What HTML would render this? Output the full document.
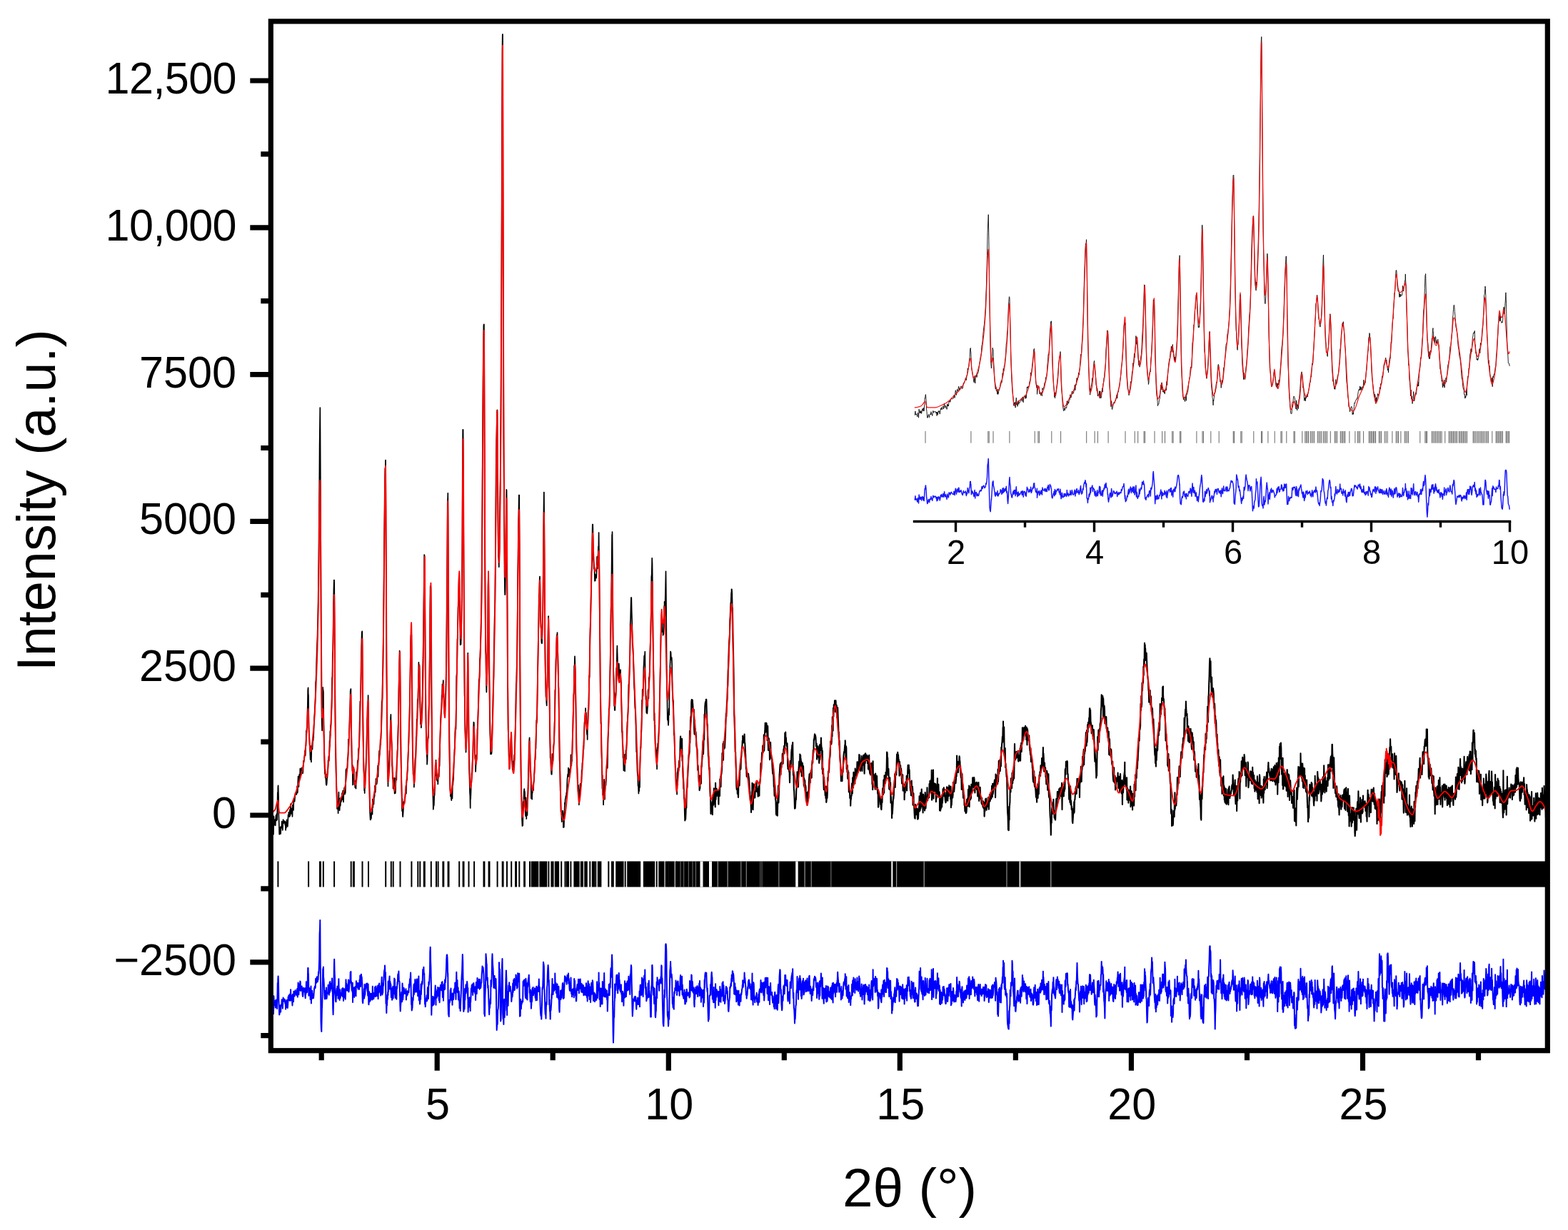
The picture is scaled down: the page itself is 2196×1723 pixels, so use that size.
<!DOCTYPE html>
<html lang="en"><head><meta charset="utf-8"><title>XRD Rietveld refinement plot</title>
<style>html,body{margin:0;padding:0;background:#fff}body{width:2196px;height:1723px;overflow:hidden}svg{display:block}</style></head>
<body>
<svg width="2196" height="1723" viewBox="0 0 2196 1723" role="img" aria-label="Rietveld refinement plot: Intensity (a.u.) versus 2θ (°)">
<rect x="0" y="0" width="2196" height="1723" fill="#fff"/>
<defs>
<clipPath id="cm"><rect x="379.3" y="29.9" width="1788.0000000000002" height="1441.8"/></clipPath>
<clipPath id="ci"><rect x="1279" y="40" width="837" height="692"/></clipPath>
<filter id="soft" x="-2%" y="-2%" width="104%" height="104%"><feGaussianBlur stdDeviation="0.4"/></filter>
</defs>
<g clip-path="url(#cm)" fill="none" stroke-linejoin="round" stroke-linecap="round">
<path id="obs" d="M379.5 1160.5L379.9 1149.2L380.3 1160.1L380.7 1158.1L381.1 1157.5L381.5 1161.7L381.8 1165.6L382.2 1154.1L382.6 1155.7L383 1168.8L383.4 1143.4L383.8 1150.6L384.2 1155.6L384.6 1148.8L385 1154.6L385 1153.2L385.3 1148L385.7 1156.4L386.1 1148.2L386.5 1142.5L386.9 1141.6L387.3 1149.4L387.7 1139.8L388.1 1148.6L388.5 1128.7L388.8 1110L389.2 1110.5L389.3 1103L389.6 1100.3L390 1115.1L390.4 1143.3L390.8 1153.5L391.2 1168.6L391.6 1168.7L391.6 1168.7L392 1161.5L392.3 1158.7L392.7 1165.5L393.1 1168L393.5 1158.6L393.9 1157.6L394.3 1159.6L394.7 1150.7L395.1 1158.1L395.5 1157.4L395.8 1163L396.2 1155.5L396.6 1148L397 1153.2L397.4 1153.2L397.8 1150.7L398.1 1151.3L398.2 1150L398.6 1150.4L399 1150.5L399.3 1155.7L399.7 1152.4L400.1 1163L400.5 1151.5L400.9 1159.8L401.3 1152.2L401.7 1148.3L402.1 1152.7L402.5 1148.8L402.8 1157.9L403.2 1152L403.6 1141.4L404 1144.2L404.4 1137.9L404.6 1144.2L404.8 1143.8L405.2 1144.2L405.6 1138.1L406 1134.2L406.3 1142.9L406.7 1137.1L407.1 1126.1L407.5 1137.1L407.9 1139.8L408.3 1132.5L408.7 1135.8L409.1 1138.1L409.5 1143.9L409.8 1127.7L410.2 1134.7L410.6 1130.1L411 1134.9L411.4 1119.4L411.8 1121L412.2 1118L412.6 1122.7L413 1117.6L413.3 1113.4L413.7 1110.8L414.1 1113L414.5 1113.2L414.9 1112.8L415.3 1112.8L415.7 1111.6L416.1 1101.3L416.5 1102.3L416.8 1110.2L417.2 1097L417.6 1087.7L418 1094L418.4 1102.1L418.8 1090.9L419.2 1084.8L419.6 1087.7L420 1091L420.3 1077.2L420.7 1076.4L421.1 1087.8L421.5 1081.8L421.9 1083.6L422.3 1080.4L422.7 1075.4L423.1 1077.9L423.5 1080.8L423.8 1083.5L424.2 1082.4L424.6 1075.5L425 1065.8L425.4 1067.8L425.8 1066L426.2 1061.2L426.6 1058.7L427 1051.6L427.3 1057.4L427.7 1058.3L428.1 1044.9L428.5 1044.9L428.9 1023.5L429.3 1027.3L429.7 1020L430.1 1018.9L430.5 997.9L430.8 990.5L431.2 966.6L431.6 963.4L431.7 971L432 974.6L432.4 1018.3L432.8 1027.8L433.2 1031.1L433.6 1041.2L434 1049.6L434.3 1054L434.7 1064.2L434.9 1064.2L435.1 1054.8L435.5 1045L435.9 1067.4L436.3 1049L436.7 1047L437.1 1042.1L437.5 1049.7L437.8 1043.8L438.2 1035.9L438.6 1037.3L439 1033L439.4 1025.1L439.8 1014.1L440.2 1004.6L440.6 999.2L441 990L441.3 985.6L441.7 976.3L442.1 955.6L442.5 952.6L442.9 942.6L443.3 926.1L443.7 913.6L444.1 901.8L444.5 893.8L444.8 881.8L445.2 863.4L445.6 845L446 811.4L446.4 781.8L446.8 737L447.2 690.2L447.6 623.8L448 595L448.3 571L448.3 571L448.7 646.5L449.1 729.9L449.5 841.9L449.9 914L450.3 974.4L450.7 1009.7L451 1019.5L451.1 1023.4L451.5 1010.2L451.8 988.9L452.2 962.8L452.3 965.6L452.6 966.6L452.9 969.7L453 988.9L453.4 1010.5L453.8 1032.2L454.2 1057.8L454.6 1075L455 1084.1L455.3 1077.8L455.7 1089.4L456.1 1088.7L456.5 1093.4L456.8 1099.2L456.9 1084.7L457.3 1099.9L457.7 1097.3L458.1 1089.8L458.5 1088.2L458.8 1083.3L459.2 1079.4L459.6 1065.3L460 1066.1L460.4 1059.3L460.8 1065.6L461.2 1055.4L461.6 1037.7L462 1045.2L462.3 1024.2L462.7 1030.7L463.1 1015.6L463.5 1014.6L463.9 998.1L464.3 992.9L464.7 975.8L465.1 950L465.5 947.8L465.8 917.4L466.2 911.7L466.6 888L467 850.7L467.4 827.3L467.8 812.6L468 812.6L468.2 817.4L468.6 870.9L469 923L469.3 989.6L469.7 1027.8L470.1 1056.4L470.5 1079L470.9 1092.1L471.3 1103.5L471.7 1114.5L472.1 1133.1L472.4 1123.9L472.5 1125.6L472.8 1133.2L473.2 1122.8L473.6 1139.3L474 1123.5L474.4 1109.7L474.8 1130.6L475.2 1123.9L475.6 1135.3L476 1128L476.3 1118.4L476.7 1128.9L477.1 1122.2L477.5 1123.6L477.9 1123L478.3 1118.8L478.7 1116.3L479.1 1111L479.5 1112.7L479.8 1120.5L480.2 1107.5L480.6 1107.5L481 1123.6L481.4 1108.6L481.8 1106.1L482.2 1103.4L482.6 1103.8L483 1112.7L483.3 1103.4L483.7 1111L484.1 1095.5L484.5 1078L484.9 1081.9L485.3 1076.5L485.7 1080.2L486.1 1078.7L486.5 1074.3L486.8 1062L487.2 1061.9L487.6 1054L488 1035.5L488.4 1044.6L488.8 1034.1L489.2 1020.4L489.6 1007.9L490 994.8L490.3 988.9L490.7 968L491.1 965.9L491.4 965.1L491.5 982.7L491.9 1010.2L492.3 1039.1L492.7 1063.2L493.1 1070.7L493.5 1079.8L493.8 1071.9L494 1099.5L494.2 1088L494.6 1087.2L495 1074.6L495.3 1076.1L495.4 1076.7L495.8 1078.2L496.2 1099L496.6 1097.7L497 1095.8L497.3 1103.3L497.6 1093.8L497.7 1094L498.1 1099.7L498.5 1104.7L498.9 1081.5L499.3 1085.5L499.7 1082.1L500.1 1080.1L500.5 1075.8L500.8 1065.5L501.2 1065.4L501.6 1063.7L502 1049.8L502.4 1048L502.8 1045.8L503.2 1037L503.6 1013L504 1003.9L504.3 982.5L504.7 984.7L505.1 971.8L505.5 945.9L505.9 918.3L506.3 902.3L506.7 886.4L507.1 884.4L507.3 884.4L507.5 907.7L507.8 954.1L508.2 1003.2L508.6 1036.8L509 1058.4L509.4 1078.4L509.8 1083.6L510.2 1107.5L510.6 1094.4L510.7 1111.1L511 1096.2L511.3 1104L511.7 1088.6L512.1 1082.1L512.5 1070.3L512.9 1057.7L513.3 1047.7L513.7 1028.9L514.1 1009.4L514.5 1003.5L514.8 988.7L515.2 989L515.5 981.3L515.6 974.1L516 1014.4L516.4 1061.2L516.8 1086.4L517.2 1095.9L517.6 1117.3L518 1135.3L518.3 1141.8L518.7 1148.5L519 1148.5L519.1 1140.2L519.5 1141.1L519.9 1146.7L520.3 1137.7L520.7 1139.9L521.1 1139.6L521.5 1140.7L521.8 1119.5L522.2 1131.3L522.6 1124.4L523 1120.9L523.4 1126.7L523.8 1118.6L524.2 1116.1L524.6 1115.4L525 1100.5L525.3 1109.4L525.7 1109.6L526.1 1101.1L526.5 1090.9L526.9 1092.7L527.3 1098.7L527.7 1097.8L528.1 1094.7L528.5 1089.4L528.8 1079.1L529.2 1072.3L529.6 1087.9L530 1069.7L530.4 1072.5L530.8 1057.2L531.2 1051.6L531.6 1058L532 1051.5L532.3 1049.9L532.7 1036.2L533.1 1043.1L533.5 1033.5L533.9 1023.1L534.3 1001.4L534.7 982.3L535.1 983.9L535.5 976.6L535.8 951.7L536.2 939L536.6 906.5L537 882.1L537.4 837.5L537.8 792.8L538.2 747.4L538.6 712.5L539 671.7L539.3 656L539.7 657.4L540 644.5L540.1 663.1L540.5 744L540.9 830.7L541.3 931.1L541.7 971.8L542.1 1016.9L542.5 1042L542.8 1081.2L543.2 1091.6L543.5 1101.5L543.6 1082.1L544 1094.4L544.4 1077.5L544.8 1071.3L545.2 1064L545.6 1051.6L546 1057.9L546.3 1032.9L546.7 1018.4L547.1 1005.2L547.4 1000.9L547.5 1008.9L547.9 1025.9L548.3 1036.8L548.7 1042.6L549.1 1072.1L549.5 1075.4L549.8 1090.4L550.2 1082.6L550.6 1104.7L551 1099.9L551.4 1101.4L551.8 1102.6L552.2 1089.8L552.4 1095.1L552.6 1111.6L553 1090.3L553.3 1109.7L553.7 1111.1L554.1 1104.9L554.5 1089.2L554.9 1081.5L555.3 1092.6L555.7 1068.7L556.1 1065.6L556.5 1051.5L556.8 1050.3L557.2 1032.7L557.6 1019.5L558 1008.8L558.4 968L558.8 952.3L559.2 928.9L559.6 911.7L560 921.2L560.1 918.7L560.3 942.6L560.7 988.8L561.1 1027.6L561.5 1062.2L561.9 1081.6L562.3 1097.5L562.7 1119.9L563.1 1136.2L563.5 1119.1L563.8 1126.9L563.8 1141.1L564.2 1144.2L564.6 1139L565 1131.9L565.4 1124.1L565.8 1122.8L566.2 1123.7L566.6 1125.1L567 1119.1L567.3 1118.6L567.7 1112.2L568.1 1109.2L568.5 1100.8L568.9 1111.7L569.3 1097.1L569.7 1092L570.1 1092.5L570.5 1081L570.8 1080L571.2 1069.5L571.6 1058.2L572 1048.2L572.4 1039.8L572.8 1017.7L573.2 1011.8L573.6 997.5L574 978.5L574.3 959.3L574.7 934.8L575.1 900.1L575.5 889.9L575.9 890.3L576.1 896L576.3 888.7L576.7 936.5L577.1 983.3L577.5 1022.4L577.8 1050.2L578.2 1065.2L578.6 1084.6L579 1085.4L579.4 1085.9L579.8 1087.9L579.8 1102.6L580.2 1097.2L580.6 1092.6L581 1079.7L581.3 1065.6L581.7 1061.3L582.1 1066.5L582.5 1046.1L582.9 1032.4L583.3 1031.6L583.7 1007.6L584.1 1015.8L584.5 995.9L584.8 979.5L585.2 991.8L585.6 973.4L586 955.6L586.4 927.9L586.8 952.3L587.2 932.7L587.5 935.8L587.6 942.1L588 968.6L588.3 989.5L588.7 1002L589.1 1014.7L589.5 1000.1L589.9 1019.5L590.1 1013.2L590.3 1011.3L590.7 1001.1L591.1 987.5L591.5 982.1L591.8 964.4L592.2 933.6L592.6 913.8L593 890L593.4 846.2L593.8 817.5L594.2 777.2L594.6 778.5L594.7 781.7L595 816.3L595.3 870.7L595.7 936.3L596.1 980.4L596.5 1012.4L596.9 1031.8L597.3 1046.8L597.7 1056.7L598.1 1063.2L598.1 1070.7L598.5 1065.7L598.8 1045.3L599.2 1035.4L599.6 1031.5L600 1033.5L600.4 997.2L600.8 986.7L601.2 963.9L601.6 933.2L602 903.7L602.3 854.1L602.7 821.2L603.1 824.5L603.4 821.9L603.5 828.6L603.9 883.9L604.3 983.2L604.7 1014.4L605.1 1049.8L605.5 1087L605.8 1103.6L606.2 1108.8L606.6 1122.8L606.8 1133.8L607 1131.4L607.4 1128.3L607.8 1128.2L608.2 1115.4L608.6 1113.9L609 1102.9L609.3 1089.1L609.7 1071.8L610.1 1073.7L610.5 1086.4L610.5 1064.9L610.9 1080.4L611.3 1078.2L611.7 1092.9L612.1 1090.1L612.5 1094.3L612.8 1094.5L613.2 1086.1L613.3 1098.4L613.6 1091.1L614 1086.2L614.4 1083.9L614.8 1087.9L615.2 1062L615.6 1073.2L616 1054.1L616.3 1036.8L616.7 1020.9L617.1 1008.6L617.5 1000.4L617.9 994.5L618.3 993.1L618.7 974.1L619.1 975.4L619.5 958.5L619.8 974.2L620.2 961.1L620.6 956.5L620.8 953L621 976.2L621.4 971.5L621.8 980.9L622.2 987.9L622.6 1000.2L623 989.8L623.1 1003.3L623.3 990.4L623.7 986.2L624.1 973.1L624.5 958.5L624.9 936L625.3 899.2L625.7 854.2L626.1 803.8L626.5 752.2L626.8 705.5L627.2 696.4L627.3 690.9L627.6 762.1L628 855.5L628.4 929.7L628.8 1004.1L629.2 1036.6L629.6 1063.7L630 1091.8L630.3 1106L630.7 1108.6L630.9 1115.5L631.1 1113.5L631.5 1107.6L631.9 1118.4L632.3 1121.1L632.7 1112.2L633.1 1106.8L633.5 1118.5L633.8 1098.1L634.2 1099.8L634.6 1095L635 1091.7L635.4 1080.3L635.8 1065L636.2 1059.8L636.6 1049.4L637 1048.4L637.3 1026.3L637.7 1019.2L638.1 1018L638.5 1021.6L638.9 985.5L639.3 947.1L639.7 944.9L640.1 931.2L640.5 895.4L640.8 895.4L641.2 870.6L641.6 850.6L642 848.7L642.4 824.2L642.8 807.9L643.2 815L643.3 811.5L643.6 832L644 859.9L644.3 874.9L644.7 903.3L645.1 902.4L645.5 898.2L645.5 902.7L645.9 890.5L646.3 867.2L646.7 841.8L647.1 806.3L647.5 740.7L647.8 666.1L648.2 601.9L648.5 601.9L648.6 602.3L649 690.3L649.4 781.8L649.8 855.1L650.2 916.8L650.6 973.7L651 979.8L651.3 1021.3L651.7 1031.5L652.1 1042.4L652.5 1041.7L652.5 1053.7L652.9 1046.3L653.3 1031.6L653.7 1017.5L654.1 994.9L654.5 970.4L654.8 941.7L655.2 931.1L655.3 914.8L655.6 961.6L656 992.3L656.4 1034.8L656.8 1062.3L657.2 1081.1L657.6 1091.6L658 1110.4L658.3 1114.2L658.7 1131.9L658.8 1116.5L659.1 1119.5L659.5 1109.6L659.9 1094.7L660.3 1096.5L660.7 1082.9L661.1 1083.6L661.5 1070.2L661.8 1063.8L662.2 1065.2L662.6 1039.6L663 1022.3L663.4 1011.6L663.8 1012.4L664.2 1026L664.6 1035.5L665 1048.9L665.3 1063L665.7 1058.8L666.1 1080.9L666.5 1071.1L666.7 1069.7L666.9 1058L667.3 1065L667.7 1063.4L668.1 1042.5L668.5 1021.2L668.8 1022L669.2 1009L669.6 997.7L670 984.6L670.4 965.9L670.8 951.7L671.2 952L671.6 945.9L672 922.2L672.3 922.6L672.7 910.3L673.1 899.2L673.5 883.3L673.9 861.7L674.3 842.7L674.7 800.9L675.1 753L675.5 692.6L675.8 639L676.2 579.5L676.6 524.1L677 483.1L677.4 455.5L677.8 454.3L677.9 454.3L678.2 528.1L678.6 626.2L679 736L679.3 806.1L679.7 869L680.1 912.6L680.5 917.2L680.9 951.2L681.3 967.5L681.4 969.6L681.7 955.1L682.1 952.1L682.5 929L682.8 896.9L683.2 871.9L683.6 821.1L684 805.8L684.4 836.2L684.8 895L685.2 949.8L685.6 974.1L686 1012.7L686.3 1027.9L686.7 1037.1L687.1 1056.4L687.5 1035.7L687.9 1049.1L687.9 1054.6L688.3 1056.1L688.7 1053.3L689.1 1033.3L689.5 1019.1L689.8 1012.1L690.2 994.5L690.6 971.5L691 956.5L691.4 948.5L691.8 910.5L692.2 892.2L692.6 867.6L693 856.2L693.3 840.1L693.7 797.1L694.1 743.1L694.5 685.4L694.9 639.7L695.3 615.5L695.7 598.9L696.1 576.2L696.4 574.3L696.5 578.8L696.8 642.5L697.2 696.2L697.6 750.8L698 779.4L698.4 784L698.8 794.3L699 769.4L699.2 780.3L699.6 768.5L700 728.3L700.3 697.7L700.7 669L701.1 623.2L701.5 561.1L701.9 485.6L702.3 397.3L702.7 283.5L703.1 161.6L703.5 69.3L703.8 48L704 48L704.2 140.2L704.6 306.3L705 468.6L705.4 616.6L705.8 678.9L706.2 733.3L706.6 801.4L707 829.3L707.2 833.1L707.3 833.1L707.5 833.1L707.7 824.5L708.1 792L708.5 754.8L708.9 710.2L709.3 685.8L709.5 686.9L709.7 703.5L710.1 800.4L710.5 852.4L710.8 927.4L711.2 964.7L711.6 1021.3L712 1030.4L712.4 1039.9L712.8 1060.3L713.2 1063.6L713.4 1077.5L713.6 1075.1L714 1073.8L714.3 1062.8L714.7 1056.7L715.1 1049L715.5 1036.7L715.9 1030.7L716 1029.1L716.3 1045.2L716.7 1053.2L717.1 1064.2L717.5 1074.5L717.8 1078.3L718.2 1066.4L718.6 1082L719 1075.5L719.2 1067.9L719.4 1070.6L719.8 1071L720.2 1057.2L720.6 1064.8L721 1052.5L721.3 1034.2L721.7 1019.1L722.1 1003.4L722.5 974.1L722.9 959.2L723.3 954.7L723.7 935.6L724.1 922.2L724.5 883L724.8 858.8L725.2 802.6L725.6 778.9L726 736.8L726.4 719.7L726.8 693.7L727.1 693.7L727.2 693.7L727.6 769L728 874.9L728.3 943.2L728.7 1009L729.1 1035.7L729.5 1080.7L729.9 1106.4L730.3 1116.7L730.7 1137.3L731.1 1148.7L731.4 1155L731.5 1157.1L731.8 1156.7L732.2 1156.5L732.6 1126.5L733 1122.7L733.4 1123.9L733.8 1109.3L734.2 1105.5L734.2 1105.1L734.6 1107.9L735 1109.5L735.3 1118.3L735.7 1137.2L736.1 1143.2L736.5 1117.4L736.9 1124L737.3 1147.1L737.5 1129.5L737.7 1136.8L738.1 1131.8L738.5 1142.1L738.8 1114.1L739.2 1113.3L739.6 1097.9L740 1082.7L740.4 1065.2L740.8 1045.2L741.2 1037.6L741.6 1033.4L741.7 1040.8L742 1040.6L742.3 1059.6L742.7 1080.9L743.1 1075.8L743.5 1088.6L743.9 1118.2L744.3 1117.2L744.7 1109.3L745.1 1119.8L745.5 1103.7L745.7 1111L745.8 1108.2L746.2 1104.3L746.6 1099.3L747 1107.3L747.4 1096.9L747.8 1094.6L748.2 1085.1L748.6 1080.2L749 1066.8L749.3 1064.9L749.7 1063.2L750.1 1049.7L750.5 1048.5L750.9 1028L751.3 1009.1L751.7 1013L752.1 1007.6L752.5 978.7L752.8 960.5L753.2 933.8L753.6 914L754 885.6L754.4 871L754.8 833.4L755.2 830L755.6 813.9L756 807.5L756.2 815.2L756.3 818.1L756.7 845.7L757.1 866.4L757.5 878.6L757.9 881.3L758.3 899.3L758.7 901.1L759 901.3L759.1 899.7L759.5 878.3L759.8 874L760.2 856.9L760.6 822.1L761 765.4L761.4 721.8L761.8 689.6L761.9 689.6L762.2 732.7L762.6 788.4L763 851.6L763.3 908.6L763.7 941.3L764.1 952.1L764.5 975.9L764.9 975L765.3 980.4L765.3 983.6L765.7 988.4L766.1 965.8L766.5 961.7L766.8 943.5L767.2 917.6L767.6 885.9L768 863.4L768.2 863.1L768.4 879L768.8 895.3L769.2 964.1L769.6 984.5L770 1025.3L770.3 1041.4L770.7 1062L771.1 1056.3L771.5 1071.3L771.9 1079.6L772.3 1084.6L772.5 1076.6L772.7 1085L773.1 1075.4L773.5 1056L773.8 1069.7L774.2 1068L774.6 1065.2L775 1045.9L775.4 1043.6L775.8 1040.8L776.2 1031.6L776.6 1013.1L777 1005.2L777.3 966.8L777.7 965.7L778.1 947.5L778.5 925.3L778.9 918.8L779.3 905.3L779.7 890.9L779.9 889.1L780.1 899.8L780.5 886L780.8 905.7L781.2 914.1L781.6 932.2L782 961.5L782.4 963.9L782.8 1002.3L783.2 1039.1L783.6 1064.8L784 1069.9L784.3 1083.8L784.7 1107.4L785.1 1110.6L785.5 1136.4L785.9 1137.6L786.3 1139.1L786.7 1151.3L787.1 1141.8L787.5 1141.1L787.8 1135.8L788.2 1135.8L788.6 1140.6L789 1159.2L789.4 1154.7L789.7 1153L789.8 1158.7L790.2 1146.2L790.6 1135.6L791 1124.3L791.3 1126.5L791.7 1119.6L792.1 1117.9L792.5 1115.2L792.9 1116.2L793.3 1110.3L793.7 1111.9L794.1 1101.5L794.5 1091.5L794.8 1088.4L795.2 1084.5L795.6 1088.1L796 1075.6L796.4 1087.3L796.8 1077.8L797.2 1079.8L797.6 1087.8L798 1087.4L798.3 1076.9L798.7 1081.4L799.1 1078.7L799.5 1057.3L799.9 1072.6L800.3 1072.4L800.7 1063.6L801.1 1066L801.5 1052L801.8 1034L802.2 1027.6L802.6 1005.7L803 990.5L803.4 972.7L803.8 971.3L804.2 932.7L804.6 933.3L805 919.4L805.3 928.1L805.3 929.5L805.7 937.5L806.1 966.6L806.5 992.5L806.9 1027.8L807.3 1049.3L807.7 1058.1L808.1 1068.8L808.5 1076.5L808.8 1091.5L809.2 1096L809.6 1109.1L810 1099.6L810.4 1105.4L810.8 1107.8L810.9 1127.3L811.2 1109.7L811.6 1120L812 1109.4L812.3 1106.9L812.7 1097.8L813.1 1103.6L813.5 1100.1L813.9 1100L814.3 1096.3L814.7 1078.8L815.1 1084.4L815.5 1068.3L815.8 1071L816.2 1067.6L816.6 1051.6L817 1045.1L817.4 1049.9L817.8 1035.1L818.2 1024.9L818.6 1011.5L819 1014L819.3 1005.9L819.7 1000.2L820.1 993.9L820.1 992L820.5 1008.2L820.9 998.4L821.3 1011.8L821.7 1022.4L822.1 1029.1L822.5 1022.7L822.7 1036L822.8 1017.2L823.2 1009.8L823.6 996.7L824 991.5L824.4 994.2L824.8 969.2L825.2 946L825.6 949.1L826 921.7L826.3 893.4L826.7 879.5L827.1 876.8L827.5 849.7L827.9 830.6L828.3 800.8L828.7 799.3L829.1 780.2L829.5 749.9L829.8 734.7L830.1 734.7L830.2 734.7L830.6 752.9L831 783L831.4 787.6L831.8 796.8L832.2 795.1L832.6 799.7L833 814L833.3 805L833.4 804.4L833.7 813.4L834.1 805.2L834.5 810.2L834.9 808.9L835.3 809L835.7 799L836.1 779.9L836.5 793.2L836.8 796.6L837.2 783L837.6 778.3L838 765.5L838.4 765.3L838.6 746L838.8 763.7L839.2 781.2L839.6 836.9L840 876.6L840.3 903.7L840.7 968L841.1 982.1L841.5 1013.6L841.9 1012.3L842.3 1053.4L842.7 1064L843.1 1079.7L843.5 1104.7L843.8 1086.3L844.2 1113.5L844.6 1105.1L845 1122.7L845.1 1127.4L845.4 1114.3L845.8 1113.2L846.2 1091.9L846.6 1118.4L847 1119.7L847.3 1110.8L847.7 1100.5L848.1 1095L848.5 1100.3L848.9 1092.7L849.3 1080.9L849.7 1071L850.1 1076.2L850.5 1063.4L850.8 1075.9L851.2 1053.8L851.6 1033.9L852 1026.6L852.4 1016.7L852.8 992.3L853.2 994.3L853.6 987.8L854 962.5L854.3 941.5L854.7 927.3L855.1 886.6L855.5 856L855.9 847.1L856.3 822.3L856.7 786.8L857.1 748.9L857.5 748.3L857.5 745L857.8 781.2L858.2 839.9L858.6 892.8L859 933.3L859.4 944.6L859.8 953.6L860.2 988.7L860.6 988.1L860.8 994.9L861 973.8L861.3 994.9L861.7 982.2L862.1 970.9L862.5 974L862.9 955.2L863.3 935.4L863.7 936.1L864.1 911L864.4 904.7L864.5 912.5L864.8 921.4L865.2 942.7L865.6 932.1L866 947.6L866.4 935L866.8 929.7L867.2 939.6L867.3 950.5L867.6 940.5L868 948L868.3 950.5L868.7 942.2L869 938L869.1 945.9L869.5 951.2L869.9 955.3L870.3 986.2L870.7 1001L871.1 1025.8L871.5 1024.2L871.8 1041.3L872.2 1043.2L872.6 1061.4L873 1058L873.4 1079.5L873.8 1067.3L874.2 1073.1L874.6 1076.1L875 1056.9L875.1 1080.3L875.3 1069.7L875.7 1067.6L876.1 1059.1L876.5 1050.8L876.9 1063.6L877.3 1048.6L877.7 1041.5L878.1 1022.4L878.5 1011.1L878.8 1011.2L879.2 1002.5L879.6 996.4L880 977.4L880.4 959.2L880.8 957.7L881.2 952.5L881.6 939.3L882 923.9L882.3 915.8L882.7 874.9L883.1 867.5L883.5 850.6L883.9 837.2L884 837.2L884.3 837.2L884.7 856.2L885.1 867.7L885.5 888.6L885.8 902.1L886.2 905.9L886.6 913.4L887 920.9L887.4 937.9L887.8 951.7L888.2 963L888.6 968.2L889 983.5L889.3 991.3L889.7 993.9L890.1 1003.9L890.5 1015.7L890.9 1036.5L891.3 1053.5L891.7 1052.7L892.1 1065.1L892.5 1079.2L892.8 1084.2L893.2 1087.3L893.6 1100.9L894 1100.2L894.4 1111.7L894.7 1105.1L894.8 1107.9L895.2 1108.1L895.6 1087.7L896 1103.1L896.3 1072.7L896.7 1055.4L897.1 1046.3L897.5 1048.2L897.9 1022.8L898.3 1026L898.7 1007.8L899.1 980.6L899.5 980.9L899.8 965.8L900.2 975.4L900.6 974.9L901 957.4L901.4 934.7L901.8 928.9L902.2 918.7L902.6 919.9L902.9 917.8L903 919.7L903.3 912.8L903.7 951.7L904.1 954.8L904.5 979.9L904.9 975L905.3 998.2L905.7 998.4L906.1 994.6L906.2 999.6L906.5 998.3L906.8 991.9L907.2 988.9L907.6 967.8L908 965.5L908.4 978.3L908.8 948.9L909.2 954.4L909.6 946L910 936.8L910.3 916L910.7 901.9L911.1 894.6L911.5 872.4L911.9 858.3L912.3 808.2L912.7 804.9L913.1 788.9L913.2 781.9L913.5 789.3L913.8 814.4L914.2 861.4L914.6 898.9L915 931L915.4 944.7L915.8 975.8L916.2 1008.9L916.6 999.2L917 1018.4L917.3 1015.7L917.7 1041.8L918.1 1046.9L918.5 1050.3L918.9 1064.9L919.3 1061.3L919.7 1050.8L919.7 1055.3L920.1 1077.3L920.5 1047.1L920.8 1049.8L921.2 1041.6L921.6 1042.4L922 1035L922.4 1028.3L922.8 1019.4L923.2 1016.9L923.6 987.9L924 976.9L924.3 956.6L924.7 937L925.1 920.3L925.5 893.3L925.9 884L926.3 862.1L926.7 859.9L926.7 865.1L927.1 884.6L927.5 869.4L927.8 884.3L928.2 885.1L928.6 887.9L928.6 890L929 886.3L929.4 888.1L929.8 877.8L930.2 848.8L930.6 849.4L930.6 842.9L931 861.4L931.3 863.7L931.7 839.7L932.1 823.9L932.5 800.3L932.5 800.3L932.9 832.8L933.3 886.8L933.7 936.4L934.1 971.7L934.5 983.8L934.8 1007.7L935.2 1009.1L935.6 1008.7L936 1016L936.3 1011.5L936.4 999.8L936.8 992.5L937.2 1001.6L937.6 962.5L938 952.1L938.3 934.2L938.7 927L939.1 912.6L939.5 922.5L939.5 913.9L939.9 921.7L940.3 923.9L940.7 921L941.1 929.1L941.5 953.1L941.8 968.4L942.2 970.4L942.6 982.9L943 981.2L943.4 999L943.8 1029.4L944.2 1022L944.6 1036.7L945 1052.9L945.3 1058.8L945.7 1071.8L946.1 1086.2L946.5 1082L946.9 1097.6L947.3 1101.5L947.5 1104.4L947.7 1096.9L948.1 1112.8L948.5 1092.5L948.8 1099L949.2 1081.2" stroke="#000" stroke-width="1.7"/>
<path id="obs2" d="M948.8 1099L949.2 1081.2L949.6 1076.2L950 1077.6L950.4 1079.6L950.8 1069.9L951.2 1065.5L951.6 1074.6L952 1061.4L952.3 1059.2L952.7 1038.7L953.1 1031.6L953.5 1045.8L953.9 1042.2L954.2 1048L954.3 1036.6L954.7 1035.9L955.1 1034.9L955.5 1065.8L955.8 1058.4L956.2 1075.3L956.6 1087.8L957 1092.7L957.4 1104.8L957.8 1105.8L958.2 1119L958.6 1119.1L959 1138.6L959.3 1149.4L959.5 1146.1L959.7 1136.1L960.1 1147.6L960.5 1138.5L960.9 1123.8L961.3 1131.7L961.7 1108.1L962.1 1104.2L962.5 1103L962.8 1091L963.2 1086.6L963.6 1078.4L964 1070.9L964.4 1062.1L964.8 1057.3L965.2 1057L965.6 1052.9L966 1023.9L966.3 1040.6L966.7 1026.4L967.1 1009.1L967.5 1003.6L967.9 1009.6L968.3 983.4L968.7 980L969.1 991.4L969.5 995.6L969.8 980.5L970.2 986.7L970.4 989L970.6 994.7L971 996.3L971.4 994.7L971.8 993.9L972.2 1021L972.6 1028.4L973 1008.8L973.3 1027.3L973.7 1020.7L974.1 1029.5L974.5 1025.2L974.9 1031.3L975.3 1043.5L975.7 1046.7L976.1 1048L976.5 1050.2L976.8 1066.1L977.2 1078.6L977.6 1072.5L978 1079.1L978.4 1085.1L978.8 1095.7L979.2 1087.3L979.6 1107.1L979.9 1099L980 1086.9L980.3 1104.8L980.7 1092.1L981.1 1089.4L981.5 1086.2L981.9 1097.6L982.3 1072.9L982.7 1074.2L983.1 1066.1L983.5 1061.9L983.8 1058.4L984.2 1044.6L984.6 1037.9L985 1056.3L985.4 1041.4L985.8 1029.4L986.2 1036.2L986.6 1000.7L987 1008.6L987.3 990.2L987.7 985.3L988.1 983.1L988.5 986.4L988.7 981.8L988.9 979.8L989.3 979.8L989.7 995.4L990.1 1006.9L990.5 1016.5L990.8 1015.2L991.2 1032.2L991.6 1047.7L992 1059.3L992.4 1059.7L992.8 1071.7L993.2 1077.9L993.6 1075.5L994 1091.9L994.3 1106.6L994.7 1115.4L995.1 1113.7L995.5 1140L995.8 1129.7L995.9 1135.4L996.3 1132.5L996.7 1131.6L997.1 1132.3L997.5 1123.4L997.8 1141.2L998.2 1121.1L998.6 1116.8L999 1127.8L999.4 1126.9L999.8 1104.4L1000.2 1124.3L1000.6 1119.5L1001 1121.7L1001.3 1120L1001.5 1120.1L1001.7 1130.5L1002.1 1096.9L1002.5 1119.9L1002.9 1111.7L1003.3 1115.3L1003.7 1104.9L1004.1 1110.1L1004.5 1107.1L1004.8 1107.1L1005.2 1109.6L1005.6 1115.6L1006 1108.8L1006.4 1126.8L1006.8 1107L1007.2 1106.1L1007.6 1106.2L1008 1115L1008.3 1091.3L1008.7 1102.2L1009.1 1088.2L1009.5 1102.3L1009.9 1085.6L1010.3 1084.9L1010.7 1081.8L1011.1 1077L1011.5 1055L1011.8 1065L1012.2 1058.7L1012.6 1041.9L1013 1064.8L1013.4 1039.1L1013.8 1049.4L1014.2 1047.4L1014.6 1041.7L1015 1047.8L1015.3 1041.1L1015.7 1033.2L1016.1 1023.6L1016.5 1008.3L1016.9 999.3L1017.3 1003.6L1017.7 991L1018.1 982.6L1018.5 978.5L1018.8 965.1L1019.2 960.5L1019.6 940.9L1020 935.5L1020.4 922.1L1020.8 909.2L1021.2 898.9L1021.6 894.4L1022 888.7L1022.3 869.3L1022.7 863.8L1023.1 855.1L1023.5 844.6L1023.9 843.3L1024.3 830.6L1024.7 829.2L1024.7 825.6L1025.1 831.5L1025.5 850.7L1025.8 852.5L1026.2 871.5L1026.6 897.1L1027 913L1027.4 935.2L1027.8 962.3L1028.2 1000.8L1028.6 1005L1029 1020L1029.3 1027.7L1029.7 1053.5L1030.1 1053.3L1030.5 1067.8L1030.9 1078.4L1031.3 1100.4L1031.7 1105.8L1032.1 1097.1L1032.5 1103.5L1032.8 1112L1032.9 1103.4L1033.2 1108.9L1033.6 1111.7L1034 1117L1034.4 1093.5L1034.8 1097.5L1035.2 1089.9L1035.6 1100.5L1036 1086.9L1036.3 1077L1036.7 1078L1037.1 1078L1037.5 1076.5L1037.9 1061.7L1038.3 1060.3L1038.7 1053.8L1039.1 1047.2L1039.5 1044.2L1039.8 1037.6L1040.2 1037.4L1040.2 1030.9L1040.6 1040.9L1041 1040.1L1041.4 1034.1L1041.8 1038.5L1042.2 1039.3L1042.6 1028.6L1043 1041L1043.3 1041.1L1043.7 1049.5L1044.1 1056.8L1044.5 1065.3L1044.9 1076.9L1045.3 1077.2L1045.7 1087.6L1046.1 1081.7L1046.5 1088.4L1046.8 1087.2L1047.2 1083.6L1047.6 1090L1048 1083.7L1048.4 1087L1048.8 1089.6L1049.2 1094.3L1049.6 1102.5L1050 1112.2L1050.3 1109.1L1050.7 1118.4L1051.1 1121.9L1051.5 1120.6L1051.9 1134.1L1052 1138L1052.3 1126.1L1052.7 1115.1L1053.1 1118.7L1053.5 1096.9L1053.8 1132.9L1054.2 1124.5L1054.6 1134.1L1055 1120.9L1055.4 1098.2L1055.8 1098.8L1056.2 1117.4L1056.6 1111.3L1057 1114.2L1057.3 1117.4L1057.7 1108.7L1058.1 1108.9L1058.5 1105.5L1058.9 1104.1L1059.3 1100.9L1059.7 1096.2L1060 1107.5L1060.1 1108.9L1060.5 1107.6L1060.8 1104.8L1061.2 1109.3L1061.6 1115.6L1062 1111.8L1062.4 1102L1062.8 1114.6L1063.2 1099.8L1063.4 1114.7L1063.6 1097.9L1064 1095.3L1064.3 1097.6L1064.7 1091.8L1065.1 1088.6L1065.5 1069.3L1065.9 1080.1L1066.3 1077.2L1066.7 1064.1L1067.1 1054.2L1067.5 1056.1L1067.8 1056.5L1068.2 1044.5L1068.6 1054.3L1069 1051L1069.4 1051L1069.8 1029.4L1070.2 1051.8L1070.6 1041.8L1071 1027.4L1071.3 1023.7L1071.7 1012.7L1072 1020.1L1072.1 1025.8L1072.5 1012.7L1072.9 1013.1L1073.3 1012.8L1073.7 1014.6L1074.1 1020.4L1074.5 1037.3L1074.8 1036.9L1075.2 1017.1L1075.6 1034.2L1076 1050.9L1076.4 1039.1L1076.8 1034.4L1077.2 1040.6L1077.6 1045.1L1078 1064.2L1078.3 1048.1L1078.7 1051.3L1079.1 1039.7L1079.5 1054.3L1079.9 1057L1080.3 1062.5L1080.7 1062.8L1081.1 1062.8L1081.5 1071.8L1081.8 1077.8L1082.2 1083.7L1082.6 1076.9L1083 1084.4L1083.4 1088.6L1083.8 1102.3L1084.2 1101.8L1084.6 1114.6L1085 1098.1L1085.3 1101.1L1085.7 1111.7L1086.1 1120.5L1086.5 1121L1086.9 1139.8L1087.3 1141.6L1087.7 1124L1087.8 1140.1L1088.1 1131.9L1088.5 1134.1L1088.8 1142.8L1089.2 1125.6L1089.6 1109.3L1090 1100.6L1090.4 1124.5L1090.8 1112.9L1091.2 1101.4L1091.6 1085.7L1092 1080.3L1092.3 1074.2L1092.7 1070.4L1093.1 1083.3L1093.5 1085L1093.9 1068.4L1094.3 1075.1L1094.7 1070.6L1095.1 1071L1095.5 1068.5L1095.8 1055.8L1096.2 1067.2L1096.6 1069.7L1097 1058.7L1097.4 1049.5L1097.8 1049.3L1098.2 1044.7L1098.6 1055.3L1099 1043.9L1099.3 1026.7L1099.7 1034.5L1100.1 1038.2L1100.2 1025.5L1100.5 1039.9L1100.9 1033.2L1101.3 1041.7L1101.7 1045.3L1102.1 1045.6L1102.5 1041.2L1102.8 1052.7L1103.2 1072.2L1103.6 1077.3L1104 1074.8L1104.4 1076.9L1104.8 1073.4L1105.2 1081L1105.6 1081.5L1106 1096.3L1106.3 1082.8L1106.3 1077.9L1106.7 1065.8L1107.1 1067.7L1107.5 1066.8L1107.9 1070.1L1108.3 1054.9L1108.7 1049.8L1109.1 1048.2L1109.2 1045.5L1109.5 1043.5L1109.8 1047.5L1110.2 1040.1L1110.6 1072.3L1111 1085.9L1111.4 1081.4L1111.8 1104.6L1112.2 1108.3L1112.6 1118.1L1113 1132.7L1113.3 1126.6L1113.6 1128.7L1113.7 1132.1L1114.1 1126.2L1114.5 1118.6L1114.9 1120.1L1115.3 1105.7L1115.7 1102.5L1115.9 1101.3L1116.1 1102.3L1116.5 1081.4L1116.8 1088.8L1117.2 1099.1L1117.6 1081.9L1118 1102.5L1118.4 1079L1118.8 1073.5L1119.2 1066.6L1119.6 1073.4L1120 1078L1120.3 1056.5L1120.7 1060.8L1121.1 1057.7L1121.5 1069.2L1121.6 1062.9L1121.9 1081.7L1122.3 1066.2L1122.7 1087.5L1123.1 1081.4L1123.5 1086.7L1123.8 1068.9L1124.2 1072.3L1124.6 1085.4L1125 1073.1L1125.4 1083.3L1125.8 1100.5L1126.2 1090.1L1126.6 1102.8L1127 1092.5L1127.3 1094.4L1127.7 1107.2L1128.1 1100.1L1128.5 1102.7L1128.9 1121.6L1129.3 1114L1129.7 1121.6L1130.1 1124.6L1130.5 1110.1L1130.5 1127.9L1130.8 1124.3L1131.2 1120.3L1131.6 1112.9L1132 1108.3L1132.4 1118L1132.8 1096.7L1133.2 1089.4L1133.6 1084.2L1134 1094.4L1134.3 1095.8L1134.7 1096.4L1135.1 1082.2L1135.5 1082.3L1135.9 1079.4L1136.3 1080.8L1136.7 1089.6L1137.1 1071.5L1137.5 1067L1137.8 1064.7L1138.2 1068.7L1138.6 1056L1139 1050.7L1139.4 1053.6L1139.8 1035.6L1140.2 1036.6L1140.6 1032.1L1141 1028.4L1141.2 1033.3L1141.3 1032.5L1141.7 1029.6L1142.1 1030.9L1142.5 1033.5L1142.9 1045.5L1143.3 1041.7L1143.7 1041.8L1144.1 1063.6L1144.5 1057.9L1144.8 1056.6L1145.2 1057.8L1145.6 1045.2L1146 1050.6L1146.4 1060.9L1146.8 1060.3L1147.2 1068.9L1147.6 1063.8L1148 1043.4L1148.3 1063.9L1148.7 1043.2L1149.1 1051.3L1149.2 1047L1149.5 1044.6L1149.9 1033.6L1150.3 1045L1150.7 1047.5L1151.1 1048.1L1151.5 1077.7L1151.8 1051.6L1152.2 1083.9L1152.6 1082L1153 1076.7L1153.4 1096.8L1153.8 1106.1L1154.2 1088.9L1154.6 1104.8L1155 1099.4L1155.3 1106.3L1155.7 1114.3L1156.1 1102L1156.5 1118.3L1156.9 1101.5L1157.2 1123.6L1157.3 1124L1157.7 1120.3L1158.1 1110.9L1158.5 1118L1158.8 1110.6L1159.2 1089.4L1159.6 1093.7L1160 1080.6L1160.4 1080.7L1160.8 1082.2L1161.2 1077.9L1161.6 1065.2L1162 1061.1L1162.3 1061.1L1162.7 1057.4L1163.1 1038.6L1163.5 1038.7L1163.9 1041.3L1164.3 1042.6L1164.7 1039.2L1165.1 1016.3L1165.5 1031.4L1165.8 1004.2L1166.2 1021.9L1166.6 1023.4L1167 991.8L1167.4 1003.7L1167.8 987L1168.2 991.5L1168.6 993.3L1169 981.4L1169.3 988.7L1169.7 981.8L1169.8 985.3L1170.1 997.2L1170.5 981.4L1170.9 990.1L1171.3 989.5L1171.7 988.1L1172.1 1005.3L1172.5 993.9L1172.8 997.4L1173.2 991.2L1173.6 1003.9L1174 1012.1L1174.4 1024.5L1174.8 1025.7L1175.2 1043.4L1175.6 1037.5L1176 1050.6L1176.3 1060.4L1176.7 1065.7L1177.1 1070L1177.5 1078L1177.9 1094.2L1178.3 1078.5L1178.7 1089.9L1178.8 1087.7L1179.1 1089.4L1179.5 1094.1L1179.8 1081.4L1180.2 1082.3L1180.6 1081.2L1181 1069.2L1181.4 1059.7L1181.8 1055.4L1182.2 1052.7L1182.6 1053.3L1183 1046.9L1183.3 1043.4L1183.5 1053.5L1183.7 1037.3L1184.1 1045.7L1184.5 1060.8L1184.9 1045.3L1185.3 1047.6L1185.7 1077.2L1186.1 1073L1186.5 1081.5L1186.8 1072.1L1187.2 1090.7L1187.6 1079L1188 1083L1188.4 1081.7L1188.8 1109.5L1189.2 1106.7L1189.6 1108.7L1190 1106.1L1190.3 1118L1190.7 1116.3L1191.1 1119.3L1191.2 1128.7L1191.5 1121L1191.9 1119.7L1192.3 1114.6L1192.7 1114.4L1193.1 1097.4L1193.5 1097.2L1193.8 1111.4L1194.2 1089.3L1194.6 1097.8L1195 1103.6L1195.4 1081.9L1195.8 1090.1L1196.2 1085.9L1196.6 1088.1L1197 1085.8L1197.3 1097.6L1197.7 1076.5L1198.1 1086.4L1198.5 1079.4L1198.9 1079.2L1199.3 1085.3L1199.7 1087L1200.1 1078.3L1200.5 1067.4L1200.8 1082.1L1201.2 1081.8L1201.6 1076.6L1202 1081.7L1202.4 1067.1L1202.8 1073.2L1203.2 1057L1203.6 1073.8L1204 1057.7L1204.3 1078.2L1204.7 1071L1205.1 1080L1205.5 1074L1205.9 1072.8L1206.3 1065.2L1206.7 1059.1L1207.1 1071.2L1207.5 1079.9L1207.8 1068.6L1208.2 1069.5L1208.6 1071.5L1209 1060.6L1209.4 1057.7L1209.8 1070.9L1210.2 1070.1L1210.6 1083.7L1211 1068L1211.3 1056.2L1211.7 1069.3L1212.1 1055.3L1212.5 1057.3L1212.9 1058.2L1213.3 1058.8L1213.7 1065.1L1214.1 1057.7L1214.5 1058.5L1214.8 1065L1215 1069.1L1215.2 1060.1L1215.6 1059.8L1216 1077.5L1216.4 1067.4L1216.8 1074.5L1217.2 1057.8L1217.6 1078.7L1218 1081.1L1218.3 1083.6L1218.7 1069.9L1219.1 1085.5L1219.5 1073L1219.9 1082.7L1220.3 1069.5L1220.7 1068.8L1221.1 1073.3L1221.5 1098.3L1221.8 1095.7L1222.2 1106.3L1222.6 1066.4L1223 1092.1L1223.4 1091.6L1223.8 1088.9L1224.2 1085.4L1224.6 1093.5L1225 1091.6L1225.3 1093.7L1225.7 1105.6L1226.1 1083.6L1226.5 1086.2L1226.9 1101.3L1227.3 1104.2L1227.7 1090.2L1228.1 1087.1L1228.5 1106.5L1228.8 1103.1L1229.2 1111.8L1229.6 1107.1L1230 1130.7L1230.4 1129.9L1230.8 1110.9L1231.2 1117.8L1231.6 1115.3L1232 1119.8L1232.3 1117.7L1232.7 1122.2L1233.1 1127L1233.5 1123.6L1233.9 1132.6L1234.3 1116.6L1234.4 1134.3L1234.7 1128.8L1235.1 1116.9L1235.5 1124.3L1235.8 1111.2L1236.2 1104.3L1236.6 1106.6L1237 1113.3L1237.4 1092.6L1237.8 1101.6L1238.2 1110.8L1238.6 1086.3L1239 1098.9L1239.3 1093.6L1239.7 1089L1240.1 1096.8L1240.5 1081.7L1240.9 1093.2L1241.3 1085.4L1241.7 1075.1L1242.1 1053.6L1242.5 1059.8L1242.6 1054.6L1242.8 1066.8L1243.2 1061.4L1243.6 1086.1L1244 1076.9L1244.4 1077L1244.8 1089.7L1245.2 1104.8L1245.6 1105.7L1246 1091.3L1246.3 1089.2L1246.7 1106.8L1247.1 1096.5L1247.5 1124.6L1247.9 1115.8L1248.3 1124.1L1248.7 1123.1L1249.1 1145.9L1249.3 1127.4L1249.5 1134.5L1249.8 1140L1250.2 1132.8L1250.6 1125.7L1251 1115.9L1251.4 1118.9L1251.8 1113.6L1252.2 1101.4L1252.6 1098.1L1253 1090.3L1253.3 1084L1253.7 1103L1254.1 1086.7L1254.5 1081.4L1254.9 1079.9L1255.3 1085.4L1255.7 1068L1256.1 1056.5L1256.5 1067.4L1256.8 1068.8L1257.2 1053.9L1257.6 1058.3L1257.9 1057.6L1258 1057.3L1258.4 1064.4L1258.8 1064L1259.2 1073.2L1259.6 1086.8L1260 1067L1260.3 1076L1260.7 1081.3L1261.1 1072.1L1261.5 1085.2L1261.9 1076.2L1262.3 1079.1L1262.7 1088.7L1263.1 1097.5L1263.5 1085.5L1263.9 1089.3L1264.2 1085.3L1264.6 1107.6L1265 1098.7L1265.4 1097.9L1265.8 1098.6L1266.2 1101.3L1266.4 1100L1266.6 1120.3L1267 1103.8L1267.4 1105.2L1267.7 1110.4L1268.1 1095.5L1268.5 1097.5L1268.9 1101.7L1269.3 1101.9L1269.7 1086.9L1270.1 1107.4L1270.5 1086.3L1270.9 1092.5L1271.2 1081.1L1271.6 1071.7L1272 1073.4L1272.2 1082.9L1272.4 1072.1L1272.8 1071.7L1273.2 1081.7L1273.6 1078.4L1274 1094.6L1274.4 1094.4L1274.7 1102.7L1275.1 1107.3L1275.5 1106.1L1275.9 1114.1L1276.3 1110.3L1276.7 1093.5L1277.1 1106.4L1277.5 1115L1277.9 1101.7L1278.2 1105.9L1278.6 1127.8L1279 1127.5L1279.4 1111.2L1279.8 1127.1L1280.2 1129.7L1280.6 1138.5L1281 1145.9L1281.4 1130.3L1281.7 1146.8L1281.7 1136.9L1282.1 1126.7L1282.5 1136.5L1282.9 1141.2L1283.3 1133.2L1283.7 1132.4L1284.1 1139.2L1284.5 1132.6L1284.9 1143.7L1285.2 1147.6L1285.6 1137.7L1286 1146.8L1286.4 1137.4L1286.8 1132.7L1287.2 1129.5L1287.6 1115.4L1288 1136.5L1288.4 1132.1L1288.4 1131.4L1288.7 1135.1L1289.1 1110.6L1289.5 1132.3L1289.9 1127.6L1290.3 1126.7L1290.7 1105.6L1291.1 1126.8L1291.5 1129.8L1291.9 1113.2L1292.2 1127.6L1292.6 1138.5L1293 1112.6L1293.4 1114L1293.8 1132.8L1294.2 1131.6L1294.6 1122.6L1295 1130.5L1295 1135.5L1295.4 1133.5L1295.7 1110L1296.1 1115.5L1296.5 1132.1L1296.9 1124L1297.3 1120.8L1297.7 1122.9L1298.1 1119.1L1298.5 1103.4L1298.9 1121.1L1299.2 1120.9L1299.6 1114.1L1300 1118.2L1300.4 1115.3L1300.8 1114.1L1301.2 1117.2L1301.6 1098.1L1302 1111.4L1302.4 1093.9L1302.7 1109.7L1303.1 1108.8L1303.5 1098.2L1303.9 1101.3L1304.3 1091.6L1304.6 1092.5L1304.7 1078.9L1305.1 1120.8L1305.5 1105.4L1305.9 1097.5L1306.2 1099.3L1306.6 1098.7L1307 1078.6L1307.4 1118.8L1307.8 1096.8L1308.2 1105.6L1308.6 1105.2L1309 1097.9L1309.4 1108.1L1309.7 1101.9L1310.1 1098.1L1310.5 1098.8L1310.9 1123.2L1311.3 1113L1311.7 1117.8L1312.1 1113.3L1312.5 1108.4L1312.9 1090.2L1313.2 1112.5L1313.6 1110.5L1314 1110.6L1314.4 1098.7L1314.8 1116.9L1315.2 1110.5L1315.6 1109.3L1316 1113L1316 1135.4L1316.4 1130.8L1316.7 1115.6L1317.1 1135.6L1317.5 1123L1317.9 1132.9L1318.3 1116.7L1318.7 1119.4L1319.1 1130.5L1319.5 1119L1319.9 1124.7L1320.2 1120L1320.6 1105.2L1321 1113L1321.4 1112.7L1321.8 1103.4L1322.2 1115.3L1322.6 1105.9L1323 1113.5L1323.4 1114.7L1323.7 1119.7L1324.1 1123.2L1324.5 1124.3L1324.9 1122.8L1325.3 1110.4L1325.5 1110.4L1325.7 1119.6L1326.1 1102.2L1326.5 1116.6L1326.9 1114.2L1327.2 1121.8L1327.6 1117.3L1328 1103.4L1328.4 1106.8L1328.8 1115.3L1329.2 1100.4L1329.6 1110.9L1330 1109.8L1330.4 1102.1L1330.7 1107L1331.1 1113.5L1331.3 1119.6L1331.5 1101.5L1331.9 1131.2L1332.3 1118.1L1332.7 1127.7L1333.1 1119L1333.5 1107.8L1333.9 1117.2L1334.2 1117.4L1334.6 1113.3L1335 1095.7L1335.4 1098.3L1335.8 1104.9L1336.2 1109L1336.6 1104L1337 1095L1337.4 1096.5L1337.7 1092.6L1338.1 1097.2L1338.5 1097.2L1338.9 1092.8L1339.3 1080.1L1339.7 1087.6L1340.1 1058.5L1340.5 1072.8L1340.9 1070.7L1341.2 1066.7L1341.6 1081.9L1342 1082.1L1342.4 1074.1L1342.8 1067.2L1343.2 1067.6L1343.6 1059.2L1344 1061.8L1344 1065.5L1344.4 1066.1L1344.7 1075.1L1345.1 1073L1345.5 1085.1L1345.9 1089.5L1346.3 1082L1346.7 1106L1347.1 1084.9L1347.5 1084.3L1347.9 1105.7L1348.2 1098.4L1348.6 1105.5L1349 1117.8L1349.4 1110.8L1349.8 1113.4L1350.2 1113.5L1350.6 1127.9L1351 1127.6L1351.4 1136.4L1351.7 1125.6L1352.1 1135.5L1352.5 1127.8L1352.6 1139.1L1352.9 1131.8L1353.3 1138.7L1353.7 1136.1L1354.1 1119.9L1354.5 1128.7L1354.9 1126.3L1355.2 1118.3L1355.6 1129.1L1356 1105.9L1356.4 1126.1L1356.8 1121.9L1357.2 1100.5L1357.6 1130.3L1358 1101.7L1358.4 1111.5L1358.7 1109.3L1359.1 1120.3L1359.5 1109L1359.9 1118.6L1360.3 1098.7L1360.7 1106.6L1361.1 1107.7L1361.5 1104.3L1361.9 1099.9L1362.2 1089.4L1362.6 1093.1L1363 1101.3L1363.4 1101.8L1363.8 1103.1L1364.2 1089L1364.6 1092.1L1365 1105.5L1365.4 1110.5L1365.7 1099.1L1366.1 1104.3L1366.5 1096.5L1366.9 1102.6L1367.3 1099.6L1367.7 1097L1367.9 1095.7L1368.1 1106.2L1368.5 1099.3L1368.9 1110L1369.2 1115.5L1369.6 1104.6L1370 1097.3L1370.4 1096.1L1370.8 1108.3L1371.2 1122L1371.6 1106.5L1372 1111.4L1372.4 1105.6L1372.7 1102.9L1373.1 1115.8L1373.5 1119.1L1373.9 1117.9L1374.3 1121.7L1374.7 1125.7L1375.1 1117.8L1375.5 1126.9L1375.9 1124.9L1376.2 1126.8L1376.6 1130.4L1377 1122.2L1377.4 1132L1377.8 1130.2L1378.2 1124.3L1378.4 1132.6L1378.6 1143.6L1379 1136.4L1379.4 1136.6L1379.7 1127.7L1380.1 1119.2L1380.5 1130.1L1380.9 1131.9L1381.3 1118.6L1381.7 1134.8L1382.1 1126.5L1382.5 1124.8L1382.9 1128.8L1383.2 1130L1383.6 1127.3L1384 1117L1384.4 1124.6L1384.8 1133.7L1385.2 1126.4L1385.6 1120.5L1386 1113L1386.4 1119.2L1386.7 1122.3L1387.1 1110.8L1387.5 1112.3L1387.9 1115.4L1388.3 1119L1388.7 1110.4L1389.1 1100.9L1389.5 1114.2L1389.9 1116.2L1390.2 1097.8L1390.6 1112.4L1391 1109.5L1391.4 1100.1L1391.8 1099.9L1392.2 1097.1L1392.6 1095.8L1393 1092.5L1393.4 1096.9L1393.7 1102L1394.1 1117.1L1394.5 1084.6L1394.9 1087.6L1395.3 1088.2L1395.7 1092.4L1396.1 1098.2L1396.5 1086.4L1396.9 1089.4L1397.2 1098.1L1397.6 1077.6L1398 1094.9L1398.4 1085.1L1398.8 1065.8L1399.2 1083.8L1399.6 1073.9L1400 1064.9L1400.4 1071.2L1400.7 1080.2L1401.1 1070.8L1401.5 1064.9L1401.9 1073.5L1402.3 1046.8L1402.7 1051.1L1403.1 1042.4L1403.5 1039.3L1403.9 1031.7L1404.1 1033.4L1404.2 1039.8L1404.6 1018.9L1405 1022.7L1405 1010.6L1405.4 1033.4L1405.8 1027.8L1406.2 1018.6L1406.6 1053.6L1407 1059.5L1407.4 1054.5L1407.7 1048.1L1408.1 1075.1L1408.5 1069.2L1408.9 1075.2L1409.3 1083.5L1409.7 1088.5L1410.1 1086.6L1410.5 1107L1410.9 1131.6L1411.2 1138.9L1411.6 1144L1412 1162.6L1412.1 1158.4L1412.4 1157.2L1412.8 1163.1L1413.2 1129.8L1413.6 1148.6L1413.6 1134L1414 1128L1414.4 1123.4L1414.7 1102.5L1415.1 1106.4L1415.5 1109.5L1415.9 1090.4L1416.3 1092.5L1416.7 1102.5L1417.1 1104L1417.5 1082.8L1417.9 1088.8L1418.2 1097.3L1418.6 1079.4L1419 1093L1419.4 1085L1419.8 1083.8L1420.2 1090.6L1420.6 1066.9L1421 1042L1421.4 1062L1421.7 1061.3L1422.1 1064.3L1422.5 1060.8L1422.9 1056.6L1423.3 1053.1L1423.7 1061.6L1424.1 1057.4L1424.5 1059.8L1424.9 1054.5L1425.2 1052.4L1425.6 1052.2L1426 1065.5L1426.4 1066.6L1426.8 1057.8L1427.2 1065.5L1427.6 1064.7L1428 1058.5L1428.4 1057.7L1428.7 1048.1L1429.1 1065.8L1429.5 1044.2L1429.9 1053.5L1430.3 1040.9L1430.7 1052.9L1431.1 1040.2L1431.5 1040.9L1431.9 1019.2L1432.2 1038.5L1432.6 1020.3L1433 1034.6L1433.4 1036.5L1433.8 1024.9L1434.2 1019L1434.6 1028.1L1435 1023.1L1435.4 1026.1L1435.7 1028.5L1436.1 1016.9L1436.5 1027.6L1436.9 1020.4L1437.3 1036.2L1437.7 1028.1L1437.8 1018.8L1438.1 1029.8L1438.5 1043.4L1438.9 1021L1439.2 1023.4L1439.6 1031.8L1440 1030.6L1440.4 1036.4L1440.8 1033.2L1441.2 1030.2L1441.6 1039.3L1442 1045.4L1442.4 1051.4L1442.7 1051.6L1443.1 1057.2L1443.5 1048.2L1443.9 1067.1L1444.3 1066L1444.7 1061.2L1445.1 1064L1445.5 1067.7L1445.9 1076.2L1446.2 1074.5L1446.6 1090.8L1447 1094.7L1447.4 1095.7L1447.8 1085.4L1448.2 1080.3L1448.6 1097.4L1449 1101.3L1449.4 1102.2L1449.7 1088.6L1450.1 1104.5L1450.5 1108.5L1450.9 1116.7L1451.3 1110.5L1451.7 1105.7L1451.7 1115.5L1452.1 1123.7L1452.5 1106.1L1452.9 1115.2L1453.2 1098.4L1453.6 1118L1454 1107.2L1454.4 1100.1L1454.8 1112.2L1455.2 1093.6L1455.6 1085.9L1456 1088.5L1456.4 1081.2L1456.7 1080.9L1457.1 1086.9L1457.5 1072.3L1457.9 1081.9L1458.3 1075.9L1458.7 1076.4L1459.1 1062L1459.5 1066.9L1459.9 1063L1460.2 1073.2L1460.6 1056.7L1460.9 1047L1461 1072.4L1461.4 1055.2L1461.8 1062.4L1462.2 1080.7L1462.6 1075.1L1463 1068.5L1463.4 1079.5L1463.7 1079.3L1464.1 1075.4L1464.5 1088.4L1464.9 1080.4L1465.3 1098.5L1465.7 1096.8L1466.1 1079.7L1466.5 1081.7L1466.9 1086.2L1467.2 1106.7L1467.6 1097.8L1468 1104.5L1468.4 1084.2L1468.8 1112.9L1469.2 1116.6L1469.6 1117.5L1470 1118.4L1470.4 1135.4L1470.7 1143.4L1471.1 1147.7L1471.5 1156.1L1471.8 1169.8L1471.9 1168.4L1472.3 1144.3L1472.7 1152.8L1473.1 1133.3L1473.5 1131L1473.9 1129.8L1474.2 1135.9L1474.6 1123.7L1475 1140L1475.4 1119.8L1475.8 1134.1L1476.2 1135.2L1476.5 1143.7L1476.6 1145.7L1477 1143.4L1477.4 1145.5L1477.7 1147.8L1478.1 1148.6L1478.5 1137.2L1478.9 1127.5L1479.3 1119.1L1479.7 1125.8L1480.1 1129.7L1480.5 1120.9L1480.9 1109.1L1481.2 1118.6L1481.6 1109L1482 1111.6L1482.4 1111.9L1482.8 1116.1L1483.2 1105.2L1483.6 1117.1L1484 1118.4L1484.4 1108L1484.7 1103.5L1485.1 1104.5L1485.5 1105.8L1485.9 1115.3L1486.3 1114.2L1486.7 1104.4L1487.1 1096.8L1487.5 1134.1L1487.9 1102.7L1488.2 1109.8L1488.6 1110.9L1489 1115.1L1489.4 1112.7L1489.8 1115.4L1490.2 1101.6L1490.6 1108.8L1491 1099.2L1491.4 1105.4L1491.7 1078.8L1492.1 1076.8L1492.5 1085.1L1492.9 1066.7L1493.3 1069.8L1493.7 1072.6L1494.1 1067.3L1494.5 1066.1L1494.9 1067.4L1495.2 1084.4L1495.6 1084L1496 1093.6L1496.4 1098L1496.8 1098.8L1497.2 1119.8L1497.6 1113.9L1498 1100.2L1498.4 1124L1498.7 1121.5L1499.1 1101.6L1499.5 1127.1L1499.9 1121.2L1500.3 1124.3L1500.7 1133.9L1501.1 1129.7L1501.5 1135.3L1501.9 1151.3L1502.2 1133L1502.3 1153.1L1502.6 1148.8L1503 1142.7L1503.4 1134.8L1503.8 1139.5L1504.2 1123.3L1504.6 1138L1505 1120.5L1505.4 1120.4L1505.7 1116.1L1506.1 1108.6L1506.5 1103.7L1506.9 1109.4L1507.3 1101.4L1507.7 1112L1508.1 1101.9L1508.5 1090.8L1508.9 1103.2L1509.2 1100L1509.6 1097.6L1510 1091L1510.4 1094.3L1510.8 1098.2L1511.2 1104.3L1511.6 1093.5L1512 1117L1512.4 1089.4L1512.7 1097L1513.1 1084L1513.5 1087.3L1513.9 1073.8L1514.3 1087L1514.7 1095L1515.1 1076.6L1515.5 1078.1L1515.9 1072.4L1516.2 1059.7L1516.6 1073.5L1517 1058.3L1517.4 1053.9L1517.8 1049.7L1518.2 1071.2L1518.6 1051.7L1519 1055.9L1519.4 1050L1519.7 1052.4L1520.1 1046.5L1520.5 1034.4L1520.9 1026.1L1521.3 1031.9L1521.7 1044.7L1522.1 1022.7L1522.5 1039.6L1522.9 1030L1523.2 1015.1L1523.6 1025.5L1524 1011.7L1524.4 1016L1524.8 1019.5L1525.2 1005.6L1525.6 1009.3L1526 992.4L1526.1 992.4L1526.4 992.4L1526.7 1014.6L1527.1 994.6L1527.5 1010.6L1527.9 1012.7L1528.3 1018.4L1528.7 1027.1L1529.1 1024.1L1529.5 1020L1529.9 1016.2L1530.2 1025.2L1530.6 1030.4L1531 1035.3L1531.4 1035.4L1531.8 1022L1532.2 1032.2L1532.6 1039.6L1533 1059.4L1533.4 1066.7L1533.7 1054.7L1534.1 1062.6L1534.5 1065.3L1534.9 1076.6L1535.2 1084L1535.3 1089.7L1535.7 1081.9L1536.1 1086.6L1536.5 1057.5L1536.9 1047.3L1537.2 1032L1537.6 1050.8L1538 1042.5L1538.4 1022.8L1538.8 1022.6L1539.2 1039.6L1539.6 1028.1L1540 1020.7L1540.4 1023.1L1540.7 1014.2L1541.1 1012.4L1541.5 1010.8L1541.9 995.4L1542.3 990.7L1542.7 973.3L1543.1 988.9L1543.2 977.3L1543.5 979.5L1543.9 976.7L1544.2 974.7L1544.6 977.3L1545 1004.2L1545.2 978.3L1545.4 985.3L1545.8 988.5L1546.2 994.3L1546.6 988.9L1547 994.5L1547.4 1013.5L1547.7 1006L1548.1 1004.4L1548.5 1007.2L1548.9 1010.1L1549.3 1004L1549.7 1020.4L1550.1 1020.1L1550.5 1024.9L1550.9 1020.1L1551.2 1019.5L1551.6 1033.5L1552 1026.4L1552.4 1037.2L1552.8 1024.7L1553.2 1057.1L1553.6 1042.1L1554 1035.4L1554.4 1050L1554.7 1058.1L1555.1 1058.3L1555.5 1049.1L1555.9 1060.3L1556.3 1050L1556.7 1060.9L1557.1 1068.9L1557.5 1071.3L1557.9 1067.5L1558.2 1066.7L1558.6 1084.9L1559 1091.4L1559.4 1094.4L1559.8 1083.9L1560.2 1075.4L1560.6 1096.1L1561 1087.8L1561.4 1097.3L1561.7 1087L1562.1 1106.5L1562.5 1089.5L1562.9 1104.4L1563.3 1100.2L1563.7 1090.2L1564.1 1094.6L1564.5 1093.2L1564.9 1088.7L1565.2 1092L1565.6 1082.5L1566 1089.7L1566.4 1104L1566.8 1099L1567.1 1104.2L1567.2 1104.4L1567.6 1087.9L1568 1109.8L1568.4 1094.2L1568.7 1093.2L1569.1 1084.1L1569.5 1106.9L1569.9 1105.5L1570.3 1105.7L1570.7 1111.5L1571.1 1094.4L1571.5 1092.9L1571.9 1126.9L1572.2 1109.7L1572.6 1095.5L1573 1110.4L1573.4 1103.4L1573.8 1092.4L1574.2 1087.3L1574.6 1083.9L1575 1080.7L1575.3 1067.7L1575.4 1098.4L1575.7 1085.9L1576.1 1095.5L1576.5 1089.8L1576.9 1100.9L1577.3 1098.2L1577.7 1105.6L1578.1 1089.3L1578.5 1120.4L1578.9 1114.6L1579.2 1104.1L1579.6 1114.8L1580 1110.8L1580.4 1124.7L1580.8 1106.5L1581.2 1113.5L1581.6 1108.1L1582 1120.5L1582.4 1118.1L1582.7 1121.3L1583.1 1101.5L1583.5 1130.3L1583.9 1113.5L1584.3 1115.8L1584.7 1108.3L1585.1 1117.1L1585.5 1128.3L1585.9 1116L1586.1 1134.5L1586.2 1111.8L1586.6 1121.1L1587 1125.6L1587.4 1122.4L1587.8 1112L1588.2 1128.6L1588.6 1098.7L1589 1116L1589.4 1094.9L1589.7 1102.9L1590.1 1085.2L1590.5 1107.3L1590.9 1086.2L1591.3 1089.7L1591.7 1089.9L1592.1 1073L1592.5 1076.9L1592.9 1075.8L1593.2 1066.1L1593.6 1065.2L1594 1055.2L1594.4 1048.3L1594.8 1033.8L1595.2 1038L1595.6 1037.7L1596 1019.1L1596.4 1022.2L1596.7 1020.9L1597.1 1016.6L1597.5 985.9L1597.9 995.2L1598.3 974.9L1598.7 990.4L1599.1 985.3L1599.5 956.7L1599.9 967.4L1600.2 961.2L1600.6 955.8L1601 956.6L1601.4 933.6L1601.8 945.9L1602.2 923.5L1602.6 932.9L1603 900.9L1603.4 909.2L1603.7 903.6L1603.7 925.2L1604.1 908L1604.5 917.3L1604.9 921.6L1605.3 924.7L1605.7 914.9L1606.1 925.8L1606.5 934.9L1606.9 940.7L1607.2 946.1L1607.6 950.4L1608 953.3L1608.4 965.5L1608.8 968.3L1609.2 983.6L1609.6 969.6L1610 968.2L1610.4 980.1L1610.7 967.1L1611.1 987L1611.5 982.4L1611.9 975.4L1612.3 985.5L1612.7 996.9L1613.1 990.7L1613.5 1000.6L1613.9 992.2L1614.2 999.5L1614.6 1012.6L1615 1011.7L1615.4 1007.3L1615.8 1018.1L1616.2 1026.4L1616.6 1041.3L1617 1050.7L1617.4 1057.9L1617.7 1048.1L1618.1 1069.1L1618.5 1058.6L1618.5 1049.5L1618.9 1073.6L1619.3 1057.3L1619.7 1065L1620.1 1053.7L1620.5 1043.8L1620.9 1051.6L1621.2 1049.9L1621.6 1038L1622 1028.7L1622.4 1029.5L1622.8 1030.1L1623.2 1012.7L1623.6 1023.9L1624 1023.1L1624.4 1006.8L1624.7 986.1L1625.1 1004.1L1625.5 996.7L1625.9 1000.4L1626.3 993L1626.7 993.3L1627.1 977.7L1627.5 981.7L1627.9 979.2L1628.2 962.4L1628.6 980.8L1629 961.6L1629 972.3L1629.4 981.3L1629.8 979L1630.2 987.5L1630.6 990.1L1631 1002.2L1631.4 992.4L1631.7 1006.4L1632.1 1012.4L1632.5 1037.5L1632.9 1035.8L1633.3 1028L1633.7 1037.2L1634.1 1046L1634.5 1050.6L1634.9 1044.7L1635.2 1072.4L1635.6 1066.9L1636 1074.2L1636.4 1056.1L1636.8 1079.7L1637.2 1073.5L1637.6 1063.9L1638 1082.3L1638.4 1083.5L1638.7 1093.5L1639.1 1098L1639.5 1097.1L1639.9 1137.4L1640.3 1139.9L1640.7 1135L1641 1134.3L1641.1 1156.9L1641.5 1145.1L1641.9 1148.7L1642.2 1144.5L1642.6 1156.3L1643 1153.6L1643.4 1135.9L1643.8 1136.4L1644.2 1135.5L1644.6 1144.3L1645 1122.3L1645.2 1135.2L1645.4 1110.4L1645.7 1133.3L1646.1 1126.2L1646.5 1120.3L1646.9 1126.4L1647.3 1128.4L1647.7 1121.2L1648.1 1112.7L1648.5 1113.3L1648.9 1089.1L1649.2 1106.5L1649.6 1092.4L1650 1088.7L1650.4 1090.5L1650.8 1097.4L1651.2 1080.7L1651.6 1073.4L1652 1076.1L1652.4 1073.6L1652.7 1088.2L1653.1 1076L1653.5 1065.6L1653.9 1060L1654.3 1053.2L1654.7 1059.9L1655.1 1053.8L1655.5 1061.6L1655.9 1045.6L1656.2 1042.2L1656.6 1046.1L1657 1033.8L1657.4 1040.5L1657.8 1037.6L1658.2 1030.7L1658.6 1005.8L1659 1028.9L1659.4 1006.6L1659.7 1003.9L1660.1 993.7L1660.5 1002.5L1660.9 982.5L1660.9 984L1661.3 993.3L1661.7 998.9L1662.1 1000.7L1662.5 1000L1662.9 1027.2L1663 1006.9L1663.2 1026L1663.6 1021.1L1664 1038.2L1664.4 1017.3L1664.8 1032.5L1665.2 1020.5L1665.6 1040.1L1666 1039.7L1666.4 1024.2L1666.7 1026.7L1667.1 1028.9L1667.5 1020.7L1667.9 1027L1668.3 1033L1668.7 1045.9L1669.1 1049.6L1669.5 1026.2L1669.9 1028.1L1670.2 1042.1L1670.6 1032.6L1671 1041.7L1671.4 1043.2L1671.8 1039.3L1672.2 1064.4L1672.6 1052.5L1673 1055.2L1673.4 1065.1L1673.7 1066.2L1674.1 1080.8L1674.5 1073.6L1674.9 1072.8L1675.3 1074.3L1675.7 1088.7L1676.1 1078.1L1676.5 1083.6L1676.9 1081.5L1677.2 1088.1L1677.6 1083.1L1678 1087.4L1678.4 1070L1678.8 1094.7L1679.2 1086.1L1679.6 1100.8L1680 1119.9L1680.4 1112L1680.7 1114.8L1681.1 1126.6L1681.5 1131.8L1681.8 1146.7L1681.9 1137.7L1682.3 1148.7L1682.7 1115.5L1683.1 1107.9L1683.5 1119.1L1683.9 1103.8L1684.2 1102.1L1684.6 1090.6L1685 1081.7L1685.4 1082.2L1685.8 1071.2L1686.2 1057.2L1686.6 1060.1L1687 1047.1L1687.4 1049.9L1687.7 1043.2L1688.1 1050.2L1688.5 1027.8L1688.9 1041L1689.3 1031L1689.7 1035L1690.1 1016L1690.5 1024.5L1690.9 1006.3L1691.2 989.8L1691.6 997L1692 1011.6L1692.4 976.3L1692.8 973.1L1693.2 957.9L1693.6 947.4L1694 929.9L1694.4 922.4L1694.7 927L1694.8 937.5L1695.1 928.6L1695.5 926.3L1695.9 956L1696.3 948.1L1696.7 972.8L1696.7 948.6L1697.1 948.9L1697.5 962L1697.9 976.2L1698.2 968.4L1698.6 965.6L1699 964.2L1699.4 967.8L1699.8 972.3L1700.2 991.8L1700.6 987.1L1701 985.4L1701.4 992.5L1701.7 1013.1L1702.1 1002.5L1702.5 1011.5L1702.9 1008.5L1703.3 1012.3L1703.7 1032.2L1704.1 1031.5L1704.5 1028.9L1704.9 1044.4L1705.2 1041.2L1705.6 1053.6L1706 1058.1L1706.4 1050.2L1706.8 1064.2L1707.2 1073L1707.6 1060.1L1708 1080.7L1708.4 1082.8L1708.7 1086.4L1709.1 1064.2L1709.5 1087.8L1709.9 1088.3L1710.3 1100.9L1710.7 1092.1L1711.1 1090.9L1711.5 1112L1711.9 1099.1L1712.2 1089.6L1712.6 1089.2L1713 1104L1713.4 1087.2L1713.8 1114.5L1714.2 1100.4L1714.6 1105.8L1714.8 1120.4L1715 1102.9L1715.4 1123.8L1715.7 1119.1L1716.1 1114.8L1716.5 1125.2L1716.9 1104.7L1717.3 1119.4L1717.7 1126.6L1718.1 1113.3L1718.5 1115.4L1718.9 1124.7L1719.2 1119.4L1719.6 1106.1L1720 1106.2L1720.4 1127.3L1720.8 1104L1721.2 1103.6L1721.6 1101.6L1722 1115.8L1722.4 1117.9L1722.7 1111L1723.1 1115.1L1723.5 1110.3L1723.9 1112L1724.3 1107.6L1724.7 1108L1725.1 1101.7L1725.5 1099.4L1725.9 1102.5L1726.2 1104.9L1726.6 1085.6L1727 1092.7L1727.4 1098.4L1727.8 1113.1L1728.2 1101.7L1728.6 1111.6L1729 1107L1729.4 1112.3L1729.7 1092.5L1730.1 1116.4L1730.5 1126.1L1730.9 1106.1L1731.3 1104.3L1731.7 1101L1732.1 1136.1L1732.5 1118.6L1732.9 1115.6L1733.2 1121.5L1733.6 1103.2L1734 1096.4L1734.4 1090.7L1734.8 1090.6L1735.2 1097.2L1735.6 1081L1736 1091.5L1736.4 1118.7L1736.7 1093.4L1737.1 1095.7L1737.5 1083.3L1737.9 1088.5L1738.3 1085.2L1738.7 1066.3L1739.1 1083.8L1739.5 1086.4L1739.9 1067.6L1740.2 1060.7L1740.6 1065.6L1741 1063.2L1741.1 1068.8L1741.4 1076.1L1741.8 1071.8L1742.2 1076.7L1742.6 1057L1743 1074L1743 1059.2L1743.4 1076.6L1743.7 1086.3L1744.1 1077.2L1744.5 1078.4L1744.9 1068.2L1745.3 1101.5L1745.7 1086L1746.1 1077.8L1746.5 1089L1746.9 1080.3L1747.2 1084.3L1747.6 1067.5L1748 1069.6L1748.4 1103.2L1748.8 1099.1L1749.2 1092.8L1749.6 1086.8L1750 1088.7L1750.4 1093.1L1750.7 1082.6L1751.1 1080.3L1751.5 1088.1L1751.9 1092.1L1752.3 1088.6L1752.7 1097.3L1753.1 1080.6L1753.5 1080.6L1753.9 1098.5L1754.2 1074.9L1754.6 1090.6L1755 1082.4L1755.4 1091.5L1755.8 1094.2L1756.2 1086.1L1756.6 1104.2L1757 1097.9L1757.4 1108.7L1757.7 1092.7L1758.1 1101.2L1758.5 1103.3L1758.9 1106.5L1759.3 1095.5L1759.7 1100.4L1760.1 1106.3L1760.5 1109.7L1760.9 1087.4L1761.2 1091.3L1761.6 1119.2L1762 1096.2L1762.4 1104L1762.8 1107L1763.2 1106.3L1763.6 1125.2L1764 1085.3L1764.4 1089.1L1764.7 1109.3L1765.1 1108.7L1765.5 1106.4L1765.9 1114.1L1766.3 1100.9L1766.7 1106.7L1766.7 1117.7L1767.1 1112.1L1767.5 1114.3L1767.9 1114.5L1768.2 1112.1L1768.6 1102.1L1769 1112.8L1769.4 1124.6L1769.8 1091.4L1770.2 1111L1770.6 1088.1L1771 1098.6L1771.4 1093.5L1771.7 1106.2L1772.1 1094.8L1772.5 1098.3L1772.9 1093.8L1773.3 1087.2L1773.7 1095.3L1774.1 1081.7L1774.5 1104.3L1774.9 1099.8L1775.2 1083.1L1775.6 1081.2L1776 1074.6L1776.4 1068.1L1776.8 1079.8L1777.2 1076.4L1777.6 1081.8L1778 1083.4L1778.4 1086.8L1778.7 1085.5L1779.1 1093.4L1779.5 1090L1779.9 1080.6L1780.3 1083.9L1780.7 1076.9L1781.1 1093.1L1781.5 1091.1L1781.9 1081.9L1782.2 1094.3L1782.6 1093.8L1783 1077.4L1783.4 1086.5L1783.8 1074.3L1784.2 1082.4L1784.6 1088.2L1785 1094.9L1785.4 1072L1785.7 1085.3L1786.1 1093.6L1786.5 1099.5L1786.9 1096.3L1787.3 1086.9L1787.7 1069L1788.1 1090.4L1788.5 1077L1788.9 1076.8L1789.2 1112.7L1789.6 1090.5L1790 1067.8L1790.4 1096.2L1790.8 1061.5L1791.2 1070.9L1791.6 1085.8L1792 1045.8L1792.4 1063L1792.7 1042L1793.1 1053.9L1793.5 1062.9L1793.7 1044.4L1793.9 1040.6L1794.3 1047.5L1794.7 1077.6L1794.9 1062.4L1795.1 1084.7L1795.5 1083.6L1795.9 1067.7L1796.2 1100L1796.6 1061.7L1797 1105.5L1797.4 1104.1L1797.8 1083.3L1798.2 1093.6L1798.6 1093L1799 1100.8L1799.4 1082.9L1799.7 1087.4L1800.1 1089.6L1800.5 1096.2L1800.9 1102.3L1801.3 1085.8L1801.7 1107.8L1802.1 1091.5L1802.5 1078.3L1802.9 1078.5L1803.2 1091.4L1803.6 1116L1804 1085.5L1804.4 1084.5L1804.8 1095.7L1805.2 1085.4L1805.6 1090.4L1806 1121L1806.4 1108L1806.7 1112.9L1807.1 1093.3L1807.5 1100.3L1807.9 1112.2L1808.3 1109L1808.7 1107.1L1809.1 1124.9L1809.5 1120.1L1809.6 1119.7L1809.9 1123.3L1810.2 1122.1L1810.6 1116L1811 1131.8L1811.4 1130.6L1811.8 1111.5L1812.2 1106.3L1812.6 1106.8L1813 1150.1L1813.4 1133.3L1813.7 1150.6L1814.1 1149.5L1814.3 1145.9L1814.5 1138.3L1814.9 1132.1L1815.3 1156.4L1815.7 1129.2L1816.1 1103.5L1816.5 1106.7L1816.9 1119.6L1817.2 1109.2L1817.6 1104.7L1818 1083.7L1818.4 1074.1L1818.8 1102L1819.2 1082.6L1819.6 1087.7L1820 1074.8L1820.4 1079.3L1820.7 1085.2L1821.1 1078L1821.4 1077.6L1821.5 1055.4L1821.9 1079.9L1822.3 1069.1L1822.7 1087.6L1823.1 1089.6L1823.5 1083.5L1823.9 1094.4L1824.2 1069.5L1824.6 1077.2L1825 1103.3L1825.4 1086.2L1825.8 1075.7L1826.2 1104.1L1826.6 1095.8L1827 1076.2L1827.4 1100.8L1827.7 1086.3L1828.1 1094.8L1828.5 1093.8L1828.9 1108.8L1829.3 1101.9L1829.7 1110L1830.1 1092.5L1830.5 1110.8L1830.9 1123.4L1831.2 1131.4L1831.6 1129L1832 1151.1L1832.1 1148.8L1832.4 1146.9L1832.8 1142.1L1833.2 1145.6L1833.6 1116.9L1834 1121.6L1834.3 1099L1834.4 1113L1834.7 1112.7L1835.1 1102.8L1835.5 1102.5L1835.9 1110.4L1836.3 1102.1L1836.7 1096L1837.1 1115L1837.5 1097.6L1837.9 1114L1838.2 1103.4L1838.6 1113.2L1839 1116.7L1839.4 1109.4L1839.8 1123.9L1840.2 1128.4L1840.6 1111.5L1841 1113L1841.4 1121.4L1841.7 1086.7L1842.1 1103.7L1842.5 1114.7L1842.9 1100.7L1843.3 1099.4L1843.7 1108.1L1844.1 1105.6L1844.5 1121.6L1844.9 1099L1845.2 1081L1845.6 1088.3L1846 1089.2L1846.4 1106.3L1846.8 1111.6L1847.2 1091.5L1847.6 1098.2L1848 1104.1L1848.4 1106L1848.7 1093.6L1849.1 1097.5L1849.5 1109.4L1849.9 1106.1L1850.3 1122.4L1850.7 1117.2L1851.1 1098.8L1851.5 1109L1851.9 1112.6L1852.2 1099.9L1852.6 1088.6L1853 1109.5L1853.4 1103.1L1853.8 1101.4L1854.2 1072.3L1854.6 1086.3L1855 1093.4L1855.4 1110.4L1855.7 1087.1L1856.1 1088.6L1856.5 1096L1856.9 1101.2L1857.3 1097.3L1857.7 1108.8L1858.1 1094.5L1858.5 1093.8L1858.9 1097L1859.2 1089.4L1859.6 1100.9L1860 1071.3L1860.4 1083.3L1860.8 1092.7L1861.2 1071.4L1861.6 1072.7L1862 1082.8L1862.4 1090.5L1862.6 1076.9L1862.7 1070.8L1863.1 1067.5L1863.5 1062.3L1863.9 1059.7L1864.3 1079.7L1864.7 1058.4L1865.1 1075L1865.5 1043L1865.8 1048.7L1865.9 1042.8L1866.2 1055.2L1866.6 1060.9L1867 1073.3L1867.4 1103.9L1867.8 1084L1868.2 1061.2L1868.6 1079.5L1869 1099.1L1869.4 1096.6L1869.7 1098.1L1870.1 1111.2L1870.5 1107.3L1870.9 1105.6L1871.3 1116.1L1871.7 1107.9L1872.1 1101.4L1872.5 1107.1L1872.9 1114.5L1873.2 1120.8L1873.6 1113.3L1874 1128L1874.4 1130.7L1874.8 1112.3L1875.2 1130.5L1875.6 1141.5L1876 1119.1L1876.4 1120.4L1876.7 1115.9L1877.1 1127.8L1877.5 1114L1877.9 1126L1878.3 1133.8L1878.7 1123.7L1879.1 1117.9L1879.5 1130.3L1879.9 1119.6L1880.2 1113.8L1880.6 1119.6L1881 1113.3L1881.4 1113.5L1881.8 1120.8L1882.2 1108.6L1882.6 1106L1883 1132.8L1883.4 1119.6L1883.7 1104.9L1884.1 1109.7L1884.5 1135L1884.9 1114.2L1885.3 1103.3L1885.7 1110L1886.1 1112.4L1886.5 1122.8L1886.9 1122.4L1887.2 1136.8L1887.6 1126.7L1888 1105.1L1888.4 1131.1L1888.8 1142.4L1889.2 1129.4L1889.6 1157.5L1890 1114.5L1890.4 1132.7L1890.7 1142.7L1891.1 1144.4L1891.5 1150.5L1891.9 1140.2L1892.3 1141.2L1892.7 1157.6L1893.1 1131.3L1893.5 1145.1L1893.9 1152.5L1894.2 1131.4L1894.6 1133.2L1895 1147L1895.4 1148.4L1895.8 1131.5L1896.2 1148.9L1896.6 1145.4L1897 1136.6L1897.4 1166.3L1897.7 1171.2L1898.1 1166L1898.2 1163.1L1898.5 1156.2L1898.9 1144.1L1899.2 1156.4L1899.3 1132.7L1899.7 1143.9L1900.1 1162.7L1900.5 1139.3L1900.9 1128.9L1901.2 1123L1901.6 1140.3L1902 1133.1L1902.4 1108.4L1902.8 1129.4L1903.2 1140.2L1903.6 1146.3L1904 1135.2L1904.4 1126.9L1904.7 1142.3L1905.1 1117.3L1905.5 1139.4L1905.9 1151.7L1906.3 1125.8L1906.7 1132.6L1907.1 1135.6L1907.5 1120.2L1907.9 1139.4L1908.2 1125.6L1908.6 1137.7L1909 1114.5L1909.4 1130.5L1909.8 1129.4L1910.2 1122.8L1910.6 1129.2L1911 1123.5L1911.4 1130.7L1911.7 1122.3L1912.1 1128.8L1912.5 1135.9L1912.9 1125.4L1913.3 1127.3L1913.7 1143.8L1914.1 1136.4L1914.5 1150.7L1914.9 1132.1L1915.2 1124L1915.6 1106.8L1916 1127.6L1916.4 1118.5L1916.8 1112.7L1917.2 1118.8L1917.6 1144L1918 1128.3L1918.4 1118.9L1918.7 1118.3L1919.1 1119.1L1919.5 1128.8L1919.9 1138.1L1920.3 1114.5L1920.7 1105.9L1921.1 1122.2L1921.5 1111L1921.9 1121.5L1922.2 1116.9L1922.6 1120.6L1923 1105.6L1923 1122.9L1923.4 1111.5L1923.8 1103.6L1924.2 1113.4L1924.6 1126.7L1925 1111.5L1925.4 1119.1L1925.7 1132.6L1926.1 1123.6L1926.5 1127.2L1926.9 1120.3L1927.3 1133.6L1927.7 1129.7L1928.1 1126.4L1928.5 1154L1928.9 1126.1L1929.2 1137.5L1929.6 1149.1L1930 1138.6L1930.4 1130.2L1930.8 1148.3L1931.2 1147L1931.6 1127.2L1931.6 1124.6L1932 1119.5L1932.4 1137.9L1932.7 1146.1L1933.1 1143.8L1933.5 1134.6L1933.9 1138.4L1934.3 1120.7L1934.7 1109L1935.1 1129.7L1935.5 1100.6L1935.9 1121.9L1936.2 1116.9L1936.6 1120.9L1937 1096.5L1937.4 1101.9L1937.8 1097.8L1938.2 1124.7L1938.6 1098.3L1939 1086.3L1939.4 1114.9L1939.7 1064.3L1940.1 1079.1L1940.5 1069.7L1940.9 1083L1941.3 1070L1941.7 1065.8L1942.1 1052.1L1942.5 1088.3L1942.9 1055.4L1943.2 1086.4L1943.6 1072L1944 1075.4L1944.4 1070.1L1944.8 1084.5L1945.2 1063.5L1945.6 1068.5L1946 1054.4L1946.4 1046.8L1946.7 1047.7L1946.8 1049.6L1947.1 1035.3L1947.5 1048.7L1947.9 1049.5L1948.3 1045.7L1948.7 1063.6L1949.1 1064.6L1949.5 1060.7L1949.9 1071.4L1950.2 1056.2L1950.6 1075.5L1950.6 1070.6L1951 1069.5L1951.4 1070.9L1951.8 1067.4L1952.2 1072L1952.6 1091.4L1953 1055.4L1953.4 1072.1L1953.7 1060.7L1954.1 1080.2L1954.5 1064.5L1954.9 1085.3L1955.3 1058.9L1955.7 1077.3L1956.1 1082.8L1956.5 1110L1956.9 1106.5L1957.2 1090.8L1957.6 1094.5L1958 1096.4L1958.4 1097L1958.8 1083.3L1959.2 1098.5L1959.6 1099.3L1960 1103.6L1960.4 1107.6L1960.7 1093.6L1961.1 1102.6L1961.5 1103.2L1961.9 1097.6L1962.3 1101.4L1962.7 1095.4L1963.1 1097.3L1963.5 1119.6L1963.9 1115.8L1964.2 1099.2L1964.6 1114.3L1965 1105.1L1965.4 1121.7L1965.8 1138.8L1966.2 1137.5L1966.6 1123.1L1967 1121.4L1967.4 1093.9L1967.7 1111.3L1968.1 1112.7L1968.5 1111.3L1968.9 1138.1L1969.3 1121.9L1969.7 1124.5L1970.1 1104.2L1970.5 1132.6L1970.9 1141.6L1971.2 1127.1L1971.6 1131.1L1972 1129.6L1972.4 1129.7L1972.8 1131.9L1973.2 1141.4L1973.6 1140.7L1974 1113.5L1974.4 1144.6L1974.7 1133.9L1975.1 1150.1L1975.5 1158.1L1975.9 1132L1976.3 1140L1976.7 1129.6L1977.1 1134L1977.5 1144.5L1977.9 1157.6L1978.2 1133.4L1978.3 1152.6L1978.6 1134L1979 1150.7L1979.4 1148.9L1979.8 1150.4L1979.8 1150.7L1980.2 1154L1980.6 1122.9L1981 1150L1981.4 1150.3L1981.7 1126L1982.1 1130.8L1982.5 1109.9L1982.9 1118.2L1983.3 1101.1L1983.7 1109.2L1984.1 1115.4L1984.5 1107.9L1984.9 1094.6L1985.2 1105.2L1985.6 1104.7L1986 1095.6L1986.4 1088.2L1986.8 1076.9L1987.2 1083.6L1987.6 1078L1988 1087.8L1988.4 1066.1L1988.7 1061.7L1989.1 1089.6L1989.5 1079.2L1989.9 1081.4L1990.3 1075.1L1990.7 1079.5L1991.1 1081.2L1991.5 1084.9L1991.9 1074.3L1992.2 1066.3L1992.6 1053.3L1993 1055.6L1993.4 1063.3L1993.8 1063.5L1994.2 1070.1L1994.6 1045.7L1995 1049.5L1995.4 1041.6L1995.7 1037L1996.1 1035.6L1996.5 1038.6L1996.9 1037.4L1996.9 1045.1L1997.3 1039.8L1997.7 1029.1L1997.7 1021.6L1998.1 1040.6L1998.5 1038.3L1998.9 1021.6L1999.2 1050.9L1999.6 1060.9L2000 1062.1L2000.4 1068.5L2000.8 1088.7L2001.2 1062.6L2001.6 1090.9L2002 1079.6L2002.4 1079.1L2002.7 1070.8L2003.1 1078.2L2003.5 1081.5L2003.9 1086.4L2004.3 1076.2L2004.7 1083.6L2005.1 1089.1L2005.5 1097.3L2005.9 1094.5L2006.2 1086.4L2006.6 1106.5L2007 1091.8L2007.4 1095.2L2007.8 1087.4L2008.2 1109.3L2008.6 1115.3L2009 1109.4L2009.4 1115.1L2009.7 1140.3L2010.1 1103.6L2010.5 1115L2010.9 1117.1L2011.3 1127.4L2011.7 1115.6L2012.1 1121.9L2012.5 1102L2012.9 1110L2013.2 1101.3L2013.5 1126.9L2013.6 1121.9L2014 1115.9L2014.4 1116.8L2014.8 1093.1L2015.2 1105L2015.6 1119.2L2016 1110.8L2016.4 1089.4L2016.7 1111.5L2017.1 1102.5L2017.5 1126.9L2017.9 1115.7L2018.3 1112.3L2018.7 1114L2019.1 1112L2019.5 1108.9L2019.9 1100.9L2020.2 1130.4L2020.6 1111.7L2021 1104.6L2021.4 1108.8L2021.8 1098.8L2022.2 1111.1L2022.6 1113.5L2023 1116.9L2023.4 1098.6L2023.6 1120.6L2023.7 1111.5L2024.1 1107.2L2024.5 1100.4L2024.9 1109.6L2025.3 1116.3L2025.7 1100.9L2026.1 1118.8L2026.5 1114.8L2026.9 1128.1L2027.2 1106.1L2027.6 1106.6L2028 1126.1L2028.4 1110.8L2028.8 1103L2029.2 1116L2029.6 1126.8L2030 1111.3L2030.4 1104.7L2030.7 1130.5L2031.1 1103.3L2031.5 1112.9L2031.9 1102.8L2032.3 1122.6L2032.7 1102.2L2033.1 1108.1L2033.2 1102.9L2033.5 1110L2033.9 1100.6L2034.2 1112.4L2034.6 1115.4L2035 1121.9L2035.4 1127.9L2035.8 1111.9L2036.2 1116.7L2036.6 1114.9L2037 1117.2L2037.4 1111L2037.7 1113.8L2038.1 1119.6L2038.5 1104.5L2038.9 1088.6L2039.3 1116.6L2039.7 1109L2040.1 1095.6L2040.5 1105.2L2040.9 1084.1L2041.2 1098.5L2041.6 1101.3L2042 1096.7L2042.4 1074.8L2042.8 1105.3L2043.2 1082.8L2043.6 1105.8L2044 1076.4L2044.4 1080.1L2044.7 1077.7L2045.1 1063L2045.5 1086L2045.9 1074.1L2046.3 1080.7L2046.7 1077L2047.1 1096.5L2047.5 1078.5L2047.9 1094.2L2048.2 1076.6L2048.6 1082.4L2049 1091.3L2049.4 1085.4L2049.8 1084.9L2050.2 1086.6L2050.6 1059.9L2051 1094L2051.4 1097.7L2051.7 1095.6L2052.1 1083.1L2052.5 1079.7L2052.9 1071.2L2053.3 1067.2L2053.7 1074.1L2054.1 1074.5L2054.5 1085L2054.9 1064.6L2055.2 1060L2055.6 1074.4L2056 1064.7L2056.4 1077.2L2056.8 1069.5L2057.2 1066.7L2057.6 1057.2L2058 1079.4L2058.4 1062.3L2058.7 1052.5L2059.1 1056.9L2059.5 1052.7L2059.9 1084.3L2060.3 1066.9L2060.7 1061.6L2061.1 1063.9L2061.5 1078.3L2061.9 1040.4L2062.2 1044.8L2062.5 1064L2062.6 1047.5L2063 1036.8L2063.4 1022.8L2063.8 1023L2064 1039.7L2064.2 1036L2064.6 1029.6L2065 1026.7L2065.4 1047.8L2065.7 1056.3L2066.1 1050.1L2066.5 1060L2066.9 1051.8L2067.3 1064.5L2067.7 1062.2L2068.1 1095.3L2068.5 1091.3L2068.9 1095.1L2069.2 1088.3L2069.6 1079.3L2070 1087.4L2070.4 1081.1L2070.8 1095.9L2071.2 1079.9L2071.6 1083.2L2072 1112L2072.4 1107.3L2072.7 1104.7L2073.1 1091.8L2073.5 1093.9L2073.9 1084.9L2074.3 1120.2L2074.7 1103.2L2075.1 1106.2L2075.5 1109.4L2075.9 1108.1L2076.2 1128.2L2076.6 1103.5L2077 1110.6L2077.4 1118.8L2077.8 1090.6L2078.2 1111.8L2078.6 1101.5L2079 1110.4L2079.4 1118.6L2079.7 1106.7L2080.1 1098.3L2080.5 1111.8L2080.9 1096.4L2081.3 1084.5L2081.7 1090.8L2082.1 1107.8L2082.5 1114.5L2082.9 1098.5L2083.2 1124.4L2083.6 1122.3L2084 1094.8L2084.1 1109.7L2084.4 1108.9L2084.8 1116.9L2085.2 1083.8L2085.6 1079.9L2086 1113.1L2086.4 1101.9L2086.7 1112.8L2087.1 1104.5L2087.5 1095.1L2087.9 1095.7L2088.3 1111.9L2088.7 1105.6L2089.1 1080.6L2089.5 1100.4L2089.9 1095.6L2090.2 1104.6L2090.6 1111.6L2091 1121.9L2091.4 1120.5L2091.8 1127.6L2092.2 1121.6L2092.6 1119.5L2093 1102.9L2093.4 1128.3L2093.6 1107L2093.7 1132.5L2094.1 1085.1L2094.5 1118.9L2094.9 1111.6L2095.3 1094.9L2095.7 1115.3L2096.1 1111.8L2096.5 1110.6L2096.9 1105.3L2097.2 1115.4L2097.6 1090.5L2098 1095.8L2098.4 1105.5L2098.8 1093.5L2099.2 1107.1L2099.6 1111.6L2100 1107.5L2100.4 1102.1L2100.7 1124.1L2101.1 1112.3L2101.5 1105.3L2101.9 1122.7L2102.3 1108.6L2102.7 1124.6L2103.1 1111.7L2103.5 1115.4L2103.9 1111.7L2104.2 1123.8L2104.6 1137.7L2105 1145.2L2105.4 1079.4L2105.8 1135L2106 1129.5L2106.2 1138.5L2106.6 1106.8L2107 1114.2L2107.4 1112.7L2107.7 1133.6L2108.1 1110.3L2108.5 1128.4L2108.9 1106.4L2109.3 1119.3L2109.7 1141.6L2110.1 1117.1L2110.5 1124L2110.9 1087.7L2111.2 1126.1L2111.6 1114L2112 1112.8L2112.4 1117.9L2112.8 1116L2113.2 1108.2L2113.6 1103.6L2114 1111.6L2114.4 1109.9L2114.7 1107.2L2115.1 1117.6L2115.5 1110.6L2115.9 1108.4L2116.3 1098.6L2116.7 1103.2L2117.1 1105.8L2117.5 1101.9L2117.9 1120.1L2118.2 1099.7L2118.6 1115.1L2119 1111.9L2119.4 1113.7L2119.8 1101.2L2120.2 1113.7L2120.6 1099.5L2121 1108.2L2121.4 1108.7L2121.7 1097.9L2122.1 1109.6L2122.5 1086.1L2122.9 1103.8L2123.3 1098.4L2123.7 1077.4L2124.1 1102.5L2124.5 1075.2L2124.9 1083.1L2125 1083.8L2125.2 1084.2L2125.6 1098.6L2126 1075.7L2126.4 1091.7L2126.8 1094.5L2127.2 1096L2127.6 1096.5L2128 1104.6L2128.4 1118.2L2128.7 1121.7L2129.1 1121.9L2129.5 1111.6L2129.9 1095.4L2130.3 1118.5L2130.7 1107.3L2131.1 1096.1L2131.5 1104.6L2131.7 1102.5L2131.9 1109.7L2132.2 1095.7L2132.6 1103L2133 1104.1L2133.4 1101.4L2133.8 1094.2L2134.2 1089.2L2134.6 1113.2L2135 1098L2135.4 1116.8L2135.7 1126.8L2136.1 1116.1L2136.5 1110.1L2136.9 1112.5L2137.3 1108.9L2137.7 1134.5L2138.1 1099.1L2138.5 1105.2L2138.9 1107.1L2139.2 1131.2L2139.6 1110.5L2140 1121.8L2140.4 1123.3L2140.8 1120L2141.2 1139L2141.6 1113.2L2142 1116.1L2142.4 1120.4L2142.7 1116L2143.1 1149.8L2143.5 1136.4L2143.9 1137.8L2144.3 1147.9L2144.7 1126.9L2145.1 1109.1L2145.5 1146.9L2145.9 1130L2146 1135.2L2146.2 1134.5L2146.6 1135.1L2147 1128.9L2147.4 1142.4L2147.8 1139.6L2148.2 1117.7L2148.6 1134.1L2149 1133.5L2149.4 1150.6L2149.7 1126.4L2150.1 1123.8L2150.5 1126L2150.9 1111.2L2151.3 1146.8L2151.7 1115.6L2152.1 1140.2L2152.5 1132.8L2152.9 1141.2L2153.2 1110.8L2153.6 1119.8L2154 1122.5L2154.4 1117.5L2154.8 1140.1L2155.2 1125.6L2155.6 1118.4L2156 1128.1L2156.4 1124.2L2156.5 1141.5L2156.7 1124.6L2157.1 1130.3L2157.5 1125.2L2157.9 1111L2158.3 1125.6L2158.7 1131.5L2159.1 1119.8L2159.5 1133.8L2159.9 1103.8L2160.2 1119.6L2160.6 1118.7L2161 1113.5L2161.4 1132L2161.8 1120.1L2162.2 1123.8L2162.6 1101.1L2163 1110.6L2163.4 1109L2163.7 1130L2164.1 1131.3L2164.5 1124.3L2164.9 1144.3L2165.3 1148.7L2165.7 1124.7L2166.1 1137.4L2166.5 1138.8L2166.9 1162.7L2167.2 1150.8L2167.6 1152.5" stroke="#000" stroke-width="2.1"/>
<path id="calc" d="M379.5 1138.6L379.9 1138.5L380.3 1138.4L380.7 1138.3L381.1 1138.1L381.5 1137.8L381.8 1137.6L382.2 1137.3L382.6 1137L383 1136.6L383.4 1136.3L383.8 1135.9L384.2 1135.5L384.6 1135L385 1134.6L385 1134.5L385.3 1134L385.7 1133L386.1 1131.7L386.5 1130.2L386.9 1128.5L387.3 1126.9L387.7 1125.3L388.1 1123.8L388.5 1122.7L388.8 1121.8L389.2 1121.4L389.3 1121.4L389.6 1123.6L390 1129.5L390.4 1134L390.8 1136.4L391.2 1137.9L391.6 1138.6L391.6 1138.6L392 1138.6L392.3 1138.6L392.7 1138.6L393.1 1138.6L393.5 1138.6L393.9 1138.6L394.3 1138.6L394.7 1138.6L395.1 1138.6L395.5 1138.6L395.8 1138.6L396.2 1138.6L396.6 1138.6L397 1138.6L397.4 1138.6L397.8 1138.6L398.1 1138.6L398.2 1138.6L398.6 1138.5L399 1138.4L399.3 1138.2L399.7 1137.9L400.1 1137.5L400.5 1137.1L400.9 1136.7L401.3 1136.2L401.7 1135.7L402.1 1135.2L402.5 1134.6L402.8 1134.1L403.2 1133.5L403.6 1133L404 1132.4L404.4 1131.9L404.6 1131.6L404.8 1131.4L405.2 1130.8L405.6 1130.3L406 1129.8L406.3 1129.2L406.7 1128.6L407.1 1128L407.5 1127.3L407.9 1126.6L408.3 1125.9L408.7 1125.2L409.1 1124.4L409.5 1123.6L409.8 1122.8L410.2 1121.8L410.6 1120.9L411 1119.9L411.4 1118.8L411.8 1117.7L412.2 1116.6L412.6 1115.4L413 1114.3L413.3 1113.1L413.7 1111.8L414.1 1110.6L414.5 1109.3L414.9 1108.1L415.3 1106.8L415.7 1105.5L416.1 1104.2L416.5 1103L416.8 1101.7L417.2 1100.5L417.6 1099.3L418 1098.1L418.4 1096.9L418.8 1095.7L419.2 1094.5L419.6 1093.3L420 1092L420.3 1090.7L420.7 1089.4L421.1 1088L421.5 1086.6L421.9 1085.2L422.3 1083.6L422.7 1082L423.1 1080.3L423.5 1078.5L423.8 1076.7L424.2 1074.7L424.6 1072.5L425 1070.2L425.4 1067.6L425.8 1064.9L426.2 1061.9L426.6 1058.8L427 1055.5L427.3 1052L427.7 1048.3L428.1 1044.5L428.5 1040.5L428.9 1036.1L429.3 1030L429.7 1022.7L430.1 1014.8L430.5 1007.2L430.8 1000.5L431.2 995.6L431.6 993.2L431.7 993L432 997.3L432.4 1011.2L432.8 1024.4L433.2 1035.3L433.6 1042L434 1046.7L434.3 1050L434.7 1052.3L434.9 1052.5L435.1 1052.3L435.5 1051.5L435.9 1050.1L436.3 1048.1L436.7 1045.5L437.1 1042.6L437.5 1039.2L437.8 1035.5L438.2 1031.5L438.6 1027.3L439 1022.9L439.4 1018.4L439.8 1013.9L440.2 1009L440.6 1003.2L441 996.6L441.3 989.3L441.7 981.3L442.1 972.7L442.5 963.5L442.9 953.8L443.3 943.6L443.7 933L444.1 921.7L444.5 908.9L444.8 894.6L445.2 878.6L445.6 860.9L446 837.9L446.4 805.7L446.8 768.9L447.2 732.4L447.6 701L448 679.6L448.3 672.8L448.3 673.1L448.7 700.4L449.1 757.6L449.5 826.1L449.9 887.3L450.3 937L450.7 985.5L451 1005.3L451.1 1005.3L451.5 1003.9L451.8 1000.4L452.2 993.8L452.3 993L452.6 997L452.9 1003.3L453 1009.2L453.4 1027.2L453.8 1041.8L454.2 1055.3L454.6 1065.5L455 1072.6L455.3 1078.2L455.7 1082.4L456.1 1086L456.5 1088.7L456.8 1089.4L456.9 1089.4L457.3 1088.8L457.7 1087.7L458.1 1085.9L458.5 1083.7L458.8 1080.8L459.2 1077.5L459.6 1073.8L460 1069.6L460.4 1065L460.8 1060.1L461.2 1054.8L461.6 1049.2L462 1043.4L462.3 1037.4L462.7 1031.1L463.1 1024.7L463.5 1017.8L463.9 1008.9L464.3 998.1L464.7 985.6L465.1 971.9L465.5 957.4L465.8 942.3L466.2 923.7L466.6 898.8L467 872.3L467.4 849.5L467.8 835.4L468 833.1L468.2 837.4L468.6 869.4L469 920.1L469.3 973.9L469.7 1015.5L470.1 1040L470.5 1063.2L470.9 1084.6L471.3 1103.3L471.7 1117.9L472.1 1127.3L472.4 1130.4L472.5 1130.4L472.8 1130.2L473.2 1129.6L473.6 1128.8L474 1127.7L474.4 1126.5L474.8 1125.2L475.2 1123.8L475.6 1122.5L476 1121.2L476.3 1120.1L476.7 1119.2L477.1 1118.3L477.5 1117.4L477.9 1116.6L478.3 1115.8L478.7 1115L479.1 1114.3L479.5 1113.5L479.8 1112.6L480.2 1111.8L480.6 1110.8L481 1109.9L481.4 1108.8L481.8 1107.6L482.2 1106.3L482.6 1104.9L483 1103.4L483.3 1101.5L483.7 1099.3L484.1 1096.7L484.5 1093.8L484.9 1090.5L485.3 1087L485.7 1083.2L486.1 1079.1L486.5 1074.8L486.8 1070.2L487.2 1064.8L487.6 1058.3L488 1051L488.4 1043.1L488.8 1034.8L489.2 1026.4L489.6 1017.5L490 1005.6L490.3 992.6L490.7 981.2L491.1 973.9L491.4 972.5L491.5 977L491.9 1005.7L492.3 1035L492.7 1056.6L493.1 1069.2L493.5 1077.3L493.8 1082.8L494 1083.2L494.2 1082.7L494.6 1081.1L495 1077.1L495.3 1075L495.4 1075.9L495.8 1083.1L496.2 1090.1L496.6 1094.7L497 1097.4L497.3 1099.1L497.6 1099.6L497.7 1099.6L498.1 1098.9L498.5 1097.5L498.9 1095.4L499.3 1092.7L499.7 1089.4L500.1 1085.6L500.5 1081.3L500.8 1076.6L501.2 1071.6L501.6 1066.3L502 1060.8L502.4 1055.1L502.8 1048.3L503.2 1039.4L503.6 1028.7L504 1016.8L504.3 1004.1L504.7 991.1L505.1 978.1L505.5 961.4L505.9 941.6L506.3 922L506.7 905.7L507.1 896L507.3 894.6L507.5 901.8L507.8 938.7L508.2 986.1L508.6 1025.6L509 1054.4L509.4 1073.3L509.8 1086.6L510.2 1097L510.6 1103.5L510.7 1103.7L511 1102.7L511.3 1098.7L511.7 1092.5L512.1 1085L512.5 1077.1L512.9 1067.8L513.3 1053.9L513.7 1037.3L514.1 1019.9L514.5 1003.6L514.8 990.5L515.2 982.4L515.5 980.7L515.6 983.6L516 1006.6L516.4 1042L516.8 1071.2L517.2 1094.7L517.6 1109.6L518 1120.6L518.3 1128.5L518.7 1134.9L519 1136.5L519.1 1136.5L519.5 1136.1L519.9 1135.3L520.3 1134L520.7 1132.4L521.1 1130.5L521.5 1128.3L521.8 1125.9L522.2 1123.4L522.6 1120.8L523 1118.2L523.4 1115.5L523.8 1112.9L524.2 1110.4L524.6 1108.1L525 1105.9L525.3 1103.8L525.7 1101.7L526.1 1099.5L526.5 1097.4L526.9 1095.2L527.3 1092.9L527.7 1090.6L528.1 1088.1L528.5 1085.5L528.8 1082.8L529.2 1079.9L529.6 1076.8L530 1073.5L530.4 1070L530.8 1066.3L531.2 1062.4L531.6 1058.1L532 1053.4L532.3 1048.3L532.7 1042.8L533.1 1036.8L533.5 1030.1L533.9 1022.8L534.3 1013.9L534.7 1003.2L535.1 990.9L535.5 977.1L535.8 961.8L536.2 945.2L536.6 924.9L537 895.2L537.4 858.5L537.8 817.7L538.2 775.9L538.6 735.8L539 700.6L539.3 673.2L539.7 656.5L540 652.7L540.1 656.3L540.5 710.4L540.9 801.6L541.3 893.4L541.7 951.6L542.1 995.6L542.5 1036.2L542.8 1069.2L543.2 1090.2L543.5 1095.5L543.6 1095.4L544 1093.4L544.4 1089.7L544.8 1085.6L545.2 1079.8L545.6 1072.2L546 1060.7L546.3 1046.3L546.7 1029.5L547.1 1014.8L547.4 1009.4L547.5 1009.7L547.9 1016.8L548.3 1030L548.7 1046.2L549.1 1059.5L549.5 1071.8L549.8 1081.7L550.2 1088.6L550.6 1094.2L551 1098.6L551.4 1102.1L551.8 1105.3L552.2 1107.5L552.4 1107.8L552.6 1107.7L553 1106.7L553.3 1104.5L553.7 1101.4L554.1 1097.4L554.5 1092.5L554.9 1086.9L555.3 1080.7L555.7 1073.8L556.1 1066.5L556.5 1058.7L556.8 1050.5L557.2 1042.1L557.6 1029.2L558 1009.6L558.4 986.2L558.8 962.1L559.2 940L559.6 923L560 913.9L560.1 913.1L560.3 923.2L560.7 960.5L561.1 1006.9L561.5 1045.9L561.9 1076.2L562.3 1095.9L562.7 1110.4L563.1 1121.1L563.5 1129.8L563.8 1132.4L563.8 1132.4L564.2 1132.1L564.6 1131.3L565 1130.1L565.4 1128.4L565.8 1126.4L566.2 1124.1L566.6 1121.4L567 1118.4L567.3 1115.1L567.7 1111.5L568.1 1107.7L568.5 1103.7L568.9 1099.4L569.3 1095L569.7 1090.5L570.1 1085.8L570.5 1080.8L570.8 1074.6L571.2 1066.9L571.6 1058.1L572 1048.1L572.4 1037.2L572.8 1025.5L573.2 1013.1L573.6 1000.1L574 982.3L574.3 958.6L574.7 932.7L575.1 907.8L575.5 887.3L575.9 874.6L576.1 872.1L576.3 876.2L576.7 907.6L577.1 957.7L577.5 998.6L577.8 1033L578.2 1055.2L578.6 1071.5L579 1083.1L579.4 1093L579.8 1097.6L579.8 1097.6L580.2 1096.5L580.6 1093.3L581 1088.3L581.3 1081.7L581.7 1073.8L582.1 1064.9L582.5 1055.2L582.9 1045.1L583.3 1034.7L583.7 1024.4L584.1 1014.4L584.5 1005L584.8 995.9L585.2 984.8L585.6 972.4L586 959.9L586.4 948.5L586.8 939.2L587.2 933.2L587.5 931.5L587.6 932.4L588 950.3L588.3 974.1L588.7 992.5L589.1 1003L589.5 1009.8L589.9 1014.7L590.1 1015.6L590.3 1014.8L590.7 1009.3L591.1 1000.9L591.5 991.6L591.8 979.4L592.2 963.7L592.6 943.1L593 913.6L593.4 879.5L593.8 840.6L594.2 801.6L594.6 781.3L594.7 779.8L595 798L595.3 855.2L595.7 914.2L596.1 964.3L596.5 998.1L596.9 1021.2L597.3 1037.3L597.7 1050.6L598.1 1056.6L598.1 1056.6L598.5 1054.2L598.8 1048.3L599.2 1040.8L599.6 1032.7L600 1022.5L600.4 1009.7L600.8 994.3L601.2 972.8L601.6 945.5L602 915.7L602.3 881.9L602.7 845.8L603.1 824.2L603.4 816.7L603.5 820L603.9 862.8L604.3 933L604.7 990.7L605.1 1036.4L605.5 1065.2L605.8 1085.9L606.2 1101.2L606.6 1112.4L606.8 1114L607 1113.7L607.4 1112L607.8 1109.8L608.2 1106.9L608.6 1102.9L609 1097L609.3 1088.9L609.7 1079.5L610.1 1070.3L610.5 1066.8L610.5 1067L610.9 1071.2L611.3 1077.8L611.7 1083.2L612.1 1086.6L612.5 1088.9L612.8 1090.4L613.2 1091.4L613.3 1091.4L613.6 1090.6L614 1087.4L614.4 1082L614.8 1074.9L615.2 1066.4L615.6 1057L616 1046.9L616.3 1036.7L616.7 1026.5L617.1 1017L617.5 1008.4L617.9 1001.1L618.3 994L618.7 986.3L619.1 978.5L619.5 971.3L619.8 965.2L620.2 960.7L620.6 958.4L620.8 958.2L621 962.5L621.4 977.7L621.8 990.2L622.2 997.6L622.6 1002L623 1005L623.1 1005.3L623.3 1003.5L623.7 994.5L624.1 982.1L624.5 967.7L624.9 948L625.3 922.6L625.7 884.4L626.1 837.3L626.5 783.8L626.8 729L627.2 702.5L627.3 702L627.6 732.8L628 813.8L628.4 895.3L628.8 965.9L629.2 1016.6L629.6 1050.9L630 1076L630.3 1095.2L630.7 1109.6L630.9 1111.9L631.1 1111.9L631.5 1111.2L631.9 1109.9L632.3 1108L632.7 1105.6L633.1 1102.5L633.5 1098.9L633.8 1094.8L634.2 1090.2L634.6 1085.1L635 1079.5L635.4 1073.5L635.8 1067.1L636.2 1060.4L636.6 1053.2L637 1045.7L637.3 1037.9L637.7 1029.8L638.1 1021.5L638.5 1009.8L638.9 993.4L639.3 973.6L639.7 952.2L640.1 930.7L640.5 910.7L640.8 893.3L641.2 874.9L641.6 855.4L642 836.5L642.4 819.9L642.8 807.5L643.2 801L643.3 800.3L643.6 809.1L644 841L644.3 866.8L644.7 881.1L645.1 889.6L645.5 894.6L645.5 894.6L645.9 888L646.3 872.7L646.7 852.6L647.1 823L647.5 774L647.8 711.8L648.2 639.9L648.5 615.2L648.6 617.2L649 662.4L649.4 751.5L649.8 829L650.2 898.1L650.6 948.1L651 982.7L651.3 1008.7L651.7 1028.2L652.1 1044.6L652.5 1050.4L652.5 1050.4L652.9 1045.5L653.3 1037.4L653.7 1025.8L654.1 1008.1L654.5 979.8L654.8 944.6L655.2 919L655.3 917.2L655.6 929.1L656 966L656.4 1005L656.8 1038.3L657.2 1061.8L657.6 1077.6L658 1088.9L658.3 1097.8L658.7 1103.4L658.8 1103.7L659.1 1103.2L659.5 1101.1L659.9 1098.2L660.3 1095.1L660.7 1091.1L661.1 1086L661.5 1079.6L661.8 1070.5L662.2 1059.4L662.6 1047.7L663 1033.1L663.4 1022.7L663.8 1017.6L664.2 1024.9L664.6 1039.5L665 1051.5L665.3 1059.6L665.7 1064.7L666.1 1068.2L666.5 1070.7L666.7 1070.9L666.9 1070.2L667.3 1066.3L667.7 1059.5L668.1 1050.3L668.5 1039.4L668.8 1027.3L669.2 1014.5L669.6 1001.8L670 989.5L670.4 978.4L670.8 968.1L671.2 958.2L671.6 948.4L672 938.3L672.3 927.6L672.7 916.1L673.1 903.3L673.5 889L673.9 872.9L674.3 854.5L674.7 824.2L675.1 780.3L675.5 727.2L675.8 669.4L676.2 611.2L676.6 557.1L677 511.5L677.4 478.8L677.8 463.5L677.9 462.9L678.2 495.5L678.6 593.7L679 697L679.3 785.5L679.7 847.8L680.1 890L680.5 920.1L680.9 943.9L681.3 959.2L681.4 960.2L681.7 957.1L682.1 947.2L682.5 933.1L682.8 910.8L683.2 873.6L683.6 826.4L684 800.3L684.4 821.2L684.8 868.7L685.2 915.8L685.6 957.1L686 988.7L686.3 1009.8L686.7 1025.8L687.1 1037.5L687.5 1047.6L687.9 1052.5L687.9 1052.5L688.3 1051.1L688.7 1046.5L689.1 1039.1L689.5 1029.1L689.8 1016.8L690.2 1002.5L690.6 986.4L691 968.8L691.4 950L691.8 930.2L692.2 909.8L692.6 888.9L693 867.9L693.3 845.1L693.7 812L694.1 770.8L694.5 725.5L694.9 680L695.3 638.2L695.7 604.3L696.1 582L696.4 575.2L696.5 576.3L696.8 618.8L697.2 679.9L697.6 727.4L698 755L698.4 772.5L698.8 785.2L699 788L699.2 786.5L699.6 772.5L700 749.7L700.3 724.4L700.7 693.3L701.1 653.4L701.5 604.3L701.9 535.4L702.3 446.3L702.7 348.7L703.1 233.6L703.5 127.3L703.8 69.4L704 63.6L704.2 108.9L704.6 267.3L705 431.6L705.4 569.8L705.8 659.9L706.2 721.7L706.6 764.5L707 798.9L707.2 808.5L707.3 808L707.5 805.9L707.7 800.9L708.1 790L708.5 770.8L708.9 739L709.3 703.6L709.5 697.8L709.7 711.4L710.1 766.4L710.5 844.6L710.8 908.9L711.2 964L711.6 1000.7L712 1027.8L712.4 1047.6L712.8 1064L713.2 1075.4L713.4 1077.1L713.6 1076.5L714 1073.5L714.3 1069.4L714.7 1063L715.1 1051.8L715.5 1037.3L715.9 1026.3L716 1025.8L716.3 1030.4L716.7 1043.6L717.1 1055.8L717.5 1066.1L717.8 1072.5L718.2 1077.1L718.6 1080.3L719 1082.7L719.2 1083.2L719.4 1082.9L719.8 1080L720.2 1074.2L720.6 1065.9L721 1055.3L721.3 1042.8L721.7 1028.7L722.1 1013.3L722.5 996.9L722.9 979.9L723.3 962.5L723.7 945.2L724.1 925.5L724.5 897.6L724.8 863.9L725.2 827.5L725.6 791.6L726 759.2L726.4 733.6L726.8 717.8L727.1 714.2L727.2 718.1L727.6 760.1L728 839.5L728.3 911.4L728.7 975.8L729.1 1027.8L729.5 1062.8L729.9 1090.1L730.3 1110.4L730.7 1127.5L731.1 1140.9L731.4 1144.7L731.5 1144.7L731.8 1143.7L732.2 1142.2L732.6 1139.9L733 1136.5L733.4 1131.1L733.8 1124.5L734.2 1120.3L734.2 1120.1L734.6 1121.5L735 1125.4L735.3 1128.8L735.7 1131.7L736.1 1133.5L736.5 1134.8L736.9 1135.7L737.3 1136.4L737.5 1136.5L737.7 1136.2L738.1 1133.5L738.5 1129.6L738.8 1125.1L739.2 1119L739.6 1111.1L740 1099.4L740.4 1084.3L740.8 1067.6L741.2 1048.8L741.6 1038.9L741.7 1038.1L742 1041.5L742.3 1052L742.7 1065.8L743.1 1077.2L743.5 1087L743.9 1093.6L744.3 1098.5L744.7 1102.1L745.1 1105L745.5 1107.3L745.7 1107.8L745.8 1107.8L746.2 1106.7L746.6 1104.5L747 1101.1L747.4 1096.7L747.8 1091.4L748.2 1085.2L748.6 1078.3L749 1070.6L749.3 1062.4L749.7 1053.7L750.1 1044.6L750.5 1035.1L750.9 1025.4L751.3 1015.5L751.7 1005.6L752.1 994.8L752.5 979.6L752.8 960.6L753.2 939L753.6 915.9L754 892.6L754.4 870.2L754.8 849.9L755.2 832.9L755.6 820.4L756 813.6L756.2 812.6L756.3 816.3L756.7 835.5L757.1 855.8L757.5 871.9L757.9 881.5L758.3 887.9L758.7 892.6L759 894.6L759.1 894.6L759.5 888.3L759.8 877.6L760.2 862.4L760.6 839.2L761 801.9L761.4 755.6L761.8 721.1L761.9 718.3L762.2 735.3L762.6 789.4L763 845.4L763.3 893L763.7 925.1L764.1 947.1L764.5 962.4L764.9 975L765.3 980.7L765.3 980.7L765.7 977.2L766.1 970.4L766.5 960.9L766.8 946.6L767.2 923.1L767.6 893.7L768 869.1L768.2 865.9L768.4 873.3L768.8 900L769.2 941.1L769.6 974.5L770 1005L770.3 1027.5L770.7 1043.4L771.1 1055.8L771.5 1065L771.9 1073.2L772.3 1078.5L772.5 1079.1L772.7 1078.8L773.1 1076.9L773.5 1073.6L773.8 1069.5L774.2 1065.1L774.6 1060.5L775 1054.9L775.4 1048.3L775.8 1040.7L776.2 1032L776.6 1021L777 1007.2L777.3 991.4L777.7 974.6L778.1 957.4L778.5 936.4L778.9 915.9L779.3 902.2L779.7 892.5L779.9 890.5L780.1 891L780.5 895.6L780.8 904.4L781.2 916.8L781.6 932.4L782 950.4L782.4 970.3L782.8 991.4L783.2 1013.2L783.6 1035.1L784 1056.5L784.3 1076.7L784.7 1095.2L785.1 1111.4L785.5 1124.6L785.9 1134.3L786.3 1139.8L786.7 1141.7L787.1 1143.3L787.5 1144.7L787.8 1145.9L788.2 1147L788.6 1147.8L789 1148.4L789.4 1148.8L789.7 1148.8L789.8 1148.8L790.2 1148.2L790.6 1147L791 1145.1L791.3 1142.7L791.7 1139.8L792.1 1136.5L792.5 1133L792.9 1129.2L793.3 1125.3L793.7 1121.3L794.1 1117.4L794.5 1113.5L794.8 1109.8L795.2 1106.3L795.6 1103.2L796 1100.3L796.4 1097.7L796.8 1095.1L797.2 1092.6L797.6 1090.2L798 1087.7L798.3 1085.1L798.7 1082.3L799.1 1079.3L799.5 1076L799.9 1072.4L800.3 1068.4L800.7 1063.9L801.1 1057.9L801.5 1048.5L801.8 1036.5L802.2 1022.5L802.6 1007.3L803 991.6L803.4 976.3L803.8 962.2L804.2 949.8L804.6 940.1L805 933.8L805.3 931.5L805.3 931.6L805.7 941.1L806.1 959.7L806.5 988.4L806.9 1013.4L807.3 1036.3L807.7 1057L808.1 1073.6L808.5 1085.6L808.8 1095.6L809.2 1103.8L809.6 1110.1L810 1116L810.4 1121L810.8 1124L810.9 1124.2L811.2 1124.1L811.6 1122.9L812 1120.9L812.3 1118L812.7 1114.4L813.1 1110.1L813.5 1105.4L813.9 1100.2L814.3 1094.6L814.7 1088.9L815.1 1083L815.5 1077L815.8 1071.2L816.2 1065.4L816.6 1059.7L817 1052.4L817.4 1043.8L817.8 1034.6L818.2 1025.2L818.6 1016.4L819 1008.5L819.3 1002.3L819.7 998.4L820.1 997.1L820.1 997.2L820.5 1002.1L820.9 1009.2L821.3 1014.7L821.7 1017.9L822.1 1019.9L822.5 1021.4L822.7 1021.7L822.8 1021.4L823.2 1017.8L823.6 1010.6L824 1000.4L824.4 987.5L824.8 972.4L825.2 955.5L825.6 937.4L826 918.4L826.3 899.1L826.7 879.8L827.1 861L827.5 843.2L827.9 826.8L828.3 812L828.7 794.7L829.1 776.4L829.5 760.3L829.8 749.6L830.1 747L830.2 747.8L830.6 756.2L831 769.1L831.4 779.7L831.8 787.6L832.2 792.6L832.6 796.1L833 798.8L833.3 800.3L833.4 800.3L833.7 800.1L834.1 799.4L834.5 798.5L834.9 797.5L835.3 796.3L835.7 794.7L836.1 792.8L836.5 790.1L836.8 786.7L837.2 783L837.6 778.7L838 774.5L838.4 772.1L838.6 771.6L838.8 774.1L839.2 792.8L839.6 825L840 865.1L840.3 907.4L840.7 946.2L841.1 975.9L841.5 996.1L841.9 1015.9L842.3 1035.3L842.7 1053.9L843.1 1071.1L843.5 1086.4L843.8 1099.4L844.2 1109.7L844.6 1116.7L845 1120L845.1 1120.1L845.4 1119.9L845.8 1118.9L846.2 1117.2L846.6 1114.6L847 1111.4L847.3 1107.4L847.7 1102.9L848.1 1097.7L848.5 1091.9L848.9 1085.7L849.3 1078.9L849.7 1071.6L850.1 1064L850.5 1055.9L850.8 1047.5L851.2 1038.8L851.6 1029.7L852 1020.5L852.4 1011L852.8 1001.4L853.2 991.6L853.6 981.7L854 969.3L854.3 951.7L854.7 930.5L855.1 907.2L855.5 883.1L855.9 859.9L856.3 838.9L856.7 821.7L857.1 809.7L857.5 804.6L857.5 804.4L857.8 819.9L858.2 862.8L858.6 901.8L859 934.5L859.4 955L859.8 969.5L860.2 979.6L860.6 987.5L860.8 988.9L861 988.7L861.3 986.6L861.7 983.7L862.1 980.1L862.5 975L862.9 967.6L863.3 957.2L863.7 945.1L864.1 932.6L864.4 927.4L864.5 927.5L864.8 931.8L865.2 939.7L865.6 946L866 950.3L866.4 953L866.8 954.8L867.2 956L867.3 956.1L867.6 955.7L868 954.2L868.3 951.3L868.7 946L869 943.8L869.1 944.5L869.5 952.1L869.9 964.1L870.3 981.6L870.7 996.8L871.1 1010.6L871.5 1023.5L871.8 1034.4L872.2 1042.4L872.6 1048.9L873 1054.5L873.4 1059L873.8 1062.6L874.2 1066.1L874.6 1069L875 1070.7L875.1 1070.9L875.3 1070.7L875.7 1069L876.1 1065.8L876.5 1061.2L876.9 1055.6L877.3 1048.9L877.7 1041.4L878.1 1033.3L878.5 1024.6L878.8 1015.7L879.2 1006.5L879.6 997.3L880 988.3L880.4 979.5L880.8 968.9L881.2 955.8L881.6 941.1L882 925.8L882.3 910.9L882.7 897.4L883.1 886.1L883.5 878.1L883.9 874.3L884 874.1L884.3 874.7L884.7 877.1L885.1 881.3L885.5 886.9L885.8 893.8L886.2 901.8L886.6 910.6L887 920.1L887.4 930L887.8 940L888.2 950.1L888.6 959.9L889 969.3L889.3 977.9L889.7 986.2L890.1 995.6L890.5 1005.8L890.9 1016.7L891.3 1027.9L891.7 1039L892.1 1049.9L892.5 1060.2L892.8 1069.6L893.2 1077.9L893.6 1084.7L894 1089.8L894.4 1092.8L894.7 1093.5L894.8 1093.4L895.2 1091.5L895.6 1087.3L896 1081L896.3 1073.1L896.7 1063.8L897.1 1053.6L897.5 1042.7L897.9 1031.4L898.3 1020.2L898.7 1009.3L899.1 999.1L899.5 989.9L899.8 982L900.2 974.9L900.6 967.2L901 959.4L901.4 951.9L901.8 945.3L902.2 940.1L902.6 936.7L902.9 935.6L903 935.8L903.3 942.6L903.7 955.7L904.1 966.5L904.5 975.1L904.9 980.4L905.3 984.2L905.7 987L906.1 988.8L906.2 988.9L906.5 988.4L906.8 986.2L907.2 982.7L907.6 978.5L908 974.3L908.4 969.4L908.8 963.5L909.2 956.5L909.6 948.4L910 938.6L910.3 925.8L910.7 910.8L911.1 894.5L911.5 877.8L911.9 857.6L912.3 837.6L912.7 824.6L913.1 815.7L913.2 814.7L913.5 818.6L913.8 834.7L914.2 859.7L914.6 893.1L915 921.5L915.4 947.8L915.8 972.5L916.2 993.7L916.6 1009.9L917 1022.9L917.3 1034L917.7 1043.2L918.1 1050.7L918.5 1057.5L918.9 1063.8L919.3 1068.6L919.7 1070.9L919.7 1070.9L920.1 1070L920.5 1066.9L920.8 1062.3L921.2 1057L921.6 1051.5L922 1045L922.4 1037.2L922.8 1028L923.2 1017.3L923.6 1003.8L924 986.5L924.3 966.8L924.7 945.8L925.1 923.6L925.5 896.8L925.9 874.4L926.3 860.4L926.7 853.6L926.7 853.7L927.1 859.6L927.5 866.7L927.8 870.8L928.2 873L928.6 874.1L928.6 874.1L929 872.7L929.4 870L929.8 864.9L930.2 856.4L930.6 849.6L930.6 849.5L931 852.2L931.3 859.5L931.7 870.7L932.1 884.6L932.5 900.4L932.5 901.3L932.9 917.1L933.3 933.6L933.7 949.1L934.1 962.5L934.5 972.8L934.8 979.2L935.2 980.6L935.6 978.4L936 974.4L936.3 971.5L936.4 970.3L936.8 965.5L937.2 960.1L937.6 954.7L938 950.1L938.3 945.3L938.7 940.5L939.1 936.8L939.5 935.3L939.5 935.3L939.9 936.4L940.3 939.8L940.7 945L941.1 951.8L941.5 959.8L941.8 968.7L942.2 978L942.6 987.6L943 997L943.4 1005.9L943.8 1014.7L944.2 1025.3L944.6 1037.4L945 1050.2L945.3 1063.2L945.7 1075.7L946.1 1087L946.5 1096.6L946.9 1103.8L947.3 1108L947.5 1108.7L947.7 1108.6L948.1 1107L948.5 1104L948.8 1099.8L949.2 1094.9L949.6 1089.6L950 1084.3L950.4 1079.5L950.8 1075.4L951.2 1071.8L951.6 1068.1L952 1064.1L952.3 1060.3L952.7 1056.8L953.1 1053.8L953.5 1051.5L953.9 1050L954.2 1049.7L954.3 1049.7L954.7 1051.5L955.1 1055.3L955.5 1060.7L955.8 1067L956.2 1073.8L956.6 1080.4L957 1086.6L957.4 1094.2L957.8 1103.1L958.2 1112.3L958.6 1120.7L959 1127.3L959.3 1131.1L959.5 1131.6L959.7 1131.4L960.1 1129.8L960.5 1126.6L960.9 1122.3L961.3 1116.8L961.7 1110.5L962.1 1103.6L962.5 1096.2L962.8 1088.5L963.2 1080.8L963.6 1073.3L964 1066.2L964.4 1059.6L964.8 1053.8L965.2 1048.7L965.6 1043.5L966 1038L966.3 1032.4L966.7 1026.8L967.1 1021.2L967.5 1015.8L967.9 1010.7L968.3 1006L968.7 1001.9L969.1 998.3L969.5 995.5L969.8 993.6L970.2 992.6L970.4 992.5L970.6 992.6L971 993.8L971.4 995.8L971.8 998.7L972.2 1002.2L972.6 1006.3L973 1010.8L973.3 1015.6L973.7 1020.6L974.1 1025.6L974.5 1030.6L974.9 1035.3L975.3 1039.8L975.7 1044.9L976.1 1050.8L976.5 1057.2L976.8 1064L977.2 1070.9L977.6 1077.5L978 1083.8L978.4 1089.5L978.8 1094.3L979.2 1098L979.6 1100.3L979.9 1101.1L980 1101.1L980.3 1100.1L980.7 1097.4L981.1 1093.3L981.5 1088.1L981.9 1082L982.3 1075.4L982.7 1068.5L983.1 1061.6L983.5 1055L983.8 1049L984.2 1043.9L984.6 1039.3L985 1034.5L985.4 1029.5L985.8 1024.4L986.2 1019.4L986.6 1014.7L987 1010.4L987.3 1006.6L987.7 1003.6L988.1 1001.4L988.5 1000.2L988.7 1000.1L988.9 1000.4L989.3 1002.5L989.7 1006.3L990.1 1011.6L990.5 1017.9L990.8 1025L991.2 1032.4L991.6 1039.9L992 1047.1L992.4 1053.9L992.8 1062.1L993.2 1071.6L993.6 1081.7L994 1091.8L994.3 1101.3L994.7 1109.5L995.1 1115.8L995.5 1119.5L995.8 1120.2L995.9 1120.1L996.3 1119.7L996.7 1118.8L997.1 1117.6L997.5 1116.2L997.8 1114.8L998.2 1113.5L998.6 1112.5L999 1111.5L999.4 1110.5L999.8 1109.5L1000.2 1108.5L1000.6 1107.7L1001 1107.2L1001.3 1106.9L1001.5 1106.8L1001.7 1106.8L1002.1 1106.8L1002.5 1106.8L1002.9 1106.8L1003.3 1106.8L1003.7 1106.8L1004.1 1106.8L1004.5 1106.8L1004.8 1106.8L1005.2 1106.8L1005.6 1106.8L1006 1106.8L1006.4 1106.8L1006.8 1106.1L1007.2 1104.8L1007.6 1102.9L1008 1100.4L1008.3 1097.5L1008.7 1094.2L1009.1 1090.6L1009.5 1086.7L1009.9 1082.7L1010.3 1078.5L1010.7 1074.3L1011.1 1070.2L1011.5 1066.1L1011.8 1062.2L1012.2 1058.5L1012.6 1054.7L1013 1050.9L1013.4 1046.9L1013.8 1042.9L1014.2 1038.7L1014.6 1034.5L1015 1030L1015.3 1025.5L1015.7 1020.8L1016.1 1015.9L1016.5 1010.8L1016.9 1005.6L1017.3 1000.1L1017.7 994.4L1018.1 988L1018.5 980.3L1018.8 971.5L1019.2 961.9L1019.6 951.6L1020 940.9L1020.4 929.8L1020.8 918.7L1021.2 907.7L1021.6 897L1022 886.8L1022.3 877.3L1022.7 868.7L1023.1 861.2L1023.5 854.9L1023.9 850.1L1024.3 847L1024.7 845.7L1024.7 845.6L1025.1 848.1L1025.5 856.6L1025.8 870.2L1026.2 887.6L1026.6 907.9L1027 930L1027.4 952.7L1027.8 974.9L1028.2 995.6L1028.6 1013.6L1029 1027.9L1029.3 1038.3L1029.7 1048.5L1030.1 1058.5L1030.5 1068.2L1030.9 1077.2L1031.3 1085.3L1031.7 1092.2L1032.1 1097.7L1032.5 1101.3L1032.8 1103L1032.9 1103L1033.2 1102.6L1033.6 1100.7L1034 1097.7L1034.4 1093.9L1034.8 1089.5L1035.2 1084.8L1035.6 1080.1L1036 1075.6L1036.3 1071.8L1036.7 1068.6L1037.1 1065.3L1037.5 1061.9L1037.9 1058.4L1038.3 1055.1L1038.7 1052L1039.1 1049.4L1039.5 1047.4L1039.8 1046.2L1040.2 1045.8L1040.2 1045.8L1040.6 1046.2L1041 1047L1041.4 1048.3L1041.8 1049.9L1042.2 1051.9L1042.6 1054.2L1043 1056.7L1043.3 1059.4L1043.7 1062.3L1044.1 1065.2L1044.5 1068.2L1044.9 1071.2L1045.3 1074.1L1045.7 1076.9L1046.1 1079.6L1046.5 1082.4L1046.8 1085.6L1047.2 1089.2L1047.6 1093L1048 1097L1048.4 1101.1L1048.8 1105.2L1049.2 1109.1L1049.6 1112.8L1050 1116.3L1050.3 1119.3L1050.7 1121.9L1051.1 1123.9L1051.5 1125.3L1051.9 1125.9L1052 1125.9L1052.3 1125.7L1052.7 1124.8L1053.1 1123.4L1053.5 1121.6L1053.8 1119.4L1054.2 1117.1L1054.6 1114.6L1055 1112.3L1055.4 1110L1055.8 1108.1L1056.2 1106.5L1056.6 1104.8L1057 1103L1057.3 1101.2L1057.7 1099.5L1058.1 1097.9L1058.5 1096.4L1058.9 1095.2L1059.3 1094.2L1059.7 1093.7L1060 1093.5L1060.1 1093.5L1060.5 1093.8L1060.8 1094.3L1061.2 1095L1061.6 1095.8L1062 1096.5L1062.4 1097.5L1062.8 1098.4L1063.2 1099.1L1063.4 1099.2L1063.6 1099.1L1064 1098L1064.3 1095.8L1064.7 1092.6L1065.1 1088.7L1065.5 1084.4L1065.9 1079.7L1066.3 1074.9L1066.7 1070.2L1067.1 1065.8L1067.5 1061.9L1067.8 1058.6L1068.2 1055.4L1068.6 1051.9L1069 1048.4L1069.4 1044.9L1069.8 1041.5L1070.2 1038.4L1070.6 1035.7L1071 1033.5L1071.3 1031.8L1071.7 1030.8L1072 1030.6L1072.1 1030.6L1072.5 1030.7L1072.9 1031L1073.3 1031.4L1073.7 1032L1074.1 1032.6L1074.5 1033.5L1074.8 1034.4L1075.2 1035.4L1075.6 1036.6L1076 1037.8L1076.4 1039.2L1076.8 1040.6L1077.2 1042.2L1077.6 1043.8L1078 1045.5L1078.3 1047.2L1078.7 1049L1079.1 1050.9L1079.5 1052.8L1079.9 1054.8L1080.3 1056.8L1080.7 1058.9L1081.1 1061L1081.5 1063.1L1081.8 1065.2L1082.2 1067.3L1082.6 1069.5L1083 1072.4L1083.4 1076L1083.8 1080.1L1084.2 1084.8L1084.6 1089.6L1085 1094.6L1085.3 1099.4L1085.7 1104.1L1086.1 1108.3L1086.5 1112L1086.9 1115L1087.3 1117.1L1087.7 1118.2L1087.8 1118.3L1088.1 1118.2L1088.5 1117.4L1088.8 1116.1L1089.2 1114.3L1089.6 1112.1L1090 1109.5L1090.4 1106.5L1090.8 1103.4L1091.2 1100.1L1091.6 1096.7L1092 1093.3L1092.3 1089.9L1092.7 1086.6L1093.1 1083.6L1093.5 1080.8L1093.9 1078.3L1094.3 1076.1L1094.7 1073.8L1095.1 1071.3L1095.5 1068.8L1095.8 1066.3L1096.2 1063.8L1096.6 1061.4L1097 1059L1097.4 1056.8L1097.8 1054.7L1098.2 1052.8L1098.6 1051.2L1099 1049.8L1099.3 1048.8L1099.7 1048.1L1100.1 1047.8L1100.2 1047.7L1100.5 1048L1100.9 1048.8L1101.3 1050.3L1101.7 1052.1L1102.1 1054.3L1102.5 1056.5L1102.8 1058.8L1103.2 1060.9L1103.6 1063.1L1104 1065.9L1104.4 1068.9L1104.8 1072L1105.2 1074.8L1105.6 1077.1L1106 1078.7L1106.3 1079.2L1106.3 1079.2L1106.7 1078.5L1107.1 1077.1L1107.5 1075.6L1107.9 1074.4L1108.3 1073.2L1108.7 1072.2L1109.1 1071.6L1109.2 1071.6L1109.5 1071.7L1109.8 1072.5L1110.2 1073.7L1110.6 1075.3L1111 1077.1L1111.4 1079.1L1111.8 1081.2L1112.2 1083.2L1112.6 1085.1L1113 1087.3L1113.3 1089.8L1113.6 1091.4L1113.7 1092.6L1114.1 1095.4L1114.5 1098.1L1114.9 1100.3L1115.3 1102L1115.7 1102.9L1115.9 1103L1116.1 1102.8L1116.5 1101.6L1116.8 1099.5L1117.2 1096.9L1117.6 1093.9L1118 1091L1118.4 1088.3L1118.8 1086.1L1119.2 1084.1L1119.6 1081.9L1120 1079.7L1120.3 1077.7L1120.7 1076.1L1121.1 1074.9L1121.5 1074.4L1121.6 1074.4L1121.9 1074.7L1122.3 1075.4L1122.7 1076.7L1123.1 1078.4L1123.5 1080.4L1123.8 1082.7L1124.2 1085.2L1124.6 1087.7L1125 1090.4L1125.4 1093L1125.8 1095.5L1126.2 1097.8L1126.6 1100.5L1127 1103.6L1127.3 1107.1L1127.7 1110.6L1128.1 1114.2L1128.5 1117.6L1128.9 1120.7L1129.3 1123.5L1129.7 1125.7L1130.1 1127.1L1130.5 1127.8L1130.5 1127.8L1130.8 1127.5L1131.2 1126.2L1131.6 1124.1L1132 1121.4L1132.4 1118L1132.8 1114.2L1133.2 1110L1133.6 1105.7L1134 1101.2L1134.3 1096.8L1134.7 1092.5L1135.1 1088.6L1135.5 1085L1135.9 1081.9L1136.3 1079L1136.7 1075.9L1137.1 1072.6L1137.5 1069.4L1137.8 1066.1L1138.2 1063L1138.6 1059.9L1139 1057.2L1139.4 1054.7L1139.8 1052.5L1140.2 1050.8L1140.6 1049.5L1141 1048.8L1141.2 1048.7L1141.3 1048.7L1141.7 1049L1142.1 1049.4L1142.5 1050.1L1142.9 1050.9L1143.3 1051.8L1143.7 1052.7L1144.1 1053.7L1144.5 1054.6L1144.8 1055.5L1145.2 1056.2L1145.6 1056.8L1146 1057.2L1146.4 1057.3L1146.8 1057.3L1147.2 1057.3L1147.6 1057.3L1148 1057.3L1148.3 1057.3L1148.7 1057.3L1149.1 1057.3L1149.2 1057.3L1149.5 1057.5L1149.9 1058.4L1150.3 1059.8L1150.7 1061.8L1151.1 1064.3L1151.5 1067.2L1151.8 1070.3L1152.2 1073.8L1152.6 1077.4L1153 1081.1L1153.4 1084.8L1153.8 1088.5L1154.2 1092.1L1154.6 1095.6L1155 1098.8L1155.3 1101.6L1155.7 1104.1L1156.1 1106.1L1156.5 1107.6L1156.9 1108.5L1157.2 1108.7L1157.3 1108.7L1157.7 1108L1158.1 1106.2L1158.5 1103.6L1158.8 1100.1L1159.2 1096L1159.6 1091.4L1160 1086.3L1160.4 1080.9L1160.8 1075.2L1161.2 1069.5L1161.6 1063.8L1162 1058.2L1162.3 1052.9L1162.7 1047.9L1163.1 1043.4L1163.5 1039.4L1163.9 1035.7L1164.3 1031.7L1164.7 1027.6L1165.1 1023.4L1165.5 1019.2L1165.8 1015L1166.2 1010.9L1166.6 1007L1167 1003.3L1167.4 999.9L1167.8 996.8L1168.2 994.1L1168.6 991.9L1169 990.2L1169.3 989.1L1169.7 988.7L1169.8 988.7L1170.1 989L1170.5 990.4L1170.9 992.7L1171.3 995.8L1171.7 999.5L1172.1 1003.6L1172.5 1008.1L1172.8 1012.8L1173.2 1017.6L1173.6 1022.4L1174 1026.9L1174.4 1031.2L1174.8 1036.1L1175.2 1041.8L1175.6 1048L1176 1054.5L1176.3 1061L1176.7 1067.2L1177.1 1072.9L1177.5 1077.9L1177.9 1081.9L1178.3 1084.6L1178.7 1085.8L1178.8 1085.9L1179.1 1085.4L1179.5 1083.6L1179.8 1081L1180.2 1078L1180.6 1074.9L1181 1072.3L1181.4 1070.2L1181.8 1067.9L1182.2 1065.7L1182.6 1063.6L1183 1062.1L1183.3 1061.2L1183.5 1061.1L1183.7 1061.2L1184.1 1061.9L1184.5 1063.3L1184.9 1065.2L1185.3 1067.4L1185.7 1069.9L1186.1 1072.6L1186.5 1075.4L1186.8 1078.1L1187.2 1080.6L1187.6 1083.2L1188 1086.3L1188.4 1089.9L1188.8 1093.6L1189.2 1097.3L1189.6 1100.8L1190 1103.9L1190.3 1106.4L1190.7 1108.1L1191.1 1108.7L1191.2 1108.7L1191.5 1108.7L1191.9 1108.4L1192.3 1108L1192.7 1107.4L1193.1 1106.8L1193.5 1106L1193.8 1105L1194.2 1104.1L1194.6 1103L1195 1101.9L1195.4 1100.7L1195.8 1099.5L1196.2 1098.2L1196.6 1097L1197 1095.8L1197.3 1094.6L1197.7 1093.4L1198.1 1092.3L1198.5 1091.3L1198.9 1090.3L1199.3 1089.3L1199.7 1088.3L1200.1 1087.2L1200.5 1086.1L1200.8 1084.9L1201.2 1083.7L1201.6 1082.5L1202 1081.3L1202.4 1080.1L1202.8 1078.9L1203.2 1077.7L1203.6 1076.6L1204 1075.4L1204.3 1074.3L1204.7 1073.3L1205.1 1072.3L1205.5 1071.3L1205.9 1070.4L1206.3 1069.6L1206.7 1068.9L1207.1 1068.2L1207.5 1067.7L1207.8 1067.2L1208.2 1066.9L1208.6 1066.6L1209 1066.3L1209.4 1066.1L1209.8 1065.8L1210.2 1065.6L1210.6 1065.4L1211 1065.1L1211.3 1064.9L1211.7 1064.7L1212.1 1064.6L1212.5 1064.4L1212.9 1064.3L1213.3 1064.2L1213.7 1064.1L1214.1 1064L1214.5 1064L1214.8 1064L1215 1063.9L1215.2 1064L1215.6 1064.2L1216 1064.6L1216.4 1065.1L1216.8 1065.8L1217.2 1066.5L1217.6 1067.2L1218 1068L1218.3 1069.2L1218.7 1070.8L1219.1 1072.7L1219.5 1075L1219.9 1077.4L1220.3 1080.1L1220.7 1082.9L1221.1 1085.7L1221.5 1088.5L1221.8 1091.3L1222.2 1093.9L1222.6 1096.3L1223 1098.4L1223.4 1100.2L1223.8 1101.6L1224.2 1102.6L1224.6 1103.1L1225 1103.3L1225.3 1103.5L1225.7 1103.7L1226.1 1103.8L1226.5 1103.9L1226.9 1104L1227.3 1104.1L1227.7 1104.2L1228.1 1104.3L1228.5 1104.5L1228.8 1104.7L1229.2 1104.9L1229.6 1105.3L1230 1106.1L1230.4 1107.1L1230.8 1108.3L1231.2 1109.6L1231.6 1111L1232 1112.5L1232.3 1113.9L1232.7 1115.2L1233.1 1116.3L1233.5 1117.3L1233.9 1117.9L1234.3 1118.3L1234.4 1118.3L1234.7 1118.1L1235.1 1117.5L1235.5 1116.3L1235.8 1114.8L1236.2 1113L1236.6 1111L1237 1108.9L1237.4 1106.8L1237.8 1104.8L1238.2 1103.1L1238.6 1101.6L1239 1100.2L1239.3 1098.7L1239.7 1097.2L1240.1 1095.6L1240.5 1094.2L1240.9 1092.8L1241.3 1091.7L1241.7 1090.7L1242.1 1090.1L1242.5 1089.7L1242.6 1089.7L1242.8 1089.8L1243.2 1090.3L1243.6 1091.1L1244 1092.3L1244.4 1093.7L1244.8 1095.2L1245.2 1096.8L1245.6 1098.4L1246 1099.8L1246.3 1101.4L1246.7 1103.3L1247.1 1105.4L1247.5 1107.5L1247.9 1109.5L1248.3 1111.3L1248.7 1112.6L1249.1 1113.4L1249.3 1113.5L1249.5 1113.4L1249.8 1112.6L1250.2 1111.1L1250.6 1109L1251 1106.4L1251.4 1103.6L1251.8 1100.5L1252.2 1097.3L1252.6 1094.3L1253 1091.4L1253.3 1088.9L1253.7 1086.8L1254.1 1084.7L1254.5 1082.4L1254.9 1080.1L1255.3 1077.9L1255.7 1075.7L1256.1 1073.7L1256.5 1071.9L1256.8 1070.5L1257.2 1069.4L1257.6 1068.8L1257.9 1068.7L1258 1068.7L1258.4 1069.1L1258.8 1069.8L1259.2 1070.8L1259.6 1072.1L1260 1073.5L1260.3 1075.1L1260.7 1076.8L1261.1 1078.5L1261.5 1080.2L1261.9 1081.8L1262.3 1083.4L1262.7 1085.2L1263.1 1087.2L1263.5 1089.5L1263.9 1091.8L1264.2 1094.1L1264.6 1096.3L1265 1098.3L1265.4 1099.9L1265.8 1101.2L1266.2 1101.9L1266.4 1102.1L1266.6 1102L1267 1101.7L1267.4 1100.9L1267.7 1099.9L1268.1 1098.7L1268.5 1097.5L1268.9 1096.4L1269.3 1095.5L1269.7 1094.7L1270.1 1093.8L1270.5 1092.9L1270.9 1092.1L1271.2 1091.4L1271.6 1090.9L1272 1090.7L1272.2 1090.6L1272.4 1090.7L1272.8 1091.2L1273.2 1092L1273.6 1093L1274 1094.4L1274.4 1096L1274.7 1097.7L1275.1 1099.5L1275.5 1101.4L1275.9 1103.3L1276.3 1105.1L1276.7 1106.9L1277.1 1108.6L1277.5 1110.5L1277.9 1112.8L1278.2 1115.2L1278.6 1117.8L1279 1120.4L1279.4 1122.9L1279.8 1125.2L1280.2 1127.4L1280.6 1129.1L1281 1130.5L1281.4 1131.4L1281.7 1131.6L1281.7 1131.6L1282.1 1131.5L1282.5 1131.1L1282.9 1130.5L1283.3 1129.8L1283.7 1129L1284.1 1128.3L1284.5 1127.5L1284.9 1126.9L1285.2 1126.4L1285.6 1125.9L1286 1125.3L1286.4 1124.7L1286.8 1124.2L1287.2 1123.7L1287.6 1123.4L1288 1123.1L1288.4 1123L1288.4 1123L1288.7 1123.1L1289.1 1123.2L1289.5 1123.5L1289.9 1123.8L1290.3 1124.1L1290.7 1124.5L1291.1 1124.9L1291.5 1125.3L1291.9 1125.6L1292.2 1126L1292.6 1126.5L1293 1127L1293.4 1127.5L1293.8 1128L1294.2 1128.4L1294.6 1128.6L1295 1128.8L1295 1128.8L1295.4 1128.7L1295.7 1128.3L1296.1 1127.6L1296.5 1126.8L1296.9 1125.7L1297.3 1124.6L1297.7 1123.4L1298.1 1122.1L1298.5 1120.9L1298.9 1119.7L1299.2 1118.6L1299.6 1117.6L1300 1116.8L1300.4 1115.9L1300.8 1115L1301.2 1114.1L1301.6 1113.2L1302 1112.3L1302.4 1111.4L1302.7 1110.6L1303.1 1110L1303.5 1109.4L1303.9 1109L1304.3 1108.8L1304.6 1108.7L1304.7 1108.7L1305.1 1108.8L1305.5 1108.9L1305.9 1109L1306.2 1109.2L1306.6 1109.5L1307 1109.7L1307.4 1110L1307.8 1110.3L1308.2 1110.6L1308.6 1111L1309 1111.3L1309.4 1111.6L1309.7 1112L1310.1 1112.3L1310.5 1112.6L1310.9 1112.9L1311.3 1113.3L1311.7 1113.7L1312.1 1114.1L1312.5 1114.6L1312.9 1115L1313.2 1115.5L1313.6 1115.9L1314 1116.3L1314.4 1116.6L1314.8 1116.9L1315.2 1117.1L1315.6 1117.3L1316 1117.3L1316 1117.3L1316.4 1117.3L1316.7 1117L1317.1 1116.6L1317.5 1116.1L1317.9 1115.6L1318.3 1114.9L1318.7 1114.2L1319.1 1113.5L1319.5 1112.8L1319.9 1112.1L1320.2 1111.4L1320.6 1110.9L1321 1110.4L1321.4 1109.9L1321.8 1109.4L1322.2 1108.9L1322.6 1108.4L1323 1107.9L1323.4 1107.4L1323.7 1106.9L1324.1 1106.6L1324.5 1106.3L1324.9 1106L1325.3 1105.9L1325.5 1105.9L1325.7 1105.9L1326.1 1106L1326.5 1106.3L1326.9 1106.6L1327.2 1107L1327.6 1107.5L1328 1107.9L1328.4 1108.3L1328.8 1108.8L1329.2 1109.3L1329.6 1109.9L1330 1110.5L1330.4 1111L1330.7 1111.4L1331.1 1111.6L1331.3 1111.6L1331.5 1111.5L1331.9 1111.1L1332.3 1110.5L1332.7 1109.5L1333.1 1108.3L1333.5 1106.9L1333.9 1105.4L1334.2 1103.6L1334.6 1101.7L1335 1099.8L1335.4 1097.7L1335.8 1095.6L1336.2 1093.5L1336.6 1091.4L1337 1089.4L1337.4 1087.4L1337.7 1085.5L1338.1 1083.8L1338.5 1082.2L1338.9 1080.7L1339.3 1079.5L1339.7 1078.6L1340.1 1077.8L1340.5 1077L1340.9 1076.3L1341.2 1075.6L1341.6 1074.9L1342 1074.3L1342.4 1073.7L1342.8 1073.2L1343.2 1072.9L1343.6 1072.6L1344 1072.5L1344 1072.5L1344.4 1072.7L1344.7 1073.6L1345.1 1075L1345.5 1076.9L1345.9 1079.1L1346.3 1081.7L1346.7 1084.4L1347.1 1087.3L1347.5 1090.2L1347.9 1093L1348.2 1095.7L1348.6 1098.4L1349 1101.6L1349.4 1105.2L1349.8 1109.1L1350.2 1113L1350.6 1116.9L1351 1120.4L1351.4 1123.6L1351.7 1126.1L1352.1 1127.9L1352.5 1128.7L1352.6 1128.8L1352.9 1128.7L1353.3 1128.5L1353.7 1128.1L1354.1 1127.6L1354.5 1127L1354.9 1126.3L1355.2 1125.5L1355.6 1124.6L1356 1123.6L1356.4 1122.6L1356.8 1121.5L1357.2 1120.4L1357.6 1119.3L1358 1118.2L1358.4 1117.2L1358.7 1116.2L1359.1 1115.2L1359.5 1114.3L1359.9 1113.5L1360.3 1112.7L1360.7 1112L1361.1 1111.3L1361.5 1110.5L1361.9 1109.7L1362.2 1108.9L1362.6 1108.1L1363 1107.3L1363.4 1106.5L1363.8 1105.8L1364.2 1105.1L1364.6 1104.4L1365 1103.7L1365.4 1103.1L1365.7 1102.6L1366.1 1102.1L1366.5 1101.7L1366.9 1101.4L1367.3 1101.2L1367.7 1101.1L1367.9 1101.1L1368.1 1101.2L1368.5 1101.4L1368.9 1101.8L1369.2 1102.5L1369.6 1103.2L1370 1104.2L1370.4 1105.2L1370.8 1106.3L1371.2 1107.4L1371.6 1108.6L1372 1109.8L1372.4 1111L1372.7 1112.2L1373.1 1113.2L1373.5 1114.4L1373.9 1115.7L1374.3 1117.2L1374.7 1118.8L1375.1 1120.4L1375.5 1122.1L1375.9 1123.7L1376.2 1125.2L1376.6 1126.5L1377 1127.7L1377.4 1128.7L1377.8 1129.3L1378.2 1129.7L1378.4 1129.7L1378.6 1129.7L1379 1129.6L1379.4 1129.3L1379.7 1129L1380.1 1128.5L1380.5 1127.9L1380.9 1127.3L1381.3 1126.6L1381.7 1125.8L1382.1 1124.9L1382.5 1124L1382.9 1123.1L1383.2 1122.1L1383.6 1121L1384 1120L1384.4 1118.9L1384.8 1117.8L1385.2 1116.8L1385.6 1115.7L1386 1114.7L1386.4 1113.6L1386.7 1112.6L1387.1 1111.7L1387.5 1110.8L1387.9 1109.9L1388.3 1109.1L1388.7 1108.4L1389.1 1107.8L1389.5 1107.2L1389.9 1106.8L1390.2 1106.4L1390.6 1106.1L1391 1105.8L1391.4 1105.5L1391.8 1105.3L1392.2 1105.1L1392.6 1104.8L1393 1104.6L1393.4 1104.3L1393.7 1103.9L1394.1 1103.5L1394.5 1103.1L1394.9 1102.4L1395.3 1101.3L1395.7 1099.9L1396.1 1098.1L1396.5 1096L1396.9 1093.7L1397.2 1091.2L1397.6 1088.4L1398 1085.5L1398.4 1082.6L1398.8 1079.5L1399.2 1076.4L1399.6 1073.3L1400 1070.3L1400.4 1067.4L1400.7 1064.5L1401.1 1061.8L1401.5 1059.4L1401.9 1057.1L1402.3 1055.1L1402.7 1053.5L1403.1 1052.2L1403.5 1051.2L1403.9 1050.7L1404.1 1050.6L1404.2 1050.6L1404.6 1051.1L1405 1052.1L1405 1052.2L1405.4 1053.5L1405.8 1055.2L1406.2 1057.2L1406.6 1059.5L1407 1061.9L1407.4 1064.5L1407.7 1067L1408.1 1069.6L1408.5 1072L1408.9 1074.3L1409.3 1076.8L1409.7 1079.7L1410.1 1083L1410.5 1086.4L1410.9 1089.9L1411.2 1093.3L1411.6 1096.5L1412 1099.5L1412.1 1100.1L1412.4 1102L1412.8 1104L1413.2 1105.3L1413.6 1105.9L1413.6 1105.9L1414 1105.7L1414.4 1105.1L1414.7 1104.2L1415.1 1102.8L1415.5 1101.2L1415.9 1099.2L1416.3 1097.1L1416.7 1094.7L1417.1 1092.1L1417.5 1089.4L1417.9 1086.6L1418.2 1083.7L1418.6 1080.7L1419 1077.8L1419.4 1074.9L1419.8 1072L1420.2 1069.3L1420.6 1066.7L1421 1064.2L1421.4 1062L1421.7 1060L1422.1 1058.3L1422.5 1056.9L1422.9 1055.8L1423.3 1055.2L1423.7 1054.6L1424.1 1054.1L1424.5 1053.7L1424.9 1053.3L1425.2 1053L1425.6 1052.7L1426 1052.4L1426.4 1052.1L1426.8 1051.8L1427.2 1051.5L1427.6 1051.1L1428 1050.8L1428.4 1050.3L1428.7 1049.8L1429.1 1049.3L1429.5 1048.5L1429.9 1047.6L1430.3 1046.6L1430.7 1045.4L1431.1 1044.1L1431.5 1042.8L1431.9 1041.4L1432.2 1039.9L1432.6 1038.4L1433 1037L1433.4 1035.5L1433.8 1034L1434.2 1032.6L1434.6 1031.3L1435 1030L1435.4 1028.8L1435.7 1027.8L1436.1 1026.8L1436.5 1026.1L1436.9 1025.5L1437.3 1025.1L1437.7 1024.9L1437.8 1024.9L1438.1 1024.9L1438.5 1025.4L1438.9 1026.1L1439.2 1027.2L1439.6 1028.5L1440 1030.1L1440.4 1031.9L1440.8 1033.9L1441.2 1036L1441.6 1038.3L1442 1040.7L1442.4 1043.2L1442.7 1045.7L1443.1 1048.2L1443.5 1050.7L1443.9 1053.1L1444.3 1055.5L1444.7 1057.7L1445.1 1060L1445.5 1062.6L1445.9 1065.4L1446.2 1068.5L1446.6 1071.7L1447 1075.1L1447.4 1078.5L1447.8 1081.9L1448.2 1085.3L1448.6 1088.5L1449 1091.6L1449.4 1094.5L1449.7 1097.1L1450.1 1099.3L1450.5 1101.2L1450.9 1102.6L1451.3 1103.6L1451.7 1104L1451.7 1104L1452.1 1103.8L1452.5 1103.2L1452.9 1102.1L1453.2 1100.8L1453.6 1099.1L1454 1097.3L1454.4 1095.4L1454.8 1093.5L1455.2 1091.6L1455.6 1089.8L1456 1088.2L1456.4 1086.8L1456.7 1085.6L1457.1 1084.2L1457.5 1082.8L1457.9 1081.3L1458.3 1080L1458.7 1078.6L1459.1 1077.4L1459.5 1076.4L1459.9 1075.5L1460.2 1074.9L1460.6 1074.5L1460.9 1074.4L1461 1074.4L1461.4 1074.6L1461.8 1075.1L1462.2 1075.7L1462.6 1076.6L1463 1077.6L1463.4 1078.8L1463.7 1080.1L1464.1 1081.5L1464.5 1083.1L1464.9 1084.8L1465.3 1086.5L1465.7 1088.3L1466.1 1090.1L1466.5 1092L1466.9 1093.8L1467.2 1095.7L1467.6 1097.5L1468 1099.3L1468.4 1101L1468.8 1102.6L1469.2 1104.4L1469.6 1106.3L1470 1108.5L1470.4 1110.8L1470.7 1113.2L1471.1 1115.6L1471.5 1118.1L1471.8 1119.7L1471.9 1120.7L1472.3 1123.2L1472.7 1125.6L1473.1 1128L1473.5 1130.3L1473.9 1132.4L1474.2 1134.3L1474.6 1136L1475 1137.5L1475.4 1138.6L1475.8 1139.5L1476.2 1140L1476.5 1140.2L1476.6 1140.2L1477 1140L1477.4 1139.7L1477.7 1139.1L1478.1 1138.3L1478.5 1137.3L1478.9 1136.2L1479.3 1134.9L1479.7 1133.5L1480.1 1132L1480.5 1130.4L1480.9 1128.8L1481.2 1127.1L1481.6 1125.4L1482 1123.6L1482.4 1121.9L1482.8 1120.2L1483.2 1118.5L1483.6 1116.9L1484 1115.4L1484.4 1114L1484.7 1112.7L1485.1 1111.5L1485.5 1110.4L1485.9 1109.2L1486.3 1108L1486.7 1106.8L1487.1 1105.5L1487.5 1104.2L1487.9 1103L1488.2 1101.7L1488.6 1100.5L1489 1099.2L1489.4 1098.1L1489.8 1096.9L1490.2 1095.9L1490.6 1094.9L1491 1094L1491.4 1093.1L1491.7 1092.4L1492.1 1091.8L1492.5 1091.3L1492.9 1090.9L1493.3 1090.7L1493.7 1090.6L1494.1 1090.8L1494.5 1091.2L1494.9 1091.7L1495.2 1092.5L1495.6 1093.4L1496 1094.4L1496.4 1095.5L1496.8 1096.6L1497.2 1097.8L1497.6 1098.9L1498 1099.9L1498.4 1101L1498.7 1102.3L1499.1 1103.7L1499.5 1105.2L1499.9 1106.8L1500.3 1108.2L1500.7 1109.6L1501.1 1110.8L1501.5 1111.7L1501.9 1112.3L1502.2 1112.6L1502.3 1112.6L1502.6 1112.5L1503 1112.3L1503.4 1112L1503.8 1111.6L1504.2 1111.1L1504.6 1110.5L1505 1109.8L1505.4 1109L1505.7 1108.1L1506.1 1107.2L1506.5 1106.1L1506.9 1105.1L1507.3 1103.9L1507.7 1102.7L1508.1 1101.5L1508.5 1100.2L1508.9 1098.9L1509.2 1097.5L1509.6 1096.1L1510 1094.7L1510.4 1093.3L1510.8 1091.9L1511.2 1090.5L1511.6 1089.1L1512 1087.7L1512.4 1086.3L1512.7 1084.9L1513.1 1083.5L1513.5 1081.9L1513.9 1080.1L1514.3 1078.1L1514.7 1076.1L1515.1 1073.8L1515.5 1071.5L1515.9 1069.1L1516.2 1066.5L1516.6 1063.9L1517 1061.3L1517.4 1058.6L1517.8 1055.8L1518.2 1053.1L1518.6 1050.3L1519 1047.6L1519.4 1044.8L1519.7 1042.1L1520.1 1039.5L1520.5 1036.9L1520.9 1034.4L1521.3 1032L1521.7 1029.7L1522.1 1027.5L1522.5 1025.5L1522.9 1023.6L1523.2 1021.9L1523.6 1020.3L1524 1018.9L1524.4 1017.7L1524.8 1016.8L1525.2 1016.1L1525.6 1015.6L1526 1015.4L1526.1 1015.3L1526.4 1015.4L1526.7 1015.9L1527.1 1016.7L1527.5 1017.8L1527.9 1019.2L1528.3 1020.7L1528.7 1022.4L1529.1 1024.2L1529.5 1026.1L1529.9 1027.9L1530.2 1029.7L1530.6 1031.3L1531 1033.1L1531.4 1035.1L1531.8 1037.4L1532.2 1039.9L1532.6 1042.4L1533 1044.9L1533.4 1047.2L1533.7 1049.3L1534.1 1051L1534.5 1052.4L1534.9 1053.2L1535.2 1053.5L1535.3 1053.5L1535.7 1053L1536.1 1051.9L1536.5 1050.3L1536.9 1048.2L1537.2 1045.8L1537.6 1043.1L1538 1040.2L1538.4 1037.3L1538.8 1034.3L1539.2 1031.5L1539.6 1028.9L1540 1026.6L1540.4 1024.7L1540.7 1022.7L1541.1 1020.6L1541.5 1018.4L1541.9 1016.3L1542.3 1014.1L1542.7 1012.1L1543.1 1010.3L1543.2 1009.5L1543.5 1008.6L1543.9 1007.2L1544.2 1006L1544.6 1005.3L1545 1004.9L1545.2 1004.9L1545.4 1004.9L1545.8 1005.3L1546.2 1005.9L1546.6 1006.8L1547 1007.9L1547.4 1009.3L1547.7 1010.8L1548.1 1012.6L1548.5 1014.5L1548.9 1016.5L1549.3 1018.7L1549.7 1021L1550.1 1023.4L1550.5 1025.9L1550.9 1028.4L1551.2 1030.9L1551.6 1033.4L1552 1036L1552.4 1038.5L1552.8 1040.9L1553.2 1043.3L1553.6 1045.6L1554 1047.8L1554.4 1049.9L1554.7 1051.8L1555.1 1053.8L1555.5 1055.8L1555.9 1058L1556.3 1060.2L1556.7 1062.5L1557.1 1064.8L1557.5 1067.2L1557.9 1069.7L1558.2 1072.1L1558.6 1074.6L1559 1077.1L1559.4 1079.5L1559.8 1082L1560.2 1084.4L1560.6 1086.8L1561 1089.1L1561.4 1091.4L1561.7 1093.6L1562.1 1095.7L1562.5 1097.7L1562.9 1099.6L1563.3 1101.4L1563.7 1103.1L1564.1 1104.6L1564.5 1106L1564.9 1107.2L1565.2 1108.3L1565.6 1109.1L1566 1109.8L1566.4 1110.3L1566.8 1110.6L1567.1 1110.7L1567.2 1110.6L1567.6 1110.5L1568 1110.2L1568.4 1109.7L1568.7 1109.1L1569.1 1108.5L1569.5 1107.8L1569.9 1107.1L1570.3 1106.4L1570.7 1105.8L1571.1 1105.3L1571.5 1104.8L1571.9 1104.3L1572.2 1103.8L1572.6 1103.3L1573 1102.8L1573.4 1102.3L1573.8 1101.9L1574.2 1101.6L1574.6 1101.3L1575 1101.2L1575.3 1101.1L1575.4 1101.1L1575.7 1101.2L1576.1 1101.5L1576.5 1101.9L1576.9 1102.4L1577.3 1103L1577.7 1103.7L1578.1 1104.4L1578.5 1105.3L1578.9 1106.1L1579.2 1106.9L1579.6 1107.8L1580 1108.6L1580.4 1109.4L1580.8 1110.2L1581.2 1111L1581.6 1112L1582 1113L1582.4 1114.2L1582.7 1115.3L1583.1 1116.5L1583.5 1117.6L1583.9 1118.7L1584.3 1119.6L1584.7 1120.5L1585.1 1121.2L1585.5 1121.7L1585.9 1122L1586.1 1122.1L1586.2 1122.1L1586.6 1121.5L1587 1120.3L1587.4 1118.5L1587.8 1116.1L1588.2 1113.3L1588.6 1109.9L1589 1106.1L1589.4 1102L1589.7 1097.5L1590.1 1092.7L1590.5 1087.8L1590.9 1082.6L1591.3 1077.3L1591.7 1071.9L1592.1 1066.5L1592.5 1061.1L1592.9 1055.8L1593.2 1050.5L1593.6 1045.5L1594 1040.6L1594.4 1035.9L1594.8 1031.6L1595.2 1027.1L1595.6 1022.2L1596 1017L1596.4 1011.6L1596.7 1006L1597.1 1000.2L1597.5 994.4L1597.9 988.5L1598.3 982.6L1598.7 976.8L1599.1 971L1599.5 965.5L1599.9 960.2L1600.2 955.1L1600.6 950.4L1601 946.1L1601.4 942.1L1601.8 938.7L1602.2 935.8L1602.6 933.5L1603 931.8L1603.4 930.8L1603.7 930.5L1603.7 930.5L1604.1 930.8L1604.5 931.6L1604.9 932.8L1605.3 934.3L1605.7 936.2L1606.1 938.4L1606.5 940.9L1606.9 943.6L1607.2 946.6L1607.6 949.6L1608 952.9L1608.4 956.2L1608.8 959.5L1609.2 962.9L1609.6 966.3L1610 969.7L1610.4 972.9L1610.7 976.1L1611.1 979.1L1611.5 982.2L1611.9 985.8L1612.3 989.7L1612.7 993.9L1613.1 998.3L1613.5 1002.8L1613.9 1007.4L1614.2 1012.1L1614.6 1016.6L1615 1021.1L1615.4 1025.3L1615.8 1029.3L1616.2 1033L1616.6 1036.3L1617 1039.2L1617.4 1041.6L1617.7 1043.3L1618.1 1044.5L1618.5 1044.9L1618.5 1044.9L1618.9 1044.5L1619.3 1043.5L1619.7 1041.8L1620.1 1039.5L1620.5 1036.8L1620.9 1033.8L1621.2 1030.6L1621.6 1027.2L1622 1023.7L1622.4 1020.3L1622.8 1017.1L1623.2 1014.1L1623.6 1011.5L1624 1009.2L1624.4 1006.9L1624.7 1004.4L1625.1 1001.9L1625.5 999.4L1625.9 996.9L1626.3 994.5L1626.7 992.3L1627.1 990.2L1627.5 988.4L1627.9 987L1628.2 985.8L1628.6 985.1L1629 984.8L1629 984.8L1629.4 985.3L1629.8 986.7L1630.2 988.9L1630.6 991.9L1631 995.6L1631.4 999.8L1631.7 1004.5L1632.1 1009.7L1632.5 1015.1L1632.9 1020.8L1633.3 1026.6L1633.7 1032.6L1634.1 1038.4L1634.5 1044.2L1634.9 1049.8L1635.2 1055.1L1635.6 1060L1636 1064.5L1636.4 1068.5L1636.8 1071.8L1637.2 1075.2L1637.6 1078.6L1638 1082L1638.4 1085.5L1638.7 1089L1639.1 1092.4L1639.5 1095.8L1639.9 1099.2L1640.3 1102.5L1640.7 1105.7L1641 1108.4L1641.1 1108.7L1641.5 1111.6L1641.9 1114.3L1642.2 1116.8L1642.6 1119.1L1643 1121.1L1643.4 1122.9L1643.8 1124.3L1644.2 1125.5L1644.6 1126.3L1645 1126.8L1645.2 1126.9L1645.4 1126.8L1645.7 1126.4L1646.1 1125.6L1646.5 1124.3L1646.9 1122.6L1647.3 1120.5L1647.7 1118.2L1648.1 1115.5L1648.5 1112.7L1648.9 1109.6L1649.2 1106.3L1649.6 1102.9L1650 1099.3L1650.4 1095.8L1650.8 1092.1L1651.2 1088.5L1651.6 1085L1652 1081.5L1652.4 1078.1L1652.7 1074.8L1653.1 1071.8L1653.5 1069L1653.9 1066.4L1654.3 1064.1L1654.7 1061.7L1655.1 1059.2L1655.5 1056.6L1655.9 1054L1656.2 1051.4L1656.6 1048.7L1657 1046L1657.4 1043.4L1657.8 1040.8L1658.2 1038.3L1658.6 1035.9L1659 1033.5L1659.4 1031.3L1659.7 1029.3L1660.1 1027.4L1660.5 1025.6L1660.9 1024.3L1660.9 1024.1L1661.3 1022.8L1661.7 1021.7L1662.1 1020.9L1662.5 1020.4L1662.9 1020.1L1663 1020.1L1663.2 1020.2L1663.6 1020.4L1664 1020.9L1664.4 1021.6L1664.8 1022.5L1665.2 1023.5L1665.6 1024.8L1666 1026.1L1666.4 1027.6L1666.7 1029.2L1667.1 1031L1667.5 1032.8L1667.9 1034.7L1668.3 1036.7L1668.7 1038.7L1669.1 1040.8L1669.5 1042.9L1669.9 1045.1L1670.2 1047.2L1670.6 1049.4L1671 1051.5L1671.4 1053.6L1671.8 1055.7L1672.2 1057.7L1672.6 1059.7L1673 1061.5L1673.4 1063.6L1673.7 1065.8L1674.1 1068.2L1674.5 1070.7L1674.9 1073.4L1675.3 1076.1L1675.7 1079L1676.1 1081.8L1676.5 1084.7L1676.9 1087.6L1677.2 1090.4L1677.6 1093.2L1678 1095.8L1678.4 1098.3L1678.8 1100.7L1679.2 1102.9L1679.6 1104.8L1680 1106.6L1680.4 1108L1680.7 1109.2L1681.1 1110L1681.5 1110.5L1681.8 1110.7L1681.9 1110.6L1682.3 1110L1682.7 1108.5L1683.1 1106.2L1683.5 1103.2L1683.9 1099.6L1684.2 1095.4L1684.6 1090.8L1685 1085.8L1685.4 1080.5L1685.8 1075L1686.2 1069.4L1686.6 1063.7L1687 1058L1687.4 1052.4L1687.7 1047L1688.1 1041.9L1688.5 1037.1L1688.9 1032.8L1689.3 1029L1689.7 1025.2L1690.1 1021.3L1690.5 1017.3L1690.9 1013.2L1691.2 1009L1691.6 1004.8L1692 1000.6L1692.4 996.6L1692.8 992.6L1693.2 988.9L1693.6 985.3L1694 982L1694.4 979L1694.7 976.3L1694.8 976L1695.1 974L1695.5 972.2L1695.9 970.8L1696.3 969.9L1696.7 969.6L1696.7 969.6L1697.1 969.9L1697.5 970.8L1697.9 972.2L1698.2 974.2L1698.6 976.6L1699 979.5L1699.4 982.8L1699.8 986.4L1700.2 990.4L1700.6 994.6L1701 999.1L1701.4 1003.7L1701.7 1008.5L1702.1 1013.5L1702.5 1018.5L1702.9 1023.6L1703.3 1028.7L1703.7 1033.7L1704.1 1038.6L1704.5 1043.5L1704.9 1048.1L1705.2 1052.6L1705.6 1056.9L1706 1060.8L1706.4 1064.5L1706.8 1067.8L1707.2 1070.6L1707.6 1073.4L1708 1076.2L1708.4 1079L1708.7 1081.9L1709.1 1084.8L1709.5 1087.6L1709.9 1090.4L1710.3 1093.2L1710.7 1095.9L1711.1 1098.4L1711.5 1100.8L1711.9 1103.1L1712.2 1105.1L1712.6 1107L1713 1108.6L1713.4 1110L1713.8 1111.1L1714.2 1111.9L1714.6 1112.4L1714.8 1112.6L1715 1112.6L1715.4 1112.7L1715.7 1112.8L1716.1 1112.9L1716.5 1113L1716.9 1113.1L1717.3 1113.2L1717.7 1113.3L1718.1 1113.4L1718.5 1113.5L1718.9 1113.6L1719.2 1113.7L1719.6 1113.7L1720 1113.8L1720.4 1113.9L1720.8 1113.9L1721.2 1114L1721.6 1114L1722 1114.1L1722.4 1114.1L1722.7 1114.2L1723.1 1114.2L1723.5 1114.3L1723.9 1114.3L1724.3 1114.3L1724.7 1114.3L1725.1 1114.4L1725.5 1114.4L1725.9 1114.4L1726.2 1114.4L1726.6 1114.4L1727 1114.5L1727.4 1114.5L1727.8 1114.5L1728.2 1114.5L1728.6 1114.4L1729 1114.1L1729.4 1113.7L1729.7 1113.2L1730.1 1112.6L1730.5 1111.8L1730.9 1110.9L1731.3 1110L1731.7 1108.9L1732.1 1107.7L1732.5 1106.5L1732.9 1105.2L1733.2 1103.9L1733.6 1102.5L1734 1101L1734.4 1099.5L1734.8 1098L1735.2 1096.5L1735.6 1095L1736 1093.4L1736.4 1091.9L1736.7 1090.4L1737.1 1088.9L1737.5 1087.5L1737.9 1086.1L1738.3 1084.7L1738.7 1083.4L1739.1 1082.2L1739.5 1081L1739.9 1079.9L1740.2 1079L1740.6 1078.1L1741 1077.3L1741.1 1077.2L1741.4 1076.7L1741.8 1076.1L1742.2 1075.7L1742.6 1075.5L1743 1075.4L1743 1075.4L1743.4 1075.4L1743.7 1075.6L1744.1 1075.9L1744.5 1076.4L1744.9 1076.9L1745.3 1077.5L1745.7 1078.2L1746.1 1079L1746.5 1079.8L1746.9 1080.7L1747.2 1081.6L1747.6 1082.5L1748 1083.4L1748.4 1084.3L1748.8 1085.2L1749.2 1086.1L1749.6 1087L1750 1087.8L1750.4 1088.6L1750.7 1089.2L1751.1 1089.8L1751.5 1090.4L1751.9 1091L1752.3 1091.6L1752.7 1092.2L1753.1 1092.7L1753.5 1093.3L1753.9 1093.9L1754.2 1094.4L1754.6 1095L1755 1095.5L1755.4 1096.1L1755.8 1096.6L1756.2 1097.1L1756.6 1097.6L1757 1098.1L1757.4 1098.5L1757.7 1099L1758.1 1099.4L1758.5 1099.8L1758.9 1100.2L1759.3 1100.5L1759.7 1100.9L1760.1 1101.2L1760.5 1101.5L1760.9 1101.8L1761.2 1102.1L1761.6 1102.4L1762 1102.7L1762.4 1103L1762.8 1103.3L1763.2 1103.6L1763.6 1103.8L1764 1104.1L1764.4 1104.3L1764.7 1104.5L1765.1 1104.6L1765.5 1104.8L1765.9 1104.9L1766.3 1104.9L1766.7 1104.9L1766.7 1104.9L1767.1 1104.9L1767.5 1104.7L1767.9 1104.5L1768.2 1104.2L1768.6 1103.8L1769 1103.4L1769.4 1102.9L1769.8 1102.3L1770.2 1101.7L1770.6 1101.1L1771 1100.4L1771.4 1099.7L1771.7 1099L1772.1 1098.3L1772.5 1097.5L1772.9 1096.8L1773.3 1096.1L1773.7 1095.4L1774.1 1094.7L1774.5 1094.1L1774.9 1093.5L1775.2 1092.9L1775.6 1092.4L1776 1091.9L1776.4 1091.5L1776.8 1091.2L1777.2 1090.9L1777.6 1090.7L1778 1090.6L1778.4 1090.6L1778.7 1090.7L1779.1 1090.7L1779.5 1090.7L1779.9 1090.7L1780.3 1090.8L1780.7 1090.8L1781.1 1090.9L1781.5 1090.9L1781.9 1091L1782.2 1091L1782.6 1091.1L1783 1091.1L1783.4 1091.1L1783.8 1091.2L1784.2 1091.2L1784.6 1091.2L1785 1091.2L1785.4 1091L1785.7 1090.8L1786.1 1090.3L1786.5 1089.8L1786.9 1089.2L1787.3 1088.5L1787.7 1087.7L1788.1 1086.8L1788.5 1085.9L1788.9 1084.9L1789.2 1083.9L1789.6 1082.9L1790 1081.9L1790.4 1080.8L1790.8 1079.8L1791.2 1078.9L1791.6 1077.9L1792 1077.1L1792.4 1076.3L1792.7 1075.5L1793.1 1074.9L1793.5 1074.4L1793.7 1074.1L1793.9 1073.9L1794.3 1073.7L1794.7 1073.5L1794.9 1073.5L1795.1 1073.5L1795.5 1073.6L1795.9 1073.9L1796.2 1074.3L1796.6 1074.9L1797 1075.5L1797.4 1076.2L1797.8 1077L1798.2 1077.9L1798.6 1078.8L1799 1079.8L1799.4 1080.8L1799.7 1081.9L1800.1 1082.9L1800.5 1084L1800.9 1085.1L1801.3 1086.1L1801.7 1087.1L1802.1 1088L1802.5 1089L1802.9 1090.1L1803.2 1091.2L1803.6 1092.5L1804 1093.9L1804.4 1095.3L1804.8 1096.7L1805.2 1098.1L1805.6 1099.6L1806 1101L1806.4 1102.3L1806.7 1103.6L1807.1 1104.8L1807.5 1105.9L1807.9 1106.8L1808.3 1107.6L1808.7 1108.2L1809.1 1108.6L1809.5 1108.7L1809.6 1108.7L1809.9 1108.7L1810.2 1108.4L1810.6 1107.9L1811 1107.3L1811.4 1106.5L1811.8 1105.6L1812.2 1104.7L1812.6 1103.6L1813 1102.5L1813.4 1101.4L1813.7 1100.3L1814.1 1099.2L1814.3 1098.7L1814.5 1098.2L1814.9 1097.3L1815.3 1096.4L1815.7 1095.7L1816.1 1094.9L1816.5 1094.2L1816.9 1093.3L1817.2 1092.5L1817.6 1091.7L1818 1090.9L1818.4 1090.2L1818.8 1089.4L1819.2 1088.8L1819.6 1088.2L1820 1087.7L1820.4 1087.3L1820.7 1087L1821.1 1086.9L1821.4 1086.8L1821.5 1086.8L1821.9 1087L1822.3 1087.2L1822.7 1087.6L1823.1 1088L1823.5 1088.6L1823.9 1089.2L1824.2 1089.9L1824.6 1090.7L1825 1091.5L1825.4 1092.4L1825.8 1093.2L1826.2 1094.1L1826.6 1095L1827 1095.8L1827.4 1096.7L1827.7 1097.5L1828.1 1098.3L1828.5 1099.2L1828.9 1100.2L1829.3 1101.3L1829.7 1102.4L1830.1 1103.6L1830.5 1104.8L1830.9 1106L1831.2 1107.1L1831.6 1108.2L1832 1109.2L1832.1 1109.3L1832.4 1110.2L1832.8 1111L1833.2 1111.6L1833.6 1112.1L1834 1112.5L1834.3 1112.6L1834.4 1112.6L1834.7 1112.5L1835.1 1112.4L1835.5 1112.2L1835.9 1111.9L1836.3 1111.5L1836.7 1111.1L1837.1 1110.6L1837.5 1110L1837.9 1109.4L1838.2 1108.8L1838.6 1108.1L1839 1107.4L1839.4 1106.7L1839.8 1105.9L1840.2 1105.1L1840.6 1104.3L1841 1103.5L1841.4 1102.8L1841.7 1102L1842.1 1101.2L1842.5 1100.4L1842.9 1099.7L1843.3 1099L1843.7 1098.3L1844.1 1097.6L1844.5 1097L1844.9 1096.5L1845.2 1096L1845.6 1095.6L1846 1095.2L1846.4 1094.8L1846.8 1094.5L1847.2 1094.2L1847.6 1093.9L1848 1093.6L1848.4 1093.4L1848.7 1093.1L1849.1 1092.9L1849.5 1092.6L1849.9 1092.4L1850.3 1092.1L1850.7 1091.9L1851.1 1091.6L1851.5 1091.3L1851.9 1091L1852.2 1090.7L1852.6 1090.4L1853 1090.1L1853.4 1089.7L1853.8 1089.2L1854.2 1088.7L1854.6 1088.2L1855 1087.5L1855.4 1086.8L1855.7 1086.1L1856.1 1085.3L1856.5 1084.5L1856.9 1083.7L1857.3 1082.8L1857.7 1082L1858.1 1081.2L1858.5 1080.4L1858.9 1079.6L1859.2 1078.9L1859.6 1078.2L1860 1077.6L1860.4 1077L1860.8 1076.5L1861.2 1076.1L1861.6 1075.8L1862 1075.5L1862.4 1075.4L1862.6 1075.4L1862.7 1075.4L1863.1 1075.6L1863.5 1076L1863.9 1076.6L1864.3 1077.4L1864.7 1078.3L1865.1 1079.4L1865.5 1080.6L1865.8 1081.7L1865.9 1082L1866.2 1083.4L1866.6 1084.9L1867 1086.5L1867.4 1088.1L1867.8 1089.8L1868.2 1091.6L1868.6 1093.3L1869 1095.1L1869.4 1096.8L1869.7 1098.5L1870.1 1100.2L1870.5 1101.9L1870.9 1103.4L1871.3 1104.9L1871.7 1106.3L1872.1 1107.6L1872.5 1108.7L1872.9 1109.9L1873.2 1111L1873.6 1112.2L1874 1113.3L1874.4 1114.4L1874.8 1115.5L1875.2 1116.4L1875.6 1117.2L1876 1117.9L1876.4 1118.4L1876.7 1118.7L1877.1 1119.1L1877.5 1119.4L1877.9 1119.7L1878.3 1120L1878.7 1120.2L1879.1 1120.5L1879.5 1120.7L1879.9 1120.9L1880.2 1121.1L1880.6 1121.3L1881 1121.4L1881.4 1121.6L1881.8 1121.8L1882.2 1122L1882.6 1122.2L1883 1122.4L1883.4 1122.7L1883.7 1122.9L1884.1 1123.2L1884.5 1123.5L1884.9 1123.8L1885.3 1124.2L1885.7 1124.5L1886.1 1124.9L1886.5 1125.3L1886.9 1125.7L1887.2 1126.1L1887.6 1126.6L1888 1127L1888.4 1127.4L1888.8 1127.9L1889.2 1128.4L1889.6 1128.8L1890 1129.3L1890.4 1129.7L1890.7 1130.2L1891.1 1130.6L1891.5 1131.1L1891.9 1131.5L1892.3 1131.9L1892.7 1132.4L1893.1 1132.8L1893.5 1133.2L1893.9 1133.5L1894.2 1133.9L1894.6 1134.2L1895 1134.6L1895.4 1134.9L1895.8 1135.1L1896.2 1135.4L1896.6 1135.6L1897 1135.8L1897.4 1136L1897.7 1136.1L1898.1 1136.3L1898.2 1136.3L1898.5 1136.3L1898.9 1136.4L1899.2 1136.4L1899.3 1136.4L1899.7 1136.4L1900.1 1136.3L1900.5 1136.3L1900.9 1136.2L1901.2 1136.1L1901.6 1135.9L1902 1135.8L1902.4 1135.7L1902.8 1135.5L1903.2 1135.3L1903.6 1135.1L1904 1134.9L1904.4 1134.6L1904.7 1134.4L1905.1 1134.1L1905.5 1133.8L1905.9 1133.6L1906.3 1133.3L1906.7 1133L1907.1 1132.6L1907.5 1132.3L1907.9 1132L1908.2 1131.7L1908.6 1131.3L1909 1131L1909.4 1130.6L1909.8 1130.3L1910.2 1129.9L1910.6 1129.6L1911 1129.2L1911.4 1128.9L1911.7 1128.5L1912.1 1128.1L1912.5 1127.8L1912.9 1127.4L1913.3 1127L1913.7 1126.6L1914.1 1126.1L1914.5 1125.7L1914.9 1125.2L1915.2 1124.7L1915.6 1124.1L1916 1123.6L1916.4 1123L1916.8 1122.4L1917.2 1121.8L1917.6 1121.2L1918 1120.6L1918.4 1120L1918.7 1119.2L1919.1 1118.3L1919.5 1117.3L1919.9 1116.3L1920.3 1115.3L1920.7 1114.2L1921.1 1113.3L1921.5 1112.4L1921.9 1111.7L1922.2 1111.1L1922.6 1110.8L1923 1110.7L1923 1110.7L1923.4 1110.8L1923.8 1111.2L1924.2 1111.9L1924.6 1112.7L1925 1113.7L1925.4 1114.7L1925.7 1115.9L1926.1 1117L1926.5 1118.2L1926.9 1119.3L1927.3 1120.4L1927.7 1121.6L1928.1 1122.9L1928.5 1124.5L1928.9 1126.1L1929.2 1127.8L1929.6 1129.5L1930 1119.1L1930.4 1145.6L1930.8 1122.5L1931.2 1131.9L1931.6 1134.4L1931.6 1136.2L1932 1149.3L1932.4 1151.5L1932.7 1146.4L1933.1 1170.1L1933.5 1167.3L1933.9 1159.4L1934.3 1167.9L1934.7 1144.8L1935.1 1156.3L1935.5 1142.9L1935.9 1126.5L1936.2 1122.3L1936.6 1110L1937 1100.8L1937.4 1095.9L1937.8 1087.1L1938.2 1082.4L1938.6 1078.9L1939 1076.2L1939.4 1073.9L1939.7 1068.9L1940.1 1065.9L1940.5 1060.5L1940.9 1052.6L1941.3 1067.1L1941.7 1048.7L1942.1 1054.1L1942.5 1052.3L1942.9 1062.6L1943.2 1057L1943.6 1057L1944 1061.9L1944.4 1055.9L1944.8 1070.2L1945.2 1069L1945.6 1058.2L1946 1062.1L1946.4 1077L1946.7 1063.3L1946.8 1065.4L1947.1 1060.8L1947.5 1067.5L1947.9 1067.3L1948.3 1074.6L1948.7 1067.8L1949.1 1067.8L1949.5 1067.8L1949.9 1067.8L1950.2 1067.8L1950.6 1067.8L1950.6 1067.8L1951 1067.9L1951.4 1068.2L1951.8 1068.7L1952.2 1069.4L1952.6 1070.3L1953 1071.3L1953.4 1072.5L1953.7 1073.8L1954.1 1075.1L1954.5 1076.6L1954.9 1078.2L1955.3 1079.8L1955.7 1081.5L1956.1 1083.2L1956.5 1084.9L1956.9 1086.6L1957.2 1088.3L1957.6 1090L1958 1091.6L1958.4 1093.2L1958.8 1094.7L1959.2 1096.1L1959.6 1097.5L1960 1098.7L1960.4 1099.8L1960.7 1100.9L1961.1 1102L1961.5 1103.1L1961.9 1104.3L1962.3 1105.5L1962.7 1106.6L1963.1 1107.8L1963.5 1109L1963.9 1110.2L1964.2 1111.5L1964.6 1112.7L1965 1113.9L1965.4 1115.1L1965.8 1116.3L1966.2 1117.5L1966.6 1118.7L1967 1119.9L1967.4 1121.1L1967.7 1122.2L1968.1 1123.4L1968.5 1124.5L1968.9 1125.6L1969.3 1126.7L1969.7 1127.8L1970.1 1128.8L1970.5 1129.8L1970.9 1130.8L1971.2 1131.7L1971.6 1132.7L1972 1133.5L1972.4 1134.4L1972.8 1135.2L1973.2 1136L1973.6 1136.7L1974 1137.3L1974.4 1138L1974.7 1138.5L1975.1 1139.1L1975.5 1139.5L1975.9 1139.9L1976.3 1140.3L1976.7 1140.6L1977.1 1140.8L1977.5 1141L1977.9 1141.1L1978.2 1141.2L1978.3 1141.2L1978.6 1141L1979 1140.5L1979.4 1139.6L1979.8 1138.5L1979.8 1138.5L1980.2 1137L1980.6 1135.4L1981 1133.4L1981.4 1131.3L1981.7 1129L1982.1 1126.6L1982.5 1124L1982.9 1121.4L1983.3 1118.6L1983.7 1115.8L1984.1 1113L1984.5 1110.2L1984.9 1107.4L1985.2 1104.7L1985.6 1102L1986 1099.4L1986.4 1097L1986.8 1094.7L1987.2 1092.6L1987.6 1090.7L1988 1088.9L1988.4 1087L1988.7 1085L1989.1 1083L1989.5 1081L1989.9 1078.9L1990.3 1076.8L1990.7 1074.8L1991.1 1072.7L1991.5 1070.7L1991.9 1068.7L1992.2 1066.8L1992.6 1065L1993 1063.2L1993.4 1061.6L1993.8 1060L1994.2 1058.6L1994.6 1057.4L1995 1056.2L1995.4 1055.3L1995.7 1054.5L1996.1 1054L1996.5 1053.6L1996.9 1053.5L1996.9 1053.5L1997.3 1053.6L1997.7 1054L1997.7 1054L1998.1 1054.6L1998.5 1055.4L1998.9 1056.5L1999.2 1057.7L1999.6 1059.1L2000 1060.6L2000.4 1062.3L2000.8 1064.1L2001.2 1066L2001.6 1068L2002 1070L2002.4 1072.1L2002.7 1074.2L2003.1 1076.3L2003.5 1078.4L2003.9 1080.4L2004.3 1082.4L2004.7 1084.3L2005.1 1086.2L2005.5 1087.9L2005.9 1089.5L2006.2 1091.1L2006.6 1092.7L2007 1094.5L2007.4 1096.4L2007.8 1098.3L2008.2 1100.2L2008.6 1102.1L2009 1104.1L2009.4 1106L2009.7 1107.8L2010.1 1109.6L2010.5 1111.2L2010.9 1112.8L2011.3 1114.2L2011.7 1115.4L2012.1 1116.4L2012.5 1117.3L2012.9 1117.9L2013.2 1118.2L2013.5 1118.3L2013.6 1118.3L2014 1118.2L2014.4 1118L2014.8 1117.6L2015.2 1117.2L2015.6 1116.8L2016 1116.2L2016.4 1115.7L2016.7 1115.1L2017.1 1114.6L2017.5 1114L2017.9 1113.5L2018.3 1113.1L2018.7 1112.7L2019.1 1112.3L2019.5 1111.9L2019.9 1111.5L2020.2 1111.1L2020.6 1110.7L2021 1110.3L2021.4 1109.9L2021.8 1109.6L2022.2 1109.3L2022.6 1109L2023 1108.9L2023.4 1108.8L2023.6 1108.7L2023.7 1108.7L2024.1 1108.8L2024.5 1109L2024.9 1109.2L2025.3 1109.4L2025.7 1109.7L2026.1 1110.1L2026.5 1110.5L2026.9 1110.9L2027.2 1111.3L2027.6 1111.7L2028 1112L2028.4 1112.4L2028.8 1112.8L2029.2 1113.2L2029.6 1113.7L2030 1114.3L2030.4 1114.8L2030.7 1115.3L2031.1 1115.8L2031.5 1116.3L2031.9 1116.7L2032.3 1117L2032.7 1117.2L2033.1 1117.3L2033.2 1117.3L2033.5 1117.3L2033.9 1117.1L2034.2 1116.8L2034.6 1116.5L2035 1116L2035.4 1115.4L2035.8 1114.7L2036.2 1114L2036.6 1113.2L2037 1112.3L2037.4 1111.4L2037.7 1110.4L2038.1 1109.4L2038.5 1108.3L2038.9 1107.3L2039.3 1106.2L2039.7 1105.2L2040.1 1104.1L2040.5 1103L2040.9 1102L2041.2 1101L2041.6 1100L2042 1099.1L2042.4 1098.3L2042.8 1097.4L2043.2 1096.7L2043.6 1096.1L2044 1095.5L2044.4 1095L2044.7 1094.5L2045.1 1094.1L2045.5 1093.7L2045.9 1093.3L2046.3 1092.9L2046.7 1092.6L2047.1 1092.3L2047.5 1091.9L2047.9 1091.6L2048.2 1091.3L2048.6 1090.9L2049 1090.6L2049.4 1090.2L2049.8 1089.9L2050.2 1089.5L2050.6 1089.1L2051 1088.6L2051.4 1088.2L2051.7 1087.7L2052.1 1087.1L2052.5 1086.4L2052.9 1085.6L2053.3 1084.8L2053.7 1083.9L2054.1 1082.9L2054.5 1081.9L2054.9 1080.9L2055.2 1079.8L2055.6 1078.7L2056 1077.6L2056.4 1076.5L2056.8 1075.4L2057.2 1074.2L2057.6 1073.2L2058 1072.1L2058.4 1071.1L2058.7 1070.1L2059.1 1069.2L2059.5 1068.4L2059.9 1067.6L2060.3 1066.9L2060.7 1066.3L2061.1 1065.8L2061.5 1065.4L2061.9 1065.1L2062.2 1064.9L2062.5 1064.9L2062.6 1064.9L2063 1065L2063.4 1065.3L2063.8 1065.7L2064 1066L2064.2 1066.2L2064.6 1066.9L2065 1067.7L2065.4 1068.5L2065.7 1069.5L2066.1 1070.6L2066.5 1071.7L2066.9 1072.9L2067.3 1074.2L2067.7 1075.5L2068.1 1076.9L2068.5 1078.3L2068.9 1079.8L2069.2 1081.3L2069.6 1082.7L2070 1084.2L2070.4 1085.7L2070.8 1087.2L2071.2 1088.7L2071.6 1090.1L2072 1091.5L2072.4 1092.8L2072.7 1094.1L2073.1 1095.4L2073.5 1096.6L2073.9 1097.7L2074.3 1098.7L2074.7 1099.6L2075.1 1100.5L2075.5 1101.5L2075.9 1102.5L2076.2 1103.5L2076.6 1104.6L2077 1105.6L2077.4 1106.7L2077.8 1107.7L2078.2 1108.7L2078.6 1109.7L2079 1110.7L2079.4 1111.7L2079.7 1112.6L2080.1 1113.5L2080.5 1114.3L2080.9 1115L2081.3 1115.7L2081.7 1116.4L2082.1 1116.9L2082.5 1117.4L2082.9 1117.8L2083.2 1118L2083.6 1118.2L2084 1118.3L2084.1 1118.3L2084.4 1118.2L2084.8 1118L2085.2 1117.6L2085.6 1117.2L2086 1116.6L2086.4 1116L2086.7 1115.4L2087.1 1114.7L2087.5 1114.1L2087.9 1113.5L2088.3 1112.9L2088.7 1112.4L2089.1 1111.9L2089.5 1111.5L2089.9 1111L2090.2 1110.5L2090.6 1110L2091 1109.6L2091.4 1109.1L2091.8 1108.7L2092.2 1108.4L2092.6 1108.1L2093 1107.9L2093.4 1107.8L2093.6 1107.8L2093.7 1107.8L2094.1 1107.9L2094.5 1108.1L2094.9 1108.3L2095.3 1108.6L2095.7 1109L2096.1 1109.5L2096.5 1109.9L2096.9 1110.5L2097.2 1111L2097.6 1111.6L2098 1112.1L2098.4 1112.7L2098.8 1113.3L2099.2 1113.8L2099.6 1114.4L2100 1114.9L2100.4 1115.5L2100.7 1116.1L2101.1 1116.8L2101.5 1117.6L2101.9 1118.4L2102.3 1119.1L2102.7 1119.9L2103.1 1120.7L2103.5 1121.4L2103.9 1122.1L2104.2 1122.7L2104.6 1123.2L2105 1123.6L2105.4 1123.8L2105.8 1124L2106 1124L2106.2 1124L2106.6 1123.9L2107 1123.6L2107.4 1123.3L2107.7 1122.8L2108.1 1122.3L2108.5 1121.7L2108.9 1121L2109.3 1120.3L2109.7 1119.5L2110.1 1118.7L2110.5 1117.9L2110.9 1117L2111.2 1116.1L2111.6 1115.3L2112 1114.4L2112.4 1113.5L2112.8 1112.7L2113.2 1111.9L2113.6 1111.1L2114 1110.4L2114.4 1109.8L2114.7 1109.2L2115.1 1108.7L2115.5 1108.3L2115.9 1108L2116.3 1107.8L2116.7 1107.7L2117.1 1107.7L2117.5 1107.6L2117.9 1107.5L2118.2 1107.5L2118.6 1107.5L2119 1107.4L2119.4 1107.4L2119.8 1107.3L2120.2 1107.3L2120.6 1107.3L2121 1107.3L2121.4 1107.2L2121.7 1107.2L2122.1 1107.1L2122.5 1107.1L2122.9 1107L2123.3 1107L2123.7 1106.9L2124.1 1106.8L2124.5 1106.7L2124.9 1106.5L2125 1106.4L2125.2 1106.3L2125.6 1106L2126 1105.7L2126.4 1105.3L2126.8 1104.9L2127.2 1104.5L2127.6 1104.1L2128 1103.7L2128.4 1103.3L2128.7 1102.9L2129.1 1102.5L2129.5 1102.2L2129.9 1101.9L2130.3 1101.6L2130.7 1101.4L2131.1 1101.2L2131.5 1101.1L2131.7 1101.1L2131.9 1101.1L2132.2 1101.3L2132.6 1101.5L2133 1102L2133.4 1102.5L2133.8 1103.2L2134.2 1103.9L2134.6 1104.7L2135 1105.6L2135.4 1106.6L2135.7 1107.6L2136.1 1108.7L2136.5 1109.7L2136.9 1110.8L2137.3 1111.9L2137.7 1113L2138.1 1114L2138.5 1115.1L2138.9 1116L2139.2 1117L2139.6 1118.2L2140 1119.4L2140.4 1120.8L2140.8 1122.2L2141.2 1123.6L2141.6 1125.1L2142 1126.6L2142.4 1128.1L2142.7 1129.5L2143.1 1130.8L2143.5 1132.1L2143.9 1133.2L2144.3 1134.2L2144.7 1135L2145.1 1135.7L2145.5 1136.1L2145.9 1136.4L2146 1136.4L2146.2 1136.4L2146.6 1136.2L2147 1135.8L2147.4 1135.4L2147.8 1134.8L2148.2 1134.2L2148.6 1133.5L2149 1132.7L2149.4 1131.9L2149.7 1131.2L2150.1 1130.5L2150.5 1129.8L2150.9 1129.2L2151.3 1128.6L2151.7 1128.1L2152.1 1127.6L2152.5 1127L2152.9 1126.5L2153.2 1125.9L2153.6 1125.4L2154 1124.9L2154.4 1124.4L2154.8 1124L2155.2 1123.6L2155.6 1123.3L2156 1123.1L2156.4 1123L2156.5 1123L2156.7 1123.1L2157.1 1123.1L2157.5 1123.2L2157.9 1123.4L2158.3 1123.6L2158.7 1123.9L2159.1 1124.2L2159.5 1124.6L2159.9 1125L2160.2 1125.5L2160.6 1126.1L2161 1126.7L2161.4 1127.3L2161.8 1128.1L2162.2 1128.8L2162.6 1129.7L2163 1130.5L2163.4 1131.5L2163.7 1132.5L2164.1 1133.5L2164.5 1134.6L2164.9 1135.8L2165.3 1137L2165.7 1138.3L2166.1 1139.7L2166.5 1141.1L2166.9 1142.5L2167.2 1144L2167.6 1145.6" stroke="#f00" stroke-width="1.85"/>
<path id="diff" d="M379.5 1410.1L379.9 1398.9L380.3 1409.8L380.7 1408L381.1 1407.5L381.5 1412L381.8 1416.2L382.2 1404.9L382.6 1406.8L383 1420.3L383.4 1395.3L383.8 1402.9L384.2 1408.3L384.6 1401.9L385 1408.1L385 1406.8L385.3 1402.2L385.7 1411.6L386.1 1404.7L386.5 1400.5L386.9 1401.2L387.3 1410.7L387.7 1402.7L388.1 1413L388.5 1394.5L388.8 1377L389.2 1378.7L389.3 1371.5L389.6 1367.4L390 1377.4L390.4 1401.5L390.8 1408.8L391.2 1421.5L391.6 1419.9L391.6 1419.8L392 1411.8L392.3 1408.5L392.7 1415.1L393.1 1417.6L393.5 1408.2L393.9 1407.2L394.3 1409.1L394.7 1400.3L395.1 1407.6L395.5 1406.9L395.8 1412.6L396.2 1405L396.6 1397.6L397 1402.7L397.4 1402.7L397.8 1400.2L398.1 1400.9L398.2 1399.5L398.6 1400L399 1400.3L399.3 1405.7L399.7 1402.7L400.1 1413.6L400.5 1402.5L400.9 1411.2L401.3 1404.1L401.7 1400.7L402.1 1405.6L402.5 1402.3L402.8 1411.9L403.2 1406.6L403.6 1396.6L404 1399.9L404.4 1394.2L404.6 1400.7L404.8 1400.6L405.2 1401.4L405.6 1395.9L406 1392.6L406.3 1401.8L406.7 1396.6L407.1 1386.2L407.5 1397.9L407.9 1401.3L408.3 1394.7L408.7 1398.7L409.1 1401.8L409.5 1408.4L409.8 1393.1L410.2 1401L410.6 1397.3L411 1403.2L411.4 1388.7L411.8 1391.5L412.2 1389.5L412.6 1395.4L413 1391.5L413.3 1388.5L413.7 1387.1L414.1 1390.6L414.5 1392L414.9 1392.9L415.3 1394.1L415.7 1394.3L416.1 1385.2L416.5 1387.5L416.8 1396.6L417.2 1384.7L417.6 1376.6L418 1384.1L418.4 1393.3L418.8 1383.4L419.2 1378.5L419.6 1382.6L420 1387.1L420.3 1374.6L420.7 1375.2L421.1 1387.9L421.5 1383.3L421.9 1386.6L422.3 1384.9L422.7 1381.5L423.1 1385.7L423.5 1390.4L423.8 1394.9L424.2 1395.9L424.6 1391.1L425 1383.7L425.4 1388.4L425.8 1389.3L426.2 1387.4L426.6 1388L427 1384.3L427.3 1393.6L427.7 1398.2L428.1 1388.5L428.5 1392.5L428.9 1375.3L429.3 1384.8L429.7 1384.1L430.1 1390L430.5 1375.8L430.8 1374.7L431.2 1356.1L431.6 1356.1L431.7 1364.1L432 1364.1L432.4 1394.7L432.8 1391.4L433.2 1383.9L433.6 1387.4L434 1391L434.3 1392.2L434.7 1400.1L434.9 1399.8L435.1 1390.6L435.5 1381.6L435.9 1405.4L436.3 1389.1L436.7 1389.6L437.1 1387.7L437.5 1398.6L437.8 1396.4L438.2 1392.5L438.6 1398.2L439 1398.3L439.4 1394.9L439.8 1388.4L440.2 1383.8L440.6 1384.1L441 1381.5L441.3 1384.4L441.7 1383.1L442.1 1371L442.5 1377.2L442.9 1376.9L443.3 1370.6L443.7 1368.7L444.1 1368.2L444.5 1373L444.8 1375.4L445.2 1372.9L445.6 1372.2L446 1361.5L446.4 1363.7L446.8 1354.9L447.2 1343.5L447.6 1307.7L448 1301.7L448.3 1289L448.3 1289.5L448.7 1346.8L449.1 1382.5L449.5 1431.3L449.9 1440.8L450.3 1444.9L450.7 1423.8L451 1408.2L451.1 1411.7L451.5 1396.5L451.8 1377.3L452.2 1357.3L452.3 1360.8L452.6 1357.7L452.9 1354.5L453 1367.9L453.4 1371.5L453.8 1378.5L454.2 1390.6L454.6 1397.6L455 1399.6L455.3 1387.8L455.7 1395.2L456.1 1390.8L456.5 1392.8L456.8 1397.9L456.9 1383.5L457.3 1399.2L457.7 1397.8L458.1 1392L458.5 1392.7L458.8 1390.6L459.2 1390L459.6 1379.7L460 1384.7L460.4 1382.4L460.8 1393.7L461.2 1388.8L461.6 1376.6L462 1389.9L462.3 1374.9L462.7 1387.7L463.1 1379L463.5 1384.9L463.9 1377.4L464.3 1383.3L464.7 1379.7L465.1 1370.5L465.5 1389.6L465.8 1385.7L466.2 1411.9L466.6 1421.3L467 1404.8L467.4 1384.1L467.8 1358.4L468 1349.7L468.2 1343.7L468.6 1361.4L469 1369.3L469.3 1391.3L469.7 1394.8L470.1 1402.5L470.5 1403.4L470.9 1395.5L471.3 1388.3L471.7 1384.7L472.1 1394L472.4 1381.7L472.5 1383.3L472.8 1391.1L473.2 1381.3L473.6 1398.7L474 1383.9L474.4 1371.3L474.8 1393.6L475.2 1388.3L475.6 1400.9L476 1394.8L476.3 1386.3L476.7 1397.9L477.1 1392.1L477.5 1394.3L477.9 1394.5L478.3 1391.2L478.7 1389.4L479.1 1384.9L479.5 1387.4L479.8 1396L480.2 1383.9L480.6 1384.8L481 1401.9L481.4 1388L481.8 1386.6L482.2 1385.2L482.6 1387L483 1397.4L483.3 1390L483.7 1399.8L484.1 1386.9L484.5 1372.3L484.9 1379.5L485.3 1377.7L485.7 1385.2L486.1 1387.7L486.5 1387.7L486.8 1380L487.2 1385.3L487.6 1383.9L488 1372.6L488.4 1389.5L488.8 1387.3L489.2 1381.7L489.6 1377.1L490 1373.6L490.3 1376.7L490.7 1361.8L491.1 1362.2L491.4 1361L491.5 1373.8L491.9 1374.6L492.3 1379.2L492.7 1387.1L493.1 1386L493.5 1389.3L493.8 1376.7L494 1404.1L494.2 1393.3L494.6 1394.2L495 1385.6L495.3 1389.2L495.4 1388.9L495.8 1383.2L496.2 1397L496.6 1391.1L497 1386.6L497.3 1392.3L497.6 1382.3L497.7 1382.6L498.1 1388.9L498.5 1395.3L498.9 1374.2L499.3 1381L499.7 1380.9L500.1 1382.6L500.5 1382.7L500.8 1377.1L501.2 1382L501.6 1385.6L502 1377.2L502.4 1381.1L502.8 1385.6L503.2 1385.8L503.6 1372.4L504 1375.2L504.3 1366.5L504.7 1381.7L505.1 1381.9L505.5 1372.6L505.9 1364.8L506.3 1368.5L506.7 1368.8L507.1 1376.5L507.3 1377.9L507.5 1394.1L507.8 1403.6L508.2 1405.3L508.6 1399.3L509 1392.1L509.4 1393.3L509.8 1385.1L510.2 1398.6L510.6 1379.1L510.7 1395.5L511 1381.7L511.3 1393.4L511.7 1384.3L512.1 1385.3L512.5 1381.4L512.9 1378L513.3 1381.9L513.7 1379.7L514.1 1377.6L514.5 1388.1L514.8 1386.4L515.2 1394.8L515.5 1388.7L515.6 1378.6L516 1396L516.4 1407.3L516.8 1403.3L517.2 1389.3L517.6 1395.8L518 1402.9L518.3 1401.4L518.7 1401.8L519 1400.1L519.1 1391.8L519.5 1393.1L519.9 1399.6L520.3 1391.9L520.7 1395.7L521.1 1397.2L521.5 1400.6L521.8 1381.7L522.2 1396L522.6 1391.7L523 1390.8L523.4 1399.3L523.8 1393.9L524.2 1393.8L524.6 1395.5L525 1382.7L525.3 1393.7L525.7 1396.1L526.1 1389.7L526.5 1381.6L526.9 1385.6L527.3 1393.9L527.7 1395.3L528.1 1394.8L528.5 1392L528.8 1384.4L529.2 1380.5L529.6 1399.2L530 1384.3L530.4 1390.6L530.8 1379L531.2 1377.4L531.6 1388.1L532 1386.2L532.3 1389.7L532.7 1381.6L533.1 1394.5L533.5 1391.6L533.9 1388.7L534.3 1376.3L534.7 1368.8L535.1 1384.5L535.5 1393.4L535.8 1385.9L536.2 1390.8L536.6 1377.6L537 1380.8L537.4 1370.4L537.8 1364.4L538.2 1359L538.6 1361.8L539 1352.5L539.3 1359.3L539.7 1373.1L540 1362.3L540.1 1377.2L540.5 1405.7L540.9 1405.6L541.3 1419L541.7 1405.1L542.1 1408.2L542.5 1393.5L542.8 1400L543.2 1389.6L543.5 1394.1L543.6 1374.7L544 1389.2L544.4 1375.8L544.8 1373.9L545.2 1372.3L545.6 1367.5L546 1385.4L546.3 1374.8L546.7 1377L547.1 1378.5L547.4 1379.6L547.5 1387.4L547.9 1397.3L548.3 1395L548.7 1384.6L549.1 1400.8L549.5 1391.7L549.8 1396.8L550.2 1382.1L550.6 1398.6L551 1389.4L551.4 1387.5L551.8 1385.5L552.2 1370.5L552.4 1375.4L552.6 1392L553 1371.8L553.3 1393.3L553.7 1397.8L554.1 1395.6L554.5 1384.8L554.9 1382.6L555.3 1399.8L555.7 1382L556.1 1384.7L556.5 1375.5L556.8 1378.5L557.2 1365.8L557.6 1364.1L558 1374.5L558.4 1360.6L558.8 1372.9L559.2 1374.4L559.6 1375.8L560 1395.2L560.1 1393.6L560.3 1407.5L560.7 1416.4L561.1 1408.8L561.5 1404.4L561.9 1393.5L562.3 1389.8L562.7 1397.6L563.1 1403.3L563.5 1377.4L563.8 1382.6L563.8 1396.8L564.2 1400.3L564.6 1395.9L565 1390L565.4 1383.8L565.8 1384.5L566.2 1387.7L566.6 1391.8L567 1388.9L567.3 1391.7L567.7 1388.9L568.1 1389.7L568.5 1385.3L568.9 1400.4L569.3 1390.2L569.7 1389.6L570.1 1394.8L570.5 1388.3L570.8 1393.5L571.2 1390.7L571.6 1388.3L572 1388.1L572.4 1390.2L572.8 1379L573.2 1383.2L573.6 1378L574 1371.4L574.3 1371L574.7 1370.4L575.1 1362.6L575.5 1377.9L575.9 1396.3L576.1 1407.2L576.3 1397L576.7 1415.6L577.1 1413.3L577.5 1411.8L577.8 1405.2L578.2 1398.1L578.6 1401.2L579 1390.4L579.4 1381L579.8 1378.4L579.8 1393.2L580.2 1388.8L580.6 1387.4L581 1379.5L581.3 1372L581.7 1375.6L582.1 1389.7L582.5 1379L582.9 1375.5L583.3 1385.1L583.7 1371.4L584.1 1389.5L584.5 1378.9L584.8 1371.8L585.2 1395.2L585.6 1389.1L586 1383.8L586.4 1367.5L586.8 1401.3L587.2 1387.6L587.5 1392.4L587.6 1397.9L588 1406.5L588.3 1403.5L588.7 1397.7L589.1 1399.8L589.5 1378.4L589.9 1393L590.1 1385.8L590.3 1384.6L590.7 1379.9L591.1 1374.8L591.5 1378.6L591.8 1373.1L592.2 1358L592.6 1358.9L593 1364.5L593.4 1354.7L593.8 1365L594.2 1363.7L594.6 1385.3L594.7 1390L595 1406.4L595.3 1403.5L595.7 1410.3L596.1 1404.2L596.5 1402.4L596.9 1398.6L597.3 1397.6L597.7 1394.3L598.1 1394.7L598.1 1402.2L598.5 1399.7L598.8 1385.2L599.2 1382.8L599.6 1386.8L600 1399L600.4 1375.4L600.8 1379.7L601.2 1376.4L601.6 1368.3L602 1360.4L602.3 1333.5L602.7 1326.7L603.1 1347.3L603.4 1354.5L603.5 1359.8L603.9 1382.4L604.3 1421.8L604.7 1404.4L605.1 1398.6L605.5 1409L605.8 1405.6L606.2 1395.7L606.6 1398.5L606.8 1408L607 1405.8L607.4 1404.4L607.8 1406.6L608.2 1396.7L608.6 1399.1L609 1394L609.3 1388.4L609.7 1380.5L610.1 1391.6L610.5 1407.7L610.5 1386.1L610.9 1397.3L611.3 1388.5L611.7 1397.8L612.1 1391.6L612.5 1393.6L612.8 1392.2L613.2 1382.9L613.3 1395.1L613.6 1388.6L614 1387L614.4 1390L614.8 1401.1L615.2 1383.7L615.6 1404.3L616 1395.3L616.3 1388.3L616.7 1382.5L617.1 1379.7L617.5 1380.1L617.9 1381.6L618.3 1387.2L618.7 1375.9L619.1 1385L619.5 1375.3L619.8 1397.1L620.2 1388.6L620.6 1386.2L620.8 1383L621 1401.8L621.4 1382L621.8 1378.8L622.2 1378.3L622.6 1386.3L623 1372.5L623.1 1385.4L623.3 1373.7L623.7 1376.3L624.1 1371.7L624.5 1366.2L624.9 1358.4L625.3 1344.5L625.7 1338.2L626.1 1337.3L626.5 1341.1L626.8 1350.1L627.2 1368.4L627.3 1363.6L627.6 1405.9L628 1421.7L628.4 1417.8L628.8 1424.1L629.2 1407.3L629.6 1400.6L630 1403.9L630.3 1398.9L630.7 1387.1L630.9 1391.7L631.1 1389.8L631.5 1384.5L631.9 1396.6L632.3 1401.2L632.7 1394.8L633.1 1392.4L633.5 1407.7L633.8 1391.5L634.2 1397.8L634.6 1398L635 1400.3L635.4 1394.9L635.8 1386.1L636.2 1387.6L636.6 1384.3L637 1390.8L637.3 1376.5L637.7 1377.5L638.1 1384.7L638.5 1399.9L638.9 1380.2L639.3 1361.7L639.7 1380.8L640.1 1388.7L640.5 1372.9L640.8 1390.2L641.2 1383.8L641.6 1383.4L642 1400.4L642.4 1392.4L642.8 1388.7L643.2 1402.7L643.3 1400L643.6 1412.4L644 1409.8L644.3 1400.7L644.7 1416.1L645.1 1406L645.5 1393.6L645.5 1397.7L645.9 1387.2L646.3 1374.2L646.7 1366.1L647.1 1360.6L647.5 1346.5L647.8 1337.1L648.2 1346.8L648.5 1372.4L648.6 1370.9L649 1414.1L649.4 1417L649.8 1413.2L650.2 1406.2L650.6 1413.4L651 1385.1L651.3 1400.7L651.7 1391.4L652.1 1385.9L652.5 1379.3L652.5 1391.4L652.9 1389L653.3 1382.4L653.7 1379.8L654.1 1374.9L654.5 1378.6L654.8 1384.7L655.2 1398.9L655.3 1384.1L655.6 1417.8L656 1409.7L656.4 1411.3L656.8 1404.8L657.2 1400.8L657.6 1397.3L658 1406.9L658.3 1403.2L658.7 1416.1L658.8 1400.5L659.1 1404.3L659.5 1396.6L659.9 1384.6L660.3 1389.5L660.7 1380L661.1 1385.8L661.5 1378.7L661.8 1381.4L662.2 1393.9L662.6 1380.1L663 1377.3L663.4 1377L663.8 1382.9L664.2 1389.3L664.6 1384.1L665 1385.6L665.3 1391.5L665.7 1382.2L666.1 1400.9L666.5 1388.5L666.7 1386.9L666.9 1375.9L667.3 1386.8L667.7 1392L668.1 1380.3L668.5 1369.9L668.8 1382.9L669.2 1382.6L669.6 1384.1L670 1383.2L670.4 1375.6L670.8 1371.7L671.2 1381.9L671.6 1385.7L672 1372L672.3 1383.2L672.7 1382.4L673.1 1384.1L673.5 1382.3L673.9 1376.9L674.3 1376.4L674.7 1364.8L675.1 1360.8L675.5 1353.5L675.8 1357.7L676.2 1356.4L676.6 1355.1L677 1359.7L677.4 1364.8L677.8 1378.9L677.9 1379.5L678.2 1420.5L678.6 1419.5L679 1423.4L679.3 1398.9L679.7 1388.5L680.1 1375.2L680.5 1336.3L680.9 1341.1L681.3 1347.5L681.4 1351.8L681.7 1350.5L682.1 1372.1L682.5 1373.7L682.8 1369.6L683.2 1383.9L683.6 1380.6L684 1391.4L684.4 1401.2L684.8 1413L685.2 1421.3L685.6 1404.7L686 1411.9L686.3 1406.2L686.7 1399.2L687.1 1406.1L687.5 1373.3L687.9 1377.1L687.9 1382.2L688.3 1377.2L688.7 1367.6L689.1 1344.8L689.5 1336.3L689.8 1345.9L690.2 1352.8L690.6 1357.2L691 1368.2L691.4 1383.7L691.8 1367.5L692.2 1370.3L692.6 1366.9L693 1376.8L693.3 1384.4L693.7 1377.4L694.1 1371.4L694.5 1371.1L694.9 1387.1L695.3 1419.4L695.7 1442.9L696.1 1436.4L696.4 1428.6L696.5 1429.8L696.8 1434.7L697.2 1414.8L697.6 1413.8L698 1408.9L698.4 1389.4L698.8 1379.7L699 1348.2L699.2 1358.9L699.6 1362.4L700 1357.5L700.3 1376.4L700.7 1409.5L701.1 1430.4L701.5 1429.2L701.9 1415.3L702.3 1395.3L702.7 1370.1L703.1 1352.8L703.5 1343.1L703.8 1368.6L704 1373.7L704.2 1419.9L704.6 1427.2L705 1425.2L705.4 1434.9L705.8 1407.1L706.2 1399.7L706.6 1425.2L707 1418.7L707.2 1412.9L707.3 1413.5L707.5 1415.5L707.7 1411.9L708.1 1390.3L708.5 1372.3L708.9 1359.4L709.3 1370.4L709.5 1377.2L709.7 1380.2L710.1 1422.1L710.5 1396L710.8 1406.6L711.2 1388.8L711.6 1408.8L712 1390.7L712.4 1380.5L712.8 1384.5L713.2 1376.3L713.4 1388.5L713.6 1386.7L714 1388.4L714.3 1381.5L714.7 1381.8L715.1 1385.4L715.5 1387.6L715.9 1392.5L716 1391.4L716.3 1402.9L716.7 1397.8L717.1 1396.6L717.5 1396.5L717.8 1393.8L718.2 1377.5L718.6 1389.9L719 1380.9L719.2 1372.7L719.4 1375.8L719.8 1379.1L720.2 1371.1L720.6 1387.1L721 1385.4L721.3 1379.6L721.7 1378.6L722.1 1378.3L722.5 1365.4L722.9 1367.5L723.3 1380.3L723.7 1378.6L724.1 1384.8L724.5 1373.5L724.8 1383.1L725.2 1363.3L725.6 1375.5L726 1365.7L726.4 1374.2L726.8 1364.1L727.1 1367.6L727.2 1363.8L727.6 1397.1L728 1423.7L728.3 1420.6L728.7 1423L729.1 1399.7L729.5 1412.4L729.9 1413.1L730.3 1404.1L730.7 1406.6L731.1 1402.4L731.4 1402.7L731.5 1404.3L731.8 1402.9L732.2 1403.2L732.6 1374.9L733 1374.4L733.4 1380.9L733.8 1373L734.2 1373.4L734.2 1373.1L734.6 1374.5L735 1372.3L735.3 1377.6L735.7 1393.6L736.1 1397.8L736.5 1370.8L736.9 1376.4L737.3 1398.9L737.5 1381.1L737.7 1388.8L738.1 1386.3L738.5 1400.6L738.8 1377.1L739.2 1382.4L739.6 1375L740 1371.4L740.4 1368.9L740.8 1365.7L741.2 1377L741.6 1382.6L741.7 1390.7L742 1387.2L742.3 1395.7L742.7 1403.3L743.1 1386.8L743.5 1389.8L743.9 1412.8L744.3 1406.9L744.7 1395.3L745.1 1402.9L745.5 1384.6L745.7 1391.3L745.8 1388.6L746.2 1385.8L746.6 1382.9L747 1394.3L747.4 1388.4L747.8 1391.4L748.2 1388L748.6 1390.1L749 1384.3L749.3 1390.6L749.7 1397.7L750.1 1393.2L750.5 1401.5L750.9 1390.8L751.3 1381.7L751.7 1395.6L752.1 1400.9L752.5 1387.3L752.8 1388.1L753.2 1383L753.6 1386.2L754 1381.1L754.4 1389L754.8 1371.6L755.2 1385.4L755.6 1382.3L756 1384.2L756.2 1394.3L756.3 1395.5L756.7 1410.3L757.1 1419.2L757.5 1422.9L757.9 1419.1L758.3 1427.6L758.7 1417L759 1407.6L759.1 1405.1L759.5 1383.6L759.8 1385.9L760.2 1381.7L760.6 1368.4L761 1347.8L761.4 1350L761.8 1353L761.9 1356L762.2 1383.2L762.6 1387.2L763 1398.2L763.3 1413.1L763.7 1420.7L764.1 1415.7L764.5 1426.8L764.9 1410.6L765.3 1403.7L765.3 1406.8L765.7 1407L766.1 1382.9L766.5 1379.8L766.8 1367L767.2 1357.3L767.6 1351.9L768 1356.9L768.2 1362.1L768.4 1375.4L768.8 1373.1L769.2 1407.6L769.6 1400.4L770 1416.8L770.3 1417.1L770.7 1427.6L771.1 1412L771.5 1415.5L771.9 1409.8L772.3 1403.2L772.5 1392.3L772.7 1398.6L773.1 1388.3L773.5 1371.1L773.8 1388.5L774.2 1391L774.6 1392.9L775 1379.1L775.4 1383.4L775.8 1388.3L776.2 1387.7L776.6 1380.2L777 1386.1L777.3 1363.5L777.7 1379.3L778.1 1378.3L778.5 1377L778.9 1391L779.3 1391.2L779.7 1386.6L779.9 1386.7L780.1 1396.9L780.5 1378.6L780.8 1389.4L781.2 1385.4L781.6 1388L782 1399.2L782.4 1381.7L782.8 1399.1L783.2 1414L783.6 1417.8L784 1401.5L784.3 1395.3L784.7 1400.3L785.1 1387.4L785.5 1400L785.9 1391.4L786.3 1387.4L786.7 1397.7L787.1 1386.6L787.5 1384.6L787.8 1378.1L788.2 1377L788.6 1381L789 1398.9L789.4 1394.1L789.7 1392.3L789.8 1398L790.2 1386.1L790.6 1376.8L791 1367.3L791.3 1372L791.7 1368L792.1 1369.5L792.5 1370.3L792.9 1375.1L793.3 1373.2L793.7 1378.7L794.1 1372.3L794.5 1366.1L794.8 1366.8L795.2 1366.3L795.6 1373L796 1363.4L796.4 1377.8L796.8 1370.9L797.2 1375.3L797.6 1385.8L798 1387.9L798.3 1380L798.7 1387.2L799.1 1387.6L799.5 1369.4L799.9 1388.3L800.3 1392.2L800.7 1387.9L801.1 1396.3L801.5 1391.6L801.8 1385.7L802.2 1393.2L802.6 1386.6L803 1387L803.4 1384.5L803.8 1397.3L804.2 1371L804.6 1381.4L805 1373.8L805.3 1384.7L805.3 1386.1L805.7 1384.5L806.1 1395L806.5 1392.2L806.9 1402.5L807.3 1401.2L807.7 1389.2L808.1 1383.3L808.5 1379.1L808.8 1384L809.2 1380.4L809.6 1387.1L810 1371.8L810.4 1372.5L810.8 1372L810.9 1391.2L811.2 1373.8L811.6 1385.2L812 1376.6L812.3 1377.1L812.7 1371.5L813.1 1381.6L813.5 1382.9L813.9 1388L814.3 1389.8L814.7 1378.1L815.1 1389.6L815.5 1379.4L815.8 1387.9L816.2 1390.3L816.6 1380L817 1380.9L817.4 1394.2L817.8 1388.6L818.2 1387.8L818.6 1383.3L819 1393.6L819.3 1391.7L819.7 1390L820.1 1384.9L820.1 1382.9L820.5 1394.3L820.9 1377.3L821.3 1385.2L821.7 1392.6L822.1 1397.3L822.5 1389.4L822.7 1402.4L822.8 1383.9L823.2 1380.1L823.6 1374.2L824 1379.2L824.4 1394.8L824.8 1384.9L825.2 1378.6L825.6 1399.9L826 1391.4L826.3 1382.4L826.7 1387.9L827.1 1404L827.5 1394.6L827.9 1391.9L828.3 1377L828.7 1392.7L829.1 1391.9L829.5 1377.8L829.8 1373.3L830.1 1375.8L830.2 1375.1L830.6 1384.8L831 1402L831.4 1396L831.8 1397.4L832.2 1390.6L832.6 1391.7L833 1403.3L833.3 1392.8L833.4 1392.2L833.7 1401.4L834.1 1394L834.5 1399.9L834.9 1399.5L835.3 1400.9L835.7 1392.5L836.1 1375.3L836.5 1391.3L836.8 1398L837.2 1388.1L837.6 1387.7L838 1379.2L838.4 1381.3L838.6 1362.5L838.8 1377.8L839.2 1376.6L839.6 1400.1L840 1399.7L840.3 1384.4L840.7 1409.9L841.1 1394.3L841.5 1405.7L841.9 1384.5L842.3 1406.2L842.7 1398.3L843.1 1396.8L843.5 1406.5L843.8 1375L844.2 1391.9L844.6 1376.5L845 1390.9L845.1 1395.4L845.4 1382.5L845.8 1382.4L846.2 1362.9L846.6 1391.9L847 1396.4L847.3 1391.5L847.7 1385.7L848.1 1385.5L848.5 1396.5L848.9 1395.2L849.3 1390.2L849.7 1387.5L850.1 1400.4L850.5 1395.7L850.8 1416.5L851.2 1403.2L851.6 1392.3L852 1394.2L852.4 1393.9L852.8 1379.1L853.2 1390.9L853.6 1394.2L854 1381.2L854.3 1377.4L854.7 1383.6L855.1 1364.8L855.5 1356.3L855.9 1369L856.3 1364.8L856.7 1348.4L857.1 1337.5L857.5 1347.7L857.5 1349.8L857.8 1376.4L858.2 1412.7L858.6 1445.2L859 1460.6L859.4 1443.9L859.8 1420.3L860.2 1425.4L860.6 1402.2L860.8 1402.2L861 1378.4L861.3 1398L861.7 1387L862.1 1379.1L862.5 1387.1L862.9 1375.7L863.3 1366.3L863.7 1379.1L864.1 1366.6L864.4 1365.4L864.5 1373.2L864.8 1377.7L865.2 1391.2L865.6 1374.2L866 1385.5L866.4 1370.2L866.8 1363.1L867.2 1371.7L867.3 1382.5L867.6 1372.9L868 1381.9L868.3 1387.4L868.7 1384.3L869 1382.3L869.1 1389.5L869.5 1387.3L869.9 1379.3L870.3 1392.7L870.7 1392.4L871.1 1403.3L871.5 1388.8L871.8 1395L872.2 1389L872.6 1400.6L873 1391.6L873.4 1408.7L873.8 1392.8L874.2 1395.1L874.6 1395.2L875 1374.3L875.1 1397.5L875.3 1387.2L875.7 1386.7L876.1 1381.5L876.5 1377.7L876.9 1396.2L877.3 1387.8L877.7 1388.2L878.1 1377.2L878.5 1374.6L878.8 1383.7L879.2 1384.1L879.6 1387.2L880 1377.3L880.4 1367.8L880.8 1377L881.2 1384.9L881.6 1386.3L882 1386.1L882.3 1392.9L882.7 1365.3L883.1 1369.1L883.5 1360.4L883.9 1352.1L884 1352.8L884.3 1354.8L884.7 1377.1L885.1 1391.9L885.5 1414.1L885.8 1423.5L886.2 1416.6L886.6 1408.7L887 1399.4L887.4 1401L887.8 1401.7L888.2 1401.7L888.6 1396.6L889 1402.5L889.3 1401.5L889.7 1395.8L890.1 1396.4L890.5 1398L890.9 1407.9L891.3 1413.7L891.7 1401.8L892.1 1403.4L892.5 1407.1L892.8 1402.7L893.2 1397.5L893.6 1404.3L894 1398.6L894.4 1407L894.7 1399.7L894.8 1402.6L895.2 1404.7L895.6 1388.6L896 1410.2L896.3 1387.8L896.7 1379.7L897.1 1380.8L897.5 1393.7L897.9 1379.5L898.3 1393.9L898.7 1386.6L899.1 1369.6L899.5 1379.1L899.8 1372L900.2 1388.7L900.6 1395.9L901 1386.2L901.4 1370.9L901.8 1371.7L902.2 1366.7L902.6 1371.3L902.9 1370.3L903 1372.1L903.3 1358.4L903.7 1384.1L904.1 1376.5L904.5 1393L904.9 1382.7L905.3 1402.2L905.7 1399.5L906.1 1393.9L906.2 1398.8L906.5 1398.1L906.8 1393.9L907.2 1394.4L907.6 1377.4L908 1379.4L908.4 1397.1L908.8 1373.8L909.2 1386.9L909.6 1388.6L910 1393.7L910.3 1393.8L910.7 1405.7L911.1 1424.5L911.5 1422.8L911.9 1424.4L912.3 1383.2L912.7 1379.7L913.1 1361.6L913.2 1352.2L913.5 1351.9L913.8 1357.9L914.2 1380.3L914.6 1386.9L915 1393.5L915.4 1383.3L915.8 1391.6L916.2 1405.9L916.6 1384.8L917 1399.3L917.3 1396.6L917.7 1423.4L918.1 1425.2L918.5 1417.7L918.9 1415.9L919.3 1396.5L919.7 1375.5L919.7 1378.9L920.1 1398.3L920.5 1369.2L920.8 1375.8L921.2 1372.8L921.6 1379L922 1378.1L922.4 1379.3L922.8 1379.5L923.2 1387.7L923.6 1372.2L924 1378.2L924.3 1377L924.7 1376.3L925.1 1377L925.5 1368.2L925.9 1370L926.3 1352.2L926.7 1353.5L926.7 1358.6L927.1 1378.5L927.5 1370.6L927.8 1399.6L928.2 1415.9L928.6 1430.6L928.6 1432.7L929 1436L929.4 1437.5L929.8 1423.8L930.2 1393.7L930.6 1393.4L930.6 1386.7L931 1397.1L931.3 1387.4L931.7 1347.7L932.1 1323.8L932.5 1322.3L932.5 1322.3L932.9 1323.8L933.3 1331.8L933.7 1370.4L934.1 1396.2L934.5 1401.4L934.8 1422L935.2 1424.4L935.6 1427.1L936 1437.4L936.3 1434.2L936.4 1422.9L936.8 1417.1L937.2 1427.8L937.6 1389.3L938 1378L938.3 1360.1L938.7 1355.8L939.1 1347L939.5 1363.1L939.5 1354.7L939.9 1366.4L940.3 1369.4L940.7 1364.7L941.1 1370.2L941.5 1392.1L941.8 1406.2L942.2 1405.8L942.6 1411.5L943 1397.6L943.4 1399.6L943.8 1413.7L944.2 1390L944.6 1389.4L945 1391.5L945.3 1383.9L945.7 1384.3L946.1 1387.3L946.5 1373.5L946.9 1382L947.3 1381.6L947.5 1383.7L947.7 1376.4L948.1 1393.9L948.5 1376.7L948.8 1387.4L949.2 1374.4L949.6 1374.7L950 1381.3L950.4 1388.3L950.8 1382.7L951.2 1381.8L951.6 1394.7L952 1385.4L952.3 1387L952.7 1370.1L953.1 1365.9L953.5 1382.5L953.9 1380.3L954.2 1386.4L954.3 1375.1L954.7 1372.6L955.1 1367.7L955.5 1393.3L955.8 1379.5L956.2 1389.7L956.6 1395.6L957 1394.2L957.4 1398.7L957.8 1390.8L958.2 1394.9L958.6 1386.5L959 1399.4L959.3 1406.5L959.5 1402.6L959.7 1392.8L960.1 1406L960.5 1400L960.9 1389.7L961.3 1403L961.7 1385.7L962.1 1388.7L962.5 1395L962.8 1390.6L963.2 1393.9L963.6 1393.2L964 1392.9L964.4 1390.6L964.8 1391.6L965.2 1396.4L965.6 1397.5L966 1374L966.3 1396.3L966.7 1387.8L967.1 1376.1L967.5 1375.9L967.9 1387.1L968.3 1365.5L968.7 1366.3L969.1 1381.2L969.5 1388.2L969.8 1375L970.2 1382.3L970.4 1384.6L970.6 1390.2L971 1390.7L971.4 1387L971.8 1383.4L972.2 1406.9L972.6 1410.3L973 1386.1L973.3 1399.8L973.7 1388.2L974.1 1392L974.5 1382.7L974.9 1384.2L975.3 1391.9L975.7 1389.9L976.1 1385.3L976.5 1381.1L976.8 1390.3L977.2 1395.9L977.6 1383.1L978 1383.4L978.4 1383.7L978.8 1389.6L979.2 1377.5L979.6 1394.9L979.9 1386.1L980 1374L980.3 1392.9L980.7 1382.9L981.1 1384.2L981.5 1386.3L981.9 1403.8L982.3 1385.7L982.7 1393.8L983.1 1392.6L983.5 1395L983.8 1397.5L984.2 1388.9L984.6 1386.7L985 1409.9L985.4 1400L985.8 1392.9L986.2 1404.4L986.6 1372.7L987 1383.5L987.3 1366.8L987.7 1363.1L988.1 1362.3L988.5 1367.5L988.7 1364L988.9 1362.7L989.3 1362.7L989.7 1376.1L990.1 1383.7L990.5 1388.8L990.8 1384.4L991.2 1400.8L991.6 1417.8L992 1430.5L992.4 1427.4L992.8 1427.9L993.2 1416.3L993.6 1394.7L994 1394.1L994.3 1394.9L994.7 1392L995.1 1379.1L995.5 1393.6L995.8 1376.1L995.9 1377.8L996.3 1365.8L996.7 1361.8L997.1 1367.6L997.5 1369.8L997.8 1399.5L998.2 1388.5L998.6 1389.7L999 1403.6L999.4 1404.3L999.8 1383L1000.2 1403.9L1000.6 1399.9L1001 1402.7L1001.3 1401.2L1001.5 1401.4L1001.7 1411.8L1002.1 1378.2L1002.5 1401.2L1002.9 1393L1003.3 1396.6L1003.7 1386.2L1004.1 1391.4L1004.5 1388.4L1004.8 1388.4L1005.2 1390.9L1005.6 1396.9L1006 1390.1L1006.4 1408.2L1006.8 1389L1007.2 1389.5L1007.6 1391.5L1008 1402.7L1008.3 1382L1008.7 1396.1L1009.1 1385.8L1009.5 1403.8L1009.9 1391.1L1010.3 1394.5L1010.7 1395.6L1011.1 1395L1011.5 1377.1L1011.8 1390.9L1012.2 1388.4L1012.6 1375.3L1013 1402.1L1013.4 1380.3L1013.8 1394.6L1014.2 1396.8L1014.6 1395.3L1015 1405.9L1015.3 1403.8L1015.7 1400.6L1016.1 1395.8L1016.5 1385.6L1016.9 1381.9L1017.3 1391.6L1017.7 1385L1018.1 1383.6L1018.5 1388.9L1018.8 1388.4L1019.2 1400.8L1019.6 1401.3L1020 1415.6L1020.4 1416.9L1020.8 1411.4L1021.2 1403.1L1021.6 1399.6L1022 1396.7L1022.3 1382.6L1022.7 1384L1023.1 1382.2L1023.5 1377.8L1023.9 1381.1L1024.3 1371L1024.7 1369.6L1024.7 1365.8L1025.1 1367.1L1025.5 1374.7L1025.8 1360.2L1026.2 1360.6L1026.6 1367.1L1027 1363.7L1027.4 1366.3L1027.8 1373.5L1028.2 1392.6L1028.6 1379.3L1029 1380.2L1029.3 1377.5L1029.7 1393.2L1030.1 1382.9L1030.5 1387.7L1030.9 1389.3L1031.3 1403.2L1031.7 1401.7L1032.1 1387.6L1032.5 1390.3L1032.8 1397.2L1032.9 1388.5L1033.2 1394.4L1033.6 1399.2L1034 1407.5L1034.4 1387.8L1034.8 1396.2L1035.2 1393.3L1035.6 1408.5L1036 1399.4L1036.3 1393.4L1036.7 1397.5L1037.1 1400.8L1037.5 1402.8L1037.9 1391.4L1038.3 1393.4L1038.7 1389.9L1039.1 1385.9L1039.5 1384.9L1039.8 1379.5L1040.2 1379.7L1040.2 1373.2L1040.6 1382.9L1041 1381.2L1041.4 1374L1041.8 1376.8L1042.2 1375.5L1042.6 1362.5L1043 1372.4L1043.3 1369.8L1043.7 1375.4L1044.1 1379.7L1044.5 1385.3L1044.9 1393.8L1045.3 1391.2L1045.7 1398.8L1046.1 1390.3L1046.5 1394.2L1046.8 1389.7L1047.2 1382.5L1047.6 1385.1L1048 1374.8L1048.4 1374.1L1048.8 1372.5L1049.2 1373.4L1049.6 1377.8L1050 1384.1L1050.3 1377.9L1050.7 1384.7L1051.1 1386.1L1051.5 1383.5L1051.9 1396.4L1052 1400.3L1052.3 1388.6L1052.7 1378.4L1053.1 1383.4L1053.5 1363.5L1053.8 1401.6L1054.2 1395.5L1054.6 1407.6L1055 1396.8L1055.4 1376.3L1055.8 1378.8L1056.2 1399.1L1056.6 1394.7L1057 1399.3L1057.3 1404.3L1057.7 1397.3L1058.1 1399.1L1058.5 1397.2L1058.9 1397.1L1059.3 1394.8L1059.7 1390.7L1060 1402.2L1060.1 1403.5L1060.5 1402L1060.8 1398.6L1061.2 1402.4L1061.6 1408L1062 1403.4L1062.4 1392.7L1062.8 1404.3L1063.2 1388.9L1063.4 1403.6L1063.6 1386.9L1064 1385.4L1064.3 1389.9L1064.7 1387.3L1065.1 1388L1065.5 1373.1L1065.9 1388.6L1066.3 1390.5L1066.7 1382.1L1067.1 1376.6L1067.5 1382.4L1067.8 1386L1068.2 1377.2L1068.6 1390.6L1069 1390.8L1069.4 1394.3L1069.8 1376L1070.2 1401.4L1070.6 1394.2L1071 1382.1L1071.3 1380.1L1071.7 1370L1072 1377.7L1072.1 1383.4L1072.5 1370.1L1072.9 1370.2L1073.3 1369.5L1073.7 1370.7L1074.1 1375.9L1074.5 1392L1074.8 1390.7L1075.2 1369.8L1075.6 1385.8L1076 1401.2L1076.4 1388.1L1076.8 1381.9L1077.2 1386.5L1077.6 1389.5L1078 1406.9L1078.3 1389L1078.7 1390.4L1079.1 1376.9L1079.5 1389.6L1079.9 1390.3L1080.3 1393.8L1080.7 1392.1L1081.1 1390L1081.5 1396.9L1081.8 1400.8L1082.2 1404.6L1082.6 1395.6L1083 1400.2L1083.4 1400.8L1083.8 1410.2L1084.2 1405.1L1084.6 1413.2L1085 1391.7L1085.3 1389.8L1085.7 1395.8L1086.1 1400.3L1086.5 1397.1L1086.9 1412.9L1087.3 1412.6L1087.7 1394L1087.8 1410L1088.1 1401.9L1088.5 1404.8L1088.8 1414.8L1089.2 1399.4L1089.6 1385.3L1090 1379L1090.4 1405.1L1090.8 1395.1L1091.2 1383.9L1091.6 1367.7L1092 1362.3L1092.3 1358.2L1092.7 1359.6L1093.1 1380.5L1093.5 1391.9L1093.9 1386.2L1094.3 1404.2L1094.7 1409.5L1095.1 1415.3L1095.5 1412.6L1095.8 1395.6L1096.2 1402.1L1096.6 1401.5L1097 1389.8L1097.4 1381.5L1097.8 1382.9L1098.2 1380.1L1098.6 1392.2L1099 1382.2L1099.3 1366L1099.7 1374.6L1100.1 1378.6L1100.2 1365.9L1100.5 1380.1L1100.9 1372.5L1101.3 1379.6L1101.7 1381.3L1102.1 1379.5L1102.5 1372.9L1102.8 1382.1L1103.2 1399.4L1103.6 1402.4L1104 1397L1104.4 1396.1L1104.8 1389.6L1105.2 1394.3L1105.6 1392.5L1106 1405.8L1106.3 1391.7L1106.3 1386.9L1106.7 1375.4L1107.1 1378.8L1107.5 1379.5L1107.9 1384.1L1108.3 1370.4L1108.7 1366.8L1109.1 1366.7L1109.2 1364.3L1109.5 1362.6L1109.8 1366.2L1110.2 1357.3L1110.6 1387.1L1111 1398.1L1111.4 1390.9L1111.8 1411.7L1112.2 1413.2L1112.6 1421L1113 1433.4L1113.3 1424.7L1113.6 1425.3L1113.7 1427.5L1114.1 1418.8L1114.5 1408.6L1114.9 1407.9L1115.3 1391.8L1115.7 1387.7L1115.9 1386.4L1116.1 1387.6L1116.5 1368L1116.8 1377.4L1117.2 1390.3L1117.6 1376.2L1118 1399.7L1118.4 1378.9L1118.8 1375.5L1119.2 1370.6L1119.6 1379.7L1120 1386.4L1120.3 1366.9L1120.7 1372.8L1121.1 1370.9L1121.5 1382.9L1121.6 1376.6L1121.9 1395.2L1122.3 1378.9L1122.7 1398.9L1123.1 1391.1L1123.5 1394.5L1123.8 1374.3L1124.2 1375.3L1124.6 1385.8L1125 1370.8L1125.4 1378.5L1125.8 1393.2L1126.2 1380.5L1126.6 1390.4L1127 1377L1127.3 1375.4L1127.7 1384.7L1128.1 1374L1128.5 1373.3L1128.9 1389L1129.3 1378.6L1129.7 1384.1L1130.1 1385.6L1130.5 1370.4L1130.5 1388.2L1130.8 1385L1131.2 1382.2L1131.6 1376.9L1132 1375.1L1132.4 1388.1L1132.8 1370.7L1133.2 1367.5L1133.6 1366.7L1134 1381.3L1134.3 1387.1L1134.7 1392L1135.1 1381.8L1135.5 1385.4L1135.9 1385.6L1136.3 1389.9L1136.7 1401.9L1137.1 1387L1137.5 1385.8L1137.8 1386.7L1138.2 1393.9L1138.6 1384.1L1139 1381.7L1139.4 1387.1L1139.8 1371.2L1140.2 1374L1140.6 1370.7L1141 1367.7L1141.2 1372.7L1141.3 1371.9L1141.7 1368.8L1142.1 1369.6L1142.5 1371.6L1142.9 1382.8L1143.3 1378.1L1143.7 1377.2L1144.1 1398L1144.5 1391.4L1144.8 1389.2L1145.2 1389.7L1145.6 1376.5L1146 1381.6L1146.4 1391.8L1146.8 1391.2L1147.2 1399.8L1147.6 1394.7L1148 1374.3L1148.3 1394.7L1148.7 1374.1L1149.1 1382.2L1149.2 1377.8L1149.5 1375.3L1149.9 1363.4L1150.3 1373.3L1150.7 1373.8L1151.1 1372L1151.5 1398.7L1151.8 1369.4L1152.2 1398.3L1152.6 1392.8L1153 1383.8L1153.4 1400.1L1153.8 1405.7L1154.2 1384.9L1154.6 1397.4L1155 1388.7L1155.3 1392.8L1155.7 1398.3L1156.1 1384L1156.5 1398.8L1156.9 1381.1L1157.2 1403L1157.3 1403.4L1157.7 1400.5L1158.1 1392.8L1158.5 1402.6L1158.8 1398.6L1159.2 1381.5L1159.6 1390.4L1160 1382.4L1160.4 1388L1160.8 1395.1L1161.2 1396.5L1161.6 1389.5L1162 1391L1162.3 1396.4L1162.7 1397.7L1163.1 1383.4L1163.5 1387.4L1163.9 1393.8L1164.3 1399.1L1164.7 1399.8L1165.1 1381L1165.5 1400.3L1165.8 1377.4L1166.2 1399.1L1166.6 1404.5L1167 1376.7L1167.4 1391.9L1167.8 1378.3L1168.2 1385.5L1168.6 1389.5L1169 1379.3L1169.3 1387.7L1169.7 1381.3L1169.8 1384.8L1170.1 1396.3L1170.5 1379.1L1170.9 1385.5L1171.3 1381.9L1171.7 1376.8L1172.1 1389.8L1172.5 1373.9L1172.8 1372.7L1173.2 1361.7L1173.6 1369.7L1174 1373.4L1174.4 1381.5L1174.8 1377.7L1175.2 1389.8L1175.6 1377.7L1176 1384.2L1176.3 1387.6L1176.7 1386.7L1177.1 1385.2L1177.5 1388.2L1177.9 1400.4L1178.3 1382L1178.7 1392.2L1178.8 1390L1179.1 1392.1L1179.5 1398.6L1179.8 1388.6L1180.2 1392.4L1180.6 1394.5L1181 1385.1L1181.4 1377.7L1181.8 1375.6L1182.2 1375.2L1182.6 1377.8L1183 1373L1183.3 1370.4L1183.5 1380.5L1183.7 1364.2L1184.1 1371.9L1184.5 1385.6L1184.9 1368.3L1185.3 1368.3L1185.7 1395.4L1186.1 1388.5L1186.5 1394.2L1186.8 1382.2L1187.2 1398.2L1187.6 1383.9L1188 1384.8L1188.4 1379.9L1188.8 1404L1189.2 1397.5L1189.6 1396L1190 1390.3L1190.3 1399.7L1190.7 1396.4L1191.1 1398.7L1191.2 1408.1L1191.5 1400.5L1191.9 1399.5L1192.3 1394.7L1192.7 1395.1L1193.1 1378.7L1193.5 1379.4L1193.8 1394.5L1194.2 1373.4L1194.6 1382.9L1195 1389.8L1195.4 1369.4L1195.8 1378.8L1196.2 1375.8L1196.6 1379.2L1197 1378.1L1197.3 1391.1L1197.7 1371.2L1198.1 1382.2L1198.5 1376.3L1198.9 1377.1L1199.3 1384.1L1199.7 1386.8L1200.1 1379.3L1200.5 1369.5L1200.8 1385.4L1201.2 1386.2L1201.6 1382.2L1202 1388.5L1202.4 1375.1L1202.8 1382.4L1203.2 1367.4L1203.6 1385.4L1204 1370.4L1204.3 1392L1204.7 1385.9L1205.1 1395.8L1205.5 1390.9L1205.9 1390.5L1206.3 1383.8L1206.7 1378.4L1207.1 1391.1L1207.5 1400.4L1207.8 1389.5L1208.2 1390.8L1208.6 1393L1209 1382.4L1209.4 1379.8L1209.8 1393.2L1210.2 1392.6L1210.6 1406.5L1211 1391L1211.3 1379.4L1211.7 1392.7L1212.1 1378.9L1212.5 1381L1212.9 1382L1213.3 1382.7L1213.7 1389.2L1214.1 1381.8L1214.5 1382.6L1214.8 1389.2L1215 1393.3L1215.2 1384.2L1215.6 1383.7L1216 1401L1216.4 1390.4L1216.8 1396.8L1217.2 1379.4L1217.6 1399.6L1218 1401.2L1218.3 1402.5L1218.7 1387.2L1219.1 1400.9L1219.5 1386.2L1219.9 1393.4L1220.3 1377.5L1220.7 1374.1L1221.1 1375.8L1221.5 1397.9L1221.8 1392.6L1222.2 1400.6L1222.6 1358.3L1223 1381.9L1223.4 1379.5L1223.8 1375.4L1224.2 1371L1224.6 1378.6L1225 1376.4L1225.3 1378.4L1225.7 1390L1226.1 1368L1226.5 1370.5L1226.9 1385.4L1227.3 1388.2L1227.7 1374.1L1228.1 1370.9L1228.5 1390.1L1228.8 1386.6L1229.2 1395.1L1229.6 1389.9L1230 1412.8L1230.4 1411L1230.8 1390.8L1231.2 1396.4L1231.6 1392.4L1232 1395.4L1232.3 1391.9L1232.7 1395.1L1233.1 1398.8L1233.5 1394.5L1233.9 1402.8L1234.3 1386.4L1234.4 1404.2L1234.7 1398.8L1235.1 1387.6L1235.5 1396.1L1235.8 1384.5L1236.2 1379.5L1236.6 1383.8L1237 1392.5L1237.4 1374L1237.8 1385L1238.2 1395.9L1238.6 1372.8L1239 1386.8L1239.3 1383.1L1239.7 1380.1L1240.1 1389.6L1240.5 1376.4L1240.9 1390.1L1241.3 1384.7L1241.7 1376.4L1242.1 1356L1242.5 1362.2L1242.6 1356.6L1242.8 1368L1243.2 1361L1243.6 1383.9L1244 1373.1L1244.4 1371.5L1244.8 1382.6L1245.2 1396L1245.6 1395.1L1246 1378.5L1246.3 1373.7L1246.7 1387.6L1247.1 1373.7L1247.5 1399.1L1247.9 1388.9L1248.3 1396.9L1248.7 1396.2L1249.1 1419.5L1249.3 1401.4L1249.5 1408.7L1249.8 1415.4L1250.2 1409.8L1250.6 1404.8L1251 1397.6L1251.4 1403.5L1251.8 1401.3L1252.2 1392.2L1252.6 1391.9L1253 1387L1253.3 1383.3L1253.7 1404.3L1254.1 1390.1L1254.5 1387.1L1254.9 1387.9L1255.3 1395.7L1255.7 1380.5L1256.1 1371L1256.5 1383.6L1256.8 1386.4L1257.2 1372.6L1257.6 1377.6L1257.9 1377L1258 1376.7L1258.4 1383.5L1258.8 1382.3L1259.2 1390.5L1259.6 1402.8L1260 1381.6L1260.3 1389L1260.7 1392.6L1261.1 1381.7L1261.5 1393.1L1261.9 1382.5L1262.3 1383.9L1262.7 1391.7L1263.1 1398.4L1263.5 1384.2L1263.9 1385.7L1264.2 1379.3L1264.6 1399.4L1265 1388.5L1265.4 1386.1L1265.8 1385.5L1266.2 1387.5L1266.4 1386L1266.6 1406.4L1267 1390.3L1267.4 1392.5L1267.7 1398.6L1268.1 1384.9L1268.5 1388.2L1268.9 1393.4L1269.3 1394.6L1269.7 1380.3L1270.1 1401.8L1270.5 1381.5L1270.9 1388.5L1271.2 1377.8L1271.6 1368.9L1272 1370.9L1272.2 1380.4L1272.4 1369.5L1272.8 1368.7L1273.2 1377.9L1273.6 1373.5L1274 1388.4L1274.4 1386.6L1274.7 1393.2L1275.1 1396L1275.5 1392.9L1275.9 1399L1276.3 1393.3L1276.7 1374.7L1277.1 1386L1277.5 1392.5L1277.9 1377L1278.2 1378.8L1278.6 1398.2L1279 1395.2L1279.4 1376.4L1279.8 1390L1280.2 1390.5L1280.6 1397.5L1281 1403.5L1281.4 1387.1L1281.7 1403.3L1281.7 1393.4L1282.1 1383.4L1282.5 1393.6L1282.9 1398.9L1283.3 1391.5L1283.7 1391.4L1284.1 1399L1284.5 1393.2L1284.9 1404.9L1285.2 1409.3L1285.6 1399.9L1286 1409L1286.4 1398.7L1286.8 1391.2L1287.2 1382.5L1287.6 1360.8L1288 1374.8L1288.4 1367.5L1288.4 1366.8L1288.7 1373.4L1289.1 1356.1L1289.5 1385.5L1289.9 1386.5L1290.3 1388.7L1290.7 1368.6L1291.1 1389.9L1291.5 1392.6L1291.9 1375.8L1292.2 1389.7L1292.6 1400.2L1293 1373.7L1293.4 1374.6L1293.8 1393L1294.2 1391.4L1294.6 1382.1L1295 1389.9L1295 1394.9L1295.4 1393L1295.7 1369.9L1296.1 1376.1L1296.5 1393.4L1296.9 1386.4L1297.3 1384.3L1297.7 1387.7L1298.1 1385.1L1298.5 1370.7L1298.9 1389.5L1299.2 1390.5L1299.6 1384.7L1300 1389.6L1300.4 1387.6L1300.8 1387.3L1301.2 1391.3L1301.6 1373.1L1302 1387.3L1302.4 1370.7L1302.7 1387.2L1303.1 1386.9L1303.5 1376.9L1303.9 1380.4L1304.3 1371L1304.6 1371.9L1304.7 1358.3L1305.1 1400.1L1305.5 1384.7L1305.9 1376.6L1306.2 1378.2L1306.6 1377.4L1307 1357L1307.4 1396.9L1307.8 1374.6L1308.2 1383.1L1308.6 1382.4L1309 1374.7L1309.4 1384.6L1309.7 1378.1L1310.1 1374L1310.5 1374.4L1310.9 1398.4L1311.3 1387.8L1311.7 1392.2L1312.1 1387.3L1312.5 1381.9L1312.9 1363.3L1313.2 1385.2L1313.6 1382.8L1314 1382.5L1314.4 1370.2L1314.8 1388.1L1315.2 1381.5L1315.6 1380.2L1316 1383.8L1316 1406.2L1316.4 1401.7L1316.7 1386.7L1317.1 1407.1L1317.5 1395L1317.9 1405.5L1318.3 1390L1318.7 1393.3L1319.1 1405.2L1319.5 1394.4L1319.9 1400.8L1320.2 1396.7L1320.6 1382.4L1321 1390.7L1321.4 1390.9L1321.8 1382.1L1322.2 1394.5L1322.6 1385.7L1323 1393.8L1323.4 1395.4L1323.7 1400.9L1324.1 1404.7L1324.5 1406.2L1324.9 1404.9L1325.3 1392.6L1325.5 1392.7L1325.7 1401.8L1326.1 1384.3L1326.5 1398.4L1326.9 1395.7L1327.2 1402.9L1327.6 1397.9L1328 1383.7L1328.4 1386.6L1328.8 1394.7L1329.2 1379.2L1329.6 1389.1L1330 1387.5L1330.4 1379.2L1330.7 1383.7L1331.1 1390L1331.3 1396.1L1331.5 1378.1L1331.9 1408.2L1332.3 1395.7L1332.7 1406.4L1333.1 1398.8L1333.5 1389L1333.9 1400L1334.2 1401.9L1334.6 1399.7L1335 1384L1335.4 1388.7L1335.8 1397.4L1336.2 1403.6L1336.6 1400.7L1337 1393.7L1337.4 1397.2L1337.7 1395.2L1338.1 1401.6L1338.5 1403.2L1338.9 1400.2L1339.3 1388.7L1339.7 1397.2L1340.1 1368.9L1340.5 1383.9L1340.9 1382.5L1341.2 1379.3L1341.6 1395.2L1342 1396L1342.4 1388.5L1342.8 1382.1L1343.2 1382.8L1343.6 1374.7L1344 1377.4L1344 1381.1L1344.4 1381.5L1344.7 1389.6L1345.1 1386.1L1345.5 1396.3L1345.9 1398.4L1346.3 1388.5L1346.7 1409.6L1347.1 1385.7L1347.5 1382.2L1347.9 1400.8L1348.2 1390.8L1348.6 1395.3L1349 1404.4L1349.4 1393.7L1349.8 1392.4L1350.2 1388.6L1350.6 1399.2L1351 1395.3L1351.4 1401L1351.7 1387.6L1352.1 1395.7L1352.5 1387.2L1352.6 1398.5L1352.9 1391.2L1353.3 1398.3L1353.7 1396.1L1354.1 1380.4L1354.5 1389.8L1354.9 1388.2L1355.2 1381L1355.6 1392.7L1356 1370.4L1356.4 1391.7L1356.8 1388.6L1357.2 1368.2L1357.6 1399.1L1358 1371.6L1358.4 1382.5L1358.7 1381.3L1359.1 1393.2L1359.5 1382.9L1359.9 1393.3L1360.3 1374.1L1360.7 1382.7L1361.1 1384.5L1361.5 1382L1361.9 1378.3L1362.2 1368.6L1362.6 1373.1L1363 1382.1L1363.4 1383.4L1363.8 1385.5L1364.2 1372.1L1364.6 1375.9L1365 1389.9L1365.4 1395.5L1365.7 1384.7L1366.1 1390.3L1366.5 1382.9L1366.9 1389.3L1367.3 1386.5L1367.7 1384L1367.9 1382.8L1368.1 1393.2L1368.5 1386.1L1368.9 1396.3L1369.2 1401.1L1369.6 1389.5L1370 1381.3L1370.4 1379L1370.8 1390.2L1371.2 1402.7L1371.6 1386L1372 1389.7L1372.4 1382.7L1372.7 1378.9L1373.1 1390.7L1373.5 1392.8L1373.9 1390.3L1374.3 1392.6L1374.7 1395.1L1375.1 1385.5L1375.5 1393L1375.9 1389.3L1376.2 1389.7L1376.6 1392L1377 1382.7L1377.4 1391.5L1377.8 1389.1L1378.2 1382.8L1378.4 1391L1378.6 1402L1379 1394.9L1379.4 1395.4L1379.7 1386.9L1380.1 1378.9L1380.5 1390.3L1380.9 1392.8L1381.3 1380.1L1381.7 1397.2L1382.1 1389.7L1382.5 1388.9L1382.9 1393.9L1383.2 1396.1L1383.6 1394.4L1384 1385.2L1384.4 1393.8L1384.8 1404L1385.2 1397.8L1385.6 1392.9L1386 1386.5L1386.4 1393.7L1386.7 1397.8L1387.1 1387.2L1387.5 1389.6L1387.9 1393.7L1388.3 1398L1388.7 1390.1L1389.1 1381.2L1389.5 1395.1L1389.9 1397.6L1390.2 1379.5L1390.6 1394.5L1391 1391.9L1391.4 1382.8L1391.8 1382.7L1392.2 1380.2L1392.6 1379.1L1393 1376.1L1393.4 1380.8L1393.7 1386.2L1394.1 1401.7L1394.5 1369.7L1394.9 1373.5L1395.3 1375.6L1395.7 1382.7L1396.1 1393.5L1396.5 1389.6L1396.9 1402.7L1397.2 1421L1397.6 1406.2L1398 1423.5L1398.4 1409.6L1398.8 1385.5L1399.2 1400.8L1399.6 1390.7L1400 1383.4L1400.4 1392.1L1400.7 1403.9L1401.1 1397.1L1401.5 1393.7L1401.9 1404.5L1402.3 1379.8L1402.7 1385.7L1403.1 1378.3L1403.5 1376.1L1403.9 1368.8L1404.1 1370.5L1404.2 1376.8L1404.6 1355.1L1405 1357.9L1405 1345.7L1405.4 1367.3L1405.8 1360.1L1406.2 1349.1L1406.6 1382.1L1407 1385.7L1407.4 1378.2L1407.7 1369.2L1408.1 1393.7L1408.5 1385.3L1408.9 1389.1L1409.3 1394.9L1409.7 1396.9L1410.1 1391.8L1410.5 1408.8L1410.9 1430.1L1411.2 1434.5L1411.6 1437.2L1412 1440.2L1412.1 1440.5L1412.4 1441.2L1412.8 1441.6L1413.2 1416.3L1413.6 1433.5L1413.6 1418.8L1414 1412L1414.4 1407.1L1414.7 1386.7L1415.1 1391.6L1415.5 1395.6L1415.9 1376.5L1416.3 1376.3L1416.7 1380.7L1417.1 1374.1L1417.5 1345.8L1417.9 1350.6L1418.2 1366L1418.6 1360.8L1419 1388.1L1419.4 1391.1L1419.8 1397.3L1420.2 1409.1L1420.6 1389.9L1421 1370.4L1421.4 1397.7L1421.7 1405.7L1422.1 1416.5L1422.5 1416.9L1422.9 1411.3L1423.3 1402.3L1423.7 1404.7L1424.1 1395.9L1424.5 1396L1424.9 1389.8L1425.2 1387.7L1425.6 1387.7L1426 1401.2L1426.4 1402.7L1426.8 1394.2L1427.2 1402.1L1427.6 1401.7L1428 1395.8L1428.4 1395.5L1428.7 1386.4L1429.1 1404.7L1429.5 1383.9L1429.9 1394.1L1430.3 1382.5L1430.7 1395.7L1431.1 1384.2L1431.5 1386.3L1431.9 1365.9L1432.2 1386.8L1432.6 1369.9L1433 1385.8L1433.4 1389.1L1433.8 1379L1434.2 1374.5L1434.6 1385L1435 1381.2L1435.4 1385.4L1435.7 1388.9L1436.1 1378.2L1436.5 1389.7L1436.9 1383.1L1437.3 1399.2L1437.7 1391.4L1437.8 1382.1L1438.1 1393L1438.5 1406.1L1438.9 1383L1439.2 1384.4L1439.6 1391.5L1440 1388.7L1440.4 1392.7L1440.8 1387.5L1441.2 1382.3L1441.6 1389.1L1442 1392.8L1442.4 1396.3L1442.7 1394.1L1443.1 1397.1L1443.5 1385.7L1443.9 1402.1L1444.3 1398.7L1444.7 1391.6L1445.1 1392.2L1445.5 1393.2L1445.9 1398.9L1446.2 1394.2L1446.6 1407.2L1447 1407.7L1447.4 1405.4L1447.8 1391.6L1448.2 1383.2L1448.6 1397L1449 1397.9L1449.4 1395.9L1449.7 1379.7L1450.1 1393.3L1450.5 1395.5L1450.9 1402.2L1451.3 1395.1L1451.7 1389.9L1451.7 1399.7L1452.1 1408.1L1452.5 1391.1L1452.9 1401.2L1453.2 1385.8L1453.6 1407L1454 1398L1454.4 1392.8L1454.8 1406.9L1455.2 1390.2L1455.6 1384.2L1456 1388.4L1456.4 1382.5L1456.7 1383.5L1457.1 1390.8L1457.5 1377.6L1457.9 1388.6L1458.3 1384L1458.7 1385.9L1459.1 1372.7L1459.5 1378.6L1459.9 1375.6L1460.2 1386.4L1460.6 1370.4L1460.9 1360.7L1461 1386.1L1461.4 1368.7L1461.8 1375.5L1462.2 1393.1L1462.6 1386.6L1463 1379L1463.4 1388.9L1463.7 1387.4L1464.1 1381.9L1464.5 1393.4L1464.9 1383.8L1465.3 1400.2L1465.7 1396.7L1466.1 1377.8L1466.5 1377.9L1466.9 1380.6L1467.2 1399.6L1467.6 1389.5L1468 1395.6L1468.4 1375.1L1468.8 1403.7L1469.2 1406.2L1469.6 1404.6L1470 1401.9L1470.4 1415L1470.7 1419.4L1471.1 1420.6L1471.5 1426.3L1471.8 1437.6L1471.9 1435.9L1472.3 1409.2L1472.7 1415.3L1473.1 1393.5L1473.5 1388.8L1473.9 1385.6L1474.2 1389.7L1474.6 1375.8L1475 1390.7L1475.4 1369.3L1475.8 1382.7L1476.2 1383.3L1476.5 1391.6L1476.6 1393.6L1477 1391.5L1477.4 1394L1477.7 1396.9L1478.1 1398.5L1478.5 1388L1478.9 1379.4L1479.3 1372.3L1479.7 1380.5L1480.1 1385.9L1480.5 1378.6L1480.9 1368.4L1481.2 1379.6L1481.6 1371.8L1482 1376.1L1482.4 1378.1L1482.8 1384.1L1483.2 1374.8L1483.6 1388.3L1484 1391.1L1484.4 1382.2L1484.7 1379L1485.1 1381.1L1485.5 1383.5L1485.9 1394.2L1486.3 1394.4L1486.7 1385.8L1487.1 1379.5L1487.5 1418L1487.9 1387.9L1488.2 1396.2L1488.6 1398.6L1489 1404L1489.4 1402.8L1489.8 1406.6L1490.2 1393.9L1490.6 1402L1491 1393.3L1491.4 1400.4L1491.7 1374.5L1492.1 1373.1L1492.5 1382L1492.9 1363.9L1493.3 1367.2L1493.7 1370.1L1494.1 1364.7L1494.5 1363.1L1494.9 1363.8L1495.2 1380.1L1495.6 1378.7L1496 1387.3L1496.4 1390.6L1496.8 1390.3L1497.2 1410.2L1497.6 1403.2L1498 1388.5L1498.4 1411.1L1498.7 1407.3L1499.1 1386L1499.5 1410L1499.9 1402.6L1500.3 1404.1L1500.7 1412.3L1501.1 1406.8L1501.5 1411.5L1501.9 1426.9L1502.2 1408.4L1502.3 1428.5L1502.6 1424.3L1503 1418.5L1503.4 1410.9L1503.8 1416L1504.2 1400.3L1504.6 1415.6L1505 1398.8L1505.4 1399.5L1505.7 1395.9L1506.1 1388.9L1506.5 1383.6L1506.9 1387.1L1507.3 1374.2L1507.7 1378.1L1508.1 1361.9L1508.5 1349L1508.9 1365.8L1509.2 1371.2L1509.6 1378.2L1510 1379L1510.4 1387.1L1510.8 1393.8L1511.2 1401.7L1511.6 1392.6L1512 1417.5L1512.4 1391.3L1512.7 1400.2L1513.1 1388.6L1513.5 1393.6L1513.9 1381.8L1514.3 1397L1514.7 1407.1L1515.1 1390.9L1515.5 1394.8L1515.9 1391.5L1516.2 1381.3L1516.6 1397.7L1517 1385.2L1517.4 1383.4L1517.8 1382L1518.2 1406.3L1518.6 1389.5L1519 1396.5L1519.4 1393.3L1519.7 1398.4L1520.1 1395.1L1520.5 1385.6L1520.9 1379.8L1521.3 1388L1521.7 1403.2L1522.1 1383.3L1522.5 1402.2L1522.9 1394.5L1523.2 1381.4L1523.6 1393.3L1524 1381L1524.4 1386.3L1524.8 1390.8L1525.2 1377.7L1525.6 1381.8L1526 1365.2L1526.1 1365.2L1526.4 1365.1L1526.7 1386.9L1527.1 1366L1527.5 1380.9L1527.9 1381.6L1528.3 1385.8L1528.7 1392.8L1529.1 1388L1529.5 1382.1L1529.9 1376.5L1530.2 1383.6L1530.6 1387.3L1531 1390.4L1531.4 1388.4L1531.8 1372.7L1532.2 1380.4L1532.6 1385.3L1533 1402.7L1533.4 1407.7L1533.7 1393.6L1534.1 1399.7L1534.5 1401L1534.9 1411.5L1535.2 1418.6L1535.3 1424.4L1535.7 1417.1L1536.1 1422.8L1536.5 1395.3L1536.9 1387.2L1537.2 1374.4L1537.6 1395.9L1538 1390.5L1538.4 1373.7L1538.8 1376.5L1539.2 1396.2L1539.6 1387.4L1540 1382.2L1540.4 1386.5L1540.7 1379.7L1541.1 1379.9L1541.5 1380.2L1541.9 1366.6L1542.3 1363.4L1542.7 1347.1L1543.1 1363.7L1543.2 1352.7L1543.5 1355.6L1543.9 1354.6L1544.2 1354.8L1544.6 1359.7L1545 1389.5L1545.2 1364.9L1545.4 1375.1L1545.8 1385.8L1546.2 1401.3L1546.6 1404.2L1547 1412.5L1547.4 1426.4L1547.7 1408L1548.1 1394.4L1548.5 1387.8L1548.9 1384.3L1549.3 1374.2L1549.7 1387.7L1550.1 1384.9L1550.5 1387.2L1550.9 1379.9L1551.2 1376.7L1551.6 1388.2L1552 1378.6L1552.4 1386.8L1552.8 1371.9L1553.2 1401.9L1553.6 1384.6L1554 1375.7L1554.4 1388.2L1554.7 1394.4L1555.1 1392.6L1555.5 1381.4L1555.9 1390.5L1556.3 1377.9L1556.7 1386.6L1557.1 1392.2L1557.5 1392.2L1557.9 1385.9L1558.2 1382.7L1558.6 1398.5L1559 1402.5L1559.4 1403L1559.8 1390.1L1560.2 1379.1L1560.6 1397.5L1561 1386.9L1561.4 1394.1L1561.7 1381.6L1562.1 1399L1562.5 1380L1562.9 1392.9L1563.3 1386.9L1563.7 1375.3L1564.1 1378.1L1564.5 1375.3L1564.9 1369.6L1565.2 1371.9L1565.6 1361.5L1566 1368L1566.4 1381.8L1566.8 1376.6L1567.1 1381.7L1567.2 1381.9L1567.6 1365.6L1568 1387.7L1568.4 1372.6L1568.7 1372.2L1569.1 1363.8L1569.5 1387.2L1569.9 1386.6L1570.3 1387.4L1570.7 1393.8L1571.1 1377.3L1571.5 1376.2L1571.9 1410.7L1572.2 1394L1572.6 1380.3L1573 1395.7L1573.4 1389.2L1573.8 1378.6L1574.2 1373.8L1574.6 1370.8L1575 1367.7L1575.3 1354.7L1575.4 1385.5L1575.7 1372.8L1576.1 1382.1L1576.5 1376L1576.9 1386.6L1577.3 1383.3L1577.7 1390L1578.1 1373L1578.5 1403.3L1578.9 1396.6L1579.2 1385.3L1579.6 1395.2L1580 1390.3L1580.4 1403.4L1580.8 1384.5L1581.2 1390.6L1581.6 1384.2L1582 1395.6L1582.4 1392L1582.7 1394.1L1583.1 1373.2L1583.5 1400.9L1583.9 1382.9L1584.3 1384.3L1584.7 1376L1585.1 1384L1585.5 1394.7L1585.9 1382.1L1586.1 1400.5L1586.2 1377.9L1586.6 1387.7L1587 1393.4L1587.4 1392.1L1587.8 1384L1588.2 1403.5L1588.6 1376.9L1589 1398L1589.4 1381.1L1589.7 1393.6L1590.1 1380.6L1590.5 1407.7L1590.9 1391.7L1591.3 1400.5L1591.7 1406.1L1592.1 1394.7L1592.5 1403.9L1592.9 1408.1L1593.2 1403.7L1593.6 1407.9L1594 1402.7L1594.4 1400.5L1594.8 1390.3L1595.2 1399L1595.6 1403.7L1596 1390.2L1596.4 1398.7L1596.7 1403L1597.1 1404.5L1597.5 1379.6L1597.9 1394.8L1598.3 1380.5L1598.7 1401.8L1599.1 1402.4L1599.5 1379.4L1599.9 1395.3L1600.2 1394.2L1600.6 1393.5L1601 1398.6L1601.4 1379.6L1601.8 1395.4L1602.2 1375.9L1602.6 1387.6L1603 1357.2L1603.4 1366.6L1603.7 1361.4L1603.7 1383.1L1604.1 1366.4L1604.5 1377.3L1604.9 1386.1L1605.3 1397.8L1605.7 1399.7L1606.1 1420.8L1606.5 1432.6L1606.9 1430.6L1607.2 1420.6L1607.6 1408.2L1608 1397.8L1608.4 1401L1608.8 1398L1609.2 1409.1L1609.6 1391.5L1610 1386.6L1610.4 1395.1L1610.7 1378.3L1611.1 1393.3L1611.5 1381.2L1611.9 1362.8L1612.3 1358.5L1612.7 1356.2L1613.1 1341.6L1613.5 1351L1613.9 1347.5L1614.2 1360.7L1614.6 1377.1L1615 1376.1L1615.4 1369.3L1615.8 1376.7L1616.2 1381.5L1616.6 1393L1617 1399.7L1617.4 1404.5L1617.7 1392.9L1618.1 1412.7L1618.5 1401.9L1618.5 1392.7L1618.9 1417.2L1619.3 1402L1619.7 1411.4L1620.1 1402.3L1620.5 1395.1L1620.9 1405.9L1621.2 1407.4L1621.6 1398.9L1622 1393.1L1622.4 1397.3L1622.8 1401.1L1623.2 1386.7L1623.6 1400.6L1624 1402L1624.4 1388L1624.7 1369.8L1625.1 1390.3L1625.5 1385.4L1625.9 1391.6L1626.3 1386.6L1626.7 1389.1L1627.1 1375.6L1627.5 1381.4L1627.9 1380.3L1628.2 1364.7L1628.6 1383.8L1629 1364.7L1629 1375.4L1629.4 1383.3L1629.8 1377.8L1630.2 1380.1L1630.6 1372.3L1631 1370.8L1631.4 1347.8L1631.7 1353.4L1632.1 1357.9L1632.5 1386.6L1632.9 1389.1L1633.3 1382.8L1633.7 1390.3L1634.1 1394.9L1634.5 1394.3L1634.9 1383L1635.2 1405.4L1635.6 1395L1636 1397.9L1636.4 1375.8L1636.8 1396L1637.2 1386.5L1637.6 1373.5L1638 1388.4L1638.4 1386.1L1638.7 1392.4L1639.1 1392.8L1639.5 1387.4L1639.9 1423L1640.3 1421L1640.7 1412.5L1641 1409.4L1641.1 1431.8L1641.5 1418.3L1641.9 1420.6L1642.2 1414.9L1642.6 1425L1643 1420.5L1643.4 1401.2L1643.8 1400.2L1644.2 1398.2L1644.6 1406.1L1645 1383.6L1645.2 1396.5L1645.4 1371.7L1645.7 1395L1646.1 1388.7L1646.5 1384.2L1646.9 1391.9L1647.3 1396L1647.7 1391.1L1648.1 1385.3L1648.5 1388.8L1648.9 1367.7L1649.2 1388.3L1649.6 1377.6L1650 1377.5L1650.4 1382.9L1650.8 1393.4L1651.2 1380.3L1651.6 1376.6L1652 1382.8L1652.4 1383.7L1652.7 1401.5L1653.1 1392.4L1653.5 1384.7L1653.9 1381.7L1654.3 1377.3L1654.7 1386.3L1655.1 1382.8L1655.5 1393.1L1655.9 1379.7L1656.2 1378.9L1656.6 1385.6L1657 1375.9L1657.4 1385.2L1657.8 1384.8L1658.2 1380.4L1658.6 1357.6L1659 1382.5L1659.4 1361.7L1659.7 1360.4L1660.1 1351.9L1660.5 1362.6L1660.9 1344.6L1660.9 1346.4L1661.3 1357.7L1661.7 1364.8L1662.1 1367.7L1662.5 1367.7L1662.9 1395.2L1663 1375L1663.2 1394L1663.6 1388.8L1664 1405.6L1664.4 1384.7L1664.8 1400.9L1665.2 1392.2L1665.6 1418.4L1666 1427.2L1666.4 1419.8L1666.7 1424.7L1667.1 1421.1L1667.5 1401.6L1667.9 1395.4L1668.3 1391.6L1668.7 1398.1L1669.1 1397.8L1669.5 1371.6L1669.9 1371.2L1670.2 1383L1670.6 1371.3L1671 1378.3L1671.4 1377.7L1671.8 1371.7L1672.2 1394.8L1672.6 1381L1673 1381.8L1673.4 1389.7L1673.7 1388.5L1674.1 1400.8L1674.5 1391L1674.9 1387.5L1675.3 1386.3L1675.7 1397.9L1676.1 1384.4L1676.5 1387L1676.9 1382.1L1677.2 1385.8L1677.6 1378L1678 1379.7L1678.4 1359.8L1678.8 1382.1L1679.2 1371.4L1679.6 1384.1L1680 1401.5L1680.4 1392.1L1680.7 1393.7L1681.1 1404.7L1681.5 1409.4L1681.8 1424.2L1681.9 1415.2L1682.3 1427.1L1682.7 1396.2L1683.1 1393.3L1683.5 1412.8L1683.9 1410.9L1684.2 1426.3L1684.6 1431.3L1685 1432.3L1685.4 1433.2L1685.8 1415.9L1686.2 1394.5L1686.6 1393.4L1687 1380.6L1687.4 1386.7L1687.7 1384.6L1688.1 1396.5L1688.5 1378.8L1688.9 1396.4L1689.3 1390.2L1689.7 1397.9L1690.1 1382.8L1690.5 1395.4L1690.9 1381.3L1691.2 1368.9L1691.6 1380.4L1692 1399.1L1692.4 1367.6L1692.8 1367.6L1693.2 1354.8L1693.6 1345.2L1694 1328.4L1694.4 1325.2L1694.7 1325.5L1694.8 1336.4L1695.1 1330.8L1695.5 1333.6L1695.9 1368.3L1696.3 1363.9L1696.7 1390.5L1696.7 1366.2L1697.1 1366.9L1697.5 1379.3L1697.9 1392.2L1698.2 1382.4L1698.6 1377.1L1699 1373.1L1699.4 1374.3L1699.8 1377.5L1700.2 1398.5L1700.6 1399.4L1701 1406.4L1701.4 1420.9L1701.7 1441.6L1702.1 1421.1L1702.5 1413.1L1702.9 1391.9L1703.3 1380.6L1703.7 1390.1L1704.1 1382.1L1704.5 1373.9L1704.9 1384.5L1705.2 1376.8L1705.6 1384.9L1706 1385.3L1706.4 1373.3L1706.8 1382.8L1707.2 1385.8L1707.6 1365L1708 1375.9L1708.4 1368.9L1708.7 1367.1L1709.1 1344.5L1709.5 1371.6L1709.9 1376.2L1710.3 1391.2L1710.7 1382.6L1711.1 1380.1L1711.5 1399.2L1711.9 1384.2L1712.2 1372.6L1712.6 1370.3L1713 1383.6L1713.4 1365.4L1713.8 1391.5L1714.2 1376.6L1714.6 1381.5L1714.8 1396L1715 1378.5L1715.4 1399.2L1715.7 1394.4L1716.1 1390L1716.5 1400.3L1716.9 1379.7L1717.3 1394.3L1717.7 1401.4L1718.1 1388L1718.5 1390.1L1718.9 1399.3L1719.2 1393.9L1719.6 1380.5L1720 1380.6L1720.4 1401.6L1720.8 1378.3L1721.2 1377.8L1721.6 1375.7L1722 1389.9L1722.4 1391.9L1722.7 1385L1723.1 1389L1723.5 1384.1L1723.9 1385.8L1724.3 1381.4L1724.7 1381.8L1725.1 1375.5L1725.5 1373.1L1725.9 1376.2L1726.2 1378.6L1726.6 1359.3L1727 1366.4L1727.4 1372.1L1727.8 1386.8L1728.2 1375.4L1728.6 1385.3L1729 1381L1729.4 1386.7L1729.7 1367.5L1730.1 1392L1730.5 1402.4L1730.9 1383.3L1731.3 1382.5L1731.7 1380.3L1732.1 1416.5L1732.5 1400.3L1732.9 1398.6L1733.2 1405.8L1733.6 1388.9L1734 1383.6L1734.4 1379.4L1734.8 1380.7L1735.2 1388.8L1735.6 1374.2L1736 1386.2L1736.4 1415L1736.7 1391.1L1737.1 1394.9L1737.5 1384L1737.9 1390.6L1738.3 1388.6L1738.7 1371L1739.1 1389.7L1739.5 1393.5L1739.9 1375.8L1740.2 1369.9L1740.6 1375.7L1741 1374L1741.1 1379.8L1741.4 1387.5L1741.8 1383.8L1742.2 1389.1L1742.6 1369.6L1743 1386.7L1743 1372L1743.4 1389.3L1743.7 1398.8L1744.1 1389.4L1744.5 1390.1L1744.9 1379.4L1745.3 1412.2L1745.7 1395.9L1746.1 1387L1746.5 1397.4L1746.9 1387.8L1747.2 1390.9L1747.6 1373.1L1748 1374.3L1748.4 1407L1748.8 1402L1749.2 1394.8L1749.6 1387.9L1750 1389L1750.4 1392.7L1750.7 1381.5L1751.1 1378.6L1751.5 1385.8L1751.9 1389.2L1752.3 1385.2L1752.7 1393.2L1753.1 1376L1753.5 1375.4L1753.9 1392.8L1754.2 1368.6L1754.6 1383.7L1755 1375L1755.4 1383.6L1755.8 1385.7L1756.2 1377.1L1756.6 1394.8L1757 1388L1757.4 1398.3L1757.7 1381.8L1758.1 1390L1758.5 1391.6L1758.9 1394.5L1759.3 1383.1L1759.7 1387.6L1760.1 1393.2L1760.5 1396.3L1760.9 1373.8L1761.2 1377.3L1761.6 1405L1762 1381.6L1762.4 1389.2L1762.8 1391.9L1763.2 1390.9L1763.6 1409.5L1764 1369.4L1764.4 1373L1764.7 1393L1765.1 1392.3L1765.5 1389.7L1765.9 1397.4L1766.3 1384.1L1766.7 1389.9L1766.7 1400.9L1767.1 1395.3L1767.5 1397.7L1767.9 1398.1L1768.2 1396L1768.6 1386.4L1769 1397.5L1769.4 1409.8L1769.8 1377.3L1770.2 1397.5L1770.6 1375.1L1771 1386.4L1771.4 1382L1771.7 1395.3L1772.1 1384.6L1772.5 1388.9L1772.9 1385.1L1773.3 1379.3L1773.7 1388L1774.1 1375.2L1774.5 1398.3L1774.9 1394.5L1775.2 1378.4L1775.6 1377L1776 1370.8L1776.4 1364.8L1776.8 1376.8L1777.2 1373.6L1777.6 1379.2L1778 1380.8L1778.4 1384.3L1778.7 1383L1779.1 1390.9L1779.5 1387.4L1779.9 1378L1780.3 1381.2L1780.7 1374.2L1781.1 1390.4L1781.5 1388.3L1781.9 1379.1L1782.2 1391.4L1782.6 1390.9L1783 1374.4L1783.4 1383.5L1783.8 1371.3L1784.2 1379.4L1784.6 1385.1L1785 1391.9L1785.4 1369L1785.7 1382.7L1786.1 1391.4L1786.5 1397.9L1786.9 1395.3L1787.3 1386.5L1787.7 1369.5L1788.1 1391.8L1788.5 1379.2L1788.9 1380L1789.2 1416.9L1789.6 1395.7L1790 1374L1790.4 1403.5L1790.8 1369.8L1791.2 1380.2L1791.6 1396L1792 1356.9L1792.4 1374.9L1792.7 1354.6L1793.1 1367.1L1793.5 1376.7L1793.7 1358.4L1793.9 1354.8L1794.3 1362L1794.7 1392.2L1794.9 1377.1L1795.1 1399.4L1795.5 1398.1L1795.9 1381.9L1796.2 1413.8L1796.6 1374.9L1797 1418.1L1797.4 1416L1797.8 1394.4L1798.2 1403.8L1798.6 1402.2L1799 1409.2L1799.4 1390.2L1799.7 1393.7L1800.1 1394.8L1800.5 1400.3L1800.9 1405.3L1801.3 1387.8L1801.7 1408.8L1802.1 1391.6L1802.5 1377.4L1802.9 1376.6L1803.2 1388.3L1803.6 1411.6L1804 1379.8L1804.4 1377.3L1804.8 1387.1L1805.2 1375.4L1805.6 1379L1806 1408.2L1806.4 1393.9L1806.7 1397.4L1807.1 1376.6L1807.5 1382.6L1807.9 1393.5L1808.3 1389.6L1808.7 1387.1L1809.1 1404.4L1809.5 1399.5L1809.6 1399L1809.9 1402.7L1810.2 1401.9L1810.6 1396.2L1811 1412.6L1811.4 1412.2L1811.8 1394L1812.2 1389.9L1812.6 1391.6L1813 1436.4L1813.4 1421.5L1813.7 1439.9L1814.1 1440.8L1814.3 1439L1814.5 1431.9L1814.9 1426.2L1815.3 1439.9L1815.7 1423L1816.1 1397.4L1816.5 1400.9L1816.9 1414.5L1817.2 1404.8L1817.6 1401.1L1818 1380.9L1818.4 1372.1L1818.8 1400.7L1819.2 1381.9L1819.6 1387.6L1820 1375.3L1820.4 1380.1L1820.7 1386.3L1821.1 1379.3L1821.4 1378.9L1821.5 1356.7L1821.9 1381.1L1822.3 1370.1L1822.7 1388.1L1823.1 1389.7L1823.5 1383.1L1823.9 1393.3L1824.2 1367.7L1824.6 1374.6L1825 1399.9L1825.4 1381.9L1825.8 1370.6L1826.2 1398.1L1826.6 1388.9L1827 1368.5L1827.4 1392.3L1827.7 1377L1828.1 1384.7L1828.5 1382.7L1828.9 1396.8L1829.3 1388.8L1829.7 1395.8L1830.1 1377.1L1830.5 1394.2L1830.9 1405.6L1831.2 1412.4L1831.6 1408.9L1832 1430L1832.1 1427.6L1832.4 1424.9L1832.8 1419.3L1833.2 1422.1L1833.6 1392.9L1834 1397.3L1834.3 1374.5L1834.4 1388.5L1834.7 1388.4L1835.1 1378.5L1835.5 1378.4L1835.9 1386.7L1836.3 1378.8L1836.7 1373.1L1837.1 1392.5L1837.5 1375.8L1837.9 1392.7L1838.2 1382.7L1838.6 1393.2L1839 1397.5L1839.4 1390.9L1839.8 1406.1L1840.2 1411.4L1840.6 1395.3L1841 1397.6L1841.4 1406.8L1841.7 1372.9L1842.1 1390.7L1842.5 1402.4L1842.9 1389.2L1843.3 1388.6L1843.7 1398L1844.1 1396.1L1844.5 1412.7L1844.9 1390.7L1845.2 1373.2L1845.6 1380.9L1846 1382.2L1846.4 1399.6L1846.8 1405.3L1847.2 1385.5L1847.6 1392.5L1848 1398.6L1848.4 1400.8L1848.7 1388.6L1849.1 1392.8L1849.5 1405L1849.9 1401.8L1850.3 1418.5L1850.7 1413.5L1851.1 1395.3L1851.5 1405.8L1851.9 1409.7L1852.2 1397.3L1852.6 1386.3L1853 1407.6L1853.4 1401.6L1853.8 1400.3L1854.2 1371.7L1854.6 1386.2L1855 1394L1855.4 1411.7L1855.7 1389.2L1856.1 1391.4L1856.5 1399.7L1856.9 1405.7L1857.3 1402.6L1857.7 1414.9L1858.1 1401.4L1858.5 1401.6L1858.9 1405.5L1859.2 1398.6L1859.6 1410.9L1860 1381.8L1860.4 1394.5L1860.8 1404.4L1861.2 1383.4L1861.6 1385L1862 1395.4L1862.4 1403.2L1862.6 1389.6L1862.7 1383.6L1863.1 1380.1L1863.5 1374.5L1863.9 1371.5L1864.3 1391.2L1864.7 1370L1865.1 1386.6L1865.5 1354.4L1865.8 1359.2L1865.9 1353.2L1866.2 1363.5L1866.6 1366.7L1867 1376.6L1867.4 1405.2L1867.8 1384.7L1868.2 1363.5L1868.6 1386.3L1869 1412.6L1869.4 1416.1L1869.7 1419L1870.1 1427.2L1870.5 1414L1870.9 1402.3L1871.3 1405L1871.7 1391.9L1872.1 1382.7L1872.5 1386.7L1872.9 1392.8L1873.2 1398L1873.6 1389.2L1874 1402.8L1874.4 1404.4L1874.8 1385L1875.2 1402.2L1875.6 1412.4L1876 1389.4L1876.4 1390.2L1876.7 1385.3L1877.1 1396.9L1877.5 1382.7L1877.9 1394.4L1878.3 1401.9L1878.7 1391.6L1879.1 1385.5L1879.5 1397.8L1879.9 1386.8L1880.2 1380.9L1880.6 1386.4L1881 1380L1881.4 1380L1881.8 1387.1L1882.2 1374.7L1882.6 1371.9L1883 1398.5L1883.4 1385.1L1883.7 1370.1L1884.1 1374.6L1884.5 1399.6L1884.9 1378.5L1885.3 1367.3L1885.7 1373.6L1886.1 1375.6L1886.5 1385.6L1886.9 1384.8L1887.2 1398.8L1887.6 1388.2L1888 1366.2L1888.4 1391.8L1888.8 1402.6L1889.2 1389.2L1889.6 1416.8L1890 1373.4L1890.4 1391.1L1890.7 1400.7L1891.1 1402L1891.5 1407.6L1891.9 1396.9L1892.3 1397.4L1892.7 1413.4L1893.1 1386.7L1893.5 1400.1L1893.9 1407.1L1894.2 1385.6L1894.6 1387.1L1895 1400.5L1895.4 1401.6L1895.8 1384.5L1896.2 1401.6L1896.6 1397.9L1897 1388.9L1897.4 1418.4L1897.7 1423.1L1898.1 1417.9L1898.2 1415L1898.5 1408L1898.9 1395.9L1899.2 1408.1L1899.3 1384.5L1899.7 1395.7L1900.1 1414.5L1900.5 1391.2L1900.9 1380.9L1901.2 1375.1L1901.6 1392.5L1902 1385.4L1902.4 1360.9L1902.8 1382.1L1903.2 1393.1L1903.6 1399.4L1904 1388.4L1904.4 1380.5L1904.7 1396.1L1905.1 1371.3L1905.5 1393.7L1905.9 1406.3L1906.3 1380.7L1906.7 1387.7L1907.1 1391.1L1907.5 1376L1907.9 1395.5L1908.2 1382L1908.6 1394.5L1909 1371.7L1909.4 1388L1909.8 1387.2L1910.2 1381L1910.6 1387.8L1911 1382.4L1911.4 1390L1911.7 1382L1912.1 1388.8L1912.5 1396.3L1912.9 1386.2L1913.3 1388.4L1913.7 1405.3L1914.1 1398.4L1914.5 1413.1L1914.9 1395.1L1915.2 1387.5L1915.6 1370.8L1916 1392.2L1916.4 1383.6L1916.8 1378.4L1917.2 1385.1L1917.6 1410.9L1918 1395.9L1918.4 1387.1L1918.7 1387.2L1919.1 1389L1919.5 1399.6L1919.9 1409.9L1920.3 1387.3L1920.7 1379.8L1921.1 1397L1921.5 1386.8L1921.9 1398.2L1922.2 1394.5L1922.6 1400L1923 1387.8L1923 1405.5L1923.4 1399.7L1923.8 1399L1924.2 1415.2L1924.6 1430.5L1925 1411.5L1925.4 1411.1L1925.7 1415.8L1926.1 1399.9L1926.5 1399.1L1926.9 1389.7L1927.3 1401.5L1927.7 1396.3L1928.1 1391.6L1928.5 1417.6L1928.9 1388.2L1929.2 1397.8L1929.6 1407.7L1930 1407.1L1930.4 1371L1930.8 1409.4L1931.2 1393.8L1931.6 1365.1L1931.6 1360.6L1932 1336.3L1932.4 1350.1L1932.7 1365.8L1933.1 1345.9L1933.5 1346L1933.9 1362.7L1934.3 1339.2L1934.7 1351.9L1935.1 1361.4L1935.5 1345.8L1935.9 1383.6L1936.2 1382.7L1936.6 1399.1L1937 1383.9L1937.4 1394.2L1937.8 1398.9L1938.2 1430.6L1938.6 1407.9L1939 1399L1939.4 1430.5L1939.7 1385.4L1940.1 1403.4L1940.5 1399L1940.9 1419.4L1941.3 1390.4L1941.7 1400.8L1942.1 1374L1942.5 1398.1L1942.9 1336.6L1943.2 1356.4L1943.6 1335.2L1944 1340.5L1944.4 1358L1944.8 1376.4L1945.2 1370L1945.6 1392.8L1946 1376.8L1946.4 1353L1946.7 1364.8L1946.8 1364L1947.1 1352L1947.5 1357.5L1947.9 1359.7L1948.3 1351.6L1948.7 1379.4L1949.1 1382.8L1949.5 1380.2L1949.9 1391.5L1950.2 1376.5L1950.6 1395.8L1950.6 1391L1951 1389.7L1951.4 1390.8L1951.8 1386.8L1952.2 1390.7L1952.6 1409.3L1953 1372.2L1953.4 1387.7L1953.7 1375.1L1954.1 1393.2L1954.5 1376L1954.9 1395.2L1955.3 1367.3L1955.7 1384L1956.1 1387.8L1956.5 1413.3L1956.9 1408L1957.2 1390.7L1957.6 1392.6L1958 1392.9L1958.4 1392L1958.8 1376.8L1959.2 1390.5L1959.6 1390L1960 1393.1L1960.4 1395.9L1960.7 1380.8L1961.1 1388.8L1961.5 1388.2L1961.9 1381.5L1962.3 1384.1L1962.7 1376.9L1963.1 1377.6L1963.5 1398.7L1963.9 1393.7L1964.2 1375.9L1964.6 1389.7L1965 1379.3L1965.4 1394.8L1965.8 1410.6L1966.2 1408.1L1966.6 1392.5L1967 1389.7L1967.4 1361L1967.7 1377.2L1968.1 1377.5L1968.5 1375L1968.9 1400.6L1969.3 1383.3L1969.7 1384.9L1970.1 1363.5L1970.5 1390.9L1970.9 1398.9L1971.2 1383.5L1971.6 1386.6L1972 1384.2L1972.4 1383.4L1972.8 1384.8L1973.2 1393.6L1973.6 1392.1L1974 1364.3L1974.4 1394.8L1974.7 1383.4L1975.1 1399.1L1975.5 1406.7L1975.9 1380.2L1976.3 1387.9L1976.7 1377.2L1977.1 1381.3L1977.5 1391.6L1977.9 1404.6L1978.2 1380.3L1978.3 1399.6L1978.6 1381.1L1979 1398.3L1979.4 1397.4L1979.8 1400.1L1979.8 1400.4L1980.2 1405.1L1980.6 1375.6L1981 1404.7L1981.4 1407.1L1981.7 1385.1L1982.1 1392.3L1982.5 1374L1982.9 1384.9L1983.3 1370.6L1983.7 1381.5L1984.1 1390.5L1984.5 1385.8L1984.9 1375.3L1985.2 1388.7L1985.6 1390.9L1986 1384.3L1986.4 1379.4L1986.8 1370.4L1987.2 1379.1L1987.6 1375.5L1988 1387.3L1988.4 1368L1988.7 1367.1L1989.1 1400.7L1989.5 1399L1989.9 1412.2L1990.3 1416.1L1990.7 1425.9L1991.1 1426.3L1991.5 1423.9L1991.9 1406.3L1992.2 1393.6L1992.6 1378.8L1993 1381.2L1993.4 1390L1993.8 1391.7L1994.2 1399.6L1994.6 1376.4L1995 1381.4L1995.4 1374.5L1995.7 1370.6L1996.1 1369.8L1996.5 1373.1L1996.9 1372.1L1996.9 1379.7L1997.3 1374.4L1997.7 1363.3L1997.7 1355.7L1998.1 1374.2L1998.5 1371L1998.9 1353.2L1999.2 1381.3L1999.6 1389.9L2000 1389.6L2000.4 1394.3L2000.8 1412.7L2001.2 1384.7L2001.6 1411L2002 1397.7L2002.4 1395.1L2002.7 1384.7L2003.1 1390L2003.5 1391.3L2003.9 1394.1L2004.3 1382L2004.7 1387.4L2005.1 1391.1L2005.5 1397.6L2005.9 1393.2L2006.2 1383.5L2006.6 1401.9L2007 1385.5L2007.4 1387L2007.8 1377.3L2008.2 1397.2L2008.6 1401.3L2009 1393.4L2009.4 1397.3L2009.7 1420.6L2010.1 1382.2L2010.5 1391.9L2010.9 1392.5L2011.3 1401.4L2011.7 1388.3L2012.1 1393.6L2012.5 1372.9L2012.9 1380.3L2013.2 1371.2L2013.5 1396.7L2013.6 1391.7L2014 1385.8L2014.4 1386.9L2014.8 1363.6L2015.2 1376L2015.6 1390.6L2016 1382.7L2016.4 1361.9L2016.7 1384.5L2017.1 1376.1L2017.5 1401L2017.9 1390.3L2018.3 1387.4L2018.7 1389.5L2019.1 1387.9L2019.5 1385.1L2019.9 1377.5L2020.2 1407.5L2020.6 1389.1L2021 1382.5L2021.4 1387.1L2021.8 1377.4L2022.2 1390L2022.6 1392.6L2023 1396.1L2023.4 1377.9L2023.6 1399.9L2023.7 1390.8L2024.1 1386.5L2024.5 1379.6L2024.9 1388.6L2025.3 1395L2025.7 1379.3L2026.1 1396.8L2026.5 1392.5L2026.9 1405.4L2027.2 1382.9L2027.6 1383.1L2028 1402.2L2028.4 1386.5L2028.8 1378.4L2029.2 1390.9L2029.6 1401.2L2030 1385.2L2030.4 1378.1L2030.7 1403.3L2031.1 1375.6L2031.5 1384.7L2031.9 1374.3L2032.3 1393.8L2032.7 1373.1L2033.1 1378.9L2033.2 1373.8L2033.5 1380.8L2033.9 1371.6L2034.2 1383.7L2034.6 1387.1L2035 1394.1L2035.4 1400.6L2035.8 1385.3L2036.2 1390.9L2036.6 1389.9L2037 1393L2037.4 1387.7L2037.7 1391.5L2038.1 1398.3L2038.5 1384.3L2038.9 1369.5L2039.3 1398.5L2039.7 1392L2040.1 1379.6L2040.5 1390.3L2040.9 1370.2L2041.2 1385.6L2041.6 1389.3L2042 1385.7L2042.4 1364.7L2042.8 1395.8L2043.2 1373.7L2043.6 1396.4L2044 1366L2044.4 1368L2044.7 1364.1L2045.1 1349L2045.5 1373.3L2045.9 1363.7L2046.3 1372.8L2046.7 1371.1L2047.1 1391.8L2047.5 1374.5L2047.9 1390.7L2048.2 1373.4L2048.6 1379.6L2049 1388.8L2049.4 1383.2L2049.8 1383.2L2050.2 1385.3L2050.6 1359L2051 1393.5L2051.4 1397.6L2051.7 1396.1L2052.1 1384.1L2052.5 1381.5L2052.9 1373.7L2053.3 1370.6L2053.7 1378.3L2054.1 1379.7L2054.5 1391.3L2054.9 1371.8L2055.2 1368.3L2055.6 1383.8L2056 1375.2L2056.4 1388.9L2056.8 1382.3L2057.2 1380.5L2057.6 1372.2L2058 1395.4L2058.4 1379.4L2058.7 1370.5L2059.1 1375.9L2059.5 1372.5L2059.9 1404.9L2060.3 1388.1L2060.7 1383.5L2061.1 1386.3L2061.5 1401L2061.9 1363.5L2062.2 1368.2L2062.5 1387.6L2062.6 1371.2L2063 1360.8L2063.4 1347L2063.8 1347.1L2064 1363.6L2064.2 1359.7L2064.6 1352.3L2065 1348.2L2065.4 1367.9L2065.7 1375.2L2066.1 1367.7L2066.5 1376.4L2066.9 1367L2067.3 1378.4L2067.7 1374.8L2068.1 1406.5L2068.5 1401.1L2068.9 1403.4L2069.2 1395.1L2069.6 1384.7L2070 1391.3L2070.4 1383.5L2070.8 1396.8L2071.2 1379.4L2071.6 1381.3L2072 1408.6L2072.4 1402.6L2072.7 1398.7L2073.1 1384.5L2073.5 1385.5L2073.9 1375.4L2074.3 1409.7L2074.7 1391.7L2075.1 1393.8L2075.5 1396L2075.9 1393.7L2076.2 1412.8L2076.6 1387.1L2077 1393.1L2077.4 1400.3L2077.8 1371L2078.2 1391.2L2078.6 1379.9L2079 1387.8L2079.4 1395.1L2079.7 1382.3L2080.1 1372.9L2080.5 1385.7L2080.9 1369.5L2081.3 1356.9L2081.7 1362.6L2082.1 1379L2082.5 1385.2L2082.9 1368.9L2083.2 1394.5L2083.6 1392.2L2084 1364.7L2084.1 1379.5L2084.4 1378.9L2084.8 1387.1L2085.2 1354.3L2085.6 1350.8L2086 1384.6L2086.4 1374L2086.7 1385.5L2087.1 1377.9L2087.5 1369.2L2087.9 1370.4L2088.3 1387.1L2088.7 1381.3L2089.1 1356.8L2089.5 1377.1L2089.9 1372.8L2090.2 1382.3L2090.6 1389.7L2091 1400.4L2091.4 1399.5L2091.8 1407L2092.2 1401.3L2092.6 1399.5L2093 1383.1L2093.4 1408.7L2093.6 1387.4L2093.7 1412.9L2094.1 1365.3L2094.5 1399L2094.9 1391.5L2095.3 1374.4L2095.7 1394.4L2096.1 1390.5L2096.5 1388.8L2096.9 1383L2097.2 1392.5L2097.6 1367.1L2098 1371.8L2098.4 1380.9L2098.8 1368.2L2099.2 1380.9L2099.6 1383.8L2100 1376.7L2100.4 1366.4L2100.7 1381.9L2101.1 1364L2101.5 1354L2101.9 1372.8L2102.3 1363.3L2102.7 1384.5L2103.1 1375.2L2103.5 1380.6L2103.9 1377.3L2104.2 1389.2L2104.6 1402.7L2105 1409.7L2105.4 1343.7L2105.8 1399.2L2106 1393.6L2106.2 1402.6L2106.6 1371.1L2107 1378.7L2107.4 1377.6L2107.7 1398.9L2108.1 1376.1L2108.5 1394.9L2108.9 1373.5L2109.3 1387.2L2109.7 1410.2L2110.1 1386.5L2110.5 1394.2L2110.9 1358.8L2111.2 1398.1L2111.6 1386.9L2112 1386.6L2112.4 1392.5L2112.8 1391.4L2113.2 1384.5L2113.6 1380.6L2114 1389.3L2114.4 1388.2L2114.7 1386.1L2115.1 1397L2115.5 1390.4L2115.9 1388.5L2116.3 1378.9L2116.7 1383.6L2117.1 1386.3L2117.5 1382.4L2117.9 1400.6L2118.2 1380.3L2118.6 1395.8L2119 1392.7L2119.4 1394.5L2119.8 1382L2120.2 1394.5L2120.6 1380.4L2121 1389.1L2121.4 1389.6L2121.7 1378.9L2122.1 1390.6L2122.5 1367.2L2122.9 1384.9L2123.3 1379.5L2123.7 1358.6L2124.1 1383.8L2124.5 1356.6L2124.9 1364.7L2125 1365.5L2125.2 1366L2125.6 1380.8L2126 1358.1L2126.4 1374.5L2126.8 1377.7L2127.2 1379.6L2127.6 1380.5L2128 1389L2128.4 1403L2128.7 1406.9L2129.1 1407.5L2129.5 1397.6L2129.9 1381.7L2130.3 1405L2130.7 1394L2131.1 1383L2131.5 1391.6L2131.7 1389.5L2131.9 1396.7L2132.2 1382.6L2132.6 1389.6L2133 1390.3L2133.4 1387L2133.8 1379.2L2134.2 1373.5L2134.6 1396.6L2135 1380.5L2135.4 1398.3L2135.7 1407.3L2136.1 1395.6L2136.5 1388.5L2136.9 1389.8L2137.3 1385.1L2137.7 1409.6L2138.1 1373.2L2138.5 1378.3L2138.9 1379.2L2139.2 1402.3L2139.6 1380.5L2140 1390.5L2140.4 1390.6L2140.8 1385.9L2141.2 1403.4L2141.6 1376.2L2142 1377.6L2142.4 1380.5L2142.7 1374.6L2143.1 1407.2L2143.5 1392.5L2143.9 1392.8L2144.3 1401.8L2144.7 1380L2145.1 1361.5L2145.5 1398.9L2145.9 1381.8L2146 1387L2146.2 1386.3L2146.6 1387L2147 1381.2L2147.4 1395.1L2147.8 1393L2148.2 1371.7L2148.6 1388.8L2149 1388.9L2149.4 1406.8L2149.7 1383.4L2150.1 1381.4L2150.5 1384.4L2150.9 1370.2L2151.3 1406.3L2151.7 1375.6L2152.1 1400.8L2152.5 1393.9L2152.9 1402.8L2153.2 1373L2153.6 1382.6L2154 1385.8L2154.4 1381.3L2154.8 1404.3L2155.2 1390.1L2155.6 1383.2L2156 1393.1L2156.4 1389.3L2156.5 1406.6L2156.7 1389.7L2157.1 1395.3L2157.5 1390.1L2157.9 1375.8L2158.3 1390.2L2158.7 1395.7L2159.1 1383.7L2159.5 1397.3L2159.9 1366.9L2160.2 1382.2L2160.6 1380.8L2161 1375L2161.4 1392.8L2161.8 1380.2L2162.2 1383.1L2162.6 1359.6L2163 1368.2L2163.4 1365.6L2163.7 1385.4L2164.1 1385.1L2164.5 1374.9L2164.9 1389.2L2165.3 1384.1L2165.7 1347.7L2166.1 1349L2166.5 1344.9L2166.9 1371.5L2167.2 1368.1L2167.6 1379.3" stroke="#00f" stroke-width="2"/>
</g>
<path d="M389.4 1206.5V1242.6M432.1 1206.5V1242.6M448.0 1206.5V1242.6M448.9 1206.5V1242.6M452.8 1206.5V1242.6M468.1 1206.5V1242.6M491.7 1206.5V1242.6M494.9 1206.5V1242.6M495.9 1206.5V1242.6M507.5 1206.5V1242.6M516.0 1206.5V1242.6M540.2 1206.5V1242.6M547.8 1206.5V1242.6M550.7 1206.5V1242.6M560.5 1206.5V1242.6M576.4 1206.5V1242.6M585.3 1206.5V1242.6M588.3 1206.5V1242.6M593.8 1206.5V1242.6M594.8 1206.5V1242.6M603.8 1206.5V1242.6M611.0 1206.5V1242.6M613.6 1206.5V1242.6M620.4 1206.5V1242.6M621.3 1206.5V1242.6M627.6 1206.5V1242.6M628.5 1206.5V1242.6M643.2 1206.5V1242.6M648.6 1206.5V1242.6M649.5 1206.5V1242.6M656.5 1206.5V1242.6M664.1 1206.5V1242.6M677.5 1206.5V1242.6M678.4 1206.5V1242.6M684.6 1206.5V1242.6M685.5 1206.5V1242.6M696.6 1206.5V1242.6M703.7 1206.5V1242.6M704.6 1206.5V1242.6M710.0 1206.5V1242.6M716.2 1206.5V1242.6M722.1 1206.5V1242.6M723.0 1206.5V1242.6M727.3 1206.5V1242.6M734.1 1206.5V1242.6M735.0 1206.5V1242.6M742.0 1206.5V1242.6M744.7 1206.5V1242.6M745.8 1206.5V1242.6M746.8 1206.5V1242.6M747.9 1206.5V1242.6M749.7 1206.5V1242.6M750.9 1206.5V1242.6M752.1 1206.5V1242.6M753.3 1206.5V1242.6M756.4 1206.5V1242.6M757.6 1206.5V1242.6M758.8 1206.5V1242.6M760.0 1206.5V1242.6M761.7 1206.5V1242.6M762.9 1206.5V1242.6M764.1 1206.5V1242.6M765.3 1206.5V1242.6M768.4 1206.5V1242.6M772.4 1206.5V1242.6M773.5 1206.5V1242.6M774.6 1206.5V1242.6M777.8 1206.5V1242.6M778.9 1206.5V1242.6M780.0 1206.5V1242.6M781.1 1206.5V1242.6M782.2 1206.5V1242.6M786.2 1206.5V1242.6M791.5 1206.5V1242.6M793.8 1206.5V1242.6M794.9 1206.5V1242.6M796.0 1206.5V1242.6M799.4 1206.5V1242.6M804.4 1206.5V1242.6M805.5 1206.5V1242.6M806.5 1206.5V1242.6M807.6 1206.5V1242.6M808.6 1206.5V1242.6M809.7 1206.5V1242.6M810.7 1206.5V1242.6M813.8 1206.5V1242.6M814.9 1206.5V1242.6M816.0 1206.5V1242.6M819.2 1206.5V1242.6M820.5 1206.5V1242.6M821.8 1206.5V1242.6M826.3 1206.5V1242.6M829.8 1206.5V1242.6M831.0 1206.5V1242.6M832.1 1206.5V1242.6M834.3 1206.5V1242.6M837.8 1206.5V1242.6M839.0 1206.5V1242.6M840.2 1206.5V1242.6M841.4 1206.5V1242.6M852.3 1206.5V1242.6M857.0 1206.5V1242.6M857.9 1206.5V1242.6M858.8 1206.5V1242.6M863.2 1206.5V1242.6M864.4 1206.5V1242.6M865.6 1206.5V1242.6M866.7 1206.5V1242.6M867.9 1206.5V1242.6M869.1 1206.5V1242.6M870.2 1206.5V1242.6M871.4 1206.5V1242.6M872.6 1206.5V1242.6M875.7 1206.5V1242.6M879.2 1206.5V1242.6M880.3 1206.5V1242.6M881.4 1206.5V1242.6M882.5 1206.5V1242.6M883.6 1206.5V1242.6M884.7 1206.5V1242.6M885.7 1206.5V1242.6M886.8 1206.5V1242.6M888.6 1206.5V1242.6M889.7 1206.5V1242.6M890.7 1206.5V1242.6M891.8 1206.5V1242.6M892.9 1206.5V1242.6M894.0 1206.5V1242.6M895.1 1206.5V1242.6M896.2 1206.5V1242.6M901.9 1206.5V1242.6M903.0 1206.5V1242.6M904.1 1206.5V1242.6M905.5 1206.5V1242.6M906.7 1206.5V1242.6M907.9 1206.5V1242.6M909.1 1206.5V1242.6M910.2 1206.5V1242.6M911.4 1206.5V1242.6M912.6 1206.5V1242.6M914.0 1206.5V1242.6M915.1 1206.5V1242.6M916.2 1206.5V1242.6M919.7 1206.5V1242.6M923.3 1206.5V1242.6M924.3 1206.5V1242.6M925.4 1206.5V1242.6M926.4 1206.5V1242.6M927.5 1206.5V1242.6M928.5 1206.5V1242.6M929.5 1206.5V1242.6M932.6 1206.5V1242.6M933.7 1206.5V1242.6M934.7 1206.5V1242.6M935.8 1206.5V1242.6" stroke="#000" stroke-width="2" fill="none"/>
<path d="M937.3 1206.5V1242.6M938.9 1206.5V1242.6M940.5 1206.5V1242.6M942.1 1206.5V1242.6M943.7 1206.5V1242.6M946.7 1206.5V1242.6" stroke="#000" stroke-width="2" fill="none"/>
<rect x="947.0" y="1206.5" width="1220.3000000000002" height="36.09999999999991" fill="#000"/>
<rect x="952.5" y="1206.5" width="1" height="36.1" fill="#fff" fill-opacity="0.45"/>
<rect x="957.2" y="1206.5" width="1" height="36.1" fill="#fff" fill-opacity="0.45"/>
<rect x="963.8" y="1206.5" width="1" height="36.1" fill="#fff" fill-opacity="0.45"/>
<rect x="969.5" y="1206.5" width="1" height="36.1" fill="#fff" fill-opacity="0.45"/>
<rect x="974.0" y="1206.5" width="1" height="36.1" fill="#fff" fill-opacity="0.45"/>
<rect x="980.5" y="1206.5" width="4" height="36.1" fill="#fff" fill-opacity="1"/>
<rect x="993.0" y="1206.5" width="4" height="36.1" fill="#fff" fill-opacity="1"/>
<rect x="1004.7" y="1206.5" width="1.2" height="36.1" fill="#fff" fill-opacity="0.6"/>
<rect x="1018.5" y="1206.5" width="1.2" height="36.1" fill="#fff" fill-opacity="0.6"/>
<rect x="1037.2" y="1206.5" width="1.2" height="36.1" fill="#fff" fill-opacity="0.5"/>
<rect x="1044.7" y="1206.5" width="1.2" height="36.1" fill="#fff" fill-opacity="0.5"/>
<rect x="1063.5" y="1206.5" width="5" height="36.1" fill="#fff" fill-opacity="0.18"/>
<rect x="1090.2" y="1206.5" width="1.2" height="36.1" fill="#fff" fill-opacity="0.5"/>
<rect x="1114.2" y="1206.5" width="3.5" height="36.1" fill="#fff" fill-opacity="1"/>
<rect x="1126.5" y="1206.5" width="1.2" height="36.1" fill="#fff" fill-opacity="0.6"/>
<rect x="1135.6" y="1206.5" width="1.2" height="36.1" fill="#fff" fill-opacity="0.5"/>
<rect x="1163.2" y="1206.5" width="1.2" height="36.1" fill="#fff" fill-opacity="0.4"/>
<rect x="1248.3" y="1206.5" width="2" height="36.1" fill="#fff" fill-opacity="1"/>
<rect x="1255.0" y="1206.5" width="1.2" height="36.1" fill="#fff" fill-opacity="0.6"/>
<rect x="1293.5" y="1206.5" width="1.5" height="36.1" fill="#fff" fill-opacity="0.5"/>
<rect x="1409.3" y="1206.5" width="1.3" height="36.1" fill="#fff" fill-opacity="0.5"/>
<rect x="1427.4" y="1206.5" width="2" height="36.1" fill="#fff" fill-opacity="0.8"/>
<rect x="1471.0" y="1206.5" width="1.5" height="36.1" fill="#fff" fill-opacity="0.5"/>
<g clip-path="url(#ci)" fill="none" stroke-linejoin="round" stroke-linecap="round" id="inset" filter="url(#soft)">
<path d="M1281.3 581.3L1281.9 575.9L1282.4 581.1L1283 580.2L1283.6 579.9L1284.2 581.9L1284.8 583.7L1285.3 578.3L1285.9 579L1286.5 585.2L1287.1 573.2L1287.7 576.6L1288.3 579L1288.8 575.7L1289.4 578.5L1289.5 577.8L1290 575.4L1290.6 579.4L1291.2 575.5L1291.7 572.7L1292.3 572.3L1292.9 576L1293.5 571.4L1294.1 575.7L1294.7 566.2L1295.2 557.2L1295.8 557.5L1296 553.9L1296.4 552.6L1297 559.7L1297.6 573.1L1298.1 578L1298.7 585.2L1299.3 585.2L1299.3 585.2L1299.9 581.8L1300.5 580.5L1301.1 583.7L1301.6 584.9L1302.2 580.4L1302.8 579.9L1303.4 580.9L1304 576.7L1304.5 580.2L1305.1 579.8L1305.7 582.5L1306.3 578.9L1306.9 575.4L1307.5 577.8L1308 577.8L1308.6 576.6L1309.1 576.9L1309.2 576.3L1309.8 576.5L1310.4 576.6L1311 579L1311.5 577.5L1312.1 582.5L1312.7 577L1313.3 581L1313.9 577.3L1314.4 575.5L1315 577.6L1315.6 575.7L1316.2 580.1L1316.8 577.3L1317.4 572.2L1317.9 573.5L1318.5 570.6L1318.8 573.5L1319.1 573.4L1319.7 573.5L1320.3 570.6L1320.8 568.8L1321.4 572.9L1322 570.2L1322.6 564.9L1323.2 570.2L1323.8 571.5L1324.3 568L1324.9 569.5L1325.5 570.7L1326.1 573.4L1326.7 565.7L1327.2 569L1327.8 566.8L1328.4 569.1L1329 561.7L1329.6 562.5L1330.2 561.1L1330.7 563.3L1331.3 560.9L1331.9 558.9L1332.5 557.6L1333.1 558.7L1333.6 558.8L1334.2 558.6L1334.8 558.6L1335.4 558L1336 553.1L1336.6 553.6L1337.1 557.3L1337.7 551.1L1338.3 546.7L1338.9 549.6L1339.5 553.5L1340.1 548.2L1340.6 545.3L1341.2 546.7L1341.8 548.2L1342.4 541.6L1343 541.3L1343.5 546.7L1344.1 543.8L1344.7 544.7L1345.3 543.2L1345.9 540.8L1346.5 542L1347 543.3L1347.6 544.6L1348.2 544.1L1348.8 540.8L1349.4 536.2L1349.9 537.2L1350.5 536.3L1351.1 534L1351.7 532.8L1352.3 529.5L1352.9 532.2L1353.4 532.7L1354 526.3L1354.6 526.2L1355.2 516.1L1355.8 517.9L1356.3 514.4L1356.9 513.9L1357.5 503.9L1358.1 500.4L1358.7 489L1359.3 487.4L1359.4 491.1L1359.8 492.8L1360.4 513.6L1361 518.1L1361.6 519.7L1362.2 524.5L1362.8 528.5L1363.3 530.6L1363.9 535.5L1364.1 535.5L1364.5 531L1365.1 526.3L1365.7 537L1366.2 528.2L1366.8 527.2L1367.4 524.9L1368 528.5L1368.6 525.7L1369.2 522L1369.7 522.6L1370.3 520.6L1370.9 516.9L1371.5 511.6L1372.1 507.1L1372.6 504.5L1373.2 500.1L1373.8 498L1374.4 493.6L1375 483.7L1375.6 482.3L1376.1 477.5L1376.7 469.7L1377.3 463.7L1377.9 458.1L1378.5 454.3L1379 448.6L1379.6 439.8L1380.2 431.1L1380.8 415.1L1381.4 401L1382 379.6L1382.5 357.4L1383.1 325.7L1383.7 312L1384.2 300.6L1384.3 300.6L1384.9 336.6L1385.4 376.3L1386 429.6L1386.6 463.9L1387.2 492.7L1387.8 509.5L1388.3 514.2L1388.4 516L1388.9 509.7L1389.5 499.6L1390.1 487.2L1390.3 488.5L1390.7 489L1391 490.5L1391.3 499.6L1391.8 509.9L1392.4 520.2L1393 532.4L1393.6 540.6L1394.2 544.9L1394.8 541.9L1395.3 547.5L1395.9 547.1L1396.5 549.3L1396.9 552.1L1397.1 545.2L1397.7 552.5L1398.3 551.2L1398.8 547.6L1399.4 546.9L1400 544.5L1400.6 542.7L1401.2 536L1401.7 536.4L1402.3 533.1L1402.9 536.1L1403.5 531.3L1404.1 522.8L1404.7 526.4L1405.2 516.4L1405.8 519.5L1406.4 512.3L1407 511.8L1407.6 504L1408.1 501.5L1408.7 493.4L1409.3 481.1L1409.9 480L1410.5 465.5L1411.1 462.8L1411.6 451.6L1412.2 433.8L1412.8 422.6L1413.4 415.7L1413.7 415.7L1414 417.9L1414.5 443.4L1415.1 468.2L1415.7 499.9L1416.3 518.1L1416.9 531.8L1417.5 542.5L1418 548.7L1418.6 554.2L1419.2 559.4L1419.8 568.3L1420.3 563.9L1420.4 564.7L1421 568.3L1421.5 563.4L1422.1 571.2L1422.7 563.7L1423.3 557.1L1423.9 567.1L1424.4 563.9L1425 569.3L1425.6 565.8L1426.2 561.2L1426.8 566.3L1427.4 563.1L1427.9 563.7L1428.5 563.5L1429.1 561.5L1429.7 560.3L1430.3 557.8L1430.8 558.6L1431.4 562.2L1432 556.1L1432.6 556.1L1433.2 563.7L1433.8 556.6L1434.3 555.4L1434.9 554.1L1435.5 554.3L1436.1 558.5L1436.7 554.1L1437.2 557.7L1437.8 550.3L1438.4 542L1439 543.9L1439.6 541.3L1440.2 543.1L1440.7 542.3L1441.3 540.3L1441.9 534.4L1442.5 534.3L1443.1 530.6L1443.6 521.8L1444.2 526.1L1444.8 521.1L1445.4 514.6L1446 508.6L1446.6 502.4L1447.1 499.6L1447.7 489.6L1448.3 488.7L1448.6 488.3L1448.9 496.7L1449.5 509.7L1450 523.5L1450.6 535L1451.2 538.5L1451.8 542.9L1452.4 539.1L1452.5 552.3L1453 546.8L1453.5 546.4L1454.1 540.4L1454.5 541.1L1454.7 541.4L1455.3 542.1L1455.9 552L1456.5 551.4L1457 550.5L1457.6 554L1458 549.5L1458.2 549.7L1458.8 552.4L1459.4 554.7L1459.9 543.7L1460.5 545.6L1461.1 544L1461.7 543L1462.3 541L1462.9 536.1L1463.4 536L1464 535.2L1464.6 528.6L1465.2 527.7L1465.8 526.7L1466.3 522.5L1466.9 511.1L1467.5 506.8L1468.1 496.6L1468.7 497.6L1469.3 491.5L1469.8 479.1L1470.4 466L1471 458.4L1471.6 450.8L1472.2 449.8L1472.5 449.8L1472.7 460.9L1473.3 483L1473.9 506.4L1474.5 522.4L1475.1 532.7L1475.7 542.2L1476.2 544.7L1476.8 556.1L1477.4 549.8L1477.5 557.8L1478 550.7L1478.6 554.4L1479.2 547.1L1479.7 544L1480.3 538.4L1480.9 532.3L1481.5 527.6L1482.1 518.6L1482.6 509.3L1483.2 506.6L1483.8 499.5L1484.4 499.6L1484.8 496L1485 492.5L1485.6 511.7L1486.1 534L1486.7 546L1487.3 550.5L1487.9 560.7L1488.5 569.3L1489 572.4L1489.6 575.6L1490 575.6L1490.2 571.6L1490.8 572.1L1491.4 574.7L1492 570.5L1492.5 571.5L1493.1 571.3L1493.7 571.9L1494.3 561.8L1494.9 567.4L1495.4 564.1L1496 562.4L1496.6 565.2L1497.2 561.4L1497.8 560.2L1498.4 559.9L1498.9 552.7L1499.5 557L1500.1 557.1L1500.7 553L1501.3 548.2L1501.8 549L1502.4 551.9L1503 551.4L1503.6 550L1504.2 547.5L1504.8 542.5L1505.3 539.3L1505.9 546.7L1506.5 538.1L1507.1 539.4L1507.7 532.1L1508.2 529.4L1508.8 532.5L1509.4 529.4L1510 528.6L1510.6 522.1L1511.2 525.4L1511.7 520.8L1512.3 515.9L1512.9 505.5L1513.5 496.5L1514.1 497.2L1514.7 493.8L1515.2 481.9L1515.8 475.8L1516.4 460.3L1517 448.7L1517.6 427.5L1518.1 406.2L1518.7 384.6L1519.3 368L1519.9 348.6L1520.5 341.1L1521.1 341.7L1521.5 335.6L1521.6 344.4L1522.2 383L1522.8 424.3L1523.4 472.1L1524 491.5L1524.5 512.9L1525.1 524.9L1525.7 543.5L1526.3 548.5L1526.7 553.2L1526.9 544L1527.5 549.9L1528 541.8L1528.6 538.8L1529.2 535.4L1529.8 529.5L1530.4 532.5L1530.9 520.6L1531.5 513.6L1532.1 507.4L1532.6 505.3L1532.7 509.1L1533.3 517.2L1533.9 522.4L1534.4 525.2L1535 539.2L1535.6 540.8L1536.2 547.9L1536.8 544.2L1537.3 554.8L1537.9 552.5L1538.5 553.2L1539.1 553.8L1539.7 547.7L1540 550.2L1540.3 558L1540.8 547.9L1541.4 557.1L1542 557.8L1542.6 554.8L1543.2 547.4L1543.8 543.7L1544.3 549L1544.9 537.6L1545.5 536.1L1546.1 529.4L1546.7 528.8L1547.2 520.4L1547.8 514.2L1548.4 509.1L1549 489.6L1549.6 482.2L1550.2 471L1550.7 462.8L1551.3 467.4L1551.5 466.2L1551.9 477.5L1552.5 499.5L1553.1 518L1553.6 534.5L1554.2 543.7L1554.8 551.3L1555.4 562L1556 569.7L1556.6 561.6L1557 565.3L1557.1 572.1L1557.7 573.6L1558.3 571.1L1558.9 567.7L1559.5 564L1560 563.4L1560.6 563.8L1561.2 564.4L1561.8 561.6L1562.4 561.4L1563 558.3L1563.5 556.9L1564.1 552.9L1564.7 558.1L1565.3 551.1L1565.9 548.7L1566.4 548.9L1567 543.5L1567.6 543L1568.2 538L1568.8 532.6L1569.4 527.8L1569.9 523.8L1570.5 513.3L1571.1 510.5L1571.7 503.7L1572.3 494.6L1572.9 485.5L1573.4 473.8L1574 457.3L1574.6 452.5L1575.2 452.6L1575.5 455.3L1575.8 451.9L1576.3 474.7L1576.9 496.9L1577.5 515.5L1578.1 528.8L1578.7 535.9L1579.3 545.2L1579.8 545.6L1580.4 545.8L1581 546.7L1581 553.8L1581.6 551.2L1582.2 549L1582.7 542.8L1583.3 536.1L1583.9 534.1L1584.5 536.5L1585.1 526.8L1585.7 520.3L1586.2 520L1586.8 508.5L1587.4 512.4L1588 502.9L1588.6 495.1L1589.1 501L1589.7 492.2L1590.3 483.7L1590.9 470.5L1591.5 482.2L1592.1 472.8L1592.5 474.3L1592.6 477.3L1593.2 489.9L1593.8 499.9L1594.4 505.8L1595 511.9L1595.5 504.9L1596.1 514.2L1596.4 511.2L1596.7 510.3L1597.3 505.4L1597.9 498.9L1598.5 496.4L1599 487.9L1599.6 473.2L1600.2 463.8L1600.8 452.5L1601.4 431.6L1602 418L1602.5 398.8L1603.1 399.4L1603.3 400.9L1603.7 417.4L1604.3 443.3L1604.9 474.6L1605.4 495.6L1606 510.8L1606.6 520L1607.2 527.1L1607.8 531.9L1608.3 535L1608.4 538.5L1608.9 536.2L1609.5 526.5L1610.1 521.7L1610.7 519.9L1611.3 520.8L1611.8 503.5L1612.4 498.5L1613 487.7L1613.6 473.1L1614.2 459L1614.8 435.4L1615.3 419.8L1615.9 421.3L1616.3 420.1L1616.5 423.3L1617.1 449.6L1617.7 496.9L1618.2 511.8L1618.8 528.6L1619.4 546.3L1620 554.2L1620.6 556.7L1621.2 563.4L1621.4 568.6L1621.7 567.5L1622.3 566L1622.9 565.9L1623.5 559.9L1624.1 559.1L1624.7 553.9L1625.2 547.3L1625.8 539.1L1626.4 540L1626.9 546L1627 535.8L1627.6 543.1L1628.1 542.1L1628.7 549.1L1629.3 547.8L1629.9 549.8L1630.5 549.9L1631.1 545.9L1631.2 551.8L1631.6 548.3L1632.2 546L1632.8 544.8L1633.4 546.7L1634 534.4L1634.5 539.7L1635.1 530.6L1635.7 522.4L1636.3 514.8L1636.9 509L1637.5 505.1L1638 502.3L1638.6 501.6L1639.2 492.5L1639.8 493.2L1640.4 485.1L1640.9 492.6L1641.5 486.4L1642.1 484.1L1642.3 482.5L1642.7 493.6L1643.3 491.3L1643.9 495.8L1644.4 499.1L1645 505L1645.6 500L1645.8 506.4L1646.2 500.3L1646.8 498.3L1647.3 492.1L1647.9 485.1L1648.5 474.4L1649.1 456.9L1649.7 435.4L1650.3 411.5L1650.8 386.9L1651.4 364.7L1652 360.3L1652.1 357.7L1652.6 391.6L1653.2 436.1L1653.8 471.4L1654.3 506.8L1654.9 522.3L1655.5 535.2L1656.1 548.6L1656.7 555.4L1657.2 556.6L1657.5 559.9L1657.8 558.9L1658.4 556.1L1659 561.3L1659.6 562.5L1660.2 558.3L1660.7 555.7L1661.3 561.3L1661.9 551.6L1662.5 552.4L1663.1 550.1L1663.6 548.5L1664.2 543.1L1664.8 535.9L1665.4 533.4L1666 528.4L1666.6 527.9L1667.1 517.4L1667.7 514L1668.3 513.5L1668.9 515.2L1669.5 498L1670 479.7L1670.6 478.6L1671.2 472.1L1671.8 455.1L1672.4 455.1L1673 443.2L1673.5 433.7L1674.1 432.8L1674.7 421.2L1675.3 413.4L1675.9 416.8L1676.1 415.1L1676.4 424.9L1677 438.2L1677.6 445.3L1678.2 458.8L1678.8 458.4L1679.4 456.4L1679.4 458.6L1679.9 452.7L1680.5 441.7L1681.1 429.5L1681.7 412.6L1682.3 381.4L1682.8 345.9L1683.4 315.3L1683.9 315.3L1684 315.5L1684.6 357.4L1685.2 401L1685.8 435.9L1686.3 465.2L1686.9 492.3L1687.5 495.2L1688.1 515L1688.7 519.9L1689.3 525.1L1689.8 524.7L1689.8 530.4L1690.4 526.9L1691 519.9L1691.6 513.2L1692.2 502.5L1692.7 490.8L1693.3 477.1L1693.9 472.1L1694.1 464.3L1694.5 486.6L1695.1 501.2L1695.7 521.4L1696.2 534.6L1696.8 543.5L1697.4 548.5L1698 557.5L1698.6 559.3L1699.1 567.7L1699.3 560.4L1699.7 561.8L1700.3 557.1L1700.9 550L1701.5 550.8L1702.1 544.4L1702.6 544.7L1703.2 538.3L1703.8 535.2L1704.4 535.9L1705 523.8L1705.5 515.5L1706.1 510.4L1706.7 510.8L1707.3 517.3L1707.9 521.8L1708.5 528.2L1709 534.9L1709.6 532.9L1710.2 543.4L1710.8 538.7L1711 538.1L1711.4 532.5L1711.9 535.8L1712.5 535.1L1713.1 525.1L1713.7 515L1714.3 515.4L1714.9 509.2L1715.4 503.8L1716 497.6L1716.6 488.6L1717.2 481.9L1717.8 482L1718.4 479.1L1718.9 467.8L1719.5 468L1720.1 462.2L1720.7 456.9L1721.3 449.3L1721.8 439L1722.4 430L1723 410.1L1723.6 387.3L1724.2 358.5L1724.8 333L1725.3 304.6L1725.9 278.3L1726.5 258.7L1727.1 245.6L1727.7 245L1727.8 245L1728.2 280.2L1728.8 326.9L1729.4 379.2L1730 412.6L1730.6 442.5L1731.2 463.3L1731.7 465.4L1732.3 481.6L1732.9 489.4L1733.1 490.4L1733.5 483.5L1734.1 482.1L1734.6 471.1L1735.2 455.8L1735.8 443.9L1736.4 419.7L1737 412.4L1737.6 426.9L1738.1 454.9L1738.7 481L1739.3 492.5L1739.9 510.9L1740.5 518.2L1741 522.5L1741.6 531.7L1742.2 521.9L1742.8 528.2L1742.8 530.9L1743.4 531.6L1744 530.3L1744.5 520.8L1745.1 514L1745.7 510.7L1746.3 502.3L1746.9 491.3L1747.5 484.2L1748 480.3L1748.6 462.3L1749.2 453.5L1749.8 441.8L1750.4 436.4L1750.9 428.7L1751.5 408.3L1752.1 382.6L1752.7 355.1L1753.3 333.3L1753.9 321.8L1754.4 313.9L1755 303.1L1755.5 302.2L1755.6 304.3L1756.2 334.6L1756.8 360.2L1757.3 386.2L1757.9 399.9L1758.5 402L1759.1 406.9L1759.4 395.1L1759.7 400.3L1760.3 394.7L1760.8 375.5L1761.4 360.9L1762 347.3L1762.6 325.5L1763.2 295.9L1763.7 259.9L1764.3 217.9L1764.9 163.7L1765.5 105.6L1766.1 61.7L1766.7 51.5L1766.8 51.5L1767.2 95.4L1767.8 174.6L1768.4 251.8L1769 322.3L1769.6 352L1770.2 377.9L1770.7 410.3L1771.3 423.6L1771.7 425.4L1771.9 425.4L1772.1 425.4L1772.5 421.3L1773.1 405.8L1773.6 388.1L1774.2 366.9L1774.8 355.2L1775 355.8L1775.4 363.7L1776 409.8L1776.6 434.6L1777.1 470.3L1777.7 488.1L1778.3 515L1778.9 519.4L1779.5 523.9L1780 533.6L1780.6 535.2L1780.9 541.8L1781.2 540.7L1781.8 540L1782.4 534.8L1783 531.9L1783.5 528.2L1784.1 522.3L1784.7 519.5L1784.8 518.8L1785.3 526.4L1785.9 530.2L1786.4 535.5L1787 540.3L1787.6 542.1L1788.2 536.5L1788.8 543.9L1789.4 540.9L1789.7 537.2L1789.9 538.5L1790.5 538.7L1791.1 532.1L1791.7 535.7L1792.3 529.9L1792.8 521.2L1793.4 514L1794 506.5L1794.6 492.6L1795.2 485.5L1795.8 483.3L1796.3 474.2L1796.9 467.8L1797.5 449.2L1798.1 437.7L1798.7 410.9L1799.2 399.6L1799.8 379.5L1800.4 371.4L1801 359L1801.4 359L1801.6 359L1802.2 394.9L1802.7 445.3L1803.3 477.8L1803.9 509.2L1804.5 521.9L1805.1 543.3L1805.7 555.5L1806.2 560.5L1806.8 570.2L1807.4 575.7L1807.8 578.7L1808 579.7L1808.6 579.5L1809.1 579.4L1809.7 565.1L1810.3 563.3L1810.9 563.9L1811.5 556.9L1812.1 555.1L1812.1 554.9L1812.6 556.3L1813.2 557L1813.8 561.2L1814.4 570.2L1815 573.1L1815.5 560.8L1816.1 563.9L1816.7 574.9L1817 566.5L1817.3 570L1817.9 567.6L1818.5 572.6L1819 559.2L1819.6 558.8L1820.2 551.5L1820.8 544.3L1821.4 535.9L1821.9 526.4L1822.5 522.8L1823.1 520.8L1823.3 524.3L1823.7 524.2L1824.3 533.2L1824.9 543.4L1825.4 541L1826 547.1L1826.6 561.2L1827.2 560.7L1827.8 556.9L1828.3 561.9L1828.9 554.3L1829.3 557.8L1829.5 556.4L1830.1 554.6L1830.7 552.1L1831.3 556L1831.8 551L1832.4 549.9L1833 545.4L1833.6 543.1L1834.2 536.7L1834.8 535.8L1835.3 535L1835.9 528.5L1836.5 528L1837.1 518.2L1837.7 509.2L1838.2 511.1L1838.8 508.5L1839.4 494.8L1840 486.1L1840.6 473.4L1841.2 463.9L1841.7 450.4L1842.3 443.5L1842.9 425.5L1843.5 423.9L1844.1 416.3L1844.6 413.2L1844.9 416.9L1845.2 418.2L1845.8 431.4L1846.4 441.3L1847 447.1L1847.6 448.3L1848.1 456.9L1848.7 457.8L1849.2 457.9L1849.3 457.1L1849.9 446.9L1850.5 444.9L1851 436.7L1851.6 420.2L1852.2 393.2L1852.8 372.4L1853.4 357.1L1853.5 357.1L1854 377.6L1854.5 404.1L1855.1 434.2L1855.7 461.3L1856.3 476.9L1856.9 482.1L1857.4 493.4L1858 493L1858.6 495.6L1858.6 497.1L1859.2 499.4L1859.8 488.6L1860.4 486.7L1860.9 478L1861.5 465.6L1862.1 450.5L1862.7 439.8L1862.9 439.7L1863.3 447.3L1863.9 455L1864.4 487.8L1865 497.5L1865.6 516.9L1866.2 524.6L1866.8 534.4L1867.3 531.7L1867.9 538.9L1868.5 542.8L1869.1 545.1L1869.3 541.4L1869.7 545.4L1870.3 540.8L1870.8 531.6L1871.4 538.1L1872 537.2L1872.6 535.9L1873.2 526.7L1873.7 525.6L1874.3 524.3L1874.9 519.9L1875.5 511.1L1876.1 507.4L1876.7 489.1L1877.2 488.6L1877.8 479.9L1878.4 469.3L1879 466.2L1879.6 459.8L1880.1 452.9L1880.5 452.1L1880.7 457.2L1881.3 450.6L1881.9 460L1882.5 464L1883.1 472.6L1883.6 486.5L1884.2 487.7L1884.8 506L1885.4 523.5L1886 535.7L1886.5 538.2L1887.1 544.8L1887.7 556L1888.3 557.6L1888.9 569.8L1889.5 570.4L1890 571.1L1890.6 576.9L1891.2 572.4L1891.8 572.1L1892.4 569.6L1893 569.5L1893.5 571.8L1894.1 580.7L1894.7 578.6L1895.1 577.7L1895.3 580.4L1895.9 574.5L1896.4 569.5L1897 564.1L1897.6 565.1L1898.2 561.8L1898.8 561L1899.4 559.7L1899.9 560.2L1900.5 557.4L1901.1 558.2L1901.7 553.2L1902.3 548.4L1902.8 547L1903.4 545.1L1904 546.8L1904.6 540.9L1905.2 546.5L1905.8 541.9L1906.3 542.9L1906.9 546.7L1907.5 546.5L1908.1 541.5L1908.7 543.6L1909.2 542.4L1909.8 532.2L1910.4 539.4L1911 539.4L1911.6 535.2L1912.2 536.3L1912.7 529.7L1913.3 521.1L1913.9 518L1914.5 507.6L1915.1 500.4L1915.7 491.9L1916.2 491.2L1916.8 472.8L1917.4 473.1L1918 466.5L1918.6 470.6L1918.6 471.3L1919.1 475.1L1919.7 489L1920.3 501.3L1920.9 518.1L1921.5 528.4L1922.1 532.5L1922.6 537.6L1923.2 541.3L1923.8 548.4L1924.4 550.6L1925 556.8L1925.5 552.3L1926.1 555.1L1926.7 556.2L1926.9 565.5L1927.3 557.1L1927.9 562L1928.5 557L1929 555.8L1929.6 551.4L1930.2 554.2L1930.8 552.6L1931.4 552.5L1931.9 550.8L1932.5 542.4L1933.1 545.1L1933.7 537.4L1934.3 538.7L1934.9 537.1L1935.4 529.4L1936 526.4L1936.6 528.6L1937.2 521.6L1937.8 516.7L1938.3 510.4L1938.9 511.5L1939.5 507.7L1940.1 505L1940.6 502L1940.7 501.1L1941.3 508.8L1941.8 504.1L1942.4 510.5L1943 515.5L1943.6 518.8L1944.2 515.7L1944.5 522L1944.8 513.1L1945.3 509.5L1945.9 503.3L1946.5 500.8L1947.1 502.1L1947.7 490.2L1948.2 479.2L1948.8 480.7L1949.4 467.6L1950 454.1L1950.6 447.5L1951.2 446.2L1951.7 433.3L1952.3 424.2L1952.9 410L1953.5 409.3L1954.1 400.2L1954.6 385.8L1955.2 378.6L1955.6 378.6L1955.8 378.6L1956.4 387.2L1957 401.5L1957.6 403.8L1958.1 408.1L1958.7 407.3L1959.3 409.5L1959.9 416.3L1960.5 412L1960.5 411.7L1961 416L1961.6 412.1L1962.2 414.5L1962.8 413.9L1963.4 413.9L1964 409.2L1964.5 400.1L1965.1 406.4L1965.7 408L1966.3 401.6L1966.9 399.3L1967.4 393.2L1968 393.1L1968.3 383.9L1968.6 392.4L1969.2 400.7L1969.8 427.2L1970.4 446.1L1970.9 459L1971.5 489.6L1972.1 496.3L1972.7 511.4L1973.3 510.7L1973.8 530.3L1974.4 535.4L1975 542.8L1975.6 554.8L1976.2 546L1976.8 558.9L1977.3 554.9L1977.9 563.3L1978.1 565.5L1978.5 559.3L1979.1 558.8L1979.7 548.6L1980.3 561.3L1980.8 561.9L1981.4 557.7L1982 552.7L1982.6 550.1L1983.2 552.6L1983.7 549L1984.3 543.4L1984.9 538.7L1985.5 541.2L1986.1 535.1L1986.7 541L1987.2 530.5L1987.8 521L1988.4 517.5L1989 512.9L1989.6 501.2L1990.1 502.2L1990.7 499L1991.3 487L1991.9 477L1992.5 470.3L1993.1 450.9L1993.6 436.3L1994.2 432.1L1994.8 420.3L1995.4 403.4L1996 385.3L1996.5 385L1996.6 383.5L1997.1 400.7L1997.7 428.6L1998.3 453.8L1998.9 473.1L1999.5 478.5L2000 482.8L2000.6 499.5L2001.2 499.2L2001.5 502.5L2001.8 492.4L2002.4 502.5L2002.9 496.4L2003.5 491L2004.1 492.5L2004.7 483.6L2005.3 474.1L2005.9 474.5L2006.4 462.5L2007 459.5L2007 463.2L2007.6 467.5L2008.2 477.6L2008.8 472.5L2009.4 479.9L2009.9 473.9L2010.5 471.4L2011.1 476.1L2011.3 481.3L2011.7 476.5L2012.3 480.1L2012.8 481.3L2013.4 477.4L2013.8 475.3L2014 479.1L2014.6 481.6L2015.2 483.6L2015.8 498.3L2016.3 505.4L2016.9 517.2L2017.5 516.4L2018.1 524.5L2018.7 525.5L2019.2 534.1L2019.8 532.5L2020.4 542.8L2021 536.9L2021.6 539.7L2022.2 541.1L2022.7 532L2023 543.1L2023.3 538.1L2023.9 537L2024.5 533L2025.1 529.1L2025.6 535.2L2026.2 528L2026.8 524.7L2027.4 515.5L2028 510.2L2028.6 510.2L2029.1 506L2029.7 503.2L2030.3 494.1L2030.9 485.5L2031.5 484.8L2032 482.3L2032.6 476L2033.2 468.6L2033.8 464.8L2034.4 445.3L2035 441.8L2035.5 433.7L2036.1 427.4L2036.3 427.4L2036.7 427.4L2037.3 436.4L2037.9 441.9L2038.5 451.8L2039 458.3L2039.6 460.1L2040.2 463.6L2040.8 467.2L2041.4 475.3L2041.9 481.9L2042.5 487.3L2043.1 489.7L2043.7 497L2044.3 500.8L2044.9 502L2045.4 506.7L2046 512.3L2046.6 522.3L2047.2 530.3L2047.8 530L2048.3 535.9L2048.9 542.6L2049.5 545L2050.1 546.4L2050.7 552.9L2051.3 552.6L2051.8 558.1L2052.3 554.9L2052.4 556.3L2053 556.4L2053.6 546.7L2054.2 554L2054.7 539.5L2055.3 531.3L2055.9 526.9L2056.5 527.8L2057.1 515.8L2057.7 517.3L2058.2 508.6L2058.8 495.6L2059.4 495.8L2060 488.6L2060.6 493.2L2061.1 492.9L2061.7 484.6L2062.3 473.8L2062.9 471L2063.5 466.1L2064.1 466.7L2064.6 465.7L2064.6 466.7L2065.2 463.4L2065.8 481.9L2066.4 483.4L2067 495.3L2067.6 493L2068.1 504L2068.7 504.1L2069.3 502.3L2069.5 504.7L2069.9 504.1L2070.5 501L2071 499.6L2071.6 489.5L2072.2 488.5L2072.8 494.6L2073.4 480.5L2074 483.2L2074.5 479.2L2075.1 474.8L2075.7 464.9L2076.3 458.2L2076.9 454.7L2077.4 444.1L2078 437.4L2078.6 413.6L2079.2 412L2079.8 404.4L2080 401L2080.4 404.5L2080.9 416.5L2081.5 438.9L2082.1 456.8L2082.7 472L2083.3 478.6L2083.8 493.3L2084.4 509.1L2085 504.5L2085.6 513.6L2086.2 512.4L2086.8 524.8L2087.3 527.2L2087.9 528.8L2088.5 535.8L2089.1 534.1L2089.7 529.1L2089.8 531.2L2090.2 541.7L2090.8 527.3L2091.4 528.6L2092 524.7L2092.6 525.1L2093.2 521.6L2093.7 518.4L2094.3 514.1L2094.9 512.9L2095.5 499.1L2096.1 493.9L2096.7 484.2L2097.2 474.9L2097.8 466.9L2098.4 454.1L2099 449.6L2099.6 439.2L2100.1 438.2L2100.1 440.6L2100.7 449.9L2101.3 442.7L2101.9 449.8L2102.5 450.2L2103 451.5L2103.1 452.5L2103.6 450.8L2104.2 451.6L2104.8 446.7L2105.4 432.9L2106 433.2L2106 430.1L2106.5 438.9L2107.1 440L2107.7 428.5L2108.3 421L2108.9 409.8L2108.9 409.8L2109.5 425.3L2110 451L2110.6 474.6L2111.2 491.4L2111.8 497.2L2112.4 508.6L2112.9 509.2L2113.5 509L2114.1 512.5" stroke="#000" stroke-width="1.0" stroke-opacity="0.85"/>
<path d="M1281.3 570.9L1281.9 570.8L1282.4 570.8L1283 570.7L1283.6 570.6L1284.2 570.5L1284.8 570.4L1285.3 570.3L1285.9 570.1L1286.5 569.9L1287.1 569.8L1287.7 569.6L1288.3 569.4L1288.8 569.2L1289.4 569L1289.5 568.9L1290 568.7L1290.6 568.2L1291.2 567.6L1291.7 566.9L1292.3 566.1L1292.9 565.3L1293.5 564.5L1294.1 563.8L1294.7 563.3L1295.2 562.9L1295.8 562.7L1296 562.7L1296.4 563.8L1297 566.6L1297.6 568.7L1298.1 569.8L1298.7 570.5L1299.3 570.9L1299.3 570.9L1299.9 570.9L1300.5 570.9L1301.1 570.9L1301.6 570.9L1302.2 570.9L1302.8 570.9L1303.4 570.9L1304 570.9L1304.5 570.9L1305.1 570.9L1305.7 570.9L1306.3 570.9L1306.9 570.9L1307.5 570.9L1308 570.9L1308.6 570.9L1309.1 570.9L1309.2 570.9L1309.8 570.8L1310.4 570.8L1311 570.7L1311.5 570.5L1312.1 570.4L1312.7 570.2L1313.3 570L1313.9 569.8L1314.4 569.5L1315 569.3L1315.6 569L1316.2 568.7L1316.8 568.5L1317.4 568.2L1317.9 567.9L1318.5 567.7L1318.8 567.6L1319.1 567.4L1319.7 567.2L1320.3 566.9L1320.8 566.7L1321.4 566.4L1322 566.1L1322.6 565.8L1323.2 565.5L1323.8 565.2L1324.3 564.8L1324.9 564.5L1325.5 564.1L1326.1 563.8L1326.7 563.3L1327.2 562.9L1327.8 562.4L1328.4 562L1329 561.5L1329.6 560.9L1330.2 560.4L1330.7 559.9L1331.3 559.3L1331.9 558.7L1332.5 558.1L1333.1 557.5L1333.6 556.9L1334.2 556.3L1334.8 555.7L1335.4 555.1L1336 554.5L1336.6 553.9L1337.1 553.3L1337.7 552.7L1338.3 552.2L1338.9 551.6L1339.5 551L1340.1 550.4L1340.6 549.9L1341.2 549.3L1341.8 548.7L1342.4 548.1L1343 547.5L1343.5 546.8L1344.1 546.1L1344.7 545.4L1345.3 544.7L1345.9 543.9L1346.5 543.1L1347 542.3L1347.6 541.4L1348.2 540.4L1348.8 539.4L1349.4 538.3L1349.9 537.1L1350.5 535.8L1351.1 534.4L1351.7 532.9L1352.3 531.3L1352.9 529.6L1353.4 527.9L1354 526.1L1354.6 524.1L1355.2 522.1L1355.8 519.2L1356.3 515.7L1356.9 511.9L1357.5 508.3L1358.1 505.1L1358.7 502.8L1359.3 501.6L1359.4 501.6L1359.8 503.6L1360.4 510.2L1361 516.5L1361.6 521.7L1362.2 524.9L1362.8 527.1L1363.3 528.7L1363.9 529.8L1364.1 529.9L1364.5 529.8L1365.1 529.4L1365.7 528.7L1366.2 527.8L1366.8 526.6L1367.4 525.1L1368 523.5L1368.6 521.8L1369.2 519.9L1369.7 517.9L1370.3 515.8L1370.9 513.6L1371.5 511.5L1372.1 509.2L1372.6 506.4L1373.2 503.3L1373.8 499.8L1374.4 496L1375 491.9L1375.6 487.5L1376.1 482.9L1376.7 478L1377.3 473L1377.9 467.6L1378.5 461.5L1379 454.7L1379.6 447.1L1380.2 438.6L1380.8 427.7L1381.4 412.3L1382 394.8L1382.5 377.4L1383.1 362.5L1383.7 352.3L1384.2 349.1L1384.3 349.2L1384.9 362.2L1385.4 389.5L1386 422.1L1386.6 451.2L1387.2 474.9L1387.8 498L1388.3 507.4L1388.4 507.4L1388.9 506.8L1389.5 505.1L1390.1 501.9L1390.3 501.6L1390.7 503.5L1391 506.5L1391.3 509.2L1391.8 517.8L1392.4 524.8L1393 531.2L1393.6 536.1L1394.2 539.4L1394.8 542.1L1395.3 544.1L1395.9 545.8L1396.5 547.1L1396.9 547.5L1397.1 547.4L1397.7 547.2L1398.3 546.6L1398.8 545.8L1399.4 544.7L1400 543.4L1400.6 541.8L1401.2 540L1401.7 538L1402.3 535.8L1402.9 533.5L1403.5 531L1404.1 528.3L1404.7 525.6L1405.2 522.7L1405.8 519.7L1406.4 516.6L1407 513.4L1407.6 509.1L1408.1 504L1408.7 498L1409.3 491.5L1409.9 484.6L1410.5 477.4L1411.1 468.6L1411.6 456.7L1412.2 444.1L1412.8 433.2L1413.4 426.5L1413.7 425.4L1414 427.4L1414.5 442.7L1415.1 466.8L1415.7 492.5L1416.3 512.3L1416.9 523.9L1417.5 535L1418 545.2L1418.6 554.1L1419.2 561L1419.8 565.5L1420.3 567L1420.4 567L1421 566.9L1421.5 566.6L1422.1 566.2L1422.7 565.7L1423.3 565.1L1423.9 564.5L1424.4 563.8L1425 563.2L1425.6 562.6L1426.2 562.1L1426.8 561.6L1427.4 561.2L1427.9 560.8L1428.5 560.4L1429.1 560L1429.7 559.7L1430.3 559.3L1430.8 558.9L1431.4 558.5L1432 558.1L1432.6 557.7L1433.2 557.2L1433.8 556.7L1434.3 556.1L1434.9 555.5L1435.5 554.8L1436.1 554.1L1436.7 553.2L1437.2 552.2L1437.8 550.9L1438.4 549.5L1439 548L1439.6 546.3L1440.2 544.5L1440.7 542.5L1441.3 540.5L1441.9 538.3L1442.5 535.7L1443.1 532.6L1443.6 529.2L1444.2 525.4L1444.8 521.5L1445.4 517.4L1446 513.2L1446.6 507.6L1447.1 501.4L1447.7 495.9L1448.3 492.4L1448.6 491.8L1448.9 493.9L1449.5 507.6L1450 521.5L1450.6 531.8L1451.2 537.8L1451.8 541.7L1452.4 544.3L1452.5 544.5L1453 544.3L1453.5 543.5L1454.1 541.6L1454.5 540.6L1454.7 541L1455.3 544.4L1455.9 547.8L1456.5 550L1457 551.2L1457.6 552.1L1458 552.3L1458.2 552.3L1458.8 552L1459.4 551.3L1459.9 550.3L1460.5 549L1461.1 547.4L1461.7 545.6L1462.3 543.6L1462.9 541.4L1463.4 539L1464 536.4L1464.6 533.8L1465.2 531.1L1465.8 527.9L1466.3 523.6L1466.9 518.6L1467.5 512.9L1468.1 506.9L1468.7 500.7L1469.3 494.4L1469.8 486.5L1470.4 477.1L1471 467.7L1471.6 460L1472.2 455.4L1472.5 454.7L1472.7 458.1L1473.3 475.7L1473.9 498.2L1474.5 517.1L1475.1 530.8L1475.7 539.8L1476.2 546.1L1476.8 551.1L1477.4 554.1L1477.5 554.3L1478 553.8L1478.6 551.9L1479.2 548.9L1479.7 545.4L1480.3 541.6L1480.9 537.2L1481.5 530.6L1482.1 522.7L1482.6 514.4L1483.2 506.6L1483.8 500.3L1484.4 496.5L1484.8 495.7L1485 497.1L1485.6 508L1486.1 524.9L1486.7 538.8L1487.3 550L1487.9 557.1L1488.5 562.3L1489 566.1L1489.6 569.1L1490 569.9L1490.2 569.9L1490.8 569.7L1491.4 569.3L1492 568.7L1492.5 567.9L1493.1 567L1493.7 566L1494.3 564.8L1494.9 563.7L1495.4 562.4L1496 561.1L1496.6 559.9L1497.2 558.6L1497.8 557.5L1498.4 556.4L1498.9 555.3L1499.5 554.3L1500.1 553.3L1500.7 552.3L1501.3 551.3L1501.8 550.2L1502.4 549.1L1503 548L1503.6 546.8L1504.2 545.6L1504.8 544.3L1505.3 542.9L1505.9 541.5L1506.5 539.9L1507.1 538.2L1507.7 536.5L1508.2 534.6L1508.8 532.5L1509.4 530.3L1510 527.9L1510.6 525.3L1511.2 522.4L1511.7 519.2L1512.3 515.7L1512.9 511.5L1513.5 506.4L1514.1 500.6L1514.7 494L1515.2 486.7L1515.8 478.8L1516.4 469.1L1517 455L1517.6 437.5L1518.1 418.1L1518.7 398.1L1519.3 379.1L1519.9 362.3L1520.5 349.3L1521.1 341.3L1521.5 339.5L1521.6 341.2L1522.2 367L1522.8 410.4L1523.4 454.1L1524 481.8L1524.5 502.8L1525.1 522.1L1525.7 537.8L1526.3 547.8L1526.7 550.4L1526.9 550.3L1527.5 549.3L1528 547.6L1528.6 545.6L1529.2 542.9L1529.8 539.3L1530.4 533.8L1530.9 526.9L1531.5 518.9L1532.1 511.9L1532.6 509.4L1532.7 509.5L1533.3 512.9L1533.9 519.2L1534.4 526.9L1535 533.2L1535.6 539.1L1536.2 543.8L1536.8 547.1L1537.3 549.8L1537.9 551.9L1538.5 553.5L1539.1 555L1539.7 556.1L1540 556.2L1540.3 556.2L1540.8 555.7L1541.4 554.7L1542 553.2L1542.6 551.3L1543.2 549L1543.8 546.3L1544.3 543.3L1544.9 540L1545.5 536.5L1546.1 532.8L1546.7 528.9L1547.2 524.9L1547.8 518.8L1548.4 509.4L1549 498.3L1549.6 486.8L1550.2 476.3L1550.7 468.2L1551.3 463.9L1551.5 463.5L1551.9 468.3L1552.5 486.1L1553.1 508.2L1553.6 526.7L1554.2 541.2L1554.8 550.5L1555.4 557.5L1556 562.5L1556.6 566.7L1557 567.9L1557.1 567.9L1557.7 567.8L1558.3 567.4L1558.9 566.8L1559.5 566L1560 565.1L1560.6 564L1561.2 562.7L1561.8 561.2L1562.4 559.7L1563 558L1563.5 556.2L1564.1 554.2L1564.7 552.2L1565.3 550.1L1565.9 548L1566.4 545.7L1567 543.4L1567.6 540.4L1568.2 536.8L1568.8 532.5L1569.4 527.8L1569.9 522.6L1570.5 517L1571.1 511.1L1571.7 504.9L1572.3 496.4L1572.9 485.2L1573.4 472.8L1574 461L1574.6 451.2L1575.2 445.2L1575.5 444L1575.8 445.9L1576.3 460.9L1576.9 484.7L1577.5 504.2L1578.1 520.6L1578.7 531.2L1579.3 539L1579.8 544.5L1580.4 549.2L1581 551.4L1581 551.4L1581.6 550.8L1582.2 549.3L1582.7 546.9L1583.3 543.8L1583.9 540L1584.5 535.8L1585.1 531.2L1585.7 526.3L1586.2 521.4L1586.8 516.5L1587.4 511.7L1588 507.3L1588.6 502.9L1589.1 497.6L1589.7 491.7L1590.3 485.8L1590.9 480.4L1591.5 475.9L1592.1 473.1L1592.5 472.3L1592.6 472.7L1593.2 481.2L1593.8 492.5L1594.4 501.3L1595 506.3L1595.5 509.5L1596.1 511.9L1596.4 512.3L1596.7 511.9L1597.3 509.3L1597.9 505.3L1598.5 500.9L1599 495.1L1599.6 487.6L1600.2 477.8L1600.8 463.7L1601.4 447.5L1602 429L1602.5 410.4L1603.1 400.7L1603.3 400L1603.7 408.7L1604.3 436L1604.9 464L1605.4 487.9L1606 504L1606.6 515L1607.2 522.7L1607.8 529L1608.3 531.8L1608.4 531.8L1608.9 530.7L1609.5 527.9L1610.1 524.3L1610.7 520.5L1611.3 515.6L1611.8 509.5L1612.4 502.1L1613 491.9L1613.6 478.9L1614.2 464.7L1614.8 448.7L1615.3 431.4L1615.9 421.2L1616.3 417.6L1616.5 419.2L1617.1 439.5L1617.7 473L1618.2 500.5L1618.8 522.2L1619.4 535.9L1620 545.8L1620.6 553.1L1621.2 558.4L1621.4 559.2L1621.7 559L1622.3 558.2L1622.9 557.2L1623.5 555.8L1624.1 553.9L1624.7 551.1L1625.2 547.2L1625.8 542.7L1626.4 538.3L1626.9 536.7L1627 536.8L1627.6 538.8L1628.1 541.9L1628.7 544.5L1629.3 546.1L1629.9 547.2L1630.5 547.9L1631.1 548.4L1631.2 548.4L1631.6 548L1632.2 546.5L1632.8 543.9L1633.4 540.6L1634 536.5L1634.5 532L1635.1 527.2L1635.7 522.3L1636.3 517.5L1636.9 513L1637.5 508.9L1638 505.4L1638.6 502L1639.2 498.4L1639.8 494.7L1640.4 491.2L1640.9 488.3L1641.5 486.2L1642.1 485.1L1642.3 485L1642.7 487L1643.3 494.3L1643.9 500.2L1644.4 503.7L1645 505.8L1645.6 507.3L1645.8 507.4L1646.2 506.5L1646.8 502.2L1647.3 496.4L1647.9 489.5L1648.5 480.1L1649.1 468L1649.7 449.8L1650.3 427.4L1650.8 401.9L1651.4 375.8L1652 363.2L1652.1 363L1652.6 377.7L1653.2 416.2L1653.8 455L1654.3 488.6L1654.9 512.8L1655.5 529.1L1656.1 541.1L1656.7 550.2L1657.2 557.1L1657.5 558.2L1657.8 558.2L1658.4 557.8L1659 557.2L1659.6 556.3L1660.2 555.1L1660.7 553.7L1661.3 552L1661.9 550L1662.5 547.8L1663.1 545.4L1663.6 542.7L1664.2 539.9L1664.8 536.8L1665.4 533.6L1666 530.2L1666.6 526.7L1667.1 522.9L1667.7 519.1L1668.3 515.1L1668.9 509.6L1669.5 501.7L1670 492.3L1670.6 482.1L1671.2 471.9L1671.8 462.3L1672.4 454.1L1673 445.3L1673.5 436L1674.1 427L1674.7 419.1L1675.3 413.2L1675.9 410.1L1676.1 409.8L1676.4 414L1677 429.2L1677.6 441.5L1678.2 448.3L1678.8 452.3L1679.4 454.7L1679.4 454.7L1679.9 451.6L1680.5 444.3L1681.1 434.7L1681.7 420.6L1682.3 397.3L1682.8 367.6L1683.4 333.4L1683.9 321.6L1684 322.6L1684.6 344.1L1685.2 386.5L1685.8 423.4L1686.3 456.3L1686.9 480.2L1687.5 496.7L1688.1 509L1688.7 518.3L1689.3 526.1L1689.8 528.9L1689.8 528.9L1690.4 526.5L1691 522.7L1691.6 517.2L1692.2 508.7L1692.7 495.2L1693.3 478.5L1693.9 466.3L1694.1 465.5L1694.5 471.1L1695.1 488.7L1695.7 507.3L1696.2 523.1L1696.8 534.3L1697.4 541.8L1698 547.2L1698.6 551.5L1699.1 554.1L1699.3 554.3L1699.7 554L1700.3 553L1700.9 551.7L1701.5 550.2L1702.1 548.3L1702.6 545.8L1703.2 542.8L1703.8 538.5L1704.4 533.2L1705 527.6L1705.5 520.7L1706.1 515.7L1706.7 513.3L1707.3 516.7L1707.9 523.7L1708.5 529.4L1709 533.3L1709.6 535.7L1710.2 537.3L1710.8 538.5L1711 538.7L1711.4 538.3L1711.9 536.5L1712.5 533.2L1713.1 528.8L1713.7 523.6L1714.3 517.9L1714.9 511.8L1715.4 505.7L1716 499.9L1716.6 494.6L1717.2 489.7L1717.8 485L1718.4 480.3L1718.9 475.5L1719.5 470.4L1720.1 464.9L1720.7 458.8L1721.3 452L1721.8 444.4L1722.4 435.6L1723 421.2L1723.6 400.3L1724.2 375L1724.8 347.5L1725.3 319.7L1725.9 294L1726.5 272.3L1727.1 256.7L1727.7 249.4L1727.8 249.1L1728.2 264.6L1728.8 311.4L1729.4 360.6L1730 402.7L1730.6 432.4L1731.2 452.5L1731.7 466.8L1732.3 478.2L1732.9 485.5L1733.1 486L1733.5 484.5L1734.1 479.7L1734.6 473L1735.2 462.4L1735.8 444.7L1736.4 422.2L1737 409.8L1737.6 419.7L1738.1 442.4L1738.7 464.8L1739.3 484.4L1739.9 499.5L1740.5 509.5L1741 517.2L1741.6 522.7L1742.2 527.5L1742.8 529.9L1742.8 529.9L1743.4 529.2L1744 527L1744.5 523.5L1745.1 518.7L1745.7 512.9L1746.3 506.1L1746.9 498.4L1747.5 490L1748 481.1L1748.6 471.7L1749.2 461.9L1749.8 452L1750.4 442L1750.9 431.1L1751.5 415.4L1752.1 395.7L1752.7 374.2L1753.3 352.5L1753.9 332.6L1754.4 316.4L1755 305.8L1755.5 302.6L1755.6 303.1L1756.2 323.3L1756.8 352.4L1757.3 375.1L1757.9 388.2L1758.5 396.6L1759.1 402.6L1759.4 404L1759.7 403.2L1760.3 396.6L1760.8 385.7L1761.4 373.6L1762 358.8L1762.6 339.8L1763.2 316.4L1763.7 283.6L1764.3 241.2L1764.9 194.7L1765.5 139.9L1766.1 89.3L1766.7 61.7L1766.8 59L1767.2 80.5L1767.8 156L1768.4 234.2L1769 300L1769.6 342.9L1770.2 372.4L1770.7 392.7L1771.3 409.1L1771.7 413.7L1771.9 413.5L1772.1 412.5L1772.5 410.1L1773.1 404.9L1773.6 395.7L1774.2 380.6L1774.8 363.7L1775 361L1775.4 367.5L1776 393.7L1776.6 430.9L1777.1 461.5L1777.7 487.7L1778.3 505.2L1778.9 518.1L1779.5 527.5L1780 535.3L1780.6 540.8L1780.9 541.6L1781.2 541.3L1781.8 539.9L1782.4 537.9L1783 534.9L1783.5 529.5L1784.1 522.6L1784.7 517.4L1784.8 517.2L1785.3 519.4L1785.9 525.6L1786.4 531.5L1787 536.3L1787.6 539.4L1788.2 541.6L1788.8 543.1L1789.4 544.3L1789.7 544.5L1789.9 544.4L1790.5 543L1791.1 540.2L1791.7 536.2L1792.3 531.2L1792.8 525.2L1793.4 518.5L1794 511.2L1794.6 503.4L1795.2 495.3L1795.8 487L1796.3 478.8L1796.9 469.4L1797.5 456.1L1798.1 440.1L1798.7 422.7L1799.2 405.6L1799.8 390.2L1800.4 378L1801 370.5L1801.4 368.8L1801.6 370.6L1802.2 390.7L1802.7 428.4L1803.3 462.7L1803.9 493.4L1804.5 518.1L1805.1 534.8L1805.7 547.8L1806.2 557.5L1806.8 565.6L1807.4 572L1807.8 573.8L1808 573.8L1808.6 573.3L1809.1 572.6L1809.7 571.5L1810.3 569.9L1810.9 567.3L1811.5 564.2L1812.1 562.2L1812.1 562.1L1812.6 562.8L1813.2 564.6L1813.8 566.2L1814.4 567.6L1815 568.5L1815.5 569.1L1816.1 569.5L1816.7 569.8L1817 569.9L1817.3 569.7L1817.9 568.5L1818.5 566.6L1819 564.5L1819.6 561.5L1820.2 557.8L1820.8 552.2L1821.4 545L1821.9 537.1L1822.5 528.1L1823.1 523.4L1823.3 523L1823.7 524.7L1824.3 529.7L1824.9 536.2L1825.4 541.6L1826 546.3L1826.6 549.4L1827.2 551.8L1827.8 553.5L1828.3 554.9L1828.9 556L1829.3 556.2L1829.5 556.2L1830.1 555.7L1830.7 554.6L1831.3 553L1831.8 550.9L1832.4 548.4L1833 545.5L1833.6 542.1L1834.2 538.5L1834.8 534.6L1835.3 530.5L1835.9 526.1L1836.5 521.6L1837.1 517L1837.7 512.3L1838.2 507.5L1838.8 502.4L1839.4 495.2L1840 486.1L1840.6 475.8L1841.2 464.8L1841.7 453.7L1842.3 443.1L1842.9 433.4L1843.5 425.3L1844.1 419.4L1844.6 416.1L1844.9 415.7L1845.2 417.4L1845.8 426.6L1846.4 436.2L1847 443.9L1847.6 448.5L1848.1 451.5L1848.7 453.8L1849.2 454.7L1849.3 454.7L1849.9 451.7L1850.5 446.6L1851 439.3L1851.6 428.3L1852.2 410.5L1852.8 388.5L1853.4 372.1L1853.5 370.8L1854 378.9L1854.5 404.6L1855.1 431.3L1855.7 453.9L1856.3 469.2L1856.9 479.7L1857.4 487L1858 493L1858.6 495.7L1858.6 495.7L1859.2 494L1859.8 490.8L1860.4 486.3L1860.9 479.5L1861.5 468.2L1862.1 454.3L1862.7 442.6L1862.9 441L1863.3 444.5L1863.9 457.3L1864.4 476.8L1865 492.7L1865.6 507.2L1866.2 518L1866.8 525.6L1867.3 531.5L1867.9 535.8L1868.5 539.7L1869.1 542.3L1869.3 542.6L1869.7 542.4L1870.3 541.5L1870.8 539.9L1871.4 538L1872 535.9L1872.6 533.7L1873.2 531L1873.7 527.9L1874.3 524.3L1874.9 520.1L1875.5 514.9L1876.1 508.3L1876.7 500.8L1877.2 492.8L1877.8 484.6L1878.4 474.6L1879 464.8L1879.6 458.3L1880.1 453.7L1880.5 452.8L1880.7 453L1881.3 455.2L1881.9 459.3L1882.5 465.3L1883.1 472.7L1883.6 481.3L1884.2 490.7L1884.8 500.8L1885.4 511.2L1886 521.6L1886.5 531.8L1887.1 541.4L1887.7 550.2L1888.3 557.9L1888.9 564.2L1889.5 568.8L1890 571.5L1890.6 572.4L1891.2 573.1L1891.8 573.8L1892.4 574.4L1893 574.9L1893.5 575.3L1894.1 575.6L1894.7 575.7L1895.1 575.8L1895.3 575.7L1895.9 575.5L1896.4 574.9L1897 574L1897.6 572.8L1898.2 571.4L1898.8 569.9L1899.4 568.2L1899.9 566.4L1900.5 564.6L1901.1 562.7L1901.7 560.8L1902.3 558.9L1902.8 557.2L1903.4 555.5L1904 554L1904.6 552.7L1905.2 551.4L1905.8 550.2L1906.3 549L1906.9 547.8L1907.5 546.6L1908.1 545.4L1908.7 544.1L1909.2 542.6L1909.8 541.1L1910.4 539.3L1911 537.4L1911.6 535.3L1912.2 532.4L1912.7 528L1913.3 522.3L1913.9 515.6L1914.5 508.3L1915.1 500.9L1915.7 493.6L1916.2 486.9L1916.8 481L1917.4 476.4L1918 473.3L1918.6 472.3L1918.6 472.3L1919.1 476.9L1919.7 485.7L1920.3 499.4L1920.9 511.3L1921.5 522.1L1922.1 532L1922.6 539.9L1923.2 545.6L1923.8 550.4L1924.4 554.3L1925 557.3L1925.5 560.1L1926.1 562.5L1926.7 563.9L1926.9 564L1927.3 564L1927.9 563.4L1928.5 562.4L1929 561.1L1929.6 559.3L1930.2 557.3L1930.8 555.1L1931.4 552.6L1931.9 549.9L1932.5 547.2L1933.1 544.4L1933.7 541.6L1934.3 538.8L1934.9 536L1935.4 533.3L1936 529.8L1936.6 525.8L1937.2 521.4L1937.8 516.9L1938.3 512.7L1938.9 508.9L1939.5 506L1940.1 504.1L1940.6 503.5L1940.7 503.6L1941.3 505.9L1941.8 509.2L1942.4 511.9L1943 513.4L1943.6 514.4L1944.2 515.1L1944.5 515.2L1944.8 515.1L1945.3 513.4L1945.9 509.9L1946.5 505.1L1947.1 498.9L1947.7 491.7L1948.2 483.7L1948.8 475.1L1949.4 466L1950 456.8L1950.6 447.6L1951.2 438.7L1951.7 430.2L1952.3 422.4L1952.9 415.3L1953.5 407.1L1954.1 398.4L1954.6 390.8L1955.2 385.7L1955.6 384.4L1955.8 384.8L1956.4 388.8L1957 394.9L1957.6 400L1958.1 403.7L1958.7 406.1L1959.3 407.8L1959.9 409.1L1960.5 409.8L1960.5 409.8L1961 409.7L1961.6 409.4L1962.2 408.9L1962.8 408.5L1963.4 407.9L1964 407.1L1964.5 406.2L1965.1 404.9L1965.7 403.3L1966.3 401.6L1966.9 399.5L1967.4 397.5L1968 396.4L1968.3 396.1L1968.6 397.3L1969.2 406.2L1969.8 421.5L1970.4 440.6L1970.9 460.8L1971.5 479.3L1972.1 493.4L1972.7 503L1973.3 512.5L1973.8 521.7L1974.4 530.5L1975 538.7L1975.6 546L1976.2 552.2L1976.8 557.1L1977.3 560.5L1977.9 562L1978.1 562.1L1978.5 562L1979.1 561.5L1979.7 560.7L1980.3 559.5L1980.8 557.9L1981.4 556L1982 553.9L1982.6 551.4L1983.2 548.7L1983.7 545.7L1984.3 542.4L1984.9 539L1985.5 535.3L1986.1 531.5L1986.7 527.5L1987.2 523.3L1987.8 519L1988.4 514.6L1989 510.1L1989.6 505.5L1990.1 500.9L1990.7 496.2L1991.3 490.2L1991.9 481.9L1992.5 471.8L1993.1 460.7L1993.6 449.2L1994.2 438.1L1994.8 428.2L1995.4 420L1996 414.3L1996.5 411.8L1996.6 411.8L1997.1 419.1L1997.7 439.6L1998.3 458.1L1998.9 473.7L1999.5 483.5L2000 490.4L2000.6 495.2L2001.2 498.9L2001.5 499.6L2001.8 499.5L2002.4 498.5L2002.9 497.1L2003.5 495.4L2004.1 493L2004.7 489.5L2005.3 484.5L2005.9 478.8L2006.4 472.8L2007 470.3L2007 470.3L2007.6 472.4L2008.2 476.2L2008.8 479.2L2009.4 481.2L2009.9 482.5L2010.5 483.3L2011.1 483.9L2011.3 484L2011.7 483.8L2012.3 483.1L2012.8 481.7L2013.4 479.2L2013.8 478.1L2014 478.5L2014.6 482.1L2015.2 487.8L2015.8 496.1L2016.3 503.4L2016.9 509.9L2017.5 516.1L2018.1 521.2L2018.7 525.1L2019.2 528.2L2019.8 530.8L2020.4 533L2021 534.7L2021.6 536.4L2022.2 537.8L2022.7 538.6L2023 538.7L2023.3 538.5L2023.9 537.7L2024.5 536.2L2025.1 534L2025.6 531.3L2026.2 528.2L2026.8 524.6L2027.4 520.7L2028 516.6L2028.6 512.3L2029.1 508L2029.7 503.6L2030.3 499.3L2030.9 495.1L2031.5 490.1L2032 483.8L2032.6 476.8L2033.2 469.6L2033.8 462.5L2034.4 456L2035 450.6L2035.5 446.8L2036.1 445L2036.3 445L2036.7 445.2L2037.3 446.4L2037.9 448.3L2038.5 451L2039 454.3L2039.6 458.1L2040.2 462.3L2040.8 466.8L2041.4 471.5L2041.9 476.3L2042.5 481.1L2043.1 485.8L2043.7 490.2L2044.3 494.4L2044.9 498.3L2045.4 502.8L2046 507.7L2046.6 512.8L2047.2 518.1L2047.8 523.5L2048.3 528.6L2048.9 533.6L2049.5 538L2050.1 542L2050.7 545.2L2051.3 547.6L2051.8 549.1L2052.3 549.4L2052.4 549.4L2053 548.5L2053.6 546.4L2054.2 543.5L2054.7 539.7L2055.3 535.3L2055.9 530.4L2056.5 525.2L2057.1 519.9L2057.7 514.5L2058.2 509.3L2058.8 504.5L2059.4 500.1L2060 496.3L2060.6 492.9L2061.1 489.3L2061.7 485.5L2062.3 482L2062.9 478.9L2063.5 476.4L2064.1 474.7L2064.6 474.2L2064.6 474.3L2065.2 477.5L2065.8 483.8L2066.4 488.9L2067 493L2067.6 495.5L2068.1 497.3L2068.7 498.7L2069.3 499.6L2069.5 499.6L2069.9 499.4L2070.5 498.3L2071 496.6L2071.6 494.7L2072.2 492.6L2072.8 490.3L2073.4 487.5L2074 484.2L2074.5 480.3L2075.1 475.7L2075.7 469.6L2076.3 462.4L2076.9 454.6L2077.4 446.7L2078 437.1L2078.6 427.6L2079.2 421.4L2079.8 417.1L2080 416.6L2080.4 418.5L2080.9 426.2L2081.5 438.1L2082.1 454L2082.7 467.5L2083.3 480L2083.8 491.8L2084.4 501.9L2085 509.6L2085.6 515.8L2086.2 521.1L2086.8 525.5L2087.3 529L2087.9 532.3L2088.5 535.3L2089.1 537.6L2089.7 538.6L2089.8 538.7L2090.2 538.2L2090.8 536.7L2091.4 534.6L2092 532L2092.6 529.4L2093.2 526.3L2093.7 522.6L2094.3 518.2L2094.9 513.1L2095.5 506.7L2096.1 498.5L2096.7 489.1L2097.2 479.1L2097.8 468.5L2098.4 455.7L2099 445.1L2099.6 438.4L2100.1 435.2L2100.1 435.2L2100.7 438L2101.3 441.4L2101.9 443.4L2102.5 444.4L2103 445L2103.1 445L2103.6 444.3L2104.2 443L2104.8 440.6L2105.4 436.5L2106 433.2L2106 433.2L2106.5 434.5L2107.1 438L2107.7 443.3L2108.3 449.9L2108.9 457.5L2108.9 457.9L2109.5 465.4L2110 473.3L2110.6 480.6L2111.2 487L2111.8 491.9L2112.4 495L2112.9 495.7L2113.5 494.6L2114.1 492.7" stroke="#f00" stroke-width="1.2" stroke-opacity="0.95"/>
<path d="M1281.3 700.1L1281.9 694.8L1282.4 700L1283 699.2L1283.6 698.9L1284.2 701.1L1284.8 703L1285.3 697.7L1285.9 698.6L1286.5 705L1287.1 693.1L1287.7 696.7L1288.3 699.3L1288.8 696.3L1289.4 699.2L1289.5 698.6L1290 696.4L1290.6 700.9L1291.2 697.6L1291.7 695.6L1292.3 696L1292.9 700.4L1293.5 696.6L1294.1 701.6L1294.7 692.7L1295.2 684.4L1295.8 685.2L1296 681.8L1296.4 679.9L1297 684.6L1297.6 696.1L1298.1 699.6L1298.7 705.6L1299.3 704.8L1299.3 704.8L1299.9 701L1300.5 699.4L1301.1 702.6L1301.6 703.7L1302.2 699.3L1302.8 698.8L1303.4 699.7L1304 695.5L1304.5 699L1305.1 698.7L1305.7 701.3L1306.3 697.7L1306.9 694.2L1307.5 696.6L1308 696.7L1308.6 695.5L1309.1 695.8L1309.2 695.1L1309.8 695.3L1310.4 695.5L1311 698.1L1311.5 696.6L1312.1 701.8L1312.7 696.5L1313.3 700.7L1313.9 697.3L1314.4 695.7L1315 698L1315.6 696.4L1316.2 701L1316.8 698.5L1317.4 693.7L1317.9 695.3L1318.5 692.6L1318.8 695.7L1319.1 695.6L1319.7 696L1320.3 693.4L1320.8 691.8L1321.4 696.2L1322 693.8L1322.6 688.8L1323.2 694.4L1323.8 696L1324.3 692.8L1324.9 694.7L1325.5 696.2L1326.1 699.4L1326.7 692.1L1327.2 695.9L1327.8 694.1L1328.4 696.9L1329 690L1329.6 691.3L1330.2 690.4L1330.7 693.2L1331.3 691.3L1331.9 689.9L1332.5 689.2L1333.1 690.9L1333.6 691.6L1334.2 692L1334.8 692.6L1335.4 692.6L1336 688.3L1336.6 689.4L1337.1 693.7L1337.7 688.1L1338.3 684.2L1338.9 687.8L1339.5 692.2L1340.1 687.4L1340.6 685.1L1341.2 687.1L1341.8 689.2L1342.4 683.2L1343 683.5L1343.5 689.6L1344.1 687.4L1344.7 689L1345.3 688.2L1345.9 686.6L1346.5 688.6L1347 690.8L1347.6 692.9L1348.2 693.4L1348.8 691.1L1349.4 687.6L1349.9 689.8L1350.5 690.2L1351.1 689.4L1351.7 689.7L1352.3 687.9L1352.9 692.3L1353.4 694.5L1354 689.9L1354.6 691.8L1355.2 683.6L1355.8 688.1L1356.3 687.8L1356.9 690.6L1357.5 683.8L1358.1 683.3L1358.7 674.4L1359.3 674.5L1359.4 678.3L1359.8 678.3L1360.4 692.8L1361 691.2L1361.6 687.7L1362.2 689.3L1362.8 691.1L1363.3 691.6L1363.9 695.4L1364.1 695.3L1364.5 690.9L1365.1 686.6L1365.7 697.9L1366.2 690.2L1366.8 690.4L1367.4 689.5L1368 694.7L1368.6 693.7L1369.2 691.8L1369.7 694.5L1370.3 694.5L1370.9 692.9L1371.5 689.8L1372.1 687.6L1372.6 687.8L1373.2 686.6L1373.8 687.9L1374.4 687.3L1375 681.5L1375.6 684.5L1376.1 684.4L1376.7 681.4L1377.3 680.4L1377.9 680.2L1378.5 682.5L1379 683.6L1379.6 682.4L1380.2 682.1L1380.8 677L1381.4 678.1L1382 673.9L1382.5 668.5L1383.1 651.4L1383.7 648.6L1384.2 642.5L1384.3 642.7L1384.9 670L1385.4 687L1386 710.3L1386.6 714.8L1387.2 716.7L1387.8 706.7L1388.3 699.3L1388.4 700.9L1388.9 693.7L1389.5 684.6L1390.1 675L1390.3 676.7L1390.7 675.2L1391 673.7L1391.3 680.1L1391.8 681.8L1392.4 685.1L1393 690.9L1393.6 694.2L1394.2 695.2L1394.8 689.5L1395.3 693.1L1395.9 691L1396.5 691.9L1396.9 694.4L1397.1 687.5L1397.7 695L1398.3 694.3L1398.8 691.5L1399.4 691.9L1400 690.9L1400.6 690.6L1401.2 685.7L1401.7 688.1L1402.3 687L1402.9 692.4L1403.5 690L1404.1 684.2L1404.7 690.6L1405.2 683.4L1405.8 689.5L1406.4 685.4L1407 688.2L1407.6 684.6L1408.1 687.4L1408.7 685.7L1409.3 681.3L1409.9 690.4L1410.5 688.5L1411.1 701L1411.6 705.5L1412.2 697.6L1412.8 687.8L1413.4 675.5L1413.7 671.4L1414 668.5L1414.5 677L1415.1 680.7L1415.7 691.2L1416.3 692.9L1416.9 696.6L1417.5 697L1418 693.2L1418.6 689.8L1419.2 688.1L1419.8 692.5L1420.3 686.6L1420.4 687.4L1421 691.1L1421.5 686.5L1422.1 694.7L1422.7 687.7L1423.3 681.7L1423.9 692.3L1424.4 689.8L1425 695.8L1425.6 692.9L1426.2 688.9L1426.8 694.3L1427.4 691.6L1427.9 692.6L1428.5 692.8L1429.1 691.1L1429.7 690.3L1430.3 688.2L1430.8 689.3L1431.4 693.4L1432 687.7L1432.6 688.1L1433.2 696.2L1433.8 689.6L1434.3 689L1434.9 688.3L1435.5 689.2L1436.1 694.1L1436.7 690.6L1437.2 695.3L1437.8 689.1L1438.4 682.2L1439 685.6L1439.6 684.7L1440.2 688.3L1440.7 689.5L1441.3 689.5L1441.9 685.8L1442.5 688.3L1443.1 687.7L1443.6 682.3L1444.2 690.4L1444.8 689.3L1445.4 686.6L1446 684.5L1446.6 682.8L1447.1 684.3L1447.7 677.2L1448.3 677.3L1448.6 676.8L1448.9 682.9L1449.5 683.2L1450 685.4L1450.6 689.2L1451.2 688.7L1451.8 690.2L1452.4 684.3L1452.5 697.3L1453 692.1L1453.5 692.6L1454.1 688.5L1454.5 690.2L1454.7 690.1L1455.3 687.4L1455.9 693.9L1456.5 691.1L1457 689L1457.6 691.7L1458 686.9L1458.2 687.1L1458.8 690.1L1459.4 693.1L1459.9 683.1L1460.5 686.3L1461.1 686.3L1461.7 687.1L1462.3 687.1L1462.9 684.4L1463.4 686.8L1464 688.5L1464.6 684.5L1465.2 686.3L1465.8 688.5L1466.3 688.6L1466.9 682.2L1467.5 683.6L1468.1 679.4L1468.7 686.7L1469.3 686.7L1469.8 682.3L1470.4 678.6L1471 680.3L1471.6 680.5L1472.2 684.2L1472.5 684.8L1472.7 692.5L1473.3 697.1L1473.9 697.9L1474.5 695L1475.1 691.6L1475.7 692.2L1476.2 688.2L1476.8 694.7L1477.4 685.4L1477.5 693.2L1478 686.6L1478.6 692.2L1479.2 687.9L1479.7 688.3L1480.3 686.5L1480.9 684.9L1481.5 686.7L1482.1 685.7L1482.6 684.7L1483.2 689.7L1483.8 688.9L1484.4 692.9L1484.8 690L1485 685.2L1485.6 693.4L1486.1 698.8L1486.7 696.9L1487.3 690.3L1487.9 693.3L1488.5 696.7L1489 696L1489.6 696.2L1490 695.4L1490.2 691.5L1490.8 692.1L1491.4 695.2L1492 691.5L1492.5 693.3L1493.1 694L1493.7 695.6L1494.3 686.6L1494.9 693.5L1495.4 691.4L1496 691L1496.6 695L1497.2 692.4L1497.8 692.4L1498.4 693.2L1498.9 687.1L1499.5 692.4L1500.1 693.5L1500.7 690.4L1501.3 686.6L1501.8 688.5L1502.4 692.5L1503 693.1L1503.6 692.9L1504.2 691.6L1504.8 687.9L1505.3 686.1L1505.9 695L1506.5 687.9L1507.1 690.9L1507.7 685.3L1508.2 684.6L1508.8 689.7L1509.4 688.8L1510 690.4L1510.6 686.6L1511.2 692.7L1511.7 691.3L1512.3 690L1512.9 684.1L1513.5 680.5L1514.1 688L1514.7 692.2L1515.2 688.7L1515.8 691L1516.4 684.7L1517 686.2L1517.6 681.3L1518.1 678.4L1518.7 675.8L1519.3 677.1L1519.9 672.7L1520.5 676L1521.1 682.5L1521.5 677.4L1521.6 684.5L1522.2 698.1L1522.8 698L1523.4 704.4L1524 697.8L1524.5 699.3L1525.1 692.3L1525.7 695.4L1526.3 690.4L1526.7 692.5L1526.9 683.3L1527.5 690.2L1528 683.9L1528.6 682.9L1529.2 682.2L1529.8 679.9L1530.4 688.4L1530.9 683.3L1531.5 684.4L1532.1 685.1L1532.6 685.6L1532.7 689.3L1533.3 694.1L1533.9 693L1534.4 688L1535 695.7L1535.6 691.4L1536.2 693.9L1536.8 686.8L1537.3 694.7L1537.9 690.3L1538.5 689.4L1539.1 688.4L1539.7 681.3L1540 683.7L1540.3 691.6L1540.8 681.9L1541.4 692.2L1542 694.3L1542.6 693.3L1543.2 688.1L1543.8 687.1L1544.3 695.2L1544.9 686.8L1545.5 688.1L1546.1 683.7L1546.7 685.1L1547.2 679.1L1547.8 678.3L1548.4 683.2L1549 676.6L1549.6 682.5L1550.2 683.2L1550.7 683.9L1551.3 693.1L1551.5 692.3L1551.9 698.9L1552.5 703.2L1553.1 699.6L1553.6 697.5L1554.2 692.3L1554.8 690.5L1555.4 694.2L1556 696.9L1556.6 684.6L1557 687.1L1557.1 693.8L1557.7 695.5L1558.3 693.4L1558.9 690.6L1559.5 687.7L1560 688L1560.6 689.5L1561.2 691.5L1561.8 690.1L1562.4 691.4L1563 690.1L1563.5 690.4L1564.1 688.3L1564.7 695.6L1565.3 690.7L1565.9 690.4L1566.4 692.9L1567 689.8L1567.6 692.3L1568.2 690.9L1568.8 689.8L1569.4 689.7L1569.9 690.7L1570.5 685.4L1571.1 687.4L1571.7 684.9L1572.3 681.7L1572.9 681.6L1573.4 681.3L1574 677.6L1574.6 684.8L1575.2 693.6L1575.5 698.8L1575.8 693.9L1576.3 702.8L1576.9 701.7L1577.5 701L1578.1 697.9L1578.7 694.5L1579.3 695.9L1579.8 690.8L1580.4 686.3L1581 685.1L1581 692.1L1581.6 690L1582.2 689.4L1582.7 685.6L1583.3 682L1583.9 683.8L1584.5 690.5L1585.1 685.4L1585.7 683.7L1586.2 688.3L1586.8 681.7L1587.4 690.3L1588 685.3L1588.6 681.9L1589.1 693.1L1589.7 690.2L1590.3 687.6L1590.9 679.9L1591.5 696L1592.1 689.5L1592.5 691.7L1592.6 694.4L1593.2 698.4L1593.8 697L1594.4 694.2L1595 695.3L1595.5 685.1L1596.1 692L1596.4 688.6L1596.7 688L1597.3 685.8L1597.9 683.3L1598.5 685.2L1599 682.6L1599.6 675.3L1600.2 675.8L1600.8 678.5L1601.4 673.8L1602 678.7L1602.5 678.1L1603.1 688.4L1603.3 690.6L1603.7 698.4L1604.3 697L1604.9 700.3L1605.4 697.4L1606 696.5L1606.6 694.7L1607.2 694.2L1607.8 692.6L1608.3 692.8L1608.4 696.4L1608.9 695.2L1609.5 688.3L1610.1 687.2L1610.7 689.1L1611.3 694.9L1611.8 683.6L1612.4 685.7L1613 684.1L1613.6 680.3L1614.2 676.5L1614.8 663.7L1615.3 660.4L1615.9 670.3L1616.3 673.7L1616.5 676.2L1617.1 687L1617.7 705.7L1618.2 697.4L1618.8 694.7L1619.4 699.7L1620 698L1620.6 693.3L1621.2 694.6L1621.4 699.2L1621.7 698.1L1622.3 697.5L1622.9 698.5L1623.5 693.8L1624.1 694.9L1624.7 692.5L1625.2 689.8L1625.8 686.1L1626.4 691.3L1626.9 699L1627 688.7L1627.6 694.1L1628.1 689.9L1628.7 694.3L1629.3 691.4L1629.9 692.3L1630.5 691.6L1631.1 687.2L1631.2 693L1631.6 689.9L1632.2 689.2L1632.8 690.6L1633.4 695.9L1634 687.6L1634.5 697.4L1635.1 693.1L1635.7 689.8L1636.3 687L1636.9 685.7L1637.5 685.9L1638 686.6L1638.6 689.3L1639.2 683.9L1639.8 688.2L1640.4 683.6L1640.9 694L1641.5 689.9L1642.1 688.8L1642.3 687.2L1642.7 696.2L1643.3 686.8L1643.9 685.3L1644.4 685L1645 688.8L1645.6 682.3L1645.8 688.4L1646.2 682.8L1646.8 684.1L1647.3 681.9L1647.9 679.3L1648.5 675.5L1649.1 668.9L1649.7 665.9L1650.3 665.5L1650.8 667.3L1651.4 671.6L1652 680.3L1652.1 678L1652.6 698.2L1653.2 705.7L1653.8 703.8L1654.3 706.8L1654.9 698.8L1655.5 695.6L1656.1 697.2L1656.7 694.8L1657.2 689.2L1657.5 691.4L1657.8 690.5L1658.4 688L1659 693.7L1659.6 695.9L1660.2 692.9L1660.7 691.7L1661.3 699L1661.9 691.3L1662.5 694.3L1663.1 694.4L1663.6 695.5L1664.2 692.9L1664.8 688.7L1665.4 689.5L1666 687.9L1666.6 691L1667.1 684.1L1667.7 684.7L1668.3 688.1L1668.9 695.3L1669.5 685.9L1670 677.1L1670.6 686.2L1671.2 690L1671.8 682.4L1672.4 690.7L1673 687.6L1673.5 687.4L1674.1 695.5L1674.7 691.8L1675.3 690L1675.9 696.7L1676.1 695.4L1676.4 701.3L1677 700L1677.6 695.7L1678.2 703L1678.8 698.2L1679.4 692.3L1679.4 694.2L1679.9 689.3L1680.5 683.1L1681.1 679.2L1681.7 676.6L1682.3 669.9L1682.8 665.4L1683.4 670L1683.9 682.2L1684 681.5L1684.6 702.1L1685.2 703.4L1685.8 701.6L1686.3 698.3L1686.9 701.7L1687.5 688.2L1688.1 695.7L1688.7 691.3L1689.3 688.6L1689.8 685.5L1689.8 691.3L1690.4 690.1L1691 687L1691.6 685.7L1692.2 683.4L1692.7 685.2L1693.3 688.1L1693.9 694.8L1694.1 687.8L1694.5 703.8L1695.1 700L1695.7 700.7L1696.2 697.6L1696.8 695.7L1697.4 694.1L1698 698.6L1698.6 696.9L1699.1 703L1699.3 695.6L1699.7 697.4L1700.3 693.7L1700.9 688L1701.5 690.4L1702.1 685.8L1702.6 688.6L1703.2 685.2L1703.8 686.5L1704.4 692.4L1705 685.9L1705.5 684.5L1706.1 684.4L1706.7 687.2L1707.3 690.2L1707.9 687.8L1708.5 688.5L1709 691.3L1709.6 686.9L1710.2 695.8L1710.8 689.9L1711 689.1L1711.4 683.9L1711.9 689.1L1712.5 691.6L1713.1 686L1713.7 681L1714.3 687.2L1714.9 687.1L1715.4 687.8L1716 687.4L1716.6 683.8L1717.2 681.9L1717.8 686.7L1718.4 688.5L1718.9 682L1719.5 687.3L1720.1 687L1720.7 687.8L1721.3 687L1721.8 684.4L1722.4 684.1L1723 678.6L1723.6 676.7L1724.2 673.2L1724.8 675.2L1725.3 674.6L1725.9 674L1726.5 676.2L1727.1 678.6L1727.7 685.3L1727.8 685.6L1728.2 705.1L1728.8 704.6L1729.4 706.5L1730 694.8L1730.6 689.9L1731.2 683.5L1731.7 665L1732.3 667.3L1732.9 670.3L1733.1 672.4L1733.5 671.8L1734.1 682L1734.6 682.8L1735.2 680.9L1735.8 687.7L1736.4 686.1L1737 691.3L1737.6 695.9L1738.1 701.5L1738.7 705.5L1739.3 697.6L1739.9 701L1740.5 698.3L1741 695L1741.6 698.3L1742.2 682.6L1742.8 684.5L1742.8 686.9L1743.4 684.5L1744 679.9L1744.5 669.1L1745.1 665L1745.7 669.6L1746.3 672.9L1746.9 675L1747.5 680.2L1748 687.6L1748.6 679.9L1749.2 681.2L1749.8 679.6L1750.4 684.3L1750.9 687.9L1751.5 684.6L1752.1 681.7L1752.7 681.6L1753.3 689.2L1753.9 704.6L1754.4 715.8L1755 712.7L1755.5 709L1755.6 709.6L1756.2 711.9L1756.8 702.4L1757.3 701.9L1757.9 699.6L1758.5 690.3L1759.1 685.7L1759.4 670.7L1759.7 675.8L1760.3 677.5L1760.8 675.1L1761.4 684.1L1762 699.9L1762.6 709.9L1763.2 709.3L1763.7 702.6L1764.3 693.1L1764.9 681.1L1765.5 672.9L1766.1 668.3L1766.7 680.4L1766.8 682.8L1767.2 704.8L1767.8 708.3L1768.4 707.4L1769 712L1769.6 698.8L1770.2 695.2L1770.7 707.3L1771.3 704.3L1771.7 701.5L1771.9 701.8L1772.1 702.8L1772.5 701L1773.1 690.7L1773.6 682.2L1774.2 676L1774.8 681.2L1775 684.5L1775.4 686L1776 705.9L1776.6 693.4L1777.1 698.5L1777.7 690L1778.3 699.5L1778.9 690.9L1779.5 686.1L1780 688L1780.6 684L1780.9 689.9L1781.2 689L1781.8 689.8L1782.4 686.5L1783 686.7L1783.5 688.4L1784.1 689.4L1784.7 691.8L1784.8 691.3L1785.3 696.8L1785.9 694.3L1786.4 693.7L1787 693.7L1787.6 692.4L1788.2 684.6L1788.8 690.5L1789.4 686.3L1789.7 682.4L1789.9 683.8L1790.5 685.4L1791.1 681.6L1791.7 689.2L1792.3 688.4L1792.8 685.6L1793.4 685.2L1794 685L1794.6 678.9L1795.2 679.9L1795.8 686L1796.3 685.2L1796.9 688.1L1797.5 682.8L1798.1 687.3L1798.7 677.9L1799.2 683.7L1799.8 679L1800.4 683.1L1801 678.3L1801.4 679.9L1801.6 678.1L1802.2 694L1802.7 706.6L1803.3 705.2L1803.9 706.3L1804.5 695.2L1805.1 701.3L1805.7 701.6L1806.2 697.3L1806.8 698.5L1807.4 696.5L1807.8 696.7L1808 697.4L1808.6 696.7L1809.1 696.9L1809.7 683.4L1810.3 683.2L1810.9 686.3L1811.5 682.5L1812.1 682.7L1812.1 682.5L1812.6 683.2L1813.2 682.1L1813.8 684.7L1814.4 692.3L1815 694.3L1815.5 681.4L1816.1 684.1L1816.7 694.8L1817 686.3L1817.3 690L1817.9 688.9L1818.5 695.7L1819 684.5L1819.6 687L1820.2 683.4L1820.8 681.8L1821.4 680.6L1821.9 679L1822.5 684.4L1823.1 687.1L1823.3 691L1823.7 689.2L1824.3 693.3L1824.9 696.9L1825.4 689.1L1826 690.5L1826.6 701.5L1827.2 698.6L1827.8 693.1L1828.3 696.7L1828.9 688L1829.3 691.2L1829.5 689.9L1830.1 688.6L1830.7 687.2L1831.3 692.7L1831.8 689.8L1832.4 691.2L1833 689.6L1833.6 690.6L1834.2 687.9L1834.8 690.9L1835.3 694.2L1835.9 692.1L1836.5 696.1L1837.1 691L1837.7 686.7L1838.2 693.2L1838.8 695.8L1839.4 689.3L1840 689.7L1840.6 687.3L1841.2 688.8L1841.7 686.4L1842.3 690.1L1842.9 681.9L1843.5 688.4L1844.1 686.9L1844.6 687.8L1844.9 692.6L1845.2 693.2L1845.8 700.2L1846.4 704.5L1847 706.3L1847.6 704.5L1848.1 708.5L1848.7 703.5L1849.2 699L1849.3 697.8L1849.9 687.5L1850.5 688.6L1851 686.6L1851.6 680.3L1852.2 670.5L1852.8 671.6L1853.4 673L1853.5 674.4L1854 687.4L1854.5 689.2L1855.1 694.5L1855.7 701.6L1856.3 705.2L1856.9 702.9L1857.4 708.1L1858 700.4L1858.6 697.1L1858.6 698.6L1859.2 698.7L1859.8 687.2L1860.4 685.7L1860.9 679.6L1861.5 675L1862.1 672.5L1862.7 674.9L1862.9 677.3L1863.3 683.7L1863.9 682.5L1864.4 699L1865 695.5L1865.6 703.4L1866.2 703.5L1866.8 708.5L1867.3 701.1L1867.9 702.7L1868.5 700L1869.1 696.9L1869.3 691.7L1869.7 694.7L1870.3 689.8L1870.8 681.6L1871.4 689.9L1872 691.1L1872.6 692L1873.2 685.4L1873.7 687.4L1874.3 689.8L1874.9 689.5L1875.5 685.9L1876.1 688.8L1876.7 678L1877.2 685.5L1877.8 685L1878.4 684.4L1879 691.1L1879.6 691.2L1880.1 689L1880.5 689L1880.7 693.9L1881.3 685.2L1881.9 690.3L1882.5 688.4L1883.1 689.6L1883.6 695L1884.2 686.7L1884.8 694.9L1885.4 702L1886 703.8L1886.5 696.1L1887.1 693.1L1887.7 695.5L1888.3 689.4L1888.9 695.3L1889.5 691.3L1890 689.4L1890.6 694.2L1891.2 689L1891.8 688L1892.4 684.9L1893 684.4L1893.5 686.3L1894.1 694.8L1894.7 692.6L1895.1 691.7L1895.3 694.4L1895.9 688.7L1896.4 684.3L1897 679.8L1897.6 682L1898.2 680.1L1898.8 680.9L1899.4 681.2L1899.9 683.5L1900.5 682.6L1901.1 685.2L1901.7 682.1L1902.3 679.2L1902.8 679.5L1903.4 679.3L1904 682.5L1904.6 677.9L1905.2 684.8L1905.8 681.5L1906.3 683.6L1906.9 688.6L1907.5 689.6L1908.1 685.8L1908.7 689.3L1909.2 689.4L1909.8 680.8L1910.4 689.8L1911 691.6L1911.6 689.6L1912.2 693.6L1912.7 691.4L1913.3 688.5L1913.9 692.1L1914.5 689L1915.1 689.2L1915.7 688L1916.2 694.1L1916.8 681.6L1917.4 686.5L1918 682.9L1918.6 688.1L1918.6 688.7L1919.1 688L1919.7 693L1920.3 691.6L1920.9 696.5L1921.5 695.9L1922.1 690.2L1922.6 687.4L1923.2 685.4L1923.8 687.7L1924.4 686L1925 689.2L1925.5 681.9L1926.1 682.3L1926.7 682L1926.9 691.2L1927.3 682.9L1927.9 688.3L1928.5 684.2L1929 684.4L1929.6 681.8L1930.2 686.6L1930.8 687.2L1931.4 689.7L1931.9 690.5L1932.5 684.9L1933.1 690.4L1933.7 685.5L1934.3 689.6L1934.9 690.7L1935.4 685.8L1936 686.2L1936.6 692.6L1937.2 689.9L1937.8 689.5L1938.3 687.4L1938.9 692.3L1939.5 691.4L1940.1 690.6L1940.6 688.2L1940.7 687.2L1941.3 692.6L1941.8 684.6L1942.4 688.3L1943 691.9L1943.6 694.1L1944.2 690.3L1944.5 696.5L1944.8 687.7L1945.3 685.9L1945.9 683.1L1946.5 685.5L1947.1 692.9L1947.7 688.2L1948.2 685.1L1948.8 695.3L1949.4 691.3L1950 687L1950.6 689.6L1951.2 697.2L1951.7 692.8L1952.3 691.5L1952.9 684.4L1953.5 691.9L1954.1 691.5L1954.6 684.8L1955.2 682.6L1955.6 683.9L1955.8 683.5L1956.4 688.1L1957 696.3L1957.6 693.5L1958.1 694.1L1958.7 690.9L1959.3 691.4L1959.9 696.9L1960.5 691.9L1960.5 691.6L1961 696L1961.6 692.5L1962.2 695.3L1962.8 695.1L1963.4 695.8L1964 691.8L1964.5 683.6L1965.1 691.2L1965.7 694.4L1966.3 689.7L1966.9 689.5L1967.4 685.4L1968 686.5L1968.3 677.5L1968.6 684.8L1969.2 684.2L1969.8 695.4L1970.4 695.2L1970.9 687.9L1971.5 700L1972.1 692.7L1972.7 698.1L1973.3 688L1973.8 698.3L1974.4 694.5L1975 693.8L1975.6 698.4L1976.2 683.5L1976.8 691.5L1977.3 684.2L1977.9 691L1978.1 693.1L1978.5 687L1979.1 687L1979.7 677.7L1980.3 691.5L1980.8 693.7L1981.4 691.3L1982 688.6L1982.6 688.4L1983.2 693.7L1983.7 693.1L1984.3 690.7L1984.9 689.4L1985.5 695.6L1986.1 693.3L1986.7 703.2L1987.2 696.9L1987.8 691.7L1988.4 692.6L1989 692.4L1989.6 685.4L1990.1 691L1990.7 692.6L1991.3 686.4L1991.9 684.6L1992.5 687.6L1993.1 678.6L1993.6 674.5L1994.2 680.6L1994.8 678.6L1995.4 670.8L1996 665.6L1996.5 670.5L1996.6 671.4L1997.1 684.1L1997.7 701.4L1998.3 716.9L1998.9 724.2L1999.5 716.3L2000 705L2000.6 707.4L2001.2 696.4L2001.5 696.4L2001.8 685.1L2002.4 694.4L2002.9 689.2L2003.5 685.4L2004.1 689.2L2004.7 683.8L2005.3 679.3L2005.9 685.4L2006.4 679.4L2007 678.9L2007 682.6L2007.6 684.7L2008.2 691.1L2008.8 683.1L2009.4 688.5L2009.9 681.2L2010.5 677.8L2011.1 681.9L2011.3 687L2011.7 682.5L2012.3 686.8L2012.8 689.3L2013.4 687.9L2013.8 686.9L2014 690.4L2014.6 689.3L2015.2 685.5L2015.8 691.9L2016.3 691.7L2016.9 696.9L2017.5 690L2018.1 693L2018.7 690.1L2019.2 695.6L2019.8 691.4L2020.4 699.5L2021 691.9L2021.6 693L2022.2 693L2022.7 683.1L2023 694.2L2023.3 689.3L2023.9 689L2024.5 686.6L2025.1 684.7L2025.6 693.5L2026.2 689.6L2026.8 689.8L2027.4 684.5L2028 683.3L2028.6 687.6L2029.1 687.8L2029.7 689.3L2030.3 684.5L2030.9 680L2031.5 684.4L2032 688.2L2032.6 688.9L2033.2 688.8L2033.8 692L2034.4 678.8L2035 680.7L2035.5 676.5L2036.1 672.5L2036.3 672.9L2036.7 673.8L2037.3 684.4L2037.9 691.5L2038.5 702.1L2039 706.6L2039.6 703.3L2040.2 699.5L2040.8 695.1L2041.4 695.8L2041.9 696.2L2042.5 696.2L2043.1 693.7L2043.7 696.5L2044.3 696.1L2044.9 693.4L2045.4 693.7L2046 694.4L2046.6 699.1L2047.2 701.9L2047.8 696.2L2048.3 697L2048.9 698.7L2049.5 696.6L2050.1 694.2L2050.7 697.4L2051.3 694.7L2051.8 698.7L2052.3 695.2L2052.4 696.6L2053 697.6L2053.6 689.9L2054.2 700.2L2054.7 689.5L2055.3 685.7L2055.9 686.2L2056.5 692.3L2057.1 685.6L2057.7 692.5L2058.2 689L2058.8 680.9L2059.4 685.4L2060 682L2060.6 690L2061.1 693.4L2061.7 688.8L2062.3 681.5L2062.9 681.9L2063.5 679.5L2064.1 681.7L2064.6 681.2L2064.6 682.1L2065.2 675.5L2065.8 687.8L2066.4 684.1L2067 692L2067.6 687.1L2068.1 696.4L2068.7 695.1L2069.3 692.4L2069.5 694.8L2069.9 694.4L2070.5 692.4L2071 692.7L2071.6 684.6L2072.2 685.5L2072.8 694L2073.4 682.9L2074 689.1L2074.5 689.9L2075.1 692.3L2075.7 692.4L2076.3 698L2076.9 707L2077.4 706.2L2078 707L2078.6 687.3L2079.2 685.7L2079.8 677.1L2080 672.6L2080.4 672.5L2080.9 675.3L2081.5 686L2082.1 689.1L2082.7 692.3L2083.3 687.4L2083.8 691.4L2084.4 698.2L2085 688.1L2085.6 695L2086.2 693.7L2086.8 706.5L2087.3 707.3L2087.9 703.8L2088.5 702.9L2089.1 693.7L2089.7 683.7L2089.8 685.3L2090.2 694.5L2090.8 680.7L2091.4 683.8L2092 682.4L2092.6 685.3L2093.2 684.9L2093.7 685.5L2094.3 685.6L2094.9 689.5L2095.5 682.1L2096.1 685L2096.7 684.4L2097.2 684.1L2097.8 684.4L2098.4 680.2L2099 681.1L2099.6 672.6L2100.1 673.2L2100.1 675.7L2100.7 685.1L2101.3 681.4L2101.9 695.2L2102.5 702.9L2103 709.9L2103.1 711L2103.6 712.5L2104.2 713.2L2104.8 706.7L2105.4 692.4L2106 692.2L2106 689L2106.5 694L2107.1 689.4L2107.7 670.4L2108.3 659.1L2108.9 658.4L2108.9 658.4L2109.5 659.1L2110 662.9L2110.6 681.3L2111.2 693.6L2111.8 696L2112.4 705.8L2112.9 707L2113.5 708.3L2114.1 713.2" stroke="#00f" stroke-width="1.5" stroke-opacity="0.9"/>
<path d="M1296.0 604.3V620.3M1359.9 604.3V620.3M1383.8 604.3V620.3M1385.2 604.3V620.3M1391.0 604.3V620.3M1413.9 604.3V620.3M1449.2 604.3V620.3M1453.9 604.3V620.3M1455.4 604.3V620.3M1472.8 604.3V620.3M1485.6 604.3V620.3M1521.7 604.3V620.3M1533.1 604.3V620.3M1537.4 604.3V620.3M1552.1 604.3V620.3M1576.0 604.3V620.3M1589.2 604.3V620.3M1593.7 604.3V620.3M1602.0 604.3V620.3M1603.5 604.3V620.3M1617.0 604.3V620.3M1627.7 604.3V620.3M1631.5 604.3V620.3M1641.7 604.3V620.3M1643.1 604.3V620.3M1652.6 604.3V620.3M1653.9 604.3V620.3M1675.9 604.3V620.3M1684.0 604.3V620.3M1685.4 604.3V620.3M1695.8 604.3V620.3M1707.2 604.3V620.3M1727.2 604.3V620.3M1728.5 604.3V620.3M1737.8 604.3V620.3M1739.2 604.3V620.3M1755.8 604.3V620.3M1766.5 604.3V620.3M1767.8 604.3V620.3M1775.9 604.3V620.3M1785.2 604.3V620.3M1793.9 604.3V620.3M1795.3 604.3V620.3M1801.8 604.3V620.3M1812.0 604.3V620.3M1813.3 604.3V620.3M1823.8 604.3V620.3M1827.8 604.3V620.3M1829.4 604.3V620.3M1831.0 604.3V620.3M1832.6 604.3V620.3M1835.3 604.3V620.3M1837.1 604.3V620.3M1838.9 604.3V620.3M1840.7 604.3V620.3M1845.3 604.3V620.3M1847.1 604.3V620.3M1848.9 604.3V620.3M1850.7 604.3V620.3M1853.3 604.3V620.3M1855.1 604.3V620.3M1856.8 604.3V620.3M1858.6 604.3V620.3M1863.3 604.3V620.3M1869.3 604.3V620.3M1870.9 604.3V620.3M1872.6 604.3V620.3M1877.3 604.3V620.3M1879.0 604.3V620.3M1880.6 604.3V620.3M1882.3 604.3V620.3M1883.9 604.3V620.3M1889.9 604.3V620.3M1897.9 604.3V620.3M1901.3 604.3V620.3M1902.9 604.3V620.3M1904.6 604.3V620.3M1909.6 604.3V620.3M1917.2 604.3V620.3M1918.8 604.3V620.3M1920.3 604.3V620.3M1921.9 604.3V620.3M1923.5 604.3V620.3M1925.0 604.3V620.3M1926.6 604.3V620.3M1931.3 604.3V620.3M1932.9 604.3V620.3M1934.6 604.3V620.3M1939.2 604.3V620.3M1941.2 604.3V620.3M1943.2 604.3V620.3M1949.9 604.3V620.3M1955.2 604.3V620.3M1956.9 604.3V620.3M1958.5 604.3V620.3M1961.9 604.3V620.3M1967.2 604.3V620.3M1968.9 604.3V620.3M1970.7 604.3V620.3M1972.5 604.3V620.3M1988.8 604.3V620.3M1995.9 604.3V620.3M1997.2 604.3V620.3M1998.5 604.3V620.3M2005.2 604.3V620.3M2006.9 604.3V620.3M2008.7 604.3V620.3M2010.4 604.3V620.3M2012.2 604.3V620.3M2013.9 604.3V620.3M2015.7 604.3V620.3M2017.4 604.3V620.3M2019.1 604.3V620.3M2023.8 604.3V620.3M2029.1 604.3V620.3M2030.8 604.3V620.3M2032.4 604.3V620.3M2034.0 604.3V620.3M2035.6 604.3V620.3M2037.2 604.3V620.3M2038.9 604.3V620.3M2040.5 604.3V620.3M2043.1 604.3V620.3M2044.7 604.3V620.3M2046.4 604.3V620.3M2048.0 604.3V620.3M2049.6 604.3V620.3M2051.2 604.3V620.3M2052.8 604.3V620.3M2054.5 604.3V620.3M2063.1 604.3V620.3M2064.7 604.3V620.3M2066.4 604.3V620.3M2068.4 604.3V620.3M2070.2 604.3V620.3M2072.0 604.3V620.3M2073.8 604.3V620.3M2075.5 604.3V620.3M2077.3 604.3V620.3M2079.1 604.3V620.3M2081.1 604.3V620.3M2082.8 604.3V620.3M2084.4 604.3V620.3M2089.8 604.3V620.3M2095.1 604.3V620.3M2096.7 604.3V620.3M2098.2 604.3V620.3M2099.8 604.3V620.3M2101.3 604.3V620.3M2102.9 604.3V620.3M2104.4 604.3V620.3M2109.1 604.3V620.3M2110.6 604.3V620.3M2112.2 604.3V620.3M2113.7 604.3V620.3" stroke="#000" stroke-width="1" stroke-opacity="0.6"/>
</g>
<path d="M1278.8 730.5H2116.2" stroke="#000" stroke-width="3.4" fill="none"/>
<path d="M1338.5 730.5V745.2M1435.5 730.5V738.7M1532.5 730.5V745.2M1629.5 730.5V738.7M1726.5 730.5V745.2M1823.5 730.5V738.7M1920.5 730.5V745.2M2017.5 730.5V738.7M2114.5 730.5V745.2" stroke="#000" stroke-width="3.4" fill="none"/>
<rect x="379.3" y="29.9" width="1788.0000000000002" height="1441.8" fill="none" stroke="#000" stroke-width="7.2"/>
<path d="M365.3 1450.7H379.3M350.3 1347.8H379.3M365.3 1244.9H379.3M350.3 1142.0H379.3M365.3 1039.1H379.3M350.3 936.2H379.3M365.3 833.3H379.3M350.3 730.4H379.3M365.3 627.5H379.3M350.3 524.6H379.3M365.3 421.7H379.3M350.3 318.8H379.3M365.3 215.9H379.3M350.3 113.0H379.3M450.2 1471.7V1485.3M612.2 1471.7V1499.8M774.2 1471.7V1485.3M936.3 1471.7V1499.8M1098.3 1471.7V1485.3M1260.3 1471.7V1499.8M1422.4 1471.7V1485.3M1584.4 1471.7V1499.8M1746.5 1471.7V1485.3M1908.5 1471.7V1499.8M2070.5 1471.7V1485.3" stroke="#000" stroke-width="7.2" fill="none"/>
<g style="font-family:'Liberation Sans',Arial,Helvetica,sans-serif" fill="#000">
<text transform="translate(331.0 131.0) scale(0.97 1)" font-size="63" text-anchor="end" letter-spacing="-0.6">12,500</text>
<text transform="translate(331.0 336.8) scale(0.97 1)" font-size="63" text-anchor="end" letter-spacing="-0.6">10,000</text>
<text transform="translate(331.0 542.6) scale(0.97 1)" font-size="63" text-anchor="end">7500</text>
<text transform="translate(331.0 748.4) scale(0.97 1)" font-size="63" text-anchor="end">5000</text>
<text transform="translate(331.0 954.2) scale(0.97 1)" font-size="63" text-anchor="end">2500</text>
<text transform="translate(331.0 1160.0) scale(0.97 1)" font-size="63" text-anchor="end">0</text>
<text transform="translate(331.0 1365.8) scale(0.97 1)" font-size="63" text-anchor="end">−2500</text>
<text transform="translate(613.1 1567.6) scale(0.97 1)" font-size="63" text-anchor="middle">5</text>
<text transform="translate(937.2 1567.6) scale(0.97 1)" font-size="63" text-anchor="middle">10</text>
<text transform="translate(1261.2 1567.6) scale(0.97 1)" font-size="63" text-anchor="middle">15</text>
<text transform="translate(1585.3 1567.6) scale(0.97 1)" font-size="63" text-anchor="middle">20</text>
<text transform="translate(1909.4 1567.6) scale(0.97 1)" font-size="63" text-anchor="middle">25</text>
<text transform="translate(1339.0 790.0) scale(0.97 1)" font-size="48.5" text-anchor="middle">2</text>
<text transform="translate(1533.0 790.0) scale(0.97 1)" font-size="48.5" text-anchor="middle">4</text>
<text transform="translate(1727.0 790.0) scale(0.97 1)" font-size="48.5" text-anchor="middle">6</text>
<text transform="translate(1921.0 790.0) scale(0.97 1)" font-size="48.5" text-anchor="middle">8</text>
<text transform="translate(2115.0 790.0) scale(0.97 1)" font-size="48.5" text-anchor="middle">10</text>
<text transform="translate(1274.0 1690.4) scale(1.014 1)" font-size="75.5" text-anchor="middle">2θ (°)</text>
<text transform="translate(77.1 700.8) rotate(-90) scale(0.984 1)" font-size="76.8" text-anchor="middle">Intensity (a.u.)</text>
</g>
</svg>
</body></html>
